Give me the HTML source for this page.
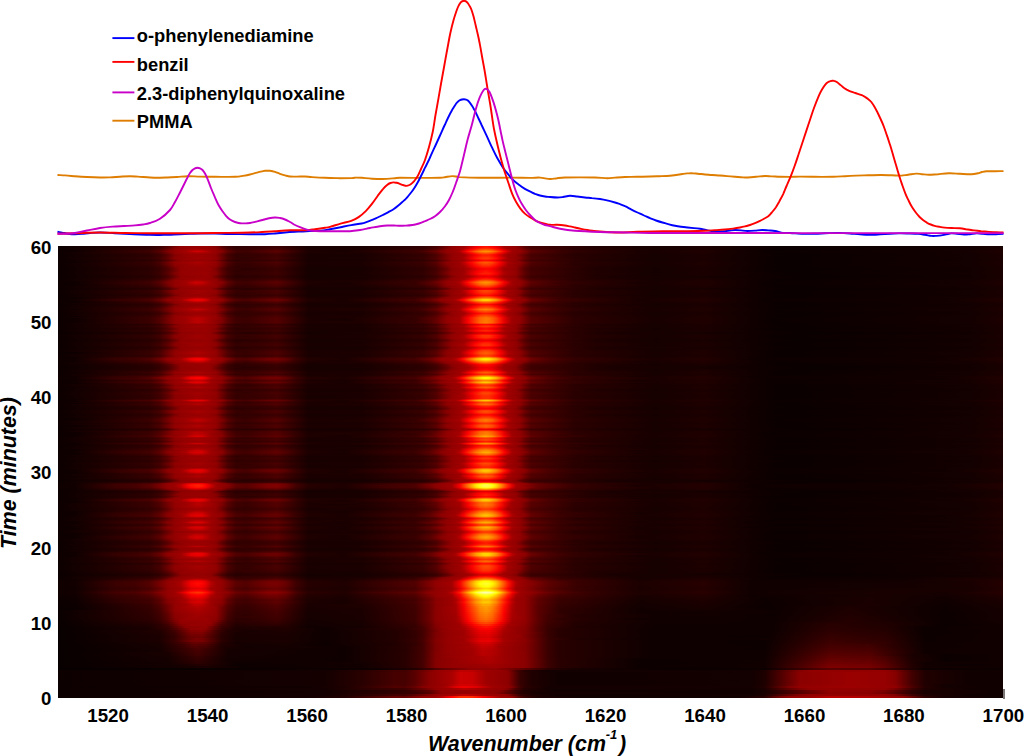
<!DOCTYPE html>
<html><head><meta charset="utf-8"><title>chart</title>
<style>
html,body{margin:0;padding:0;background:#fff;overflow:hidden}
#pg{width:1024px;height:756px;position:relative;overflow:hidden;font-family:"Liberation Sans",sans-serif;font-weight:bold;color:#000}
#hm{position:absolute;left:58px;top:246px;width:945px;height:452px;background:#1a0000;overflow:hidden}
#hi{position:absolute;left:0;top:-4px;width:945px;height:460px}
#hm i{position:absolute;left:0;width:945px;display:block}
.t{position:absolute;font-size:18.7px;line-height:18px;white-space:nowrap}
.yt{width:40px;text-align:right;left:11.5px}
.xt{width:60px;text-align:center}
.lg{position:absolute;left:136.8px;font-size:18.3px;line-height:20px;white-space:nowrap}
.ax{position:absolute;font-style:italic;font-size:21.4px;line-height:24px;white-space:nowrap}
svg{position:absolute;left:0;top:0}
</style></head><body><div id="pg">
<div id="hm"><div id="hi">
<i style="top:0px;height:5px;background:linear-gradient(90deg,#0c0000 0.00%,#2c0000 9.74%,#3a0000 10.79%,#550000 11.64%,#930000 13.02%,#990000 15.66%,#860000 16.72%,#5b0000 17.35%,#3e0000 17.99%,#2f0000 18.84%,#330000 21.16%,#3c0000 23.17%,#170000 26.46%,#180000 32.17%,#300000 38.62%,#450000 40.00%,#720000 41.16%,#8e0000 41.69%,#9e0000 42.96%,#ef0000 44.23%,#ff0500 44.66%,#ff1400 45.29%,#ff0300 45.93%,#cc0000 46.77%,#a70000 47.20%,#920000 48.47%,#590000 49.42%,#430000 50.05%,#200000 56.83%,#150000 63.17%,#1b0000 68.36%,#0a0000 76.40%,#120000 96.51%,#1a0000 100.00%)"></i>
<i style="top:5px;height:1px;background:linear-gradient(90deg,#0c0000 0.00%,#2d0000 9.74%,#3b0000 10.79%,#570000 11.64%,#800000 12.38%,#940000 13.02%,#990000 15.66%,#890000 16.72%,#5d0000 17.35%,#400000 17.99%,#300000 18.84%,#340000 21.16%,#3d0000 23.17%,#170000 26.46%,#180000 32.17%,#310000 38.62%,#470000 40.00%,#750000 41.16%,#900000 41.69%,#9f0000 42.96%,#f50000 44.23%,#ff1a00 45.29%,#ff0900 45.93%,#f10000 46.35%,#aa0000 47.20%,#970000 48.04%,#930000 48.47%,#5b0000 49.42%,#450000 50.05%,#200000 56.83%,#150000 63.17%,#1b0000 68.36%,#0a0000 77.46%,#120000 96.51%,#1a0000 100.00%)"></i>
<i style="top:6px;height:1px;background:linear-gradient(90deg,#0c0000 0.00%,#300000 9.74%,#400000 10.79%,#5f0000 11.64%,#890000 12.38%,#9e0000 14.50%,#8e0000 16.72%,#450000 17.99%,#330000 18.84%,#370000 21.16%,#430000 23.17%,#180000 26.46%,#1a0000 32.17%,#270000 35.66%,#340000 38.62%,#4d0000 40.00%,#930000 41.69%,#a60000 42.96%,#e80000 43.81%,#ff0900 44.23%,#ff2c00 44.97%,#ff2b00 45.61%,#ff0400 46.35%,#b80000 47.20%,#9e0000 47.62%,#940000 48.47%,#840000 48.89%,#620000 49.42%,#490000 50.05%,#280000 54.71%,#160000 63.17%,#1c0000 68.36%,#0a0000 76.40%,#130000 96.51%,#1b0000 100.00%)"></i>
<i style="top:7px;height:1px;background:linear-gradient(90deg,#0d0000 0.00%,#1c0000 3.92%,#350000 9.74%,#490000 10.79%,#920000 12.38%,#a90000 14.81%,#930000 16.72%,#4f0000 17.99%,#390000 18.84%,#350000 19.89%,#4c0000 23.17%,#1a0000 26.46%,#1b0000 32.17%,#2b0000 35.66%,#3a0000 38.62%,#570000 40.00%,#8b0000 41.16%,#9e0000 42.54%,#ff0500 43.81%,#ff4300 44.66%,#ff5500 45.29%,#ff4000 45.93%,#fc0000 46.77%,#aa0000 47.62%,#8e0000 48.89%,#510000 50.05%,#2a0000 54.71%,#170000 63.17%,#1d0000 68.36%,#0a0000 76.40%,#140000 96.51%,#1c0000 100.00%)"></i>
<i style="top:8px;height:1px;background:linear-gradient(90deg,#0d0000 0.00%,#0f0000 1.80%,#3a0000 9.74%,#510000 10.79%,#940000 12.38%,#9f0000 13.54%,#bb0000 14.50%,#b60000 15.24%,#9b0000 16.19%,#950000 16.72%,#800000 17.35%,#580000 17.99%,#3f0000 18.84%,#3a0000 19.89%,#550000 23.17%,#1c0000 26.46%,#170000 30.37%,#2f0000 35.66%,#3f0000 38.62%,#610000 40.00%,#920000 41.16%,#a60000 42.54%,#fc0000 43.39%,#ff6500 44.66%,#ff7900 45.29%,#ff6200 45.93%,#ff1800 46.77%,#e80000 47.20%,#9e0000 48.04%,#930000 48.89%,#580000 50.05%,#2c0000 54.71%,#180000 63.17%,#1f0000 68.36%,#0b0000 75.56%,#140000 96.51%,#1d0000 100.00%)"></i>
<i style="top:9px;height:1px;background:linear-gradient(90deg,#0e0000 0.00%,#0f0000 1.80%,#3f0000 9.74%,#580000 10.79%,#820000 11.64%,#a50000 13.54%,#cd0000 14.50%,#c80000 15.24%,#9d0000 16.19%,#890000 17.35%,#600000 17.99%,#440000 18.84%,#3e0000 19.89%,#5c0000 23.17%,#1e0000 26.46%,#180000 30.37%,#330000 35.66%,#380000 37.78%,#690000 40.00%,#880000 40.63%,#9d0000 42.12%,#b10000 42.54%,#e30000 42.96%,#ff1100 43.39%,#ff6200 44.23%,#ff9100 44.97%,#ff9000 45.61%,#ff5b00 46.35%,#fa0000 47.20%,#a10000 48.04%,#940000 48.89%,#820000 49.42%,#5e0000 50.05%,#380000 53.12%,#170000 61.59%,#200000 68.36%,#0c0000 74.81%,#110000 93.86%,#1e0000 100.00%)"></i>
<i style="top:10px;height:1px;background:linear-gradient(90deg,#0d0000 0.00%,#1e0000 3.92%,#3a0000 9.74%,#500000 10.79%,#940000 12.38%,#9e0000 13.54%,#b80000 14.81%,#950000 16.72%,#7e0000 17.35%,#570000 17.99%,#3e0000 18.84%,#390000 19.89%,#530000 23.17%,#1c0000 26.46%,#1d0000 32.17%,#2f0000 35.66%,#3e0000 38.62%,#5f0000 40.00%,#920000 41.16%,#a30000 42.54%,#f80000 43.39%,#ff6000 44.66%,#ff7300 45.29%,#ff5c00 45.93%,#ff1300 46.77%,#e50000 47.20%,#b90000 47.62%,#9d0000 48.04%,#930000 48.89%,#570000 50.05%,#2c0000 54.71%,#180000 63.17%,#1e0000 68.36%,#0b0000 76.40%,#140000 96.51%,#1d0000 100.00%)"></i>
<i style="top:11px;height:1px;background:linear-gradient(90deg,#0d0000 0.00%,#1c0000 3.92%,#340000 9.74%,#470000 10.79%,#910000 12.38%,#a60000 14.81%,#930000 16.72%,#4e0000 17.99%,#380000 18.84%,#340000 19.89%,#4a0000 23.17%,#1a0000 26.46%,#1b0000 32.17%,#2b0000 35.66%,#390000 38.62%,#560000 40.00%,#8a0000 41.16%,#9e0000 42.54%,#b80000 42.96%,#ff0100 43.81%,#ff3e00 44.66%,#ff5000 45.29%,#ff3b00 45.93%,#f80000 46.77%,#a70000 47.62%,#8d0000 48.89%,#500000 50.05%,#2a0000 54.71%,#170000 63.17%,#1d0000 68.36%,#0a0000 76.40%,#130000 96.51%,#1c0000 100.00%)"></i>
<i style="top:12px;height:1px;background:linear-gradient(90deg,#0c0000 0.00%,#2f0000 9.74%,#3f0000 10.79%,#5e0000 11.64%,#880000 12.38%,#9c0000 14.07%,#960000 16.19%,#8d0000 16.72%,#440000 17.99%,#330000 18.84%,#370000 21.16%,#420000 23.17%,#180000 26.46%,#190000 32.17%,#330000 38.62%,#4c0000 40.00%,#930000 41.69%,#a40000 42.96%,#e50000 43.81%,#ff0500 44.23%,#ff2800 44.97%,#ff2700 45.61%,#ff0100 46.35%,#b50000 47.20%,#9e0000 47.62%,#940000 48.47%,#490000 50.05%,#280000 54.71%,#160000 63.17%,#1c0000 68.36%,#0a0000 76.40%,#130000 96.51%,#1b0000 100.00%)"></i>
<i style="top:13px;height:1px;background:linear-gradient(90deg,#0c0000 0.00%,#2e0000 9.74%,#3d0000 10.79%,#5b0000 11.64%,#840000 12.38%,#980000 13.54%,#9a0000 15.66%,#8b0000 16.72%,#420000 17.99%,#310000 18.84%,#350000 21.16%,#400000 23.17%,#180000 26.46%,#190000 32.17%,#320000 38.62%,#4a0000 40.00%,#920000 41.69%,#a00000 42.96%,#fd0000 44.23%,#ff2000 44.97%,#ff1f00 45.61%,#f90000 46.35%,#af0000 47.20%,#9d0000 47.62%,#930000 48.47%,#5e0000 49.42%,#470000 50.05%,#270000 54.71%,#160000 63.17%,#1b0000 68.36%,#0a0000 77.46%,#130000 96.51%,#1a0000 100.00%)"></i>
<i style="top:14px;height:1px;background:linear-gradient(90deg,#0c0000 0.00%,#2f0000 9.74%,#3f0000 10.79%,#5e0000 11.64%,#880000 12.38%,#9c0000 14.07%,#960000 16.19%,#8e0000 16.72%,#450000 17.99%,#330000 18.84%,#370000 21.16%,#420000 23.17%,#180000 26.46%,#190000 32.17%,#340000 38.62%,#4c0000 40.00%,#930000 41.69%,#a50000 42.96%,#e60000 43.81%,#ff0700 44.23%,#ff2900 44.97%,#ff2900 45.61%,#ff0200 46.35%,#b60000 47.20%,#9e0000 47.62%,#940000 48.47%,#490000 50.05%,#280000 54.71%,#160000 63.17%,#1c0000 68.36%,#0a0000 76.40%,#130000 96.51%,#1b0000 100.00%)"></i>
<i style="top:15px;height:1px;background:linear-gradient(90deg,#0c0000 0.00%,#310000 9.74%,#420000 10.79%,#620000 11.64%,#8b0000 12.38%,#9f0000 14.81%,#900000 16.72%,#470000 17.99%,#340000 18.84%,#300000 19.89%,#440000 23.17%,#190000 26.46%,#1a0000 32.17%,#350000 38.62%,#4f0000 40.00%,#930000 41.69%,#9c0000 42.54%,#aa0000 42.96%,#ee0000 43.81%,#ff0f00 44.23%,#ff3300 44.97%,#ff3300 45.61%,#ff0a00 46.35%,#e60000 46.77%,#9f0000 47.62%,#880000 48.89%,#640000 49.42%,#4b0000 50.05%,#290000 54.71%,#160000 63.17%,#1c0000 68.36%,#0a0000 76.40%,#130000 96.51%,#1b0000 100.00%)"></i>
<i style="top:16px;height:1px;background:linear-gradient(90deg,#0d0000 0.00%,#320000 9.74%,#430000 10.79%,#640000 11.64%,#8d0000 12.38%,#a00000 14.81%,#920000 16.72%,#490000 17.99%,#350000 18.84%,#310000 19.89%,#460000 23.17%,#190000 26.46%,#1a0000 32.17%,#360000 38.62%,#510000 40.00%,#940000 41.69%,#9c0000 42.54%,#ad0000 42.96%,#f30000 43.81%,#ff2d00 44.66%,#ff3e00 45.29%,#ff2b00 45.93%,#ff1000 46.35%,#eb0000 46.77%,#a00000 47.62%,#890000 48.89%,#660000 49.42%,#4c0000 50.05%,#290000 54.71%,#160000 63.17%,#1c0000 68.36%,#0a0000 76.40%,#130000 96.51%,#1b0000 100.00%)"></i>
<i style="top:17px;height:1px;background:linear-gradient(90deg,#0c0000 0.00%,#2f0000 9.74%,#3e0000 10.79%,#5c0000 11.64%,#860000 12.38%,#990000 13.54%,#960000 16.19%,#8c0000 16.72%,#430000 17.99%,#320000 18.84%,#360000 21.16%,#400000 23.17%,#180000 26.46%,#190000 32.17%,#260000 35.66%,#330000 38.62%,#4b0000 40.00%,#930000 41.69%,#a20000 42.96%,#ff0100 44.23%,#ff2300 44.97%,#ff2300 45.61%,#fb0000 46.35%,#b10000 47.20%,#9e0000 47.62%,#930000 48.47%,#5f0000 49.42%,#470000 50.05%,#210000 56.83%,#160000 63.17%,#1c0000 68.36%,#0a0000 76.40%,#130000 96.51%,#1a0000 100.00%)"></i>
<i style="top:18px;height:1px;background:linear-gradient(90deg,#0c0000 0.00%,#2b0000 9.74%,#390000 10.79%,#540000 11.64%,#930000 13.02%,#990000 15.66%,#840000 16.72%,#5a0000 17.35%,#3d0000 17.99%,#2e0000 18.84%,#320000 21.16%,#3b0000 23.17%,#170000 26.46%,#180000 32.17%,#2f0000 38.62%,#440000 40.00%,#700000 41.16%,#8d0000 41.69%,#9e0000 42.96%,#d00000 43.81%,#ff0200 44.66%,#ff1000 45.29%,#ff0000 45.93%,#c90000 46.77%,#a50000 47.20%,#920000 48.47%,#580000 49.42%,#430000 50.05%,#200000 56.83%,#150000 63.17%,#1b0000 68.36%,#0a0000 76.40%,#120000 96.51%,#1a0000 100.00%)"></i>
<i style="top:19px;height:1px;background:linear-gradient(90deg,#0c0000 0.00%,#310000 9.74%,#420000 10.79%,#620000 11.64%,#8b0000 12.38%,#9f0000 14.81%,#910000 16.72%,#470000 17.99%,#340000 18.84%,#390000 21.16%,#450000 23.17%,#190000 26.46%,#1a0000 32.17%,#350000 38.62%,#4f0000 40.00%,#930000 41.69%,#9c0000 42.54%,#aa0000 42.96%,#ee0000 43.81%,#ff1000 44.23%,#ff3400 44.97%,#ff3300 45.61%,#ff0b00 46.35%,#e70000 46.77%,#9f0000 47.62%,#880000 48.89%,#640000 49.42%,#4b0000 50.05%,#290000 54.71%,#160000 63.17%,#1c0000 68.36%,#0a0000 76.40%,#130000 96.51%,#1b0000 100.00%)"></i>
<i style="top:20px;height:1px;background:linear-gradient(90deg,#0d0000 0.00%,#0e0000 1.80%,#360000 9.74%,#4a0000 10.79%,#920000 12.38%,#ab0000 14.81%,#940000 16.72%,#500000 17.99%,#3a0000 18.84%,#350000 19.89%,#4d0000 23.17%,#1a0000 26.46%,#1c0000 32.17%,#2c0000 35.66%,#3a0000 38.62%,#590000 40.00%,#8d0000 41.16%,#9f0000 42.54%,#e80000 43.39%,#ff0a00 43.81%,#ff4900 44.66%,#ff5b00 45.29%,#ff4600 45.93%,#ff0100 46.77%,#ac0000 47.62%,#960000 48.47%,#900000 48.89%,#520000 50.05%,#2b0000 54.71%,#170000 63.17%,#1e0000 68.36%,#0a0000 76.40%,#140000 96.51%,#1c0000 100.00%)"></i>
<i style="top:21px;height:1px;background:linear-gradient(90deg,#0d0000 0.00%,#1c0000 3.92%,#340000 9.74%,#470000 10.79%,#910000 12.38%,#a60000 14.81%,#930000 16.72%,#4d0000 17.99%,#380000 18.84%,#340000 19.89%,#4a0000 23.17%,#1a0000 26.46%,#1b0000 32.17%,#2b0000 35.66%,#390000 38.62%,#550000 40.00%,#8a0000 41.16%,#9e0000 42.54%,#b70000 42.96%,#ff0100 43.81%,#ff3d00 44.66%,#ff4f00 45.29%,#ff3a00 45.93%,#f80000 46.77%,#a70000 47.62%,#8d0000 48.89%,#500000 50.05%,#2a0000 54.71%,#170000 63.17%,#1d0000 68.36%,#0a0000 76.40%,#130000 96.51%,#1c0000 100.00%)"></i>
<i style="top:22px;height:1px;background:linear-gradient(90deg,#0d0000 0.00%,#1b0000 3.92%,#330000 9.74%,#440000 10.79%,#8e0000 12.38%,#a10000 14.81%,#920000 16.72%,#4a0000 17.99%,#360000 18.84%,#320000 19.89%,#470000 23.17%,#190000 26.46%,#1b0000 32.17%,#2a0000 35.66%,#370000 38.62%,#520000 40.00%,#870000 41.16%,#9d0000 42.54%,#b00000 42.96%,#f70000 43.81%,#ff3e00 44.97%,#ff3e00 45.61%,#ff1400 46.35%,#ef0000 46.77%,#a20000 47.62%,#8a0000 48.89%,#680000 49.42%,#4d0000 50.05%,#290000 54.71%,#160000 63.17%,#1d0000 68.36%,#0a0000 76.40%,#130000 96.51%,#1b0000 100.00%)"></i>
<i style="top:23px;height:1px;background:linear-gradient(90deg,#0c0000 0.00%,#310000 9.74%,#410000 10.79%,#610000 11.64%,#8b0000 12.38%,#9f0000 14.81%,#900000 16.72%,#470000 17.99%,#340000 18.84%,#300000 19.89%,#440000 23.17%,#190000 26.46%,#1a0000 32.17%,#350000 38.62%,#4f0000 40.00%,#930000 41.69%,#9c0000 42.54%,#aa0000 42.96%,#ed0000 43.81%,#ff0e00 44.23%,#ff3200 44.97%,#ff3200 45.61%,#ff0900 46.35%,#e60000 46.77%,#9f0000 47.62%,#870000 48.89%,#640000 49.42%,#4b0000 50.05%,#290000 54.71%,#160000 63.17%,#1c0000 68.36%,#0a0000 76.40%,#130000 96.51%,#1b0000 100.00%)"></i>
<i style="top:24px;height:1px;background:linear-gradient(90deg,#0c0000 0.00%,#2e0000 9.74%,#3e0000 10.79%,#5c0000 11.64%,#850000 12.38%,#980000 13.54%,#9a0000 15.66%,#8c0000 16.72%,#430000 17.99%,#320000 18.84%,#360000 21.16%,#400000 23.17%,#180000 26.46%,#190000 32.17%,#260000 35.66%,#330000 38.62%,#4a0000 40.00%,#920000 41.69%,#a20000 42.96%,#ff0100 44.23%,#ff2200 44.97%,#ff2200 45.61%,#fb0000 46.35%,#b10000 47.20%,#9e0000 47.62%,#930000 48.47%,#5f0000 49.42%,#470000 50.05%,#210000 56.83%,#160000 63.17%,#1c0000 68.36%,#0a0000 76.40%,#130000 96.51%,#1a0000 100.00%)"></i>
<i style="top:25px;height:1px;background:linear-gradient(90deg,#0c0000 0.00%,#2c0000 9.74%,#3a0000 10.79%,#560000 11.64%,#7e0000 12.38%,#940000 13.02%,#990000 15.66%,#880000 16.72%,#5c0000 17.35%,#3f0000 17.99%,#2f0000 18.84%,#330000 21.16%,#3d0000 23.17%,#170000 26.46%,#180000 32.17%,#300000 38.62%,#460000 40.00%,#730000 41.16%,#8f0000 41.69%,#9f0000 42.96%,#f20000 44.23%,#ff1300 44.97%,#ff1300 45.61%,#ff0600 45.93%,#ee0000 46.35%,#a80000 47.20%,#920000 48.47%,#5a0000 49.42%,#440000 50.05%,#200000 56.83%,#150000 63.17%,#1b0000 68.36%,#0a0000 76.40%,#120000 96.51%,#1a0000 100.00%)"></i>
<i style="top:26px;height:1px;background:linear-gradient(90deg,#0c0000 0.00%,#2a0000 9.74%,#370000 10.79%,#510000 11.64%,#930000 13.02%,#980000 15.66%,#940000 16.19%,#7f0000 16.72%,#560000 17.35%,#3b0000 17.99%,#290000 19.89%,#390000 23.17%,#160000 26.46%,#170000 32.17%,#2e0000 38.62%,#420000 40.00%,#6c0000 41.16%,#8b0000 41.69%,#9d0000 42.96%,#ac0000 43.39%,#f80000 44.66%,#ff0300 45.61%,#e00000 46.35%,#a00000 47.20%,#8f0000 48.47%,#550000 49.42%,#410000 50.05%,#1f0000 56.83%,#150000 63.17%,#1a0000 68.36%,#090000 77.46%,#120000 96.51%,#190000 100.00%)"></i>
<i style="top:27px;height:1px;background:linear-gradient(90deg,#0c0000 0.00%,#2a0000 9.74%,#370000 10.79%,#510000 11.64%,#930000 13.02%,#980000 15.66%,#940000 16.19%,#7f0000 16.72%,#560000 17.35%,#3b0000 17.99%,#290000 19.89%,#390000 23.17%,#160000 26.46%,#170000 32.17%,#2e0000 38.62%,#420000 40.00%,#6c0000 41.16%,#8b0000 41.69%,#9d0000 42.96%,#ac0000 43.39%,#f80000 44.66%,#ff0300 45.61%,#e00000 46.35%,#a00000 47.20%,#8f0000 48.47%,#550000 49.42%,#410000 50.05%,#1f0000 56.83%,#150000 63.17%,#1a0000 68.36%,#090000 77.46%,#120000 96.51%,#190000 100.00%)"></i>
<i style="top:28px;height:1px;background:linear-gradient(90deg,#0c0000 0.00%,#2b0000 9.74%,#390000 10.79%,#530000 11.64%,#930000 13.02%,#980000 15.66%,#940000 16.19%,#830000 16.72%,#590000 17.35%,#3d0000 17.99%,#2e0000 18.84%,#320000 21.16%,#3b0000 23.17%,#170000 26.46%,#180000 32.17%,#2f0000 38.62%,#440000 40.00%,#700000 41.16%,#8d0000 41.69%,#9e0000 42.96%,#ce0000 43.81%,#ff0000 44.66%,#ff0e00 45.29%,#fd0000 45.93%,#c70000 46.77%,#a30000 47.20%,#910000 48.47%,#570000 49.42%,#420000 50.05%,#200000 56.83%,#150000 63.17%,#1b0000 68.36%,#090000 76.40%,#120000 96.51%,#1a0000 100.00%)"></i>
<i style="top:29px;height:1px;background:linear-gradient(90deg,#0c0000 0.00%,#2c0000 9.74%,#3a0000 10.79%,#560000 11.64%,#940000 13.02%,#990000 15.66%,#870000 16.72%,#5b0000 17.35%,#3e0000 17.99%,#2f0000 18.84%,#330000 21.16%,#3c0000 23.17%,#170000 26.46%,#180000 32.17%,#300000 38.62%,#460000 40.00%,#730000 41.16%,#8f0000 41.69%,#9e0000 42.96%,#f00000 44.23%,#ff0700 44.66%,#ff1500 45.29%,#ff0400 45.93%,#cd0000 46.77%,#a70000 47.20%,#920000 48.47%,#590000 49.42%,#440000 50.05%,#200000 56.83%,#150000 63.17%,#1b0000 68.36%,#0a0000 76.40%,#120000 96.51%,#1a0000 100.00%)"></i>
<i style="top:30px;height:1px;background:linear-gradient(90deg,#0c0000 0.00%,#2d0000 9.74%,#3b0000 10.79%,#580000 11.64%,#800000 12.38%,#940000 13.02%,#9a0000 15.66%,#890000 16.72%,#5e0000 17.35%,#400000 17.99%,#300000 18.84%,#340000 21.16%,#3e0000 23.17%,#170000 26.46%,#190000 32.17%,#310000 38.62%,#470000 40.00%,#910000 41.69%,#9f0000 42.96%,#f60000 44.23%,#ff1c00 45.29%,#ff0b00 45.93%,#f20000 46.35%,#ab0000 47.20%,#930000 48.47%,#5b0000 49.42%,#450000 50.05%,#200000 56.83%,#150000 63.17%,#1b0000 68.36%,#0a0000 77.46%,#120000 96.51%,#1a0000 100.00%)"></i>
<i style="top:31px;height:1px;background:linear-gradient(90deg,#0c0000 0.00%,#2e0000 9.74%,#3d0000 10.79%,#5a0000 11.64%,#840000 12.38%,#980000 13.54%,#9a0000 15.66%,#8b0000 16.72%,#600000 17.35%,#420000 17.99%,#310000 18.84%,#350000 21.16%,#3f0000 23.17%,#180000 26.46%,#190000 32.17%,#320000 38.62%,#490000 40.00%,#920000 41.69%,#a00000 42.96%,#fc0000 44.23%,#ff1f00 44.97%,#ff1e00 45.61%,#f80000 46.35%,#af0000 47.20%,#9d0000 47.62%,#930000 48.47%,#5e0000 49.42%,#470000 50.05%,#270000 54.71%,#160000 63.17%,#1b0000 68.36%,#0a0000 77.46%,#130000 96.51%,#1a0000 100.00%)"></i>
<i style="top:32px;height:1px;background:linear-gradient(90deg,#0c0000 0.00%,#2c0000 9.74%,#3a0000 10.79%,#560000 11.64%,#7e0000 12.38%,#940000 13.02%,#990000 15.66%,#880000 16.72%,#5c0000 17.35%,#3f0000 17.99%,#2f0000 18.84%,#330000 21.16%,#3d0000 23.17%,#170000 26.46%,#180000 32.17%,#300000 38.62%,#460000 40.00%,#740000 41.16%,#8f0000 41.69%,#9f0000 42.96%,#f30000 44.23%,#ff1400 44.97%,#ff1300 45.61%,#ff0600 45.93%,#ee0000 46.35%,#a90000 47.20%,#930000 48.47%,#5a0000 49.42%,#440000 50.05%,#200000 56.83%,#150000 63.17%,#1b0000 68.36%,#0a0000 77.46%,#120000 96.51%,#1a0000 100.00%)"></i>
<i style="top:33px;height:1px;background:linear-gradient(90deg,#0c0000 0.00%,#290000 9.74%,#370000 10.79%,#500000 11.64%,#930000 13.02%,#980000 15.66%,#930000 16.19%,#7e0000 16.72%,#550000 17.35%,#3b0000 17.99%,#2c0000 18.84%,#300000 21.16%,#390000 23.17%,#160000 26.46%,#170000 32.17%,#2d0000 38.62%,#410000 40.00%,#6b0000 41.16%,#8a0000 41.69%,#aa0000 43.39%,#f60000 44.66%,#ff0000 45.61%,#de0000 46.35%,#9f0000 47.20%,#8e0000 48.47%,#540000 49.42%,#400000 50.05%,#1f0000 56.83%,#150000 63.17%,#1a0000 68.36%,#090000 77.46%,#120000 96.51%,#190000 100.00%)"></i>
<i style="top:34px;height:1px;background:linear-gradient(90deg,#0b0000 0.00%,#270000 9.74%,#330000 10.79%,#490000 11.64%,#8e0000 13.02%,#960000 15.66%,#920000 16.19%,#4e0000 17.35%,#370000 17.99%,#290000 18.84%,#2d0000 21.16%,#350000 23.17%,#150000 26.46%,#1c0000 33.54%,#2a0000 38.62%,#3c0000 40.00%,#630000 41.16%,#930000 42.12%,#a00000 43.39%,#e40000 44.66%,#ed0000 45.61%,#ce0000 46.35%,#ae0000 46.77%,#9d0000 47.20%,#880000 48.47%,#670000 48.89%,#3c0000 50.05%,#1a0000 58.41%,#170000 64.55%,#150000 69.63%,#090000 79.79%,#110000 96.51%,#190000 100.00%)"></i>
<i style="top:35px;height:1px;background:linear-gradient(90deg,#0c0000 0.00%,#290000 9.74%,#360000 10.79%,#4f0000 11.64%,#920000 13.02%,#970000 15.66%,#930000 16.19%,#3a0000 17.99%,#2c0000 18.84%,#2f0000 21.16%,#380000 23.17%,#160000 26.46%,#170000 32.17%,#2d0000 38.62%,#400000 40.00%,#6a0000 41.16%,#890000 41.69%,#a90000 43.39%,#f30000 44.66%,#ff0100 45.29%,#f10000 45.93%,#9f0000 47.20%,#8d0000 48.47%,#530000 49.42%,#3f0000 50.05%,#1b0000 58.41%,#180000 64.55%,#150000 69.63%,#0a0000 79.79%,#120000 96.51%,#190000 100.00%)"></i>
<i style="top:36px;height:1px;background:linear-gradient(90deg,#0c0000 0.00%,#2d0000 9.74%,#3b0000 10.79%,#570000 11.64%,#7f0000 12.38%,#940000 13.02%,#990000 15.66%,#890000 16.72%,#5d0000 17.35%,#400000 17.99%,#300000 18.84%,#340000 21.16%,#3d0000 23.17%,#170000 26.46%,#180000 32.17%,#310000 38.62%,#470000 40.00%,#750000 41.16%,#900000 41.69%,#9f0000 42.96%,#f50000 44.23%,#ff1a00 45.29%,#ff0900 45.93%,#f00000 46.35%,#aa0000 47.20%,#970000 48.04%,#930000 48.47%,#5b0000 49.42%,#450000 50.05%,#200000 56.83%,#150000 63.17%,#1b0000 68.36%,#0a0000 77.46%,#120000 96.51%,#1a0000 100.00%)"></i>
<i style="top:37px;height:1px;background:linear-gradient(90deg,#0c0000 0.00%,#300000 9.74%,#400000 10.79%,#600000 11.64%,#8a0000 12.38%,#9e0000 14.81%,#8f0000 16.72%,#460000 17.99%,#340000 18.84%,#380000 21.16%,#430000 23.17%,#180000 26.46%,#1a0000 32.17%,#340000 38.62%,#4e0000 40.00%,#930000 41.69%,#a80000 42.96%,#ea0000 43.81%,#ff0b00 44.23%,#ff2e00 44.97%,#ff2e00 45.61%,#ff0600 46.35%,#e30000 46.77%,#ba0000 47.20%,#9f0000 47.62%,#940000 48.47%,#850000 48.89%,#630000 49.42%,#4a0000 50.05%,#280000 54.71%,#160000 63.17%,#1c0000 68.36%,#0a0000 76.40%,#130000 96.51%,#1b0000 100.00%)"></i>
<i style="top:38px;height:1px;background:linear-gradient(90deg,#0d0000 0.00%,#1c0000 3.92%,#360000 9.74%,#4a0000 10.79%,#920000 12.38%,#ab0000 14.81%,#930000 16.72%,#500000 17.99%,#3a0000 18.84%,#350000 19.89%,#4d0000 23.17%,#1a0000 26.46%,#1c0000 32.17%,#2c0000 35.66%,#3a0000 38.62%,#580000 40.00%,#8c0000 41.16%,#9e0000 42.54%,#e70000 43.39%,#ff0800 43.81%,#ff4700 44.66%,#ff5900 45.29%,#ff4400 45.93%,#ff0000 46.77%,#ab0000 47.62%,#8f0000 48.89%,#520000 50.05%,#2b0000 54.71%,#170000 63.17%,#1e0000 68.36%,#0a0000 76.40%,#140000 96.51%,#1c0000 100.00%)"></i>
<i style="top:39px;height:1px;background:linear-gradient(90deg,#0d0000 0.00%,#0f0000 1.80%,#3b0000 9.74%,#530000 10.79%,#940000 12.38%,#9f0000 13.54%,#be0000 14.50%,#ba0000 15.24%,#9b0000 16.19%,#820000 17.35%,#5a0000 17.99%,#400000 18.84%,#3b0000 19.89%,#560000 23.17%,#1c0000 26.46%,#1e0000 32.17%,#300000 35.66%,#350000 37.78%,#500000 39.37%,#930000 41.16%,#a80000 42.54%,#ff0100 43.39%,#ff6b00 44.66%,#ff7f00 45.29%,#ff6800 45.93%,#ff1c00 46.77%,#ec0000 47.20%,#9e0000 48.04%,#930000 48.89%,#590000 50.05%,#2d0000 54.71%,#180000 63.17%,#1f0000 68.36%,#0b0000 75.56%,#140000 96.51%,#1d0000 100.00%)"></i>
<i style="top:40px;height:1px;background:linear-gradient(90deg,#0e0000 0.00%,#0f0000 1.80%,#3f0000 9.74%,#580000 10.79%,#820000 11.64%,#a40000 13.54%,#cc0000 14.50%,#c70000 15.24%,#9d0000 16.19%,#890000 17.35%,#5f0000 17.99%,#440000 18.84%,#3e0000 19.89%,#5b0000 23.17%,#1e0000 26.46%,#180000 30.37%,#320000 35.66%,#380000 37.78%,#550000 39.37%,#940000 41.16%,#9d0000 42.12%,#b10000 42.54%,#e20000 42.96%,#ff1000 43.39%,#ff6100 44.23%,#ff9000 44.97%,#ff8f00 45.61%,#ff5a00 46.35%,#fa0000 47.20%,#a00000 48.04%,#940000 48.89%,#820000 49.42%,#5e0000 50.05%,#380000 53.12%,#170000 61.59%,#200000 68.36%,#0c0000 74.81%,#110000 93.86%,#1e0000 100.00%)"></i>
<i style="top:41px;height:1px;background:linear-gradient(90deg,#0d0000 0.00%,#0f0000 1.80%,#2c0000 6.03%,#3c0000 9.74%,#540000 10.79%,#7d0000 11.64%,#940000 12.38%,#a00000 13.54%,#c30000 14.50%,#be0000 15.24%,#9c0000 16.19%,#850000 17.35%,#5c0000 17.99%,#410000 18.84%,#3c0000 19.89%,#580000 23.17%,#1d0000 26.46%,#180000 30.37%,#310000 35.66%,#360000 37.78%,#640000 40.00%,#930000 41.16%,#9c0000 42.12%,#ab0000 42.54%,#ff0600 43.39%,#ff7200 44.66%,#ff8600 45.29%,#ff6e00 45.93%,#ff4e00 46.35%,#ff2100 46.77%,#f10000 47.20%,#9f0000 48.04%,#940000 48.89%,#5b0000 50.05%,#370000 53.12%,#170000 61.59%,#1f0000 68.36%,#0b0000 75.56%,#150000 96.51%,#1e0000 100.00%)"></i>
<i style="top:42px;height:1px;background:linear-gradient(90deg,#0d0000 0.00%,#0f0000 1.80%,#3a0000 9.74%,#510000 10.79%,#940000 12.38%,#9e0000 13.54%,#ba0000 14.50%,#b50000 15.24%,#9b0000 16.19%,#950000 16.72%,#7f0000 17.35%,#580000 17.99%,#3f0000 18.84%,#3a0000 19.89%,#540000 23.17%,#1c0000 26.46%,#170000 30.37%,#2f0000 35.66%,#340000 37.78%,#600000 40.00%,#920000 41.16%,#a50000 42.54%,#fb0000 43.39%,#ff6400 44.66%,#ff7700 45.29%,#ff7200 45.61%,#ff4100 46.35%,#ff1600 46.77%,#e70000 47.20%,#bc0000 47.62%,#9e0000 48.04%,#930000 48.89%,#580000 50.05%,#2c0000 54.71%,#180000 63.17%,#1f0000 68.36%,#0b0000 75.56%,#140000 96.51%,#1d0000 100.00%)"></i>
<i style="top:43px;height:1px;background:linear-gradient(90deg,#0d0000 0.00%,#0e0000 1.80%,#370000 9.74%,#4b0000 10.79%,#930000 12.38%,#ad0000 14.81%,#940000 16.72%,#510000 17.99%,#3a0000 18.84%,#360000 19.89%,#4e0000 23.17%,#1b0000 26.46%,#1c0000 32.17%,#2c0000 35.66%,#3b0000 38.62%,#5a0000 40.00%,#8d0000 41.16%,#9f0000 42.54%,#ea0000 43.39%,#ff0c00 43.81%,#ff4c00 44.66%,#ff5e00 45.29%,#ff4900 45.93%,#ff0400 46.77%,#ae0000 47.62%,#960000 48.47%,#910000 48.89%,#530000 50.05%,#2b0000 54.71%,#170000 63.17%,#1e0000 68.36%,#0a0000 76.40%,#140000 96.51%,#1c0000 100.00%)"></i>
<i style="top:44px;height:1px;background:linear-gradient(90deg,#0d0000 0.00%,#1b0000 3.92%,#330000 9.74%,#450000 10.79%,#8e0000 12.38%,#a10000 14.81%,#930000 16.72%,#4b0000 17.99%,#360000 18.84%,#320000 19.89%,#480000 23.17%,#190000 26.46%,#1b0000 32.17%,#370000 38.62%,#530000 40.00%,#880000 41.16%,#9d0000 42.54%,#b10000 42.96%,#f80000 43.81%,#ff4000 44.97%,#ff3f00 45.61%,#ff1500 46.35%,#f00000 46.77%,#a20000 47.62%,#8b0000 48.89%,#680000 49.42%,#4e0000 50.05%,#290000 54.71%,#160000 63.17%,#1d0000 68.36%,#0a0000 76.40%,#130000 96.51%,#1b0000 100.00%)"></i>
<i style="top:45px;height:1px;background:linear-gradient(90deg,#0c0000 0.00%,#2e0000 9.74%,#3d0000 10.79%,#5b0000 11.64%,#850000 12.38%,#980000 13.54%,#9a0000 15.66%,#8c0000 16.72%,#430000 17.99%,#320000 18.84%,#360000 21.16%,#400000 23.17%,#180000 26.46%,#190000 32.17%,#260000 35.66%,#320000 38.62%,#4a0000 40.00%,#920000 41.69%,#a10000 42.96%,#ff0000 44.23%,#ff2200 44.97%,#ff2100 45.61%,#fa0000 46.35%,#b10000 47.20%,#9e0000 47.62%,#930000 48.47%,#5f0000 49.42%,#470000 50.05%,#210000 56.83%,#160000 63.17%,#1c0000 68.36%,#0a0000 76.40%,#130000 96.51%,#1a0000 100.00%)"></i>
<i style="top:46px;height:1px;background:linear-gradient(90deg,#0c0000 0.00%,#280000 9.74%,#350000 10.79%,#4d0000 11.64%,#910000 13.02%,#970000 15.66%,#930000 16.19%,#520000 17.35%,#390000 17.99%,#2b0000 18.84%,#2e0000 21.16%,#370000 23.17%,#160000 26.46%,#170000 32.17%,#2c0000 38.62%,#3f0000 40.00%,#670000 41.16%,#870000 41.69%,#a50000 43.39%,#ee0000 44.66%,#fb0000 45.29%,#ec0000 45.93%,#9f0000 47.20%,#8c0000 48.47%,#510000 49.42%,#3e0000 50.05%,#1a0000 58.41%,#180000 64.55%,#150000 69.63%,#090000 79.79%,#120000 96.51%,#190000 100.00%)"></i>
<i style="top:47px;height:1px;background:linear-gradient(90deg,#0c0000 0.00%,#2a0000 9.74%,#370000 10.79%,#510000 11.64%,#930000 13.02%,#980000 15.66%,#940000 16.19%,#7f0000 16.72%,#560000 17.35%,#3b0000 17.99%,#290000 19.89%,#390000 23.17%,#160000 26.46%,#170000 32.17%,#2e0000 38.62%,#420000 40.00%,#6c0000 41.16%,#8b0000 41.69%,#9d0000 42.96%,#ac0000 43.39%,#f80000 44.66%,#ff0300 45.61%,#e00000 46.35%,#a00000 47.20%,#8f0000 48.47%,#550000 49.42%,#410000 50.05%,#1f0000 56.83%,#150000 63.17%,#1a0000 68.36%,#090000 77.46%,#120000 96.51%,#190000 100.00%)"></i>
<i style="top:48px;height:1px;background:linear-gradient(90deg,#0d0000 0.00%,#1b0000 3.92%,#330000 9.74%,#450000 10.79%,#8f0000 12.38%,#a30000 14.81%,#930000 16.72%,#4c0000 17.99%,#370000 18.84%,#330000 19.89%,#480000 23.17%,#190000 26.46%,#1b0000 32.17%,#380000 38.62%,#530000 40.00%,#880000 41.16%,#9d0000 42.54%,#b20000 42.96%,#fa0000 43.81%,#ff3700 44.66%,#ff4800 45.29%,#ff3400 45.93%,#ff1800 46.35%,#f20000 46.77%,#a40000 47.62%,#8b0000 48.89%,#690000 49.42%,#4e0000 50.05%,#2a0000 54.71%,#170000 63.17%,#1d0000 68.36%,#0a0000 76.40%,#130000 96.51%,#1b0000 100.00%)"></i>
<i style="top:49px;height:1px;background:linear-gradient(90deg,#0d0000 0.00%,#1b0000 3.92%,#330000 9.74%,#450000 10.79%,#8f0000 12.38%,#a00000 15.24%,#930000 16.72%,#4b0000 17.99%,#370000 18.84%,#3b0000 21.16%,#480000 23.17%,#190000 26.46%,#1b0000 32.17%,#370000 38.62%,#530000 40.00%,#880000 41.16%,#9d0000 42.54%,#b20000 42.96%,#f90000 43.81%,#ff4200 44.97%,#ff4100 45.61%,#ff1700 46.35%,#f10000 46.77%,#a30000 47.62%,#8b0000 48.89%,#690000 49.42%,#4e0000 50.05%,#290000 54.71%,#160000 63.17%,#1d0000 68.36%,#0a0000 76.40%,#130000 96.51%,#1b0000 100.00%)"></i>
<i style="top:50px;height:1px;background:linear-gradient(90deg,#0d0000 0.00%,#320000 9.74%,#430000 10.79%,#8c0000 12.38%,#a00000 14.81%,#920000 16.72%,#490000 17.99%,#350000 18.84%,#310000 19.89%,#460000 23.17%,#190000 26.46%,#1a0000 32.17%,#360000 38.62%,#510000 40.00%,#940000 41.69%,#9c0000 42.54%,#ad0000 42.96%,#f30000 43.81%,#ff2d00 44.66%,#ff3e00 45.29%,#ff2a00 45.93%,#ff1000 46.35%,#eb0000 46.77%,#a00000 47.62%,#890000 48.89%,#660000 49.42%,#4c0000 50.05%,#290000 54.71%,#160000 63.17%,#1c0000 68.36%,#0a0000 76.40%,#130000 96.51%,#1b0000 100.00%)"></i>
<i style="top:51px;height:1px;background:linear-gradient(90deg,#0c0000 0.00%,#300000 9.74%,#400000 10.79%,#5f0000 11.64%,#890000 12.38%,#9e0000 14.50%,#8f0000 16.72%,#460000 17.99%,#330000 18.84%,#380000 21.16%,#430000 23.17%,#180000 26.46%,#1a0000 32.17%,#340000 38.62%,#4d0000 40.00%,#930000 41.69%,#a70000 42.96%,#e90000 43.81%,#ff0a00 44.23%,#ff2d00 44.97%,#ff2d00 45.61%,#ff0500 46.35%,#9f0000 47.62%,#940000 48.47%,#850000 48.89%,#620000 49.42%,#4a0000 50.05%,#280000 54.71%,#160000 63.17%,#1c0000 68.36%,#0a0000 76.40%,#130000 96.51%,#1b0000 100.00%)"></i>
<i style="top:52px;height:1px;background:linear-gradient(90deg,#0c0000 0.00%,#2e0000 9.74%,#3c0000 10.79%,#5a0000 11.64%,#830000 12.38%,#980000 13.54%,#9a0000 15.66%,#8b0000 16.72%,#600000 17.35%,#420000 17.99%,#310000 18.84%,#350000 21.16%,#3f0000 23.17%,#180000 26.46%,#190000 32.17%,#320000 38.62%,#490000 40.00%,#920000 41.69%,#a00000 42.96%,#fb0000 44.23%,#ff1e00 44.97%,#ff1d00 45.61%,#f70000 46.35%,#ae0000 47.20%,#980000 48.04%,#930000 48.47%,#5d0000 49.42%,#460000 50.05%,#270000 54.71%,#160000 63.17%,#1b0000 68.36%,#0a0000 77.46%,#130000 96.51%,#1a0000 100.00%)"></i>
<i style="top:53px;height:1px;background:linear-gradient(90deg,#0c0000 0.00%,#2b0000 9.74%,#390000 10.79%,#540000 11.64%,#930000 13.02%,#990000 15.66%,#850000 16.72%,#5a0000 17.35%,#3e0000 17.99%,#2e0000 18.84%,#320000 21.16%,#3b0000 23.17%,#170000 26.46%,#180000 32.17%,#2f0000 38.62%,#450000 40.00%,#710000 41.16%,#8e0000 41.69%,#9e0000 42.96%,#d10000 43.81%,#ff0300 44.66%,#ff1200 45.29%,#ff0100 45.93%,#ca0000 46.77%,#a50000 47.20%,#920000 48.47%,#580000 49.42%,#430000 50.05%,#200000 56.83%,#150000 63.17%,#1b0000 68.36%,#0a0000 76.40%,#120000 96.51%,#1a0000 100.00%)"></i>
<i style="top:54px;height:1px;background:linear-gradient(90deg,#0c0000 0.00%,#310000 9.74%,#410000 10.79%,#610000 11.64%,#8b0000 12.38%,#9f0000 14.81%,#900000 16.72%,#470000 17.99%,#340000 18.84%,#300000 19.89%,#440000 23.17%,#190000 26.46%,#1a0000 32.17%,#350000 38.62%,#4f0000 40.00%,#930000 41.69%,#9c0000 42.54%,#aa0000 42.96%,#ee0000 43.81%,#ff0f00 44.23%,#ff3300 44.97%,#ff3200 45.61%,#ff0a00 46.35%,#e60000 46.77%,#9f0000 47.62%,#870000 48.89%,#640000 49.42%,#4b0000 50.05%,#290000 54.71%,#160000 63.17%,#1c0000 68.36%,#0a0000 76.40%,#130000 96.51%,#1b0000 100.00%)"></i>
<i style="top:55px;height:1px;background:linear-gradient(90deg,#0d0000 0.00%,#0e0000 1.80%,#370000 9.74%,#4c0000 10.79%,#930000 12.38%,#af0000 14.81%,#940000 16.72%,#520000 17.99%,#3b0000 18.84%,#370000 19.89%,#4f0000 23.17%,#1b0000 26.46%,#1c0000 32.17%,#2d0000 35.66%,#3c0000 38.62%,#5b0000 40.00%,#8e0000 41.16%,#9f0000 42.54%,#ed0000 43.39%,#ff0f00 43.81%,#ff4f00 44.66%,#ff6200 45.29%,#ff4c00 45.93%,#ff0700 46.77%,#b00000 47.62%,#9c0000 48.04%,#910000 48.89%,#540000 50.05%,#2b0000 54.71%,#170000 63.17%,#1e0000 68.36%,#0a0000 76.40%,#140000 96.51%,#1c0000 100.00%)"></i>
<i style="top:56px;height:1px;background:linear-gradient(90deg,#0e0000 0.00%,#0f0000 1.80%,#3f0000 9.74%,#580000 10.79%,#820000 11.64%,#a50000 13.54%,#cd0000 14.50%,#c80000 15.24%,#9d0000 16.19%,#890000 17.35%,#600000 17.99%,#440000 18.84%,#3e0000 19.89%,#5c0000 23.17%,#1e0000 26.46%,#180000 30.37%,#330000 35.66%,#380000 37.78%,#690000 40.00%,#880000 40.63%,#9d0000 42.12%,#b10000 42.54%,#e30000 42.96%,#ff1100 43.39%,#ff6200 44.23%,#ff9100 44.97%,#ff9000 45.61%,#ff5b00 46.35%,#fa0000 47.20%,#a10000 48.04%,#940000 48.89%,#820000 49.42%,#5e0000 50.05%,#380000 53.12%,#170000 61.59%,#200000 68.36%,#0c0000 74.81%,#110000 93.86%,#1e0000 100.00%)"></i>
<i style="top:57px;height:1px;background:linear-gradient(90deg,#0e0000 0.00%,#100000 1.80%,#330000 6.03%,#3a0000 8.15%,#4a0000 9.74%,#670000 10.79%,#900000 11.64%,#9f0000 13.02%,#e00000 14.07%,#ed0000 14.81%,#e70000 15.24%,#d30000 15.66%,#a40000 16.19%,#930000 17.35%,#6f0000 17.99%,#500000 18.84%,#490000 19.89%,#6b0000 23.17%,#5a0000 24.13%,#380000 25.19%,#210000 26.46%,#1a0000 30.37%,#390000 35.66%,#400000 37.78%,#620000 39.37%,#920000 40.63%,#9b0000 41.69%,#a80000 42.12%,#ff0600 42.96%,#ff9700 44.23%,#ffce00 44.97%,#ffd400 45.29%,#ffcd00 45.61%,#ff9000 46.35%,#ff2100 47.20%,#ee0000 47.62%,#b80000 48.04%,#9d0000 48.47%,#8f0000 49.42%,#6a0000 50.05%,#3c0000 53.12%,#180000 61.59%,#220000 68.36%,#0d0000 74.81%,#120000 93.86%,#200000 100.00%)"></i>
<i style="top:58px;height:1px;background:linear-gradient(90deg,#0e0000 0.00%,#100000 1.80%,#330000 6.03%,#3a0000 8.15%,#4a0000 9.74%,#670000 10.79%,#900000 11.64%,#9f0000 13.02%,#e00000 14.07%,#ed0000 14.81%,#e70000 15.24%,#d30000 15.66%,#a40000 16.19%,#930000 17.35%,#6f0000 17.99%,#500000 18.84%,#490000 19.89%,#6b0000 23.17%,#5a0000 24.13%,#380000 25.19%,#210000 26.46%,#1a0000 30.37%,#390000 35.66%,#400000 37.78%,#620000 39.37%,#920000 40.63%,#9b0000 41.69%,#a80000 42.12%,#ff0600 42.96%,#ff9700 44.23%,#ffce00 44.97%,#ffd400 45.29%,#ffcd00 45.61%,#ff9000 46.35%,#ff2100 47.20%,#ee0000 47.62%,#b80000 48.04%,#9d0000 48.47%,#8f0000 49.42%,#6a0000 50.05%,#3c0000 53.12%,#180000 61.59%,#220000 68.36%,#0d0000 74.81%,#120000 93.86%,#200000 100.00%)"></i>
<i style="top:59px;height:1px;background:linear-gradient(90deg,#0e0000 0.00%,#0f0000 1.80%,#3f0000 9.74%,#580000 10.79%,#820000 11.64%,#a50000 13.54%,#cd0000 14.50%,#c80000 15.24%,#9d0000 16.19%,#890000 17.35%,#600000 17.99%,#440000 18.84%,#3e0000 19.89%,#5c0000 23.17%,#1e0000 26.46%,#180000 30.37%,#330000 35.66%,#380000 37.78%,#690000 40.00%,#880000 40.63%,#9d0000 42.12%,#b10000 42.54%,#e30000 42.96%,#ff1100 43.39%,#ff6200 44.23%,#ff9100 44.97%,#ff9000 45.61%,#ff5b00 46.35%,#fa0000 47.20%,#a10000 48.04%,#940000 48.89%,#820000 49.42%,#5e0000 50.05%,#380000 53.12%,#170000 61.59%,#200000 68.36%,#0c0000 74.81%,#110000 93.86%,#1e0000 100.00%)"></i>
<i style="top:60px;height:1px;background:linear-gradient(90deg,#0d0000 0.00%,#0e0000 1.80%,#370000 9.74%,#4c0000 10.79%,#930000 12.38%,#af0000 14.81%,#940000 16.72%,#520000 17.99%,#3b0000 18.84%,#370000 19.89%,#4f0000 23.17%,#1b0000 26.46%,#1c0000 32.17%,#2d0000 35.66%,#3c0000 38.62%,#5b0000 40.00%,#8e0000 41.16%,#9f0000 42.54%,#ee0000 43.39%,#ff1000 43.81%,#ff5000 44.66%,#ff6300 45.29%,#ff4d00 45.93%,#ff0700 46.77%,#b00000 47.62%,#9c0000 48.04%,#920000 48.89%,#540000 50.05%,#2b0000 54.71%,#170000 63.17%,#1e0000 68.36%,#0a0000 76.40%,#140000 96.51%,#1c0000 100.00%)"></i>
<i style="top:61px;height:1px;background:linear-gradient(90deg,#0d0000 0.00%,#310000 9.74%,#420000 10.79%,#620000 11.64%,#8b0000 12.38%,#9f0000 14.81%,#910000 16.72%,#480000 17.99%,#350000 18.84%,#390000 21.16%,#450000 23.17%,#190000 26.46%,#1a0000 32.17%,#280000 35.66%,#350000 38.62%,#500000 40.00%,#930000 41.69%,#9c0000 42.54%,#ab0000 42.96%,#ef0000 43.81%,#ff1100 44.23%,#ff3500 44.97%,#ff3500 45.61%,#ff0c00 46.35%,#e80000 46.77%,#9f0000 47.62%,#880000 48.89%,#650000 49.42%,#4b0000 50.05%,#290000 54.71%,#160000 63.17%,#1c0000 68.36%,#0a0000 76.40%,#130000 96.51%,#1b0000 100.00%)"></i>
<i style="top:62px;height:1px;background:linear-gradient(90deg,#0c0000 0.00%,#2b0000 9.74%,#390000 10.79%,#540000 11.64%,#930000 13.02%,#990000 15.66%,#840000 16.72%,#5a0000 17.35%,#3d0000 17.99%,#2e0000 18.84%,#320000 21.16%,#3b0000 23.17%,#170000 26.46%,#180000 32.17%,#2f0000 38.62%,#440000 40.00%,#700000 41.16%,#8d0000 41.69%,#9e0000 42.96%,#d00000 43.81%,#ff0200 44.66%,#ff1000 45.29%,#ff0000 45.93%,#c90000 46.77%,#a50000 47.20%,#920000 48.47%,#580000 49.42%,#430000 50.05%,#200000 56.83%,#150000 63.17%,#1b0000 68.36%,#0a0000 76.40%,#120000 96.51%,#1a0000 100.00%)"></i>
<i style="top:63px;height:1px;background:linear-gradient(90deg,#0c0000 0.00%,#2e0000 9.74%,#3d0000 10.79%,#5b0000 11.64%,#840000 12.38%,#980000 13.54%,#9a0000 15.66%,#8b0000 16.72%,#420000 17.99%,#310000 18.84%,#350000 21.16%,#400000 23.17%,#180000 26.46%,#190000 32.17%,#320000 38.62%,#4a0000 40.00%,#920000 41.69%,#a00000 42.96%,#fd0000 44.23%,#ff1f00 44.97%,#ff1f00 45.61%,#f80000 46.35%,#af0000 47.20%,#9d0000 47.62%,#930000 48.47%,#5e0000 49.42%,#470000 50.05%,#270000 54.71%,#160000 63.17%,#1b0000 68.36%,#0a0000 77.46%,#130000 96.51%,#1a0000 100.00%)"></i>
<i style="top:64px;height:1px;background:linear-gradient(90deg,#0c0000 0.00%,#310000 9.74%,#410000 10.79%,#610000 11.64%,#8b0000 12.38%,#9f0000 14.81%,#900000 16.72%,#470000 17.99%,#340000 18.84%,#300000 19.89%,#440000 23.17%,#190000 26.46%,#1a0000 32.17%,#350000 38.62%,#4f0000 40.00%,#930000 41.69%,#9c0000 42.54%,#aa0000 42.96%,#ed0000 43.81%,#ff0f00 44.23%,#ff3200 44.97%,#ff3200 45.61%,#ff0a00 46.35%,#e60000 46.77%,#9f0000 47.62%,#870000 48.89%,#640000 49.42%,#4b0000 50.05%,#290000 54.71%,#160000 63.17%,#1c0000 68.36%,#0a0000 76.40%,#130000 96.51%,#1b0000 100.00%)"></i>
<i style="top:65px;height:1px;background:linear-gradient(90deg,#0d0000 0.00%,#1c0000 3.92%,#340000 9.74%,#470000 10.79%,#900000 12.38%,#a60000 14.81%,#930000 16.72%,#4d0000 17.99%,#380000 18.84%,#340000 19.89%,#4a0000 23.17%,#1a0000 26.46%,#1b0000 32.17%,#2b0000 35.66%,#390000 38.62%,#550000 40.00%,#8a0000 41.16%,#9e0000 42.54%,#b70000 42.96%,#ff0000 43.81%,#ff3d00 44.66%,#ff4e00 45.29%,#ff3a00 45.93%,#f70000 46.77%,#a70000 47.62%,#8d0000 48.89%,#6b0000 49.42%,#500000 50.05%,#2a0000 54.71%,#170000 63.17%,#1d0000 68.36%,#0a0000 76.40%,#130000 96.51%,#1c0000 100.00%)"></i>
<i style="top:66px;height:1px;background:linear-gradient(90deg,#0d0000 0.00%,#1e0000 3.92%,#380000 9.74%,#4e0000 10.79%,#930000 12.38%,#a90000 14.07%,#b20000 14.81%,#940000 16.72%,#540000 17.99%,#3c0000 18.84%,#380000 19.89%,#510000 23.17%,#1b0000 26.46%,#1d0000 32.17%,#2e0000 35.66%,#3d0000 38.62%,#5d0000 40.00%,#900000 41.16%,#a00000 42.54%,#f20000 43.39%,#ff1500 43.81%,#ff5700 44.66%,#ff6a00 45.29%,#ff5400 45.93%,#ff0c00 46.77%,#b30000 47.62%,#9d0000 48.04%,#920000 48.89%,#550000 50.05%,#2c0000 54.71%,#170000 63.17%,#1e0000 68.36%,#0b0000 76.40%,#140000 96.51%,#1d0000 100.00%)"></i>
<i style="top:67px;height:1px;background:linear-gradient(90deg,#0d0000 0.00%,#0f0000 1.80%,#3c0000 9.74%,#540000 10.79%,#940000 12.38%,#a00000 13.54%,#c20000 14.50%,#bd0000 15.24%,#9c0000 16.19%,#840000 17.35%,#5b0000 17.99%,#410000 18.84%,#3c0000 19.89%,#570000 23.17%,#1d0000 26.46%,#1e0000 32.17%,#310000 35.66%,#360000 37.78%,#640000 40.00%,#930000 41.16%,#9c0000 42.12%,#aa0000 42.54%,#ff0600 43.39%,#ff7100 44.66%,#ff8500 45.29%,#ff6d00 45.93%,#ff2100 46.77%,#f00000 47.20%,#9f0000 48.04%,#940000 48.89%,#5b0000 50.05%,#370000 53.12%,#170000 61.59%,#1f0000 68.36%,#0b0000 75.56%,#150000 96.51%,#1e0000 100.00%)"></i>
<i style="top:68px;height:1px;background:linear-gradient(90deg,#0d0000 0.00%,#1e0000 3.92%,#380000 9.74%,#4e0000 10.79%,#930000 12.38%,#a90000 14.07%,#b30000 14.81%,#940000 16.72%,#7b0000 17.35%,#550000 17.99%,#3c0000 18.84%,#380000 19.89%,#510000 23.17%,#1b0000 26.46%,#1d0000 32.17%,#2e0000 35.66%,#3d0000 38.62%,#5d0000 40.00%,#900000 41.16%,#a00000 42.54%,#f30000 43.39%,#ff1600 43.81%,#ff5800 44.66%,#ff6b00 45.29%,#ff5500 45.93%,#ff0d00 46.77%,#e00000 47.20%,#b40000 47.62%,#9d0000 48.04%,#920000 48.89%,#550000 50.05%,#2c0000 54.71%,#170000 63.17%,#1e0000 68.36%,#0b0000 76.40%,#140000 96.51%,#1d0000 100.00%)"></i>
<i style="top:69px;height:1px;background:linear-gradient(90deg,#0d0000 0.00%,#1c0000 3.92%,#350000 9.74%,#480000 10.79%,#910000 12.38%,#a70000 14.81%,#930000 16.72%,#4e0000 17.99%,#380000 18.84%,#340000 19.89%,#4b0000 23.17%,#1a0000 26.46%,#1b0000 32.17%,#2b0000 35.66%,#390000 38.62%,#560000 40.00%,#8a0000 41.16%,#9e0000 42.54%,#b80000 42.96%,#ff0200 43.81%,#ff3f00 44.66%,#ff5000 45.29%,#ff3c00 45.93%,#f90000 46.77%,#a80000 47.62%,#8d0000 48.89%,#500000 50.05%,#2a0000 54.71%,#170000 63.17%,#1d0000 68.36%,#0a0000 76.40%,#130000 96.51%,#1c0000 100.00%)"></i>
<i style="top:70px;height:1px;background:linear-gradient(90deg,#0c0000 0.00%,#310000 9.74%,#410000 10.79%,#610000 11.64%,#8a0000 12.38%,#9f0000 14.50%,#900000 16.72%,#470000 17.99%,#340000 18.84%,#380000 21.16%,#440000 23.17%,#190000 26.46%,#1a0000 32.17%,#350000 38.62%,#4f0000 40.00%,#930000 41.69%,#a90000 42.96%,#ed0000 43.81%,#ff0e00 44.23%,#ff3100 44.97%,#ff3100 45.61%,#ff0900 46.35%,#e50000 46.77%,#9f0000 47.62%,#870000 48.89%,#640000 49.42%,#4b0000 50.05%,#280000 54.71%,#160000 63.17%,#1c0000 68.36%,#0a0000 76.40%,#130000 96.51%,#1b0000 100.00%)"></i>
<i style="top:71px;height:1px;background:linear-gradient(90deg,#0c0000 0.00%,#2d0000 9.74%,#3c0000 10.79%,#590000 11.64%,#820000 12.38%,#980000 13.54%,#9a0000 15.66%,#8a0000 16.72%,#5f0000 17.35%,#410000 17.99%,#310000 18.84%,#350000 21.16%,#3f0000 23.17%,#180000 26.46%,#190000 32.17%,#320000 38.62%,#490000 40.00%,#770000 41.16%,#920000 41.69%,#a00000 42.96%,#fa0000 44.23%,#ff2000 45.29%,#f50000 46.35%,#ad0000 47.20%,#980000 48.04%,#930000 48.47%,#5d0000 49.42%,#460000 50.05%,#270000 54.71%,#160000 63.17%,#1b0000 68.36%,#0a0000 77.46%,#120000 96.51%,#1a0000 100.00%)"></i>
<i style="top:72px;height:1px;background:linear-gradient(90deg,#0c0000 0.00%,#300000 9.74%,#410000 10.79%,#600000 11.64%,#8a0000 12.38%,#9f0000 14.81%,#8f0000 16.72%,#460000 17.99%,#340000 18.84%,#380000 21.16%,#440000 23.17%,#190000 26.46%,#1a0000 32.17%,#350000 38.62%,#4e0000 40.00%,#930000 41.69%,#a80000 42.96%,#eb0000 43.81%,#ff0c00 44.23%,#ff3000 44.97%,#ff2f00 45.61%,#ff0700 46.35%,#e40000 46.77%,#bb0000 47.20%,#9f0000 47.62%,#860000 48.89%,#630000 49.42%,#4a0000 50.05%,#280000 54.71%,#160000 63.17%,#1c0000 68.36%,#0a0000 76.40%,#130000 96.51%,#1b0000 100.00%)"></i>
<i style="top:73px;height:1px;background:linear-gradient(90deg,#0d0000 0.00%,#1b0000 3.92%,#330000 9.74%,#450000 10.79%,#8f0000 12.38%,#a30000 14.81%,#930000 16.72%,#4c0000 17.99%,#370000 18.84%,#330000 19.89%,#480000 23.17%,#190000 26.46%,#1b0000 32.17%,#380000 38.62%,#530000 40.00%,#880000 41.16%,#9d0000 42.54%,#b20000 42.96%,#fa0000 43.81%,#ff3700 44.66%,#ff4800 45.29%,#ff3400 45.93%,#ff1800 46.35%,#f20000 46.77%,#a40000 47.62%,#8b0000 48.89%,#690000 49.42%,#4e0000 50.05%,#2a0000 54.71%,#170000 63.17%,#1d0000 68.36%,#0a0000 76.40%,#130000 96.51%,#1b0000 100.00%)"></i>
<i style="top:74px;height:1px;background:linear-gradient(90deg,#0d0000 0.00%,#0e0000 1.80%,#360000 9.74%,#4a0000 10.79%,#920000 12.38%,#ac0000 14.81%,#940000 16.72%,#510000 17.99%,#3a0000 18.84%,#360000 19.89%,#4d0000 23.17%,#1a0000 26.46%,#1c0000 32.17%,#2c0000 35.66%,#3b0000 38.62%,#590000 40.00%,#8d0000 41.16%,#9f0000 42.54%,#e90000 43.39%,#ff0a00 43.81%,#ff4900 44.66%,#ff5c00 45.29%,#ff4600 45.93%,#ff0200 46.77%,#ad0000 47.62%,#960000 48.47%,#900000 48.89%,#520000 50.05%,#2b0000 54.71%,#170000 63.17%,#1e0000 68.36%,#0a0000 76.40%,#140000 96.51%,#1c0000 100.00%)"></i>
<i style="top:75px;height:1px;background:linear-gradient(90deg,#0d0000 0.00%,#1e0000 3.92%,#390000 9.74%,#4f0000 10.79%,#930000 12.38%,#ab0000 14.07%,#b60000 14.81%,#950000 16.72%,#7d0000 17.35%,#560000 17.99%,#3d0000 18.84%,#380000 19.89%,#520000 23.17%,#1b0000 26.46%,#1d0000 32.17%,#2e0000 35.66%,#330000 37.78%,#5e0000 40.00%,#910000 41.16%,#a20000 42.54%,#f60000 43.39%,#ff5c00 44.66%,#ff7000 45.29%,#ff5900 45.93%,#ff1100 46.77%,#e30000 47.20%,#b70000 47.62%,#9d0000 48.04%,#930000 48.89%,#560000 50.05%,#2c0000 54.71%,#170000 63.17%,#1e0000 68.36%,#0b0000 76.40%,#140000 96.51%,#1d0000 100.00%)"></i>
<i style="top:76px;height:1px;background:linear-gradient(90deg,#0d0000 0.00%,#0f0000 1.80%,#3a0000 9.74%,#510000 10.79%,#940000 12.38%,#9e0000 13.54%,#ba0000 14.50%,#b50000 15.24%,#9b0000 16.19%,#950000 16.72%,#7f0000 17.35%,#580000 17.99%,#3f0000 18.84%,#3a0000 19.89%,#540000 23.17%,#1c0000 26.46%,#170000 30.37%,#2f0000 35.66%,#340000 37.78%,#600000 40.00%,#920000 41.16%,#a50000 42.54%,#fb0000 43.39%,#ff6400 44.66%,#ff7700 45.29%,#ff7200 45.61%,#ff4100 46.35%,#ff1600 46.77%,#e70000 47.20%,#bc0000 47.62%,#9e0000 48.04%,#930000 48.89%,#580000 50.05%,#2c0000 54.71%,#180000 63.17%,#1f0000 68.36%,#0b0000 75.56%,#140000 96.51%,#1d0000 100.00%)"></i>
<i style="top:77px;height:1px;background:linear-gradient(90deg,#0d0000 0.00%,#0f0000 1.80%,#3a0000 9.74%,#510000 10.79%,#940000 12.38%,#9e0000 13.54%,#ba0000 14.50%,#b50000 15.24%,#9b0000 16.19%,#950000 16.72%,#7f0000 17.35%,#580000 17.99%,#3f0000 18.84%,#3a0000 19.89%,#540000 23.17%,#1c0000 26.46%,#170000 30.37%,#2f0000 35.66%,#340000 37.78%,#600000 40.00%,#920000 41.16%,#a50000 42.54%,#fb0000 43.39%,#ff6400 44.66%,#ff7700 45.29%,#ff7200 45.61%,#ff4100 46.35%,#ff1600 46.77%,#e70000 47.20%,#bc0000 47.62%,#9e0000 48.04%,#930000 48.89%,#580000 50.05%,#2c0000 54.71%,#180000 63.17%,#1f0000 68.36%,#0b0000 75.56%,#140000 96.51%,#1d0000 100.00%)"></i>
<i style="top:78px;height:1px;background:linear-gradient(90deg,#0d0000 0.00%,#0f0000 1.80%,#3a0000 9.74%,#510000 10.79%,#940000 12.38%,#9f0000 13.54%,#bc0000 14.81%,#800000 17.35%,#580000 17.99%,#3f0000 18.84%,#3a0000 19.89%,#540000 23.17%,#1c0000 26.46%,#170000 30.37%,#2f0000 35.66%,#340000 37.78%,#4e0000 39.37%,#920000 41.16%,#a50000 42.54%,#fc0000 43.39%,#ff6500 44.66%,#ff7900 45.29%,#ff6200 45.93%,#ff1700 46.77%,#e80000 47.20%,#9e0000 48.04%,#930000 48.89%,#580000 50.05%,#2c0000 54.71%,#180000 63.17%,#1f0000 68.36%,#0b0000 75.56%,#140000 96.51%,#1d0000 100.00%)"></i>
<i style="top:79px;height:1px;background:linear-gradient(90deg,#0d0000 0.00%,#0f0000 1.80%,#3b0000 9.74%,#520000 10.79%,#940000 12.38%,#9f0000 13.54%,#bc0000 14.50%,#b70000 15.24%,#9b0000 16.19%,#810000 17.35%,#590000 17.99%,#3f0000 18.84%,#3a0000 19.89%,#550000 23.17%,#1c0000 26.46%,#1e0000 32.17%,#300000 35.66%,#350000 37.78%,#610000 40.00%,#920000 41.16%,#a60000 42.54%,#fe0000 43.39%,#ff6700 44.66%,#ff7b00 45.29%,#ff6400 45.93%,#ff1900 46.77%,#ea0000 47.20%,#9e0000 48.04%,#930000 48.89%,#590000 50.05%,#2d0000 54.71%,#180000 63.17%,#1f0000 68.36%,#0b0000 75.56%,#140000 96.51%,#1d0000 100.00%)"></i>
<i style="top:80px;height:1px;background:linear-gradient(90deg,#0d0000 0.00%,#0f0000 1.80%,#3b0000 9.74%,#520000 10.79%,#940000 12.38%,#9f0000 13.54%,#bf0000 14.81%,#810000 17.35%,#590000 17.99%,#400000 18.84%,#3a0000 19.89%,#560000 23.17%,#1c0000 26.46%,#1e0000 32.17%,#300000 35.66%,#350000 37.78%,#4f0000 39.37%,#930000 41.16%,#a70000 42.54%,#ff0000 43.39%,#ff6900 44.66%,#ff7d00 45.29%,#ff6600 45.93%,#ff1b00 46.77%,#eb0000 47.20%,#9e0000 48.04%,#930000 48.89%,#590000 50.05%,#2d0000 54.71%,#180000 63.17%,#1f0000 68.36%,#0b0000 75.56%,#140000 96.51%,#1d0000 100.00%)"></i>
<i style="top:81px;height:1px;background:linear-gradient(90deg,#0d0000 0.00%,#1c0000 3.92%,#360000 9.74%,#4a0000 10.79%,#920000 12.38%,#ab0000 14.81%,#940000 16.72%,#500000 17.99%,#3a0000 18.84%,#350000 19.89%,#4d0000 23.17%,#1a0000 26.46%,#1c0000 32.17%,#2c0000 35.66%,#3a0000 38.62%,#580000 40.00%,#8c0000 41.16%,#9e0000 42.54%,#e80000 43.39%,#ff0900 43.81%,#ff4800 44.66%,#ff5a00 45.29%,#ff4400 45.93%,#ff0100 46.77%,#ac0000 47.62%,#960000 48.47%,#900000 48.89%,#520000 50.05%,#2b0000 54.71%,#170000 63.17%,#1e0000 68.36%,#0a0000 76.40%,#140000 96.51%,#1c0000 100.00%)"></i>
<i style="top:82px;height:1px;background:linear-gradient(90deg,#0c0000 0.00%,#2b0000 9.74%,#390000 10.79%,#540000 11.64%,#930000 13.02%,#990000 15.66%,#840000 16.72%,#5a0000 17.35%,#3d0000 17.99%,#2e0000 18.84%,#320000 21.16%,#3b0000 23.17%,#170000 26.46%,#180000 32.17%,#2f0000 38.62%,#440000 40.00%,#700000 41.16%,#8d0000 41.69%,#9e0000 42.96%,#d00000 43.81%,#ff0200 44.66%,#ff1000 45.29%,#ff0000 45.93%,#c90000 46.77%,#a50000 47.20%,#920000 48.47%,#580000 49.42%,#430000 50.05%,#200000 56.83%,#150000 63.17%,#1b0000 68.36%,#0a0000 76.40%,#120000 96.51%,#1a0000 100.00%)"></i>
<i style="top:83px;height:1px;background:linear-gradient(90deg,#0c0000 0.00%,#2e0000 9.74%,#3d0000 10.79%,#5b0000 11.64%,#850000 12.38%,#980000 13.54%,#9a0000 15.66%,#8c0000 16.72%,#430000 17.99%,#320000 18.84%,#360000 21.16%,#400000 23.17%,#180000 26.46%,#190000 32.17%,#260000 35.66%,#320000 38.62%,#4a0000 40.00%,#920000 41.69%,#a10000 42.96%,#ff0000 44.23%,#ff2200 44.97%,#ff2100 45.61%,#fa0000 46.35%,#b10000 47.20%,#9e0000 47.62%,#930000 48.47%,#5f0000 49.42%,#470000 50.05%,#210000 56.83%,#160000 63.17%,#1c0000 68.36%,#0a0000 76.40%,#130000 96.51%,#1a0000 100.00%)"></i>
<i style="top:84px;height:1px;background:linear-gradient(90deg,#0c0000 0.00%,#310000 9.74%,#420000 10.79%,#610000 11.64%,#8b0000 12.38%,#9f0000 14.81%,#900000 16.72%,#470000 17.99%,#340000 18.84%,#300000 19.89%,#440000 23.17%,#190000 26.46%,#1a0000 32.17%,#350000 38.62%,#4f0000 40.00%,#930000 41.69%,#9c0000 42.54%,#aa0000 42.96%,#ee0000 43.81%,#ff0f00 44.23%,#ff3300 44.97%,#ff3200 45.61%,#ff0a00 46.35%,#e60000 46.77%,#9f0000 47.62%,#870000 48.89%,#640000 49.42%,#4b0000 50.05%,#290000 54.71%,#160000 63.17%,#1c0000 68.36%,#0a0000 76.40%,#130000 96.51%,#1b0000 100.00%)"></i>
<i style="top:85px;height:1px;background:linear-gradient(90deg,#0c0000 0.00%,#2e0000 9.74%,#3c0000 10.79%,#5a0000 11.64%,#830000 12.38%,#980000 13.54%,#9a0000 15.66%,#8b0000 16.72%,#600000 17.35%,#420000 17.99%,#310000 18.84%,#350000 21.16%,#3f0000 23.17%,#180000 26.46%,#190000 32.17%,#320000 38.62%,#490000 40.00%,#920000 41.69%,#a00000 42.96%,#fb0000 44.23%,#ff2100 45.29%,#f60000 46.35%,#ae0000 47.20%,#980000 48.04%,#930000 48.47%,#5d0000 49.42%,#460000 50.05%,#270000 54.71%,#160000 63.17%,#1b0000 68.36%,#0a0000 77.46%,#120000 96.51%,#1a0000 100.00%)"></i>
<i style="top:86px;height:1px;background:linear-gradient(90deg,#0c0000 0.00%,#2a0000 9.74%,#380000 10.79%,#520000 11.64%,#930000 13.02%,#980000 15.66%,#940000 16.19%,#810000 16.72%,#580000 17.35%,#3c0000 17.99%,#2d0000 18.84%,#310000 21.16%,#3a0000 23.17%,#170000 26.46%,#180000 32.17%,#2e0000 38.62%,#430000 40.00%,#6e0000 41.16%,#8c0000 41.69%,#9d0000 42.96%,#ae0000 43.39%,#fc0000 44.66%,#ff0b00 45.29%,#fa0000 45.93%,#c40000 46.77%,#a20000 47.20%,#900000 48.47%,#560000 49.42%,#420000 50.05%,#1f0000 56.83%,#150000 63.17%,#1b0000 68.36%,#090000 76.40%,#120000 96.51%,#190000 100.00%)"></i>
<i style="top:87px;height:1px;background:linear-gradient(90deg,#0c0000 0.00%,#2b0000 9.74%,#390000 10.79%,#540000 11.64%,#930000 13.02%,#990000 15.66%,#840000 16.72%,#5a0000 17.35%,#3d0000 17.99%,#2e0000 18.84%,#320000 21.16%,#3b0000 23.17%,#170000 26.46%,#180000 32.17%,#2f0000 38.62%,#440000 40.00%,#710000 41.16%,#8e0000 41.69%,#9e0000 42.96%,#d10000 43.81%,#ff0300 44.66%,#ff1100 45.29%,#ff0000 45.93%,#ca0000 46.77%,#a50000 47.20%,#920000 48.47%,#580000 49.42%,#430000 50.05%,#200000 56.83%,#150000 63.17%,#1b0000 68.36%,#0a0000 76.40%,#120000 96.51%,#1a0000 100.00%)"></i>
<i style="top:88px;height:1px;background:linear-gradient(90deg,#0c0000 0.00%,#2f0000 9.74%,#3e0000 10.79%,#5d0000 11.64%,#870000 12.38%,#990000 13.54%,#9b0000 15.66%,#8d0000 16.72%,#440000 17.99%,#320000 18.84%,#360000 21.16%,#410000 23.17%,#180000 26.46%,#190000 32.17%,#330000 38.62%,#4b0000 40.00%,#930000 41.69%,#a30000 42.96%,#ff0300 44.23%,#ff2500 44.97%,#ff2400 45.61%,#fd0000 46.35%,#b20000 47.20%,#9e0000 47.62%,#930000 48.47%,#480000 50.05%,#280000 54.71%,#160000 63.17%,#1c0000 68.36%,#0a0000 76.40%,#130000 96.51%,#1a0000 100.00%)"></i>
<i style="top:89px;height:1px;background:linear-gradient(90deg,#0c0000 0.00%,#2d0000 9.74%,#3b0000 10.79%,#570000 11.64%,#7f0000 12.38%,#940000 13.02%,#990000 15.66%,#890000 16.72%,#5d0000 17.35%,#400000 17.99%,#300000 18.84%,#340000 21.16%,#3d0000 23.17%,#170000 26.46%,#180000 32.17%,#310000 38.62%,#470000 40.00%,#750000 41.16%,#900000 41.69%,#9f0000 42.96%,#f50000 44.23%,#ff1a00 45.29%,#ff0900 45.93%,#f00000 46.35%,#aa0000 47.20%,#970000 48.04%,#930000 48.47%,#5b0000 49.42%,#450000 50.05%,#200000 56.83%,#150000 63.17%,#1b0000 68.36%,#0a0000 77.46%,#120000 96.51%,#1a0000 100.00%)"></i>
<i style="top:90px;height:1px;background:linear-gradient(90deg,#0b0000 0.00%,#260000 9.74%,#330000 10.79%,#490000 11.64%,#8d0000 13.02%,#980000 15.24%,#920000 16.19%,#4e0000 17.35%,#360000 17.99%,#260000 19.89%,#350000 23.17%,#150000 26.46%,#1c0000 33.54%,#2a0000 38.62%,#3c0000 40.00%,#620000 41.16%,#930000 42.12%,#a00000 43.39%,#b20000 43.81%,#d10000 44.23%,#ef0000 45.29%,#e10000 45.93%,#ad0000 46.77%,#990000 47.62%,#880000 48.47%,#670000 48.89%,#4d0000 49.42%,#3c0000 50.05%,#1a0000 58.41%,#170000 64.55%,#150000 69.63%,#090000 79.79%,#110000 96.51%,#190000 100.00%)"></i>
<i style="top:91px;height:1px;background:linear-gradient(90deg,#0b0000 0.00%,#270000 9.74%,#340000 10.79%,#4b0000 11.64%,#8f0000 13.02%,#980000 15.24%,#920000 16.19%,#500000 17.35%,#370000 17.99%,#270000 19.89%,#360000 23.17%,#150000 26.46%,#1c0000 33.54%,#2b0000 38.62%,#3d0000 40.00%,#650000 41.16%,#930000 42.12%,#a10000 43.39%,#e80000 44.66%,#f10000 45.61%,#d10000 46.35%,#b10000 46.77%,#9e0000 47.20%,#8a0000 48.47%,#690000 48.89%,#3d0000 50.05%,#1a0000 58.41%,#170000 64.55%,#150000 69.63%,#090000 79.79%,#110000 96.51%,#190000 100.00%)"></i>
<i style="top:92px;height:1px;background:linear-gradient(90deg,#0c0000 0.00%,#2c0000 9.74%,#3b0000 10.79%,#570000 11.64%,#7f0000 12.38%,#940000 13.02%,#990000 15.66%,#880000 16.72%,#5d0000 17.35%,#400000 17.99%,#300000 18.84%,#340000 21.16%,#3d0000 23.17%,#170000 26.46%,#180000 32.17%,#310000 38.62%,#470000 40.00%,#740000 41.16%,#900000 41.69%,#9f0000 42.96%,#f40000 44.23%,#ff1500 44.97%,#ff1500 45.61%,#ff0800 45.93%,#f00000 46.35%,#aa0000 47.20%,#970000 48.04%,#930000 48.47%,#5b0000 49.42%,#450000 50.05%,#200000 56.83%,#150000 63.17%,#1b0000 68.36%,#0a0000 77.46%,#120000 96.51%,#1a0000 100.00%)"></i>
<i style="top:93px;height:1px;background:linear-gradient(90deg,#0d0000 0.00%,#310000 9.74%,#420000 10.79%,#620000 11.64%,#8b0000 12.38%,#9f0000 14.81%,#910000 16.72%,#480000 17.99%,#350000 18.84%,#390000 21.16%,#450000 23.17%,#190000 26.46%,#1a0000 32.17%,#280000 35.66%,#350000 38.62%,#500000 40.00%,#930000 41.69%,#9c0000 42.54%,#ab0000 42.96%,#ef0000 43.81%,#ff1100 44.23%,#ff3500 44.97%,#ff3400 45.61%,#ff0c00 46.35%,#e80000 46.77%,#9f0000 47.62%,#880000 48.89%,#650000 49.42%,#4b0000 50.05%,#290000 54.71%,#160000 63.17%,#1c0000 68.36%,#0a0000 76.40%,#130000 96.51%,#1b0000 100.00%)"></i>
<i style="top:94px;height:1px;background:linear-gradient(90deg,#0c0000 0.00%,#310000 9.74%,#410000 10.79%,#610000 11.64%,#8b0000 12.38%,#9f0000 14.81%,#900000 16.72%,#470000 17.99%,#340000 18.84%,#300000 19.89%,#440000 23.17%,#190000 26.46%,#1a0000 32.17%,#350000 38.62%,#4f0000 40.00%,#930000 41.69%,#9c0000 42.54%,#aa0000 42.96%,#ed0000 43.81%,#ff0e00 44.23%,#ff3200 44.97%,#ff3200 45.61%,#ff0900 46.35%,#e60000 46.77%,#9f0000 47.62%,#870000 48.89%,#640000 49.42%,#4b0000 50.05%,#290000 54.71%,#160000 63.17%,#1c0000 68.36%,#0a0000 76.40%,#130000 96.51%,#1b0000 100.00%)"></i>
<i style="top:95px;height:1px;background:linear-gradient(90deg,#0c0000 0.00%,#300000 9.74%,#410000 10.79%,#600000 11.64%,#8a0000 12.38%,#9f0000 14.81%,#8f0000 16.72%,#460000 17.99%,#340000 18.84%,#380000 21.16%,#430000 23.17%,#190000 26.46%,#1a0000 32.17%,#350000 38.62%,#4e0000 40.00%,#930000 41.69%,#a80000 42.96%,#eb0000 43.81%,#ff0c00 44.23%,#ff2f00 44.97%,#ff2f00 45.61%,#ff0700 46.35%,#e40000 46.77%,#ba0000 47.20%,#9f0000 47.62%,#860000 48.89%,#630000 49.42%,#4a0000 50.05%,#280000 54.71%,#160000 63.17%,#1c0000 68.36%,#0a0000 76.40%,#130000 96.51%,#1b0000 100.00%)"></i>
<i style="top:96px;height:1px;background:linear-gradient(90deg,#0c0000 0.00%,#2d0000 9.74%,#3c0000 10.79%,#590000 11.64%,#820000 12.38%,#980000 13.54%,#9a0000 15.66%,#8a0000 16.72%,#5f0000 17.35%,#410000 17.99%,#310000 18.84%,#350000 21.16%,#3f0000 23.17%,#180000 26.46%,#190000 32.17%,#310000 38.62%,#480000 40.00%,#920000 41.69%,#9f0000 42.96%,#f90000 44.23%,#ff1f00 45.29%,#f50000 46.35%,#ad0000 47.20%,#970000 48.04%,#930000 48.47%,#5d0000 49.42%,#460000 50.05%,#200000 56.83%,#150000 63.17%,#1b0000 68.36%,#0a0000 77.46%,#120000 96.51%,#1a0000 100.00%)"></i>
<i style="top:97px;height:1px;background:linear-gradient(90deg,#0c0000 0.00%,#290000 9.74%,#360000 10.79%,#500000 11.64%,#920000 13.02%,#980000 15.66%,#930000 16.19%,#7d0000 16.72%,#550000 17.35%,#3a0000 17.99%,#2c0000 18.84%,#300000 21.16%,#390000 23.17%,#160000 26.46%,#170000 32.17%,#2d0000 38.62%,#410000 40.00%,#6b0000 41.16%,#8a0000 41.69%,#aa0000 43.39%,#f50000 44.66%,#ff0400 45.29%,#f30000 45.93%,#9f0000 47.20%,#8e0000 48.47%,#540000 49.42%,#400000 50.05%,#1f0000 56.83%,#150000 63.17%,#1a0000 68.36%,#090000 77.46%,#120000 96.51%,#190000 100.00%)"></i>
<i style="top:98px;height:1px;background:linear-gradient(90deg,#0b0000 0.00%,#270000 9.74%,#330000 10.79%,#490000 11.64%,#8e0000 13.02%,#960000 15.66%,#920000 16.19%,#4e0000 17.35%,#370000 17.99%,#290000 18.84%,#2d0000 21.16%,#350000 23.17%,#150000 26.46%,#1c0000 33.54%,#2a0000 38.62%,#3c0000 40.00%,#630000 41.16%,#930000 42.12%,#a00000 43.39%,#e40000 44.66%,#f10000 45.29%,#e20000 45.93%,#9d0000 47.20%,#890000 48.47%,#680000 48.89%,#3c0000 50.05%,#1a0000 58.41%,#170000 64.55%,#150000 69.63%,#090000 79.79%,#110000 96.51%,#190000 100.00%)"></i>
<i style="top:99px;height:1px;background:linear-gradient(90deg,#0c0000 0.00%,#2a0000 9.74%,#370000 10.79%,#510000 11.64%,#930000 13.02%,#980000 15.66%,#940000 16.19%,#800000 16.72%,#570000 17.35%,#3b0000 17.99%,#2d0000 18.84%,#310000 21.16%,#3a0000 23.17%,#160000 26.46%,#180000 32.17%,#2e0000 38.62%,#420000 40.00%,#6d0000 41.16%,#8b0000 41.69%,#9d0000 42.96%,#c90000 43.81%,#f90000 44.66%,#ff0400 45.61%,#e10000 46.35%,#a00000 47.20%,#8f0000 48.47%,#550000 49.42%,#410000 50.05%,#1f0000 56.83%,#150000 63.17%,#1a0000 68.36%,#090000 77.46%,#120000 96.51%,#190000 100.00%)"></i>
<i style="top:100px;height:1px;background:linear-gradient(90deg,#0c0000 0.00%,#2d0000 9.74%,#3c0000 10.79%,#590000 11.64%,#810000 12.38%,#940000 13.02%,#9a0000 15.66%,#8a0000 16.72%,#5f0000 17.35%,#410000 17.99%,#300000 18.84%,#340000 21.16%,#3e0000 23.17%,#170000 26.46%,#190000 32.17%,#310000 38.62%,#480000 40.00%,#910000 41.69%,#9f0000 42.96%,#f80000 44.23%,#ff1e00 45.29%,#ff0d00 45.93%,#f40000 46.35%,#ac0000 47.20%,#970000 48.04%,#930000 48.47%,#5c0000 49.42%,#460000 50.05%,#200000 56.83%,#150000 63.17%,#1b0000 68.36%,#0a0000 77.46%,#120000 96.51%,#1a0000 100.00%)"></i>
<i style="top:101px;height:1px;background:linear-gradient(90deg,#0c0000 0.00%,#2f0000 9.74%,#3e0000 10.79%,#5d0000 11.64%,#870000 12.38%,#990000 13.54%,#9b0000 15.66%,#8d0000 16.72%,#440000 17.99%,#320000 18.84%,#370000 21.16%,#410000 23.17%,#180000 26.46%,#190000 32.17%,#330000 38.62%,#4c0000 40.00%,#930000 41.69%,#a40000 42.96%,#ff0400 44.23%,#ff2600 44.97%,#ff2600 45.61%,#fe0000 46.35%,#b40000 47.20%,#9e0000 47.62%,#940000 48.47%,#600000 49.42%,#480000 50.05%,#280000 54.71%,#160000 63.17%,#1c0000 68.36%,#0a0000 76.40%,#130000 96.51%,#1a0000 100.00%)"></i>
<i style="top:102px;height:1px;background:linear-gradient(90deg,#0c0000 0.00%,#300000 9.74%,#400000 10.79%,#600000 11.64%,#8a0000 12.38%,#9f0000 14.81%,#8f0000 16.72%,#460000 17.99%,#340000 18.84%,#380000 21.16%,#430000 23.17%,#180000 26.46%,#1a0000 32.17%,#340000 38.62%,#4e0000 40.00%,#930000 41.69%,#a80000 42.96%,#ea0000 43.81%,#ff0b00 44.23%,#ff2f00 44.97%,#ff2e00 45.61%,#ff0600 46.35%,#e30000 46.77%,#ba0000 47.20%,#9f0000 47.62%,#940000 48.47%,#850000 48.89%,#630000 49.42%,#4a0000 50.05%,#280000 54.71%,#160000 63.17%,#1c0000 68.36%,#0a0000 76.40%,#130000 96.51%,#1b0000 100.00%)"></i>
<i style="top:103px;height:1px;background:linear-gradient(90deg,#0c0000 0.00%,#300000 9.74%,#410000 10.79%,#600000 11.64%,#8a0000 12.38%,#9f0000 14.81%,#8f0000 16.72%,#460000 17.99%,#340000 18.84%,#380000 21.16%,#440000 23.17%,#190000 26.46%,#1a0000 32.17%,#350000 38.62%,#4e0000 40.00%,#930000 41.69%,#a80000 42.96%,#eb0000 43.81%,#ff0c00 44.23%,#ff3000 44.97%,#ff2f00 45.61%,#ff0700 46.35%,#e40000 46.77%,#bb0000 47.20%,#9f0000 47.62%,#860000 48.89%,#630000 49.42%,#4a0000 50.05%,#280000 54.71%,#160000 63.17%,#1c0000 68.36%,#0a0000 76.40%,#130000 96.51%,#1b0000 100.00%)"></i>
<i style="top:104px;height:1px;background:linear-gradient(90deg,#0c0000 0.00%,#2c0000 9.74%,#3b0000 10.79%,#570000 11.64%,#7e0000 12.38%,#940000 13.02%,#990000 15.66%,#880000 16.72%,#5d0000 17.35%,#3f0000 17.99%,#2f0000 18.84%,#330000 21.16%,#3d0000 23.17%,#170000 26.46%,#180000 32.17%,#300000 38.62%,#470000 40.00%,#740000 41.16%,#900000 41.69%,#9f0000 42.96%,#f30000 44.23%,#ff1400 44.97%,#ff1400 45.61%,#ff0700 45.93%,#ef0000 46.35%,#a90000 47.20%,#930000 48.47%,#5a0000 49.42%,#440000 50.05%,#200000 56.83%,#150000 63.17%,#1b0000 68.36%,#0a0000 77.46%,#120000 96.51%,#1a0000 100.00%)"></i>
<i style="top:105px;height:1px;background:linear-gradient(90deg,#0c0000 0.00%,#280000 9.74%,#350000 10.79%,#4d0000 11.64%,#910000 13.02%,#970000 15.66%,#930000 16.19%,#520000 17.35%,#390000 17.99%,#2b0000 18.84%,#2f0000 21.16%,#370000 23.17%,#160000 26.46%,#170000 32.17%,#2c0000 38.62%,#3f0000 40.00%,#680000 41.16%,#880000 41.69%,#a60000 43.39%,#ef0000 44.66%,#fc0000 45.29%,#ec0000 45.93%,#9f0000 47.20%,#8c0000 48.47%,#520000 49.42%,#3f0000 50.05%,#1a0000 58.41%,#1a0000 65.82%,#090000 79.79%,#120000 96.51%,#190000 100.00%)"></i>
<i style="top:106px;height:1px;background:linear-gradient(90deg,#0c0000 0.00%,#2a0000 9.74%,#370000 10.79%,#510000 11.64%,#930000 13.02%,#980000 15.66%,#940000 16.19%,#800000 16.72%,#570000 17.35%,#3c0000 17.99%,#2d0000 18.84%,#310000 21.16%,#3a0000 23.17%,#160000 26.46%,#180000 32.17%,#2e0000 38.62%,#420000 40.00%,#6d0000 41.16%,#8b0000 41.69%,#9d0000 42.96%,#ad0000 43.39%,#fa0000 44.66%,#ff0400 45.61%,#e10000 46.35%,#a00000 47.20%,#8f0000 48.47%,#550000 49.42%,#410000 50.05%,#1f0000 56.83%,#150000 63.17%,#1a0000 68.36%,#090000 77.46%,#120000 96.51%,#190000 100.00%)"></i>
<i style="top:107px;height:1px;background:linear-gradient(90deg,#0c0000 0.00%,#2e0000 9.74%,#3d0000 10.79%,#5b0000 11.64%,#850000 12.38%,#980000 13.54%,#9a0000 15.66%,#8c0000 16.72%,#610000 17.35%,#430000 17.99%,#310000 18.84%,#360000 21.16%,#400000 23.17%,#180000 26.46%,#190000 32.17%,#320000 38.62%,#4a0000 40.00%,#920000 41.69%,#a10000 42.96%,#fe0000 44.23%,#ff2100 44.97%,#ff2100 45.61%,#fa0000 46.35%,#b00000 47.20%,#9d0000 47.62%,#930000 48.47%,#5e0000 49.42%,#470000 50.05%,#210000 56.83%,#160000 63.17%,#1b0000 68.36%,#0a0000 77.46%,#130000 96.51%,#1a0000 100.00%)"></i>
<i style="top:108px;height:1px;background:linear-gradient(90deg,#0d0000 0.00%,#1b0000 3.92%,#320000 9.74%,#440000 10.79%,#8d0000 12.38%,#a00000 14.81%,#920000 16.72%,#4a0000 17.99%,#360000 18.84%,#3a0000 21.16%,#470000 23.17%,#190000 26.46%,#1a0000 32.17%,#370000 38.62%,#520000 40.00%,#860000 41.16%,#9d0000 42.54%,#af0000 42.96%,#f60000 43.81%,#ff3d00 44.97%,#ff3d00 45.61%,#ff1300 46.35%,#ee0000 46.77%,#a10000 47.62%,#8a0000 48.89%,#670000 49.42%,#4d0000 50.05%,#290000 54.71%,#160000 63.17%,#1d0000 68.36%,#0a0000 76.40%,#130000 96.51%,#1b0000 100.00%)"></i>
<i style="top:109px;height:1px;background:linear-gradient(90deg,#0d0000 0.00%,#1c0000 3.92%,#350000 9.74%,#470000 10.79%,#910000 12.38%,#a70000 14.81%,#930000 16.72%,#4e0000 17.99%,#380000 18.84%,#340000 19.89%,#4b0000 23.17%,#1a0000 26.46%,#1b0000 32.17%,#2b0000 35.66%,#390000 38.62%,#560000 40.00%,#8a0000 41.16%,#9e0000 42.54%,#b80000 42.96%,#ff0200 43.81%,#ff3f00 44.66%,#ff5000 45.29%,#ff3c00 45.93%,#f90000 46.77%,#a80000 47.62%,#8d0000 48.89%,#500000 50.05%,#2a0000 54.71%,#170000 63.17%,#1d0000 68.36%,#0a0000 76.40%,#130000 96.51%,#1c0000 100.00%)"></i>
<i style="top:110px;height:1px;background:linear-gradient(90deg,#0d0000 0.00%,#0e0000 1.80%,#360000 9.74%,#4a0000 10.79%,#920000 12.38%,#ac0000 14.81%,#940000 16.72%,#510000 17.99%,#3a0000 18.84%,#360000 19.89%,#4d0000 23.17%,#1a0000 26.46%,#1c0000 32.17%,#2c0000 35.66%,#3b0000 38.62%,#590000 40.00%,#8d0000 41.16%,#9f0000 42.54%,#e90000 43.39%,#ff0a00 43.81%,#ff4900 44.66%,#ff5b00 45.29%,#ff4600 45.93%,#ff0200 46.77%,#ac0000 47.62%,#960000 48.47%,#900000 48.89%,#520000 50.05%,#2b0000 54.71%,#170000 63.17%,#1e0000 68.36%,#0a0000 76.40%,#140000 96.51%,#1c0000 100.00%)"></i>
<i style="top:111px;height:1px;background:linear-gradient(90deg,#0d0000 0.00%,#0e0000 1.80%,#370000 9.74%,#4b0000 10.79%,#930000 12.38%,#ad0000 14.81%,#940000 16.72%,#510000 17.99%,#3b0000 18.84%,#360000 19.89%,#4e0000 23.17%,#1b0000 26.46%,#1c0000 32.17%,#2d0000 35.66%,#3b0000 38.62%,#5a0000 40.00%,#8e0000 41.16%,#9f0000 42.54%,#eb0000 43.39%,#ff0d00 43.81%,#ff4c00 44.66%,#ff5f00 45.29%,#ff4900 45.93%,#ff0400 46.77%,#ae0000 47.62%,#960000 48.47%,#910000 48.89%,#530000 50.05%,#2b0000 54.71%,#170000 63.17%,#1e0000 68.36%,#0a0000 76.40%,#140000 96.51%,#1c0000 100.00%)"></i>
<i style="top:112px;height:1px;background:linear-gradient(90deg,#0d0000 0.00%,#1c0000 3.92%,#350000 9.74%,#480000 10.79%,#910000 12.38%,#a70000 14.81%,#930000 16.72%,#4e0000 17.99%,#380000 18.84%,#340000 19.89%,#4b0000 23.17%,#1a0000 26.46%,#1b0000 32.17%,#2b0000 35.66%,#390000 38.62%,#560000 40.00%,#8b0000 41.16%,#9e0000 42.54%,#b90000 42.96%,#ff0200 43.81%,#ff3f00 44.66%,#ff5100 45.29%,#ff3c00 45.93%,#f90000 46.77%,#a80000 47.62%,#8e0000 48.89%,#500000 50.05%,#2a0000 54.71%,#170000 63.17%,#1d0000 68.36%,#0a0000 76.40%,#140000 96.51%,#1c0000 100.00%)"></i>
<i style="top:113px;height:1px;background:linear-gradient(90deg,#0d0000 0.00%,#1b0000 3.92%,#330000 9.74%,#440000 10.79%,#8e0000 12.38%,#a10000 14.81%,#920000 16.72%,#4a0000 17.99%,#360000 18.84%,#320000 19.89%,#470000 23.17%,#190000 26.46%,#1b0000 32.17%,#2a0000 35.66%,#370000 38.62%,#520000 40.00%,#870000 41.16%,#9d0000 42.54%,#b00000 42.96%,#f70000 43.81%,#ff3f00 44.97%,#ff3e00 45.61%,#ff1400 46.35%,#ef0000 46.77%,#a20000 47.62%,#8a0000 48.89%,#680000 49.42%,#4d0000 50.05%,#290000 54.71%,#160000 63.17%,#1d0000 68.36%,#0a0000 76.40%,#130000 96.51%,#1b0000 100.00%)"></i>
<i style="top:114px;height:1px;background:linear-gradient(90deg,#0d0000 0.00%,#1c0000 3.92%,#340000 9.74%,#470000 10.79%,#910000 12.38%,#a70000 14.81%,#930000 16.72%,#4e0000 17.99%,#380000 18.84%,#340000 19.89%,#4a0000 23.17%,#1a0000 26.46%,#1b0000 32.17%,#2b0000 35.66%,#390000 38.62%,#560000 40.00%,#8a0000 41.16%,#9e0000 42.54%,#b80000 42.96%,#ff0100 43.81%,#ff3e00 44.66%,#ff5000 45.29%,#ff3b00 45.93%,#f80000 46.77%,#a70000 47.62%,#8d0000 48.89%,#500000 50.05%,#2a0000 54.71%,#170000 63.17%,#1d0000 68.36%,#0a0000 76.40%,#130000 96.51%,#1c0000 100.00%)"></i>
<i style="top:115px;height:1px;background:linear-gradient(90deg,#0e0000 0.00%,#0f0000 1.80%,#2e0000 6.03%,#400000 9.74%,#590000 10.79%,#830000 11.64%,#a60000 13.54%,#cf0000 14.50%,#ca0000 15.24%,#9d0000 16.19%,#8a0000 17.35%,#610000 17.99%,#450000 18.84%,#3f0000 19.89%,#5d0000 23.17%,#1e0000 26.46%,#190000 30.37%,#330000 35.66%,#390000 37.78%,#560000 39.37%,#880000 40.63%,#9e0000 42.12%,#b30000 42.54%,#e50000 42.96%,#ff1300 43.39%,#ff8500 44.66%,#ff9a00 45.29%,#ff9400 45.61%,#ff5e00 46.35%,#fd0000 47.20%,#a20000 48.04%,#830000 49.42%,#5f0000 50.05%,#380000 53.12%,#170000 61.59%,#200000 68.36%,#0c0000 74.81%,#110000 93.86%,#1e0000 100.00%)"></i>
<i style="top:116px;height:1px;background:linear-gradient(90deg,#0f0000 0.00%,#100000 1.80%,#350000 6.03%,#3c0000 8.15%,#4c0000 9.74%,#6b0000 10.79%,#920000 11.64%,#a10000 13.02%,#e70000 14.07%,#f50000 14.81%,#ef0000 15.24%,#da0000 15.66%,#a90000 16.19%,#930000 17.35%,#530000 18.84%,#4b0000 19.89%,#6b0000 22.22%,#6e0000 23.17%,#5d0000 24.13%,#390000 25.19%,#220000 26.46%,#1b0000 30.37%,#3b0000 35.66%,#420000 37.78%,#660000 39.37%,#930000 40.63%,#9c0000 41.69%,#ad0000 42.12%,#d90000 42.54%,#ff0f00 42.96%,#ffa500 44.23%,#ffde00 44.97%,#ffe400 45.29%,#ffdd00 45.61%,#ff9d00 46.35%,#ff2b00 47.20%,#f60000 47.62%,#c00000 48.04%,#9e0000 48.47%,#910000 49.42%,#6d0000 50.05%,#4e0000 51.85%,#320000 54.71%,#1a0000 63.17%,#220000 68.36%,#0d0000 74.81%,#120000 93.86%,#200000 100.00%)"></i>
<i style="top:117px;height:1px;background:linear-gradient(90deg,#0f0000 0.00%,#100000 1.80%,#360000 6.03%,#3d0000 8.15%,#4f0000 9.74%,#6e0000 10.79%,#930000 11.64%,#a50000 13.02%,#ee0000 14.07%,#fd0000 14.81%,#f60000 15.24%,#e00000 15.66%,#ae0000 16.19%,#9b0000 16.72%,#940000 17.35%,#550000 18.84%,#4e0000 19.89%,#6e0000 22.22%,#720000 23.17%,#600000 24.13%,#3b0000 25.19%,#230000 26.46%,#1b0000 30.37%,#3c0000 35.66%,#440000 37.78%,#690000 39.37%,#930000 40.63%,#9d0000 41.69%,#b20000 42.12%,#df0000 42.54%,#ff1700 42.96%,#ffb200 44.23%,#ffec00 44.97%,#fff300 45.29%,#ffeb00 45.61%,#ffaa00 46.35%,#fd0000 47.62%,#c70000 48.04%,#9e0000 48.47%,#920000 49.42%,#700000 50.05%,#4f0000 51.85%,#330000 54.71%,#1a0000 63.17%,#230000 68.36%,#0e0000 73.44%,#120000 93.86%,#210000 100.00%)"></i>
<i style="top:118px;height:1px;background:linear-gradient(90deg,#0e0000 0.00%,#100000 1.80%,#330000 6.03%,#390000 8.15%,#490000 9.74%,#660000 10.79%,#8f0000 11.64%,#9f0000 13.02%,#dd0000 14.07%,#eb0000 14.81%,#e50000 15.24%,#d10000 15.66%,#a30000 16.19%,#920000 17.35%,#6e0000 17.99%,#4f0000 18.84%,#480000 19.89%,#660000 22.22%,#690000 23.17%,#590000 24.13%,#370000 25.19%,#210000 26.46%,#1a0000 30.37%,#390000 35.66%,#3f0000 37.78%,#610000 39.37%,#920000 40.63%,#a70000 42.12%,#ff0300 42.96%,#ff9300 44.23%,#ffc900 44.97%,#ffd000 45.29%,#ffc800 45.61%,#ff8c00 46.35%,#ff1e00 47.20%,#eb0000 47.62%,#b50000 48.04%,#9d0000 48.47%,#8e0000 49.42%,#690000 50.05%,#4b0000 51.85%,#310000 54.71%,#190000 63.17%,#220000 68.36%,#0d0000 74.81%,#110000 93.86%,#200000 100.00%)"></i>
<i style="top:119px;height:1px;background:linear-gradient(90deg,#0e0000 0.00%,#0f0000 1.80%,#2e0000 6.03%,#410000 9.74%,#5b0000 10.79%,#860000 11.64%,#a90000 13.54%,#c70000 14.07%,#d40000 14.81%,#cf0000 15.24%,#9e0000 16.19%,#8c0000 17.35%,#630000 17.99%,#470000 18.84%,#400000 19.89%,#5f0000 23.17%,#500000 24.13%,#320000 25.19%,#1e0000 26.46%,#190000 30.37%,#340000 35.66%,#3a0000 37.78%,#580000 39.37%,#8a0000 40.63%,#9e0000 42.12%,#b80000 42.54%,#ea0000 42.96%,#ff1900 43.39%,#ff8d00 44.66%,#ffa300 45.29%,#ff8900 45.93%,#ff6600 46.35%,#ff0300 47.20%,#a50000 48.04%,#860000 49.42%,#610000 50.05%,#390000 53.12%,#170000 61.59%,#200000 68.36%,#0c0000 75.56%,#150000 96.51%,#1e0000 100.00%)"></i>
<i style="top:120px;height:1px;background:linear-gradient(90deg,#0d0000 0.00%,#1e0000 3.92%,#3a0000 9.74%,#500000 10.79%,#940000 12.38%,#9e0000 13.54%,#b90000 14.81%,#950000 16.72%,#7e0000 17.35%,#570000 17.99%,#3e0000 18.84%,#390000 19.89%,#530000 23.17%,#1c0000 26.46%,#1d0000 32.17%,#2f0000 35.66%,#3e0000 38.62%,#5f0000 40.00%,#920000 41.16%,#a40000 42.54%,#f90000 43.39%,#ff6000 44.66%,#ff7400 45.29%,#ff5d00 45.93%,#ff1400 46.77%,#e50000 47.20%,#ba0000 47.62%,#9e0000 48.04%,#930000 48.89%,#570000 50.05%,#2c0000 54.71%,#180000 63.17%,#1e0000 68.36%,#0b0000 76.40%,#140000 96.51%,#1d0000 100.00%)"></i>
<i style="top:121px;height:1px;background:linear-gradient(90deg,#0d0000 0.00%,#1b0000 3.92%,#330000 9.74%,#450000 10.79%,#8e0000 12.38%,#a10000 14.81%,#920000 16.72%,#4b0000 17.99%,#360000 18.84%,#320000 19.89%,#480000 23.17%,#190000 26.46%,#1b0000 32.17%,#370000 38.62%,#530000 40.00%,#880000 41.16%,#9d0000 42.54%,#b10000 42.96%,#f80000 43.81%,#ff4000 44.97%,#ff3f00 45.61%,#ff1500 46.35%,#f00000 46.77%,#a20000 47.62%,#8b0000 48.89%,#680000 49.42%,#4e0000 50.05%,#290000 54.71%,#160000 63.17%,#1d0000 68.36%,#0a0000 76.40%,#130000 96.51%,#1b0000 100.00%)"></i>
<i style="top:122px;height:1px;background:linear-gradient(90deg,#0c0000 0.00%,#2c0000 9.74%,#3a0000 10.79%,#560000 11.64%,#940000 13.02%,#990000 15.66%,#870000 16.72%,#5b0000 17.35%,#3e0000 17.99%,#2f0000 18.84%,#330000 21.16%,#3c0000 23.17%,#170000 26.46%,#180000 32.17%,#300000 38.62%,#460000 40.00%,#730000 41.16%,#8f0000 41.69%,#9e0000 42.96%,#f00000 44.23%,#ff0600 44.66%,#ff1500 45.29%,#ff0400 45.93%,#cd0000 46.77%,#a70000 47.20%,#920000 48.47%,#590000 49.42%,#440000 50.05%,#200000 56.83%,#150000 63.17%,#1b0000 68.36%,#0a0000 76.40%,#120000 96.51%,#1a0000 100.00%)"></i>
<i style="top:123px;height:1px;background:linear-gradient(90deg,#0c0000 0.00%,#2a0000 9.74%,#370000 10.79%,#510000 11.64%,#930000 13.02%,#980000 15.66%,#940000 16.19%,#800000 16.72%,#570000 17.35%,#3b0000 17.99%,#2d0000 18.84%,#310000 21.16%,#390000 23.17%,#160000 26.46%,#180000 32.17%,#2e0000 38.62%,#420000 40.00%,#6d0000 41.16%,#8b0000 41.69%,#9d0000 42.96%,#ac0000 43.39%,#f90000 44.66%,#ff0400 45.61%,#e10000 46.35%,#a00000 47.20%,#8f0000 48.47%,#550000 49.42%,#410000 50.05%,#1f0000 56.83%,#150000 63.17%,#1a0000 68.36%,#090000 77.46%,#120000 96.51%,#190000 100.00%)"></i>
<i style="top:124px;height:1px;background:linear-gradient(90deg,#0c0000 0.00%,#280000 9.74%,#350000 10.79%,#4e0000 11.64%,#920000 13.02%,#970000 15.66%,#930000 16.19%,#390000 17.99%,#2b0000 18.84%,#2f0000 21.16%,#380000 23.17%,#160000 26.46%,#170000 32.17%,#2c0000 38.62%,#3f0000 40.00%,#690000 41.16%,#880000 41.69%,#a70000 43.39%,#f00000 44.66%,#fe0000 45.29%,#ee0000 45.93%,#9f0000 47.20%,#8c0000 48.47%,#520000 49.42%,#3f0000 50.05%,#1a0000 58.41%,#180000 64.55%,#150000 69.63%,#090000 79.79%,#120000 96.51%,#190000 100.00%)"></i>
<i style="top:125px;height:1px;background:linear-gradient(90deg,#0b0000 0.00%,#270000 9.74%,#340000 10.79%,#4b0000 11.64%,#8f0000 13.02%,#980000 15.24%,#920000 16.19%,#500000 17.35%,#370000 17.99%,#270000 19.89%,#360000 23.17%,#150000 26.46%,#1c0000 33.54%,#2b0000 38.62%,#3d0000 40.00%,#650000 41.16%,#930000 42.12%,#a10000 43.39%,#e80000 44.66%,#f10000 45.61%,#d10000 46.35%,#b10000 46.77%,#9e0000 47.20%,#8a0000 48.47%,#690000 48.89%,#3d0000 50.05%,#1a0000 58.41%,#170000 64.55%,#150000 69.63%,#090000 79.79%,#110000 96.51%,#190000 100.00%)"></i>
<i style="top:126px;height:1px;background:linear-gradient(90deg,#0c0000 0.00%,#280000 9.74%,#350000 10.79%,#4c0000 11.64%,#910000 13.02%,#970000 15.66%,#930000 16.19%,#520000 17.35%,#390000 17.99%,#2b0000 18.84%,#2e0000 21.16%,#370000 23.17%,#160000 26.46%,#170000 32.17%,#2c0000 38.62%,#3e0000 40.00%,#670000 41.16%,#860000 41.69%,#a50000 43.39%,#ed0000 44.66%,#fa0000 45.29%,#eb0000 45.93%,#9e0000 47.20%,#8b0000 48.47%,#510000 49.42%,#3e0000 50.05%,#1a0000 58.41%,#180000 64.55%,#150000 69.63%,#090000 79.79%,#120000 96.51%,#190000 100.00%)"></i>
<i style="top:127px;height:1px;background:linear-gradient(90deg,#0c0000 0.00%,#290000 9.74%,#360000 10.79%,#4f0000 11.64%,#920000 13.02%,#970000 15.66%,#930000 16.19%,#3a0000 17.99%,#2c0000 18.84%,#2f0000 21.16%,#380000 23.17%,#160000 26.46%,#170000 32.17%,#2d0000 38.62%,#400000 40.00%,#6a0000 41.16%,#890000 41.69%,#a90000 43.39%,#f30000 44.66%,#ff0200 45.29%,#f10000 45.93%,#bb0000 46.77%,#9f0000 47.20%,#8d0000 48.47%,#530000 49.42%,#400000 50.05%,#1f0000 56.83%,#150000 63.17%,#1a0000 68.36%,#090000 77.46%,#120000 96.51%,#190000 100.00%)"></i>
<i style="top:128px;height:1px;background:linear-gradient(90deg,#0c0000 0.00%,#2d0000 9.74%,#3c0000 10.79%,#590000 11.64%,#820000 12.38%,#980000 13.54%,#9a0000 15.66%,#8a0000 16.72%,#5f0000 17.35%,#410000 17.99%,#310000 18.84%,#350000 21.16%,#3f0000 23.17%,#180000 26.46%,#190000 32.17%,#310000 38.62%,#480000 40.00%,#920000 41.69%,#9f0000 42.96%,#f90000 44.23%,#ff1f00 45.29%,#f50000 46.35%,#ad0000 47.20%,#970000 48.04%,#930000 48.47%,#5d0000 49.42%,#460000 50.05%,#200000 56.83%,#150000 63.17%,#1b0000 68.36%,#0a0000 77.46%,#120000 96.51%,#1a0000 100.00%)"></i>
<i style="top:129px;height:1px;background:linear-gradient(90deg,#0d0000 0.00%,#320000 9.74%,#430000 10.79%,#640000 11.64%,#8d0000 12.38%,#a00000 14.81%,#920000 16.72%,#490000 17.99%,#360000 18.84%,#3a0000 21.16%,#460000 23.17%,#190000 26.46%,#1a0000 32.17%,#360000 38.62%,#510000 40.00%,#940000 41.69%,#9c0000 42.54%,#ae0000 42.96%,#f40000 43.81%,#ff2f00 44.66%,#ff3f00 45.29%,#ff2c00 45.93%,#ff1100 46.35%,#ec0000 46.77%,#a00000 47.62%,#8a0000 48.89%,#670000 49.42%,#4d0000 50.05%,#290000 54.71%,#160000 63.17%,#1d0000 68.36%,#0a0000 76.40%,#130000 96.51%,#1b0000 100.00%)"></i>
<i style="top:130px;height:1px;background:linear-gradient(90deg,#0d0000 0.00%,#0e0000 1.80%,#370000 9.74%,#4b0000 10.79%,#930000 12.38%,#ae0000 14.81%,#940000 16.72%,#520000 17.99%,#3b0000 18.84%,#360000 19.89%,#4e0000 23.17%,#1b0000 26.46%,#1c0000 32.17%,#2d0000 35.66%,#3b0000 38.62%,#5a0000 40.00%,#8e0000 41.16%,#9f0000 42.54%,#ec0000 43.39%,#ff0d00 43.81%,#ff4d00 44.66%,#ff6000 45.29%,#ff4a00 45.93%,#ff0500 46.77%,#ae0000 47.62%,#960000 48.47%,#910000 48.89%,#530000 50.05%,#2b0000 54.71%,#170000 63.17%,#1e0000 68.36%,#0a0000 76.40%,#140000 96.51%,#1c0000 100.00%)"></i>
<i style="top:131px;height:1px;background:linear-gradient(90deg,#0d0000 0.00%,#1c0000 3.92%,#340000 9.74%,#470000 10.79%,#900000 12.38%,#a50000 14.81%,#930000 16.72%,#4d0000 17.99%,#380000 18.84%,#3c0000 21.16%,#4a0000 23.17%,#1a0000 26.46%,#1b0000 32.17%,#2b0000 35.66%,#380000 38.62%,#550000 40.00%,#8a0000 41.16%,#9d0000 42.54%,#b60000 42.96%,#fe0000 43.81%,#ff3c00 44.66%,#ff4d00 45.29%,#ff3900 45.93%,#f60000 46.77%,#a60000 47.62%,#8d0000 48.89%,#4f0000 50.05%,#2a0000 54.71%,#170000 63.17%,#1d0000 68.36%,#0a0000 76.40%,#130000 96.51%,#1c0000 100.00%)"></i>
<i style="top:132px;height:1px;background:linear-gradient(90deg,#0c0000 0.00%,#310000 9.74%,#410000 10.79%,#610000 11.64%,#8a0000 12.38%,#9f0000 14.81%,#900000 16.72%,#470000 17.99%,#340000 18.84%,#380000 21.16%,#440000 23.17%,#190000 26.46%,#1a0000 32.17%,#350000 38.62%,#4e0000 40.00%,#930000 41.69%,#a90000 42.96%,#ec0000 43.81%,#ff0d00 44.23%,#ff3100 44.97%,#ff3000 45.61%,#ff0800 46.35%,#e50000 46.77%,#9f0000 47.62%,#860000 48.89%,#630000 49.42%,#4a0000 50.05%,#280000 54.71%,#160000 63.17%,#1c0000 68.36%,#0a0000 76.40%,#130000 96.51%,#1b0000 100.00%)"></i>
<i style="top:133px;height:1px;background:linear-gradient(90deg,#0d0000 0.00%,#1e0000 3.92%,#390000 9.74%,#4f0000 10.79%,#930000 12.38%,#9e0000 13.54%,#b70000 14.81%,#950000 16.72%,#7d0000 17.35%,#560000 17.99%,#3d0000 18.84%,#390000 19.89%,#520000 23.17%,#1b0000 26.46%,#1d0000 32.17%,#2e0000 35.66%,#3e0000 38.62%,#5f0000 40.00%,#910000 41.16%,#a20000 42.54%,#f70000 43.39%,#ff1a00 43.81%,#ff5d00 44.66%,#ff7100 45.29%,#ff5a00 45.93%,#ff1100 46.77%,#e30000 47.20%,#b80000 47.62%,#9d0000 48.04%,#930000 48.89%,#570000 50.05%,#2c0000 54.71%,#170000 63.17%,#1e0000 68.36%,#0b0000 76.40%,#140000 96.51%,#1d0000 100.00%)"></i>
<i style="top:134px;height:1px;background:linear-gradient(90deg,#0e0000 0.00%,#100000 1.80%,#300000 6.03%,#440000 9.74%,#5f0000 10.79%,#8a0000 11.64%,#9d0000 13.02%,#b00000 13.54%,#d10000 14.07%,#de0000 14.81%,#d80000 15.24%,#9f0000 16.19%,#8f0000 17.35%,#680000 17.99%,#4a0000 18.84%,#430000 19.89%,#600000 22.22%,#630000 23.17%,#530000 24.13%,#340000 25.19%,#1f0000 26.46%,#190000 30.37%,#360000 35.66%,#3c0000 37.78%,#5c0000 39.37%,#8d0000 40.63%,#a00000 42.12%,#c20000 42.54%,#f40000 42.96%,#ff4f00 43.81%,#ff7d00 44.23%,#ffaf00 44.97%,#ffaf00 45.61%,#ff7500 46.35%,#ff0e00 47.20%,#de0000 47.62%,#ab0000 48.04%,#8a0000 49.42%,#640000 50.05%,#3a0000 53.12%,#180000 61.59%,#210000 68.36%,#0e0000 73.44%,#110000 93.86%,#1f0000 100.00%)"></i>
<i style="top:135px;height:1px;background:linear-gradient(90deg,#0f0000 0.00%,#110000 1.80%,#370000 6.03%,#3e0000 8.15%,#500000 9.74%,#930000 11.64%,#a70000 13.02%,#f20000 14.07%,#ff0100 14.81%,#fa0000 15.24%,#e30000 15.66%,#b00000 16.19%,#9b0000 16.72%,#940000 17.35%,#570000 18.84%,#4f0000 19.89%,#700000 22.22%,#740000 23.17%,#610000 24.13%,#3b0000 25.19%,#230000 26.46%,#1c0000 30.37%,#3d0000 35.66%,#450000 37.78%,#6b0000 39.37%,#930000 40.63%,#9d0000 41.69%,#b50000 42.12%,#e20000 42.54%,#ff1b00 42.96%,#ffb800 44.23%,#fff300 44.97%,#fffa00 45.29%,#fff200 45.61%,#ffb000 46.35%,#ff0100 47.62%,#9f0000 48.47%,#930000 49.42%,#720000 50.05%,#500000 51.85%,#330000 54.71%,#1a0000 63.17%,#230000 68.36%,#0d0000 74.81%,#120000 93.86%,#210000 100.00%)"></i>
<i style="top:136px;height:1px;background:linear-gradient(90deg,#0f0000 0.00%,#110000 1.80%,#370000 6.03%,#3e0000 8.15%,#500000 9.74%,#930000 11.64%,#a70000 13.02%,#f20000 14.07%,#ff0100 14.81%,#fa0000 15.24%,#e30000 15.66%,#b00000 16.19%,#9b0000 16.72%,#940000 17.35%,#570000 18.84%,#4f0000 19.89%,#700000 22.22%,#740000 23.17%,#610000 24.13%,#3b0000 25.19%,#230000 26.46%,#1c0000 30.37%,#3d0000 35.66%,#450000 37.78%,#6b0000 39.37%,#930000 40.63%,#9d0000 41.69%,#b50000 42.12%,#e20000 42.54%,#ff1b00 42.96%,#ffb800 44.23%,#fff300 44.97%,#fffa00 45.29%,#fff200 45.61%,#ffb000 46.35%,#ff0100 47.62%,#9f0000 48.47%,#930000 49.42%,#720000 50.05%,#500000 51.85%,#330000 54.71%,#1a0000 63.17%,#230000 68.36%,#0d0000 74.81%,#120000 93.86%,#210000 100.00%)"></i>
<i style="top:137px;height:1px;background:linear-gradient(90deg,#0e0000 0.00%,#100000 1.80%,#320000 6.03%,#470000 9.74%,#630000 10.79%,#8d0000 11.64%,#9e0000 13.02%,#d80000 14.07%,#e50000 14.81%,#df0000 15.24%,#cb0000 15.66%,#a00000 16.19%,#910000 17.35%,#6b0000 17.99%,#4d0000 18.84%,#460000 19.89%,#630000 22.22%,#660000 23.17%,#560000 24.13%,#360000 25.19%,#200000 26.46%,#1a0000 30.37%,#370000 35.66%,#3d0000 37.78%,#750000 40.00%,#900000 40.63%,#a30000 42.12%,#fb0000 42.96%,#ff8800 44.23%,#ffbd00 44.97%,#ffc300 45.29%,#ffbc00 45.61%,#ff8100 46.35%,#ff1600 47.20%,#e50000 47.62%,#b00000 48.04%,#9c0000 48.47%,#8c0000 49.42%,#670000 50.05%,#4a0000 51.85%,#300000 54.71%,#190000 63.17%,#210000 68.36%,#0c0000 75.56%,#110000 93.86%,#1f0000 100.00%)"></i>
<i style="top:138px;height:1px;background:linear-gradient(90deg,#0e0000 0.00%,#0f0000 1.80%,#3d0000 9.74%,#560000 10.79%,#7f0000 11.64%,#950000 12.38%,#a10000 13.54%,#c70000 14.50%,#c20000 15.24%,#9c0000 16.19%,#870000 17.35%,#5d0000 17.99%,#420000 18.84%,#3c0000 19.89%,#590000 23.17%,#1d0000 26.46%,#180000 30.37%,#310000 35.66%,#370000 37.78%,#660000 40.00%,#930000 41.16%,#9d0000 42.12%,#ad0000 42.54%,#dd0000 42.96%,#ff0a00 43.39%,#ff5900 44.23%,#ff8700 44.97%,#ff8600 45.61%,#ff5200 46.35%,#f40000 47.20%,#9f0000 48.04%,#940000 48.89%,#5c0000 50.05%,#370000 53.12%,#170000 61.59%,#1f0000 68.36%,#0c0000 75.56%,#150000 96.51%,#1e0000 100.00%)"></i>
<i style="top:139px;height:1px;background:linear-gradient(90deg,#0e0000 0.00%,#100000 1.80%,#2f0000 6.03%,#430000 9.74%,#5d0000 10.79%,#890000 11.64%,#ac0000 13.54%,#cc0000 14.07%,#d80000 14.81%,#d30000 15.24%,#9e0000 16.19%,#8d0000 17.35%,#650000 17.99%,#480000 18.84%,#420000 19.89%,#610000 23.17%,#1f0000 26.46%,#190000 30.37%,#350000 35.66%,#3b0000 37.78%,#590000 39.37%,#8b0000 40.63%,#9f0000 42.12%,#bc0000 42.54%,#ee0000 42.96%,#ff1f00 43.39%,#ff7400 44.23%,#ffa500 44.97%,#ffab00 45.29%,#ff9100 45.93%,#ff6d00 46.35%,#ff0800 47.20%,#a80000 48.04%,#880000 49.42%,#620000 50.05%,#3a0000 53.12%,#180000 61.59%,#200000 68.36%,#0c0000 75.56%,#150000 96.51%,#1f0000 100.00%)"></i>
<i style="top:140px;height:1px;background:linear-gradient(90deg,#0e0000 0.00%,#100000 1.80%,#320000 6.03%,#480000 9.74%,#640000 10.79%,#8e0000 11.64%,#9e0000 13.02%,#db0000 14.07%,#e80000 14.81%,#e20000 15.24%,#ce0000 15.66%,#a10000 16.19%,#920000 17.35%,#6d0000 17.99%,#4e0000 18.84%,#470000 19.89%,#650000 22.22%,#680000 23.17%,#580000 24.13%,#360000 25.19%,#210000 26.46%,#1a0000 30.37%,#380000 35.66%,#3e0000 37.78%,#600000 39.37%,#910000 40.63%,#a50000 42.12%,#ff0000 42.96%,#ff8e00 44.23%,#ffc400 44.97%,#ffca00 45.29%,#ffc300 45.61%,#ff8700 46.35%,#ff1b00 47.20%,#e80000 47.62%,#b30000 48.04%,#9c0000 48.47%,#8d0000 49.42%,#680000 50.05%,#4b0000 51.85%,#310000 54.71%,#190000 63.17%,#210000 68.36%,#0c0000 75.56%,#110000 93.86%,#200000 100.00%)"></i>
<i style="top:141px;height:1px;background:linear-gradient(90deg,#0e0000 0.00%,#0f0000 1.80%,#3d0000 9.74%,#560000 10.79%,#7f0000 11.64%,#950000 12.38%,#a10000 13.54%,#c80000 14.50%,#c30000 15.24%,#9c0000 16.19%,#870000 17.35%,#5d0000 17.99%,#430000 18.84%,#3d0000 19.89%,#570000 22.22%,#590000 23.17%,#1d0000 26.46%,#180000 30.37%,#320000 35.66%,#370000 37.78%,#660000 40.00%,#850000 40.63%,#9d0000 42.12%,#ae0000 42.54%,#de0000 42.96%,#ff0b00 43.39%,#ff7900 44.66%,#ff8d00 45.29%,#ff7500 45.93%,#ff2700 46.77%,#f50000 47.20%,#9f0000 48.04%,#940000 48.89%,#5c0000 50.05%,#370000 53.12%,#170000 61.59%,#1f0000 68.36%,#0c0000 75.56%,#150000 96.51%,#1e0000 100.00%)"></i>
<i style="top:142px;height:1px;background:linear-gradient(90deg,#0d0000 0.00%,#1c0000 3.92%,#350000 9.74%,#480000 10.79%,#910000 12.38%,#a70000 14.81%,#930000 16.72%,#4e0000 17.99%,#380000 18.84%,#340000 19.89%,#4b0000 23.17%,#1a0000 26.46%,#1b0000 32.17%,#2b0000 35.66%,#390000 38.62%,#560000 40.00%,#8b0000 41.16%,#9e0000 42.54%,#b90000 42.96%,#ff0200 43.81%,#ff3f00 44.66%,#ff5100 45.29%,#ff3c00 45.93%,#f90000 46.77%,#a80000 47.62%,#8e0000 48.89%,#500000 50.05%,#2a0000 54.71%,#170000 63.17%,#1d0000 68.36%,#0a0000 76.40%,#140000 96.51%,#1c0000 100.00%)"></i>
<i style="top:143px;height:1px;background:linear-gradient(90deg,#0d0000 0.00%,#320000 9.74%,#430000 10.79%,#630000 11.64%,#8c0000 12.38%,#9f0000 14.81%,#920000 16.72%,#490000 17.99%,#350000 18.84%,#310000 19.89%,#460000 23.17%,#190000 26.46%,#1a0000 32.17%,#360000 38.62%,#500000 40.00%,#940000 41.69%,#9c0000 42.54%,#ac0000 42.96%,#f20000 43.81%,#ff1300 44.23%,#ff3800 44.97%,#ff3700 45.61%,#ff0e00 46.35%,#ea0000 46.77%,#a00000 47.62%,#890000 48.89%,#660000 49.42%,#4c0000 50.05%,#290000 54.71%,#160000 63.17%,#1c0000 68.36%,#0a0000 76.40%,#130000 96.51%,#1b0000 100.00%)"></i>
<i style="top:144px;height:1px;background:linear-gradient(90deg,#0d0000 0.00%,#1c0000 3.92%,#340000 9.74%,#470000 10.79%,#910000 12.38%,#a60000 14.81%,#930000 16.72%,#4e0000 17.99%,#380000 18.84%,#340000 19.89%,#4a0000 23.17%,#1a0000 26.46%,#1b0000 32.17%,#2b0000 35.66%,#390000 38.62%,#560000 40.00%,#8a0000 41.16%,#9e0000 42.54%,#b80000 42.96%,#ff0100 43.81%,#ff3e00 44.66%,#ff5000 45.29%,#ff3b00 45.93%,#f80000 46.77%,#a70000 47.62%,#8d0000 48.89%,#500000 50.05%,#2a0000 54.71%,#170000 63.17%,#1d0000 68.36%,#0a0000 76.40%,#130000 96.51%,#1c0000 100.00%)"></i>
<i style="top:145px;height:1px;background:linear-gradient(90deg,#0d0000 0.00%,#0e0000 1.80%,#370000 9.74%,#4c0000 10.79%,#930000 12.38%,#af0000 14.81%,#940000 16.72%,#520000 17.99%,#3b0000 18.84%,#370000 19.89%,#4f0000 23.17%,#1b0000 26.46%,#1c0000 32.17%,#2d0000 35.66%,#3c0000 38.62%,#5b0000 40.00%,#8e0000 41.16%,#9f0000 42.54%,#ee0000 43.39%,#ff1000 43.81%,#ff5000 44.66%,#ff6300 45.29%,#ff4d00 45.93%,#ff0700 46.77%,#b00000 47.62%,#9c0000 48.04%,#920000 48.89%,#540000 50.05%,#2b0000 54.71%,#170000 63.17%,#1e0000 68.36%,#0a0000 76.40%,#140000 96.51%,#1c0000 100.00%)"></i>
<i style="top:146px;height:1px;background:linear-gradient(90deg,#0d0000 0.00%,#320000 9.74%,#430000 10.79%,#640000 11.64%,#8d0000 12.38%,#a00000 14.81%,#920000 16.72%,#490000 17.99%,#360000 18.84%,#3a0000 21.16%,#460000 23.17%,#190000 26.46%,#1a0000 32.17%,#360000 38.62%,#510000 40.00%,#940000 41.69%,#9c0000 42.54%,#ae0000 42.96%,#f40000 43.81%,#ff2e00 44.66%,#ff3f00 45.29%,#ff2c00 45.93%,#ff1100 46.35%,#ec0000 46.77%,#a00000 47.62%,#8a0000 48.89%,#670000 49.42%,#4c0000 50.05%,#290000 54.71%,#160000 63.17%,#1d0000 68.36%,#0a0000 76.40%,#130000 96.51%,#1b0000 100.00%)"></i>
<i style="top:147px;height:1px;background:linear-gradient(90deg,#0c0000 0.00%,#2d0000 9.74%,#3b0000 10.79%,#580000 11.64%,#800000 12.38%,#940000 13.02%,#990000 15.66%,#890000 16.72%,#5e0000 17.35%,#400000 17.99%,#300000 18.84%,#340000 21.16%,#3d0000 23.17%,#170000 26.46%,#190000 32.17%,#310000 38.62%,#470000 40.00%,#910000 41.69%,#9f0000 42.96%,#f60000 44.23%,#ff1b00 45.29%,#ff0a00 45.93%,#f10000 46.35%,#ab0000 47.20%,#930000 48.47%,#5b0000 49.42%,#450000 50.05%,#200000 56.83%,#150000 63.17%,#1b0000 68.36%,#0a0000 77.46%,#120000 96.51%,#1a0000 100.00%)"></i>
<i style="top:148px;height:1px;background:linear-gradient(90deg,#0c0000 0.00%,#2c0000 9.74%,#3a0000 10.79%,#560000 11.64%,#940000 13.02%,#990000 15.66%,#860000 16.72%,#5b0000 17.35%,#3e0000 17.99%,#2f0000 18.84%,#330000 21.16%,#3c0000 23.17%,#170000 26.46%,#180000 32.17%,#300000 38.62%,#460000 40.00%,#720000 41.16%,#8f0000 41.69%,#9e0000 42.96%,#f00000 44.23%,#ff0600 44.66%,#ff1500 45.29%,#ff0400 45.93%,#cd0000 46.77%,#a70000 47.20%,#920000 48.47%,#590000 49.42%,#440000 50.05%,#200000 56.83%,#150000 63.17%,#1b0000 68.36%,#0a0000 76.40%,#120000 96.51%,#1a0000 100.00%)"></i>
<i style="top:149px;height:1px;background:linear-gradient(90deg,#0c0000 0.00%,#2f0000 9.74%,#3f0000 10.79%,#5d0000 11.64%,#880000 12.38%,#9c0000 14.07%,#960000 16.19%,#8d0000 16.72%,#440000 17.99%,#330000 18.84%,#370000 21.16%,#420000 23.17%,#180000 26.46%,#190000 32.17%,#330000 38.62%,#4c0000 40.00%,#930000 41.69%,#a40000 42.96%,#ff0500 44.23%,#ff2800 44.97%,#ff2700 45.61%,#ff0000 46.35%,#b40000 47.20%,#9e0000 47.62%,#940000 48.47%,#480000 50.05%,#280000 54.71%,#160000 63.17%,#1c0000 68.36%,#0a0000 76.40%,#130000 96.51%,#1b0000 100.00%)"></i>
<i style="top:150px;height:1px;background:linear-gradient(90deg,#0d0000 0.00%,#1b0000 3.92%,#330000 9.74%,#440000 10.79%,#650000 11.64%,#8e0000 12.38%,#a10000 14.81%,#920000 16.72%,#4a0000 17.99%,#360000 18.84%,#320000 19.89%,#470000 23.17%,#190000 26.46%,#1b0000 32.17%,#290000 35.66%,#370000 38.62%,#520000 40.00%,#870000 41.16%,#9d0000 42.54%,#b00000 42.96%,#f60000 43.81%,#ff3e00 44.97%,#ff3e00 45.61%,#ff1400 46.35%,#ef0000 46.77%,#a10000 47.62%,#8a0000 48.89%,#680000 49.42%,#4d0000 50.05%,#290000 54.71%,#160000 63.17%,#1d0000 68.36%,#0a0000 76.40%,#130000 96.51%,#1b0000 100.00%)"></i>
<i style="top:151px;height:1px;background:linear-gradient(90deg,#0d0000 0.00%,#1b0000 3.92%,#340000 9.74%,#460000 10.79%,#8f0000 12.38%,#a40000 14.81%,#930000 16.72%,#4c0000 17.99%,#370000 18.84%,#330000 19.89%,#490000 23.17%,#1a0000 26.46%,#1b0000 32.17%,#380000 38.62%,#540000 40.00%,#890000 41.16%,#9d0000 42.54%,#b30000 42.96%,#fb0000 43.81%,#ff4500 44.97%,#ff4400 45.61%,#ff1a00 46.35%,#f40000 46.77%,#a40000 47.62%,#8c0000 48.89%,#6a0000 49.42%,#4f0000 50.05%,#2a0000 54.71%,#170000 63.17%,#1d0000 68.36%,#0a0000 76.40%,#130000 96.51%,#1b0000 100.00%)"></i>
<i style="top:152px;height:1px;background:linear-gradient(90deg,#0d0000 0.00%,#320000 9.74%,#430000 10.79%,#640000 11.64%,#8d0000 12.38%,#a00000 14.81%,#920000 16.72%,#490000 17.99%,#360000 18.84%,#3a0000 21.16%,#460000 23.17%,#190000 26.46%,#1a0000 32.17%,#360000 38.62%,#510000 40.00%,#940000 41.69%,#9c0000 42.54%,#ae0000 42.96%,#f40000 43.81%,#ff2f00 44.66%,#ff3f00 45.29%,#ff2c00 45.93%,#ff1100 46.35%,#ec0000 46.77%,#a00000 47.62%,#8a0000 48.89%,#670000 49.42%,#4d0000 50.05%,#290000 54.71%,#160000 63.17%,#1d0000 68.36%,#0a0000 76.40%,#130000 96.51%,#1b0000 100.00%)"></i>
<i style="top:153px;height:1px;background:linear-gradient(90deg,#0c0000 0.00%,#310000 9.74%,#410000 10.79%,#610000 11.64%,#8a0000 12.38%,#9f0000 14.50%,#900000 16.72%,#470000 17.99%,#340000 18.84%,#380000 21.16%,#440000 23.17%,#190000 26.46%,#1a0000 32.17%,#350000 38.62%,#4f0000 40.00%,#930000 41.69%,#a90000 42.96%,#ec0000 43.81%,#ff0e00 44.23%,#ff3100 44.97%,#ff3100 45.61%,#ff0900 46.35%,#e50000 46.77%,#9f0000 47.62%,#870000 48.89%,#640000 49.42%,#4a0000 50.05%,#280000 54.71%,#160000 63.17%,#1c0000 68.36%,#0a0000 76.40%,#130000 96.51%,#1b0000 100.00%)"></i>
<i style="top:154px;height:1px;background:linear-gradient(90deg,#0c0000 0.00%,#300000 9.74%,#400000 10.79%,#600000 11.64%,#8a0000 12.38%,#9e0000 14.81%,#8f0000 16.72%,#460000 17.99%,#340000 18.84%,#380000 21.16%,#430000 23.17%,#180000 26.46%,#1a0000 32.17%,#340000 38.62%,#4e0000 40.00%,#930000 41.69%,#a80000 42.96%,#ea0000 43.81%,#ff0b00 44.23%,#ff2e00 44.97%,#ff2e00 45.61%,#ff0600 46.35%,#e30000 46.77%,#ba0000 47.20%,#9f0000 47.62%,#940000 48.47%,#850000 48.89%,#630000 49.42%,#4a0000 50.05%,#280000 54.71%,#160000 63.17%,#1c0000 68.36%,#0a0000 76.40%,#130000 96.51%,#1b0000 100.00%)"></i>
<i style="top:155px;height:1px;background:linear-gradient(90deg,#0c0000 0.00%,#300000 9.74%,#400000 10.79%,#600000 11.64%,#8a0000 12.38%,#9e0000 14.81%,#8f0000 16.72%,#460000 17.99%,#340000 18.84%,#380000 21.16%,#430000 23.17%,#180000 26.46%,#1a0000 32.17%,#340000 38.62%,#4e0000 40.00%,#930000 41.69%,#a80000 42.96%,#ea0000 43.81%,#ff0b00 44.23%,#ff2e00 44.97%,#ff2e00 45.61%,#ff0600 46.35%,#e30000 46.77%,#ba0000 47.20%,#9f0000 47.62%,#940000 48.47%,#850000 48.89%,#630000 49.42%,#4a0000 50.05%,#280000 54.71%,#160000 63.17%,#1c0000 68.36%,#0a0000 76.40%,#130000 96.51%,#1b0000 100.00%)"></i>
<i style="top:156px;height:1px;background:linear-gradient(90deg,#0c0000 0.00%,#300000 9.74%,#400000 10.79%,#600000 11.64%,#8a0000 12.38%,#9e0000 14.81%,#8f0000 16.72%,#460000 17.99%,#340000 18.84%,#380000 21.16%,#430000 23.17%,#180000 26.46%,#1a0000 32.17%,#340000 38.62%,#4e0000 40.00%,#930000 41.69%,#a80000 42.96%,#ea0000 43.81%,#ff0b00 44.23%,#ff2e00 44.97%,#ff2e00 45.61%,#ff0600 46.35%,#e30000 46.77%,#ba0000 47.20%,#9f0000 47.62%,#940000 48.47%,#850000 48.89%,#630000 49.42%,#4a0000 50.05%,#280000 54.71%,#160000 63.17%,#1c0000 68.36%,#0a0000 76.40%,#130000 96.51%,#1b0000 100.00%)"></i>
<i style="top:157px;height:1px;background:linear-gradient(90deg,#0d0000 0.00%,#0f0000 1.80%,#3b0000 9.74%,#520000 10.79%,#940000 12.38%,#9f0000 13.54%,#be0000 14.50%,#b90000 15.24%,#9b0000 16.19%,#820000 17.35%,#5a0000 17.99%,#400000 18.84%,#3b0000 19.89%,#560000 23.17%,#1c0000 26.46%,#1e0000 32.17%,#300000 35.66%,#350000 37.78%,#500000 39.37%,#930000 41.16%,#a80000 42.54%,#ff0100 43.39%,#ff6a00 44.66%,#ff7e00 45.29%,#ff6700 45.93%,#ff1c00 46.77%,#ec0000 47.20%,#9e0000 48.04%,#930000 48.89%,#590000 50.05%,#2d0000 54.71%,#180000 63.17%,#1f0000 68.36%,#0b0000 75.56%,#140000 96.51%,#1d0000 100.00%)"></i>
<i style="top:158px;height:1px;background:linear-gradient(90deg,#0e0000 0.00%,#100000 1.80%,#320000 6.03%,#480000 9.74%,#640000 10.79%,#8e0000 11.64%,#9e0000 13.02%,#db0000 14.07%,#e80000 14.81%,#e20000 15.24%,#ce0000 15.66%,#a10000 16.19%,#920000 17.35%,#6d0000 17.99%,#4e0000 18.84%,#470000 19.89%,#650000 22.22%,#680000 23.17%,#580000 24.13%,#360000 25.19%,#210000 26.46%,#1a0000 30.37%,#380000 35.66%,#3e0000 37.78%,#600000 39.37%,#910000 40.63%,#a50000 42.12%,#ff0000 42.96%,#ff8e00 44.23%,#ffc400 44.97%,#ffca00 45.29%,#ffc300 45.61%,#ff8700 46.35%,#ff1b00 47.20%,#e80000 47.62%,#b30000 48.04%,#9c0000 48.47%,#8d0000 49.42%,#680000 50.05%,#4b0000 51.85%,#310000 54.71%,#190000 63.17%,#210000 68.36%,#0c0000 75.56%,#110000 93.86%,#200000 100.00%)"></i>
<i style="top:159px;height:1px;background:linear-gradient(90deg,#0e0000 0.00%,#0f0000 1.80%,#2c0000 6.03%,#3d0000 9.74%,#550000 10.79%,#7e0000 11.64%,#950000 12.38%,#a00000 13.54%,#c50000 14.50%,#c00000 15.24%,#9c0000 16.19%,#860000 17.35%,#5c0000 17.99%,#420000 18.84%,#3c0000 19.89%,#580000 23.17%,#1d0000 26.46%,#180000 30.37%,#310000 35.66%,#360000 37.78%,#650000 40.00%,#930000 41.16%,#9d0000 42.12%,#ac0000 42.54%,#ff0800 43.39%,#ff7400 44.66%,#ff8900 45.29%,#ff7100 45.93%,#ff2300 46.77%,#f20000 47.20%,#9f0000 48.04%,#940000 48.89%,#5b0000 50.05%,#2d0000 54.71%,#180000 63.17%,#1f0000 68.36%,#0c0000 75.56%,#150000 96.51%,#1e0000 100.00%)"></i>
<i style="top:160px;height:1px;background:linear-gradient(90deg,#0d0000 0.00%,#1c0000 3.92%,#340000 9.74%,#470000 10.79%,#910000 12.38%,#a70000 14.81%,#930000 16.72%,#4e0000 17.99%,#380000 18.84%,#340000 19.89%,#4a0000 23.17%,#1a0000 26.46%,#1b0000 32.17%,#2b0000 35.66%,#390000 38.62%,#560000 40.00%,#8a0000 41.16%,#9e0000 42.54%,#b80000 42.96%,#ff0100 43.81%,#ff3e00 44.66%,#ff5000 45.29%,#ff3b00 45.93%,#f80000 46.77%,#a70000 47.62%,#8d0000 48.89%,#500000 50.05%,#2a0000 54.71%,#170000 63.17%,#1d0000 68.36%,#0a0000 76.40%,#130000 96.51%,#1c0000 100.00%)"></i>
<i style="top:161px;height:1px;background:linear-gradient(90deg,#0d0000 0.00%,#0e0000 1.80%,#370000 9.74%,#4c0000 10.79%,#930000 12.38%,#ae0000 14.81%,#940000 16.72%,#520000 17.99%,#3b0000 18.84%,#360000 19.89%,#4f0000 23.17%,#1b0000 26.46%,#1c0000 32.17%,#2d0000 35.66%,#3b0000 38.62%,#5a0000 40.00%,#8e0000 41.16%,#9f0000 42.54%,#ed0000 43.39%,#ff0f00 43.81%,#ff4f00 44.66%,#ff6100 45.29%,#ff4b00 45.93%,#ff0600 46.77%,#af0000 47.62%,#9c0000 48.04%,#910000 48.89%,#530000 50.05%,#2b0000 54.71%,#170000 63.17%,#1e0000 68.36%,#0a0000 76.40%,#140000 96.51%,#1c0000 100.00%)"></i>
<i style="top:162px;height:1px;background:linear-gradient(90deg,#0d0000 0.00%,#1e0000 3.92%,#390000 9.74%,#4e0000 10.79%,#930000 12.38%,#aa0000 14.07%,#b40000 14.81%,#940000 16.72%,#7c0000 17.35%,#550000 17.99%,#3d0000 18.84%,#380000 19.89%,#520000 23.17%,#1b0000 26.46%,#1d0000 32.17%,#2e0000 35.66%,#3d0000 38.62%,#5e0000 40.00%,#910000 41.16%,#a10000 42.54%,#f40000 43.39%,#ff1700 43.81%,#ff5a00 44.66%,#ff6d00 45.29%,#ff5600 45.93%,#ff0f00 46.77%,#e10000 47.20%,#b50000 47.62%,#9d0000 48.04%,#930000 48.89%,#560000 50.05%,#2c0000 54.71%,#170000 63.17%,#1e0000 68.36%,#0b0000 76.40%,#140000 96.51%,#1d0000 100.00%)"></i>
<i style="top:163px;height:1px;background:linear-gradient(90deg,#0d0000 0.00%,#1b0000 3.92%,#330000 9.74%,#450000 10.79%,#8f0000 12.38%,#a20000 14.81%,#930000 16.72%,#4b0000 17.99%,#370000 18.84%,#3b0000 21.16%,#480000 23.17%,#190000 26.46%,#1b0000 32.17%,#370000 38.62%,#530000 40.00%,#880000 41.16%,#9d0000 42.54%,#b20000 42.96%,#fa0000 43.81%,#ff4200 44.97%,#ff4200 45.61%,#ff1800 46.35%,#f20000 46.77%,#a30000 47.62%,#8b0000 48.89%,#690000 49.42%,#4e0000 50.05%,#2a0000 54.71%,#160000 63.17%,#1d0000 68.36%,#0a0000 76.40%,#130000 96.51%,#1b0000 100.00%)"></i>
<i style="top:164px;height:1px;background:linear-gradient(90deg,#0c0000 0.00%,#2e0000 9.74%,#3d0000 10.79%,#5b0000 11.64%,#840000 12.38%,#980000 13.54%,#9a0000 15.66%,#8b0000 16.72%,#420000 17.99%,#310000 18.84%,#350000 21.16%,#3f0000 23.17%,#180000 26.46%,#190000 32.17%,#320000 38.62%,#4a0000 40.00%,#920000 41.69%,#a00000 42.96%,#fd0000 44.23%,#ff1f00 44.97%,#ff1f00 45.61%,#f80000 46.35%,#af0000 47.20%,#9d0000 47.62%,#930000 48.47%,#5e0000 49.42%,#470000 50.05%,#270000 54.71%,#160000 63.17%,#1b0000 68.36%,#0a0000 77.46%,#130000 96.51%,#1a0000 100.00%)"></i>
<i style="top:165px;height:1px;background:linear-gradient(90deg,#0c0000 0.00%,#2b0000 9.74%,#390000 10.79%,#550000 11.64%,#930000 13.02%,#990000 15.66%,#850000 16.72%,#5b0000 17.35%,#3e0000 17.99%,#2f0000 18.84%,#320000 21.16%,#3c0000 23.17%,#170000 26.46%,#180000 32.17%,#300000 38.62%,#450000 40.00%,#720000 41.16%,#8e0000 41.69%,#9e0000 42.96%,#ee0000 44.23%,#ff0400 44.66%,#ff1300 45.29%,#ff0200 45.93%,#cb0000 46.77%,#a60000 47.20%,#920000 48.47%,#590000 49.42%,#430000 50.05%,#200000 56.83%,#150000 63.17%,#1b0000 68.36%,#0a0000 76.40%,#120000 96.51%,#1a0000 100.00%)"></i>
<i style="top:166px;height:1px;background:linear-gradient(90deg,#0c0000 0.00%,#290000 9.74%,#360000 10.79%,#4f0000 11.64%,#920000 13.02%,#970000 15.66%,#930000 16.19%,#7d0000 16.72%,#540000 17.35%,#3a0000 17.99%,#2c0000 18.84%,#300000 21.16%,#380000 23.17%,#160000 26.46%,#170000 32.17%,#2d0000 38.62%,#400000 40.00%,#6a0000 41.16%,#890000 41.69%,#a90000 43.39%,#f40000 44.66%,#fd0000 45.61%,#dc0000 46.35%,#9f0000 47.20%,#8d0000 48.47%,#530000 49.42%,#400000 50.05%,#1f0000 56.83%,#150000 63.17%,#1a0000 68.36%,#090000 77.46%,#120000 96.51%,#190000 100.00%)"></i>
<i style="top:167px;height:1px;background:linear-gradient(90deg,#0c0000 0.00%,#2c0000 9.74%,#3a0000 10.79%,#560000 11.64%,#940000 13.02%,#990000 15.66%,#870000 16.72%,#5c0000 17.35%,#3f0000 17.99%,#2f0000 18.84%,#330000 21.16%,#3c0000 23.17%,#170000 26.46%,#180000 32.17%,#300000 38.62%,#460000 40.00%,#730000 41.16%,#8f0000 41.69%,#9f0000 42.96%,#f20000 44.23%,#ff1200 44.97%,#ff1200 45.61%,#ff0500 45.93%,#ed0000 46.35%,#a80000 47.20%,#920000 48.47%,#5a0000 49.42%,#440000 50.05%,#200000 56.83%,#150000 63.17%,#1b0000 68.36%,#0a0000 76.40%,#120000 96.51%,#1a0000 100.00%)"></i>
<i style="top:168px;height:1px;background:linear-gradient(90deg,#0d0000 0.00%,#1b0000 3.92%,#330000 9.74%,#440000 10.79%,#8e0000 12.38%,#a10000 14.81%,#920000 16.72%,#4a0000 17.99%,#360000 18.84%,#320000 19.89%,#470000 23.17%,#190000 26.46%,#1b0000 32.17%,#2a0000 35.66%,#370000 38.62%,#520000 40.00%,#870000 41.16%,#9d0000 42.54%,#b00000 42.96%,#f70000 43.81%,#ff3f00 44.97%,#ff3e00 45.61%,#ff1400 46.35%,#ef0000 46.77%,#a20000 47.62%,#8a0000 48.89%,#680000 49.42%,#4d0000 50.05%,#290000 54.71%,#160000 63.17%,#1d0000 68.36%,#0a0000 76.40%,#130000 96.51%,#1b0000 100.00%)"></i>
<i style="top:169px;height:1px;background:linear-gradient(90deg,#0d0000 0.00%,#1c0000 3.92%,#350000 9.74%,#480000 10.79%,#910000 12.38%,#a70000 14.81%,#930000 16.72%,#4e0000 17.99%,#380000 18.84%,#340000 19.89%,#4b0000 23.17%,#1a0000 26.46%,#1b0000 32.17%,#2b0000 35.66%,#390000 38.62%,#560000 40.00%,#8b0000 41.16%,#9e0000 42.54%,#b90000 42.96%,#ff0200 43.81%,#ff3f00 44.66%,#ff5100 45.29%,#ff3c00 45.93%,#f90000 46.77%,#a80000 47.62%,#8e0000 48.89%,#500000 50.05%,#2a0000 54.71%,#170000 63.17%,#1d0000 68.36%,#0a0000 76.40%,#140000 96.51%,#1c0000 100.00%)"></i>
<i style="top:170px;height:1px;background:linear-gradient(90deg,#0d0000 0.00%,#1b0000 3.92%,#340000 9.74%,#460000 10.79%,#8f0000 12.38%,#a40000 14.81%,#930000 16.72%,#4c0000 17.99%,#370000 18.84%,#330000 19.89%,#490000 23.17%,#1a0000 26.46%,#1b0000 32.17%,#380000 38.62%,#540000 40.00%,#890000 41.16%,#9d0000 42.54%,#b40000 42.96%,#fc0000 43.81%,#ff3900 44.66%,#ff4a00 45.29%,#ff3600 45.93%,#f40000 46.77%,#a50000 47.62%,#8c0000 48.89%,#6a0000 49.42%,#4f0000 50.05%,#2a0000 54.71%,#170000 63.17%,#1d0000 68.36%,#0a0000 76.40%,#130000 96.51%,#1b0000 100.00%)"></i>
<i style="top:171px;height:1px;background:linear-gradient(90deg,#0c0000 0.00%,#300000 9.74%,#410000 10.79%,#600000 11.64%,#8a0000 12.38%,#9f0000 14.81%,#8f0000 16.72%,#460000 17.99%,#340000 18.84%,#380000 21.16%,#440000 23.17%,#190000 26.46%,#1a0000 32.17%,#350000 38.62%,#4e0000 40.00%,#930000 41.69%,#a80000 42.96%,#eb0000 43.81%,#ff0c00 44.23%,#ff2f00 44.97%,#ff2f00 45.61%,#ff0700 46.35%,#e40000 46.77%,#bb0000 47.20%,#9f0000 47.62%,#860000 48.89%,#630000 49.42%,#4a0000 50.05%,#280000 54.71%,#160000 63.17%,#1c0000 68.36%,#0a0000 76.40%,#130000 96.51%,#1b0000 100.00%)"></i>
<i style="top:172px;height:1px;background:linear-gradient(90deg,#0c0000 0.00%,#2c0000 9.74%,#3a0000 10.79%,#550000 11.64%,#930000 13.02%,#990000 15.66%,#860000 16.72%,#5b0000 17.35%,#3e0000 17.99%,#2f0000 18.84%,#320000 21.16%,#3c0000 23.17%,#170000 26.46%,#180000 32.17%,#300000 38.62%,#450000 40.00%,#720000 41.16%,#8e0000 41.69%,#9e0000 42.96%,#ef0000 44.23%,#ff0500 44.66%,#ff1300 45.29%,#ff0200 45.93%,#cc0000 46.77%,#a60000 47.20%,#920000 48.47%,#590000 49.42%,#430000 50.05%,#200000 56.83%,#150000 63.17%,#1b0000 68.36%,#0a0000 76.40%,#120000 96.51%,#1a0000 100.00%)"></i>
<i style="top:173px;height:1px;background:linear-gradient(90deg,#0c0000 0.00%,#2c0000 9.74%,#3b0000 10.79%,#570000 11.64%,#7f0000 12.38%,#940000 13.02%,#990000 15.66%,#880000 16.72%,#5d0000 17.35%,#3f0000 17.99%,#300000 18.84%,#330000 21.16%,#3d0000 23.17%,#170000 26.46%,#180000 32.17%,#300000 38.62%,#470000 40.00%,#740000 41.16%,#900000 41.69%,#9f0000 42.96%,#f40000 44.23%,#ff1500 44.97%,#ff1400 45.61%,#ff0800 45.93%,#ef0000 46.35%,#a90000 47.20%,#930000 48.47%,#5a0000 49.42%,#440000 50.05%,#200000 56.83%,#150000 63.17%,#1b0000 68.36%,#0a0000 77.46%,#120000 96.51%,#1a0000 100.00%)"></i>
<i style="top:174px;height:1px;background:linear-gradient(90deg,#0c0000 0.00%,#300000 9.74%,#3f0000 10.79%,#5f0000 11.64%,#890000 12.38%,#9e0000 14.50%,#8e0000 16.72%,#450000 17.99%,#330000 18.84%,#370000 21.16%,#420000 23.17%,#180000 26.46%,#1a0000 32.17%,#340000 38.62%,#4d0000 40.00%,#930000 41.69%,#a60000 42.96%,#e70000 43.81%,#ff0800 44.23%,#ff2b00 44.97%,#ff2a00 45.61%,#ff0300 46.35%,#b70000 47.20%,#9e0000 47.62%,#940000 48.47%,#840000 48.89%,#610000 49.42%,#490000 50.05%,#280000 54.71%,#160000 63.17%,#1c0000 68.36%,#0a0000 76.40%,#130000 96.51%,#1b0000 100.00%)"></i>
<i style="top:175px;height:1px;background:linear-gradient(90deg,#0d0000 0.00%,#1b0000 3.92%,#330000 9.74%,#450000 10.79%,#8e0000 12.38%,#a20000 14.81%,#930000 16.72%,#4b0000 17.99%,#370000 18.84%,#320000 19.89%,#480000 23.17%,#190000 26.46%,#1b0000 32.17%,#370000 38.62%,#530000 40.00%,#880000 41.16%,#9d0000 42.54%,#b10000 42.96%,#f80000 43.81%,#ff4100 44.97%,#ff4000 45.61%,#ff1600 46.35%,#f10000 46.77%,#a30000 47.62%,#8b0000 48.89%,#690000 49.42%,#4e0000 50.05%,#290000 54.71%,#160000 63.17%,#1d0000 68.36%,#0a0000 76.40%,#130000 96.51%,#1b0000 100.00%)"></i>
<i style="top:176px;height:1px;background:linear-gradient(90deg,#0d0000 0.00%,#0e0000 1.80%,#370000 9.74%,#4b0000 10.79%,#930000 12.38%,#ad0000 14.81%,#940000 16.72%,#510000 17.99%,#3a0000 18.84%,#360000 19.89%,#4e0000 23.17%,#1b0000 26.46%,#1c0000 32.17%,#2c0000 35.66%,#3b0000 38.62%,#5a0000 40.00%,#8d0000 41.16%,#9f0000 42.54%,#eb0000 43.39%,#ff0c00 43.81%,#ff4c00 44.66%,#ff5e00 45.29%,#ff4900 45.93%,#ff0400 46.77%,#ae0000 47.62%,#960000 48.47%,#910000 48.89%,#530000 50.05%,#2b0000 54.71%,#170000 63.17%,#1e0000 68.36%,#0a0000 76.40%,#140000 96.51%,#1c0000 100.00%)"></i>
<i style="top:177px;height:1px;background:linear-gradient(90deg,#0d0000 0.00%,#0f0000 1.80%,#3a0000 9.74%,#510000 10.79%,#940000 12.38%,#9e0000 13.54%,#bb0000 14.81%,#950000 16.72%,#7f0000 17.35%,#580000 17.99%,#3f0000 18.84%,#390000 19.89%,#540000 23.17%,#1c0000 26.46%,#170000 30.37%,#2f0000 35.66%,#340000 37.78%,#600000 40.00%,#920000 41.16%,#a50000 42.54%,#fb0000 43.39%,#ff6300 44.66%,#ff7700 45.29%,#ff6000 45.93%,#ff1600 46.77%,#e70000 47.20%,#bc0000 47.62%,#9e0000 48.04%,#930000 48.89%,#580000 50.05%,#2c0000 54.71%,#180000 63.17%,#1f0000 68.36%,#0b0000 75.56%,#140000 96.51%,#1d0000 100.00%)"></i>
<i style="top:178px;height:1px;background:linear-gradient(90deg,#0d0000 0.00%,#0f0000 1.80%,#3b0000 9.74%,#520000 10.79%,#940000 12.38%,#9f0000 13.54%,#bc0000 14.50%,#b70000 15.24%,#9b0000 16.19%,#810000 17.35%,#590000 17.99%,#3f0000 18.84%,#3a0000 19.89%,#550000 23.17%,#1c0000 26.46%,#1e0000 32.17%,#300000 35.66%,#350000 37.78%,#610000 40.00%,#920000 41.16%,#a60000 42.54%,#fe0000 43.39%,#ff6700 44.66%,#ff7b00 45.29%,#ff6400 45.93%,#ff1900 46.77%,#ea0000 47.20%,#9e0000 48.04%,#930000 48.89%,#590000 50.05%,#2d0000 54.71%,#180000 63.17%,#1f0000 68.36%,#0b0000 75.56%,#140000 96.51%,#1d0000 100.00%)"></i>
<i style="top:179px;height:1px;background:linear-gradient(90deg,#0d0000 0.00%,#1e0000 3.92%,#390000 9.74%,#4f0000 10.79%,#930000 12.38%,#9e0000 13.54%,#b70000 14.81%,#950000 16.72%,#7d0000 17.35%,#560000 17.99%,#3d0000 18.84%,#390000 19.89%,#520000 23.17%,#1b0000 26.46%,#1d0000 32.17%,#2e0000 35.66%,#3e0000 38.62%,#5f0000 40.00%,#910000 41.16%,#a20000 42.54%,#f70000 43.39%,#ff1a00 43.81%,#ff5d00 44.66%,#ff7100 45.29%,#ff5a00 45.93%,#ff1100 46.77%,#e30000 47.20%,#b80000 47.62%,#9d0000 48.04%,#930000 48.89%,#570000 50.05%,#2c0000 54.71%,#170000 63.17%,#1e0000 68.36%,#0b0000 76.40%,#140000 96.51%,#1d0000 100.00%)"></i>
<i style="top:180px;height:1px;background:linear-gradient(90deg,#0d0000 0.00%,#1c0000 3.92%,#340000 9.74%,#470000 10.79%,#900000 12.38%,#a60000 14.81%,#930000 16.72%,#4d0000 17.99%,#380000 18.84%,#340000 19.89%,#4a0000 23.17%,#1a0000 26.46%,#1b0000 32.17%,#2b0000 35.66%,#390000 38.62%,#550000 40.00%,#8a0000 41.16%,#9e0000 42.54%,#b70000 42.96%,#ff0000 43.81%,#ff3d00 44.66%,#ff4e00 45.29%,#ff3a00 45.93%,#f70000 46.77%,#a70000 47.62%,#8d0000 48.89%,#6b0000 49.42%,#500000 50.05%,#2a0000 54.71%,#170000 63.17%,#1d0000 68.36%,#0a0000 76.40%,#130000 96.51%,#1c0000 100.00%)"></i>
<i style="top:181px;height:1px;background:linear-gradient(90deg,#0c0000 0.00%,#310000 9.74%,#410000 10.79%,#610000 11.64%,#8b0000 12.38%,#9f0000 14.81%,#900000 16.72%,#470000 17.99%,#340000 18.84%,#300000 19.89%,#440000 23.17%,#190000 26.46%,#1a0000 32.17%,#350000 38.62%,#4f0000 40.00%,#930000 41.69%,#9c0000 42.54%,#aa0000 42.96%,#ee0000 43.81%,#ff0f00 44.23%,#ff3300 44.97%,#ff3200 45.61%,#ff0a00 46.35%,#e60000 46.77%,#9f0000 47.62%,#870000 48.89%,#640000 49.42%,#4b0000 50.05%,#290000 54.71%,#160000 63.17%,#1c0000 68.36%,#0a0000 76.40%,#130000 96.51%,#1b0000 100.00%)"></i>
<i style="top:182px;height:1px;background:linear-gradient(90deg,#0d0000 0.00%,#1c0000 3.92%,#340000 9.74%,#470000 10.79%,#900000 12.38%,#a50000 14.81%,#930000 16.72%,#4d0000 17.99%,#380000 18.84%,#3c0000 21.16%,#4a0000 23.17%,#1a0000 26.46%,#1b0000 32.17%,#2b0000 35.66%,#380000 38.62%,#550000 40.00%,#8a0000 41.16%,#9d0000 42.54%,#b60000 42.96%,#fe0000 43.81%,#ff3c00 44.66%,#ff4d00 45.29%,#ff3900 45.93%,#f60000 46.77%,#a60000 47.62%,#8d0000 48.89%,#4f0000 50.05%,#2a0000 54.71%,#170000 63.17%,#1d0000 68.36%,#0a0000 76.40%,#130000 96.51%,#1c0000 100.00%)"></i>
<i style="top:183px;height:1px;background:linear-gradient(90deg,#0d0000 0.00%,#0e0000 1.80%,#370000 9.74%,#4c0000 10.79%,#930000 12.38%,#af0000 14.81%,#940000 16.72%,#530000 17.99%,#3b0000 18.84%,#370000 19.89%,#4f0000 23.17%,#1b0000 26.46%,#1c0000 32.17%,#2d0000 35.66%,#3c0000 38.62%,#5b0000 40.00%,#8f0000 41.16%,#9f0000 42.54%,#ee0000 43.39%,#ff1000 43.81%,#ff5000 44.66%,#ff6300 45.29%,#ff4d00 45.93%,#ff0700 46.77%,#b00000 47.62%,#9c0000 48.04%,#920000 48.89%,#540000 50.05%,#2b0000 54.71%,#170000 63.17%,#1e0000 68.36%,#0a0000 76.40%,#140000 96.51%,#1c0000 100.00%)"></i>
<i style="top:184px;height:1px;background:linear-gradient(90deg,#0d0000 0.00%,#0e0000 1.80%,#370000 9.74%,#4c0000 10.79%,#930000 12.38%,#ae0000 14.81%,#940000 16.72%,#520000 17.99%,#3b0000 18.84%,#360000 19.89%,#4f0000 23.17%,#1b0000 26.46%,#1c0000 32.17%,#2d0000 35.66%,#3b0000 38.62%,#5a0000 40.00%,#8e0000 41.16%,#9f0000 42.54%,#ed0000 43.39%,#ff0f00 43.81%,#ff4f00 44.66%,#ff6100 45.29%,#ff4c00 45.93%,#ff0600 46.77%,#af0000 47.62%,#9c0000 48.04%,#910000 48.89%,#530000 50.05%,#2b0000 54.71%,#170000 63.17%,#1e0000 68.36%,#0a0000 76.40%,#140000 96.51%,#1c0000 100.00%)"></i>
<i style="top:185px;height:1px;background:linear-gradient(90deg,#0d0000 0.00%,#1c0000 3.92%,#350000 9.74%,#490000 10.79%,#920000 12.38%,#a90000 14.81%,#930000 16.72%,#4f0000 17.99%,#390000 18.84%,#350000 19.89%,#4c0000 23.17%,#1a0000 26.46%,#1c0000 32.17%,#2b0000 35.66%,#3a0000 38.62%,#570000 40.00%,#8b0000 41.16%,#9e0000 42.54%,#bb0000 42.96%,#e50000 43.39%,#ff0500 43.81%,#ff4300 44.66%,#ff5500 45.29%,#ff4000 45.93%,#fc0000 46.77%,#aa0000 47.62%,#8f0000 48.89%,#510000 50.05%,#2a0000 54.71%,#170000 63.17%,#1d0000 68.36%,#0a0000 76.40%,#140000 96.51%,#1c0000 100.00%)"></i>
<i style="top:186px;height:1px;background:linear-gradient(90deg,#0c0000 0.00%,#2e0000 9.74%,#3c0000 10.79%,#5a0000 11.64%,#830000 12.38%,#980000 13.54%,#9a0000 15.66%,#8b0000 16.72%,#600000 17.35%,#420000 17.99%,#310000 18.84%,#350000 21.16%,#3f0000 23.17%,#180000 26.46%,#190000 32.17%,#320000 38.62%,#490000 40.00%,#920000 41.69%,#a00000 42.96%,#fb0000 44.23%,#ff2100 45.29%,#f70000 46.35%,#ae0000 47.20%,#980000 48.04%,#930000 48.47%,#5d0000 49.42%,#460000 50.05%,#270000 54.71%,#160000 63.17%,#1b0000 68.36%,#0a0000 77.46%,#120000 96.51%,#1a0000 100.00%)"></i>
<i style="top:187px;height:1px;background:linear-gradient(90deg,#0b0000 0.00%,#260000 9.74%,#320000 10.79%,#480000 11.64%,#8c0000 13.02%,#980000 15.24%,#910000 16.19%,#4d0000 17.35%,#360000 17.99%,#260000 19.89%,#340000 23.17%,#150000 26.46%,#160000 32.17%,#2a0000 38.62%,#3b0000 40.00%,#610000 41.16%,#930000 42.12%,#9f0000 43.39%,#b00000 43.81%,#e00000 44.66%,#ed0000 45.29%,#de0000 45.93%,#ab0000 46.77%,#980000 47.62%,#870000 48.47%,#660000 48.89%,#3c0000 50.05%,#1a0000 58.41%,#170000 64.55%,#140000 69.63%,#090000 81.69%,#180000 100.00%)"></i>
<i style="top:188px;height:1px;background:linear-gradient(90deg,#0c0000 0.00%,#2f0000 9.74%,#3f0000 10.79%,#5e0000 11.64%,#880000 12.38%,#9c0000 14.07%,#960000 16.19%,#8d0000 16.72%,#440000 17.99%,#330000 18.84%,#370000 21.16%,#420000 23.17%,#180000 26.46%,#190000 32.17%,#330000 38.62%,#4c0000 40.00%,#930000 41.69%,#a50000 42.96%,#ff0600 44.23%,#ff2800 44.97%,#ff2800 45.61%,#ff0100 46.35%,#b50000 47.20%,#9e0000 47.62%,#940000 48.47%,#490000 50.05%,#280000 54.71%,#160000 63.17%,#1c0000 68.36%,#0a0000 76.40%,#130000 96.51%,#1b0000 100.00%)"></i>
<i style="top:189px;height:1px;background:linear-gradient(90deg,#0d0000 0.00%,#1e0000 3.92%,#380000 9.74%,#4e0000 10.79%,#930000 12.38%,#a90000 14.07%,#b30000 14.81%,#940000 16.72%,#7b0000 17.35%,#550000 17.99%,#3c0000 18.84%,#380000 19.89%,#510000 23.17%,#1b0000 26.46%,#1d0000 32.17%,#2e0000 35.66%,#3d0000 38.62%,#5d0000 40.00%,#900000 41.16%,#a00000 42.54%,#f30000 43.39%,#ff1600 43.81%,#ff5800 44.66%,#ff6b00 45.29%,#ff5500 45.93%,#ff0d00 46.77%,#e00000 47.20%,#b40000 47.62%,#9d0000 48.04%,#920000 48.89%,#550000 50.05%,#2c0000 54.71%,#170000 63.17%,#1e0000 68.36%,#0b0000 76.40%,#140000 96.51%,#1d0000 100.00%)"></i>
<i style="top:190px;height:1px;background:linear-gradient(90deg,#0d0000 0.00%,#0f0000 1.80%,#3b0000 9.74%,#510000 10.79%,#940000 12.38%,#9f0000 13.54%,#bb0000 14.50%,#b60000 15.24%,#9b0000 16.19%,#950000 16.72%,#800000 17.35%,#580000 17.99%,#3f0000 18.84%,#3a0000 19.89%,#550000 23.17%,#1c0000 26.46%,#1e0000 32.17%,#2f0000 35.66%,#3f0000 38.62%,#610000 40.00%,#920000 41.16%,#a60000 42.54%,#fd0000 43.39%,#ff6600 44.66%,#ff7a00 45.29%,#ff6300 45.93%,#ff1800 46.77%,#e90000 47.20%,#bd0000 47.62%,#9e0000 48.04%,#930000 48.89%,#580000 50.05%,#2c0000 54.71%,#180000 63.17%,#1f0000 68.36%,#0b0000 75.56%,#140000 96.51%,#1d0000 100.00%)"></i>
<i style="top:191px;height:1px;background:linear-gradient(90deg,#0d0000 0.00%,#0f0000 1.80%,#3b0000 9.74%,#520000 10.79%,#940000 12.38%,#9f0000 13.54%,#bd0000 14.50%,#b80000 15.24%,#9b0000 16.19%,#810000 17.35%,#590000 17.99%,#400000 18.84%,#3a0000 19.89%,#550000 23.17%,#1c0000 26.46%,#1e0000 32.17%,#300000 35.66%,#350000 37.78%,#4f0000 39.37%,#930000 41.16%,#a70000 42.54%,#ff0000 43.39%,#ff6800 44.66%,#ff7c00 45.29%,#ff7700 45.61%,#ff4500 46.35%,#ff1a00 46.77%,#ea0000 47.20%,#9e0000 48.04%,#930000 48.89%,#590000 50.05%,#2d0000 54.71%,#180000 63.17%,#1f0000 68.36%,#0b0000 75.56%,#140000 96.51%,#1d0000 100.00%)"></i>
<i style="top:192px;height:1px;background:linear-gradient(90deg,#0d0000 0.00%,#0f0000 1.80%,#3c0000 9.74%,#540000 10.79%,#940000 12.38%,#9f0000 13.54%,#c10000 14.50%,#bc0000 15.24%,#9c0000 16.19%,#840000 17.35%,#5b0000 17.99%,#410000 18.84%,#3b0000 19.89%,#570000 23.17%,#1d0000 26.46%,#1e0000 32.17%,#310000 35.66%,#360000 37.78%,#510000 39.37%,#930000 41.16%,#9c0000 42.12%,#aa0000 42.54%,#ff0500 43.39%,#ff6f00 44.66%,#ff8400 45.29%,#ff6c00 45.93%,#ff1f00 46.77%,#ef0000 47.20%,#9f0000 48.04%,#930000 48.89%,#5a0000 50.05%,#2d0000 54.71%,#180000 63.17%,#1f0000 68.36%,#0b0000 75.56%,#150000 96.51%,#1d0000 100.00%)"></i>
<i style="top:193px;height:1px;background:linear-gradient(90deg,#0e0000 0.00%,#0f0000 1.80%,#3f0000 9.74%,#580000 10.79%,#820000 11.64%,#a40000 13.54%,#cd0000 14.50%,#c80000 15.24%,#9d0000 16.19%,#890000 17.35%,#5f0000 17.99%,#440000 18.84%,#3e0000 19.89%,#5b0000 23.17%,#1e0000 26.46%,#180000 30.37%,#320000 35.66%,#380000 37.78%,#550000 39.37%,#940000 41.16%,#9d0000 42.12%,#b10000 42.54%,#e20000 42.96%,#ff1000 43.39%,#ff6100 44.23%,#ff9000 44.97%,#ff9600 45.29%,#ff7d00 45.93%,#ff2d00 46.77%,#fa0000 47.20%,#a00000 48.04%,#940000 48.89%,#820000 49.42%,#5e0000 50.05%,#380000 53.12%,#170000 61.59%,#200000 68.36%,#0c0000 74.81%,#110000 93.86%,#1e0000 100.00%)"></i>
<i style="top:194px;height:1px;background:linear-gradient(90deg,#0e0000 0.00%,#0f0000 1.80%,#2f0000 6.03%,#420000 9.74%,#5c0000 10.79%,#880000 11.64%,#ab0000 13.54%,#ca0000 14.07%,#d70000 14.81%,#d10000 15.24%,#9e0000 16.19%,#8c0000 17.35%,#640000 17.99%,#480000 18.84%,#410000 19.89%,#600000 23.17%,#510000 24.13%,#330000 25.19%,#1f0000 26.46%,#190000 30.37%,#340000 35.66%,#3a0000 37.78%,#6d0000 40.00%,#8b0000 40.63%,#9f0000 42.12%,#ba0000 42.54%,#ec0000 42.96%,#ff1c00 43.39%,#ff7100 44.23%,#ffa200 44.97%,#ffa800 45.29%,#ff8e00 45.93%,#ff3a00 46.77%,#ff0600 47.20%,#a70000 48.04%,#870000 49.42%,#620000 50.05%,#470000 51.85%,#270000 56.83%,#190000 63.17%,#200000 68.36%,#0c0000 75.56%,#150000 96.51%,#1f0000 100.00%)"></i>
<i style="top:195px;height:1px;background:linear-gradient(90deg,#0d0000 0.00%,#1d0000 3.92%,#380000 9.74%,#4d0000 10.79%,#930000 12.38%,#b10000 14.81%,#940000 16.72%,#540000 17.99%,#3c0000 18.84%,#370000 19.89%,#500000 23.17%,#1b0000 26.46%,#1d0000 32.17%,#2d0000 35.66%,#3c0000 38.62%,#5c0000 40.00%,#8f0000 41.16%,#a00000 42.54%,#f00000 43.39%,#ff1300 43.81%,#ff5400 44.66%,#ff6700 45.29%,#ff5100 45.93%,#ff0a00 46.77%,#b20000 47.62%,#9d0000 48.04%,#920000 48.89%,#550000 50.05%,#2b0000 54.71%,#170000 63.17%,#1e0000 68.36%,#0a0000 76.40%,#140000 96.51%,#1d0000 100.00%)"></i>
<i style="top:196px;height:1px;background:linear-gradient(90deg,#0d0000 0.00%,#320000 9.74%,#430000 10.79%,#630000 11.64%,#8c0000 12.38%,#9f0000 14.81%,#920000 16.72%,#490000 17.99%,#350000 18.84%,#310000 19.89%,#460000 23.17%,#190000 26.46%,#1a0000 32.17%,#360000 38.62%,#500000 40.00%,#940000 41.69%,#9c0000 42.54%,#ad0000 42.96%,#f20000 43.81%,#ff1400 44.23%,#ff3800 44.97%,#ff3800 45.61%,#ff0f00 46.35%,#ea0000 46.77%,#a00000 47.62%,#890000 48.89%,#660000 49.42%,#4c0000 50.05%,#290000 54.71%,#160000 63.17%,#1c0000 68.36%,#0a0000 76.40%,#130000 96.51%,#1b0000 100.00%)"></i>
<i style="top:197px;height:1px;background:linear-gradient(90deg,#0d0000 0.00%,#1b0000 3.92%,#330000 9.74%,#450000 10.79%,#8f0000 12.38%,#a30000 14.81%,#930000 16.72%,#4c0000 17.99%,#370000 18.84%,#3b0000 21.16%,#480000 23.17%,#190000 26.46%,#1b0000 32.17%,#380000 38.62%,#530000 40.00%,#880000 41.16%,#9d0000 42.54%,#b20000 42.96%,#fa0000 43.81%,#ff3700 44.66%,#ff4800 45.29%,#ff3400 45.93%,#ff1800 46.35%,#f20000 46.77%,#a40000 47.62%,#8b0000 48.89%,#690000 49.42%,#4e0000 50.05%,#2a0000 54.71%,#170000 63.17%,#1d0000 68.36%,#0a0000 76.40%,#130000 96.51%,#1b0000 100.00%)"></i>
<i style="top:198px;height:1px;background:linear-gradient(90deg,#0d0000 0.00%,#1b0000 3.92%,#320000 9.74%,#440000 10.79%,#8d0000 12.38%,#a00000 14.81%,#920000 16.72%,#4a0000 17.99%,#360000 18.84%,#3a0000 21.16%,#470000 23.17%,#190000 26.46%,#1a0000 32.17%,#370000 38.62%,#520000 40.00%,#860000 41.16%,#9d0000 42.54%,#af0000 42.96%,#f50000 43.81%,#ff3000 44.66%,#ff4100 45.29%,#ff2e00 45.93%,#ff1300 46.35%,#ee0000 46.77%,#a10000 47.62%,#8a0000 48.89%,#670000 49.42%,#4d0000 50.05%,#290000 54.71%,#160000 63.17%,#1d0000 68.36%,#0a0000 76.40%,#130000 96.51%,#1b0000 100.00%)"></i>
<i style="top:199px;height:1px;background:linear-gradient(90deg,#0c0000 0.00%,#2e0000 9.74%,#3c0000 10.79%,#5a0000 11.64%,#830000 12.38%,#980000 13.54%,#9a0000 15.66%,#8a0000 16.72%,#410000 17.99%,#310000 18.84%,#350000 21.16%,#3f0000 23.17%,#180000 26.46%,#190000 32.17%,#320000 38.62%,#490000 40.00%,#920000 41.69%,#a00000 42.96%,#fb0000 44.23%,#ff2100 45.29%,#f60000 46.35%,#ae0000 47.20%,#980000 48.04%,#930000 48.47%,#5d0000 49.42%,#460000 50.05%,#270000 54.71%,#160000 63.17%,#1b0000 68.36%,#0a0000 77.46%,#120000 96.51%,#1a0000 100.00%)"></i>
<i style="top:200px;height:1px;background:linear-gradient(90deg,#0d0000 0.00%,#1b0000 3.92%,#340000 9.74%,#460000 10.79%,#8f0000 12.38%,#a40000 14.81%,#930000 16.72%,#4c0000 17.99%,#370000 18.84%,#330000 19.89%,#490000 23.17%,#1a0000 26.46%,#1b0000 32.17%,#380000 38.62%,#540000 40.00%,#890000 41.16%,#9d0000 42.54%,#b40000 42.96%,#fc0000 43.81%,#ff3900 44.66%,#ff4a00 45.29%,#ff3600 45.93%,#f40000 46.77%,#a50000 47.62%,#8c0000 48.89%,#6a0000 49.42%,#4f0000 50.05%,#2a0000 54.71%,#170000 63.17%,#1d0000 68.36%,#0a0000 76.40%,#130000 96.51%,#1b0000 100.00%)"></i>
<i style="top:201px;height:1px;background:linear-gradient(90deg,#0e0000 0.00%,#0f0000 1.80%,#2d0000 6.03%,#3e0000 9.74%,#570000 10.79%,#810000 11.64%,#9b0000 13.02%,#a30000 13.54%,#cb0000 14.50%,#c60000 15.24%,#9c0000 16.19%,#890000 17.35%,#5f0000 17.99%,#440000 18.84%,#3d0000 19.89%,#5b0000 23.17%,#1d0000 26.46%,#180000 30.37%,#320000 35.66%,#380000 37.78%,#540000 39.37%,#930000 41.16%,#9d0000 42.12%,#b00000 42.54%,#e10000 42.96%,#ff0e00 43.39%,#ff7d00 44.66%,#ff9300 45.29%,#ff7a00 45.93%,#ff2a00 46.77%,#f80000 47.20%,#a00000 48.04%,#940000 48.89%,#5d0000 50.05%,#380000 53.12%,#170000 61.59%,#200000 68.36%,#0c0000 74.81%,#110000 93.86%,#1e0000 100.00%)"></i>
<i style="top:202px;height:1px;background:linear-gradient(90deg,#0d0000 0.00%,#0e0000 1.80%,#370000 9.74%,#4b0000 10.79%,#930000 12.38%,#ad0000 14.81%,#940000 16.72%,#520000 17.99%,#3b0000 18.84%,#360000 19.89%,#4e0000 23.17%,#1b0000 26.46%,#1c0000 32.17%,#2d0000 35.66%,#3b0000 38.62%,#5a0000 40.00%,#8e0000 41.16%,#9f0000 42.54%,#eb0000 43.39%,#ff0d00 43.81%,#ff4d00 44.66%,#ff5f00 45.29%,#ff4a00 45.93%,#ff0500 46.77%,#ae0000 47.62%,#960000 48.47%,#910000 48.89%,#530000 50.05%,#2b0000 54.71%,#170000 63.17%,#1e0000 68.36%,#0a0000 76.40%,#140000 96.51%,#1c0000 100.00%)"></i>
<i style="top:203px;height:1px;background:linear-gradient(90deg,#0c0000 0.00%,#2d0000 9.74%,#3c0000 10.79%,#590000 11.64%,#810000 12.38%,#940000 13.02%,#9a0000 15.66%,#8a0000 16.72%,#5f0000 17.35%,#410000 17.99%,#300000 18.84%,#340000 21.16%,#3e0000 23.17%,#170000 26.46%,#190000 32.17%,#310000 38.62%,#480000 40.00%,#910000 41.69%,#9f0000 42.96%,#f80000 44.23%,#ff1e00 45.29%,#ff0c00 45.93%,#f30000 46.35%,#ac0000 47.20%,#970000 48.04%,#930000 48.47%,#5c0000 49.42%,#450000 50.05%,#200000 56.83%,#150000 63.17%,#1b0000 68.36%,#0a0000 77.46%,#120000 96.51%,#1a0000 100.00%)"></i>
<i style="top:204px;height:1px;background:linear-gradient(90deg,#0c0000 0.00%,#2e0000 9.74%,#3e0000 10.79%,#5c0000 11.64%,#850000 12.38%,#980000 13.54%,#9a0000 15.66%,#8c0000 16.72%,#430000 17.99%,#320000 18.84%,#360000 21.16%,#400000 23.17%,#180000 26.46%,#190000 32.17%,#260000 35.66%,#330000 38.62%,#4a0000 40.00%,#920000 41.69%,#a20000 42.96%,#ff0100 44.23%,#ff2200 44.97%,#ff2200 45.61%,#fb0000 46.35%,#b10000 47.20%,#9e0000 47.62%,#930000 48.47%,#5f0000 49.42%,#470000 50.05%,#210000 56.83%,#160000 63.17%,#1c0000 68.36%,#0a0000 76.40%,#130000 96.51%,#1a0000 100.00%)"></i>
<i style="top:205px;height:1px;background:linear-gradient(90deg,#0c0000 0.00%,#310000 9.74%,#420000 10.79%,#620000 11.64%,#8b0000 12.38%,#9f0000 14.81%,#910000 16.72%,#470000 17.99%,#340000 18.84%,#300000 19.89%,#450000 23.17%,#190000 26.46%,#1a0000 32.17%,#350000 38.62%,#4f0000 40.00%,#930000 41.69%,#9c0000 42.54%,#aa0000 42.96%,#ee0000 43.81%,#ff1000 44.23%,#ff3300 44.97%,#ff3300 45.61%,#ff0b00 46.35%,#e70000 46.77%,#9f0000 47.62%,#880000 48.89%,#640000 49.42%,#4b0000 50.05%,#290000 54.71%,#160000 63.17%,#1c0000 68.36%,#0a0000 76.40%,#130000 96.51%,#1b0000 100.00%)"></i>
<i style="top:206px;height:1px;background:linear-gradient(90deg,#0d0000 0.00%,#1c0000 3.92%,#360000 9.74%,#490000 10.79%,#920000 12.38%,#aa0000 14.81%,#930000 16.72%,#500000 17.99%,#390000 18.84%,#350000 19.89%,#4c0000 23.17%,#1a0000 26.46%,#1c0000 32.17%,#2c0000 35.66%,#3a0000 38.62%,#580000 40.00%,#8c0000 41.16%,#9e0000 42.54%,#e60000 43.39%,#ff0700 43.81%,#ff4500 44.66%,#ff5700 45.29%,#ff4200 45.93%,#fe0000 46.77%,#ab0000 47.62%,#960000 48.47%,#8f0000 48.89%,#510000 50.05%,#2a0000 54.71%,#170000 63.17%,#1d0000 68.36%,#0a0000 76.40%,#140000 96.51%,#1c0000 100.00%)"></i>
<i style="top:207px;height:1px;background:linear-gradient(90deg,#0d0000 0.00%,#0f0000 1.80%,#3a0000 9.74%,#510000 10.79%,#940000 12.38%,#9f0000 13.54%,#bc0000 14.81%,#800000 17.35%,#580000 17.99%,#3f0000 18.84%,#3a0000 19.89%,#540000 23.17%,#1c0000 26.46%,#170000 30.37%,#2f0000 35.66%,#340000 37.78%,#4e0000 39.37%,#920000 41.16%,#a50000 42.54%,#fc0000 43.39%,#ff6500 44.66%,#ff7800 45.29%,#ff6100 45.93%,#ff1700 46.77%,#e80000 47.20%,#9e0000 48.04%,#930000 48.89%,#580000 50.05%,#2c0000 54.71%,#180000 63.17%,#1f0000 68.36%,#0b0000 75.56%,#140000 96.51%,#1d0000 100.00%)"></i>
<i style="top:208px;height:1px;background:linear-gradient(90deg,#0e0000 0.00%,#0f0000 1.80%,#2d0000 6.03%,#3e0000 9.74%,#570000 10.79%,#810000 11.64%,#9b0000 13.02%,#a30000 13.54%,#ca0000 14.50%,#c50000 15.24%,#9c0000 16.19%,#880000 17.35%,#5e0000 17.99%,#440000 18.84%,#3d0000 19.89%,#5b0000 23.17%,#1d0000 26.46%,#180000 30.37%,#320000 35.66%,#380000 37.78%,#540000 39.37%,#930000 41.16%,#9d0000 42.12%,#af0000 42.54%,#e00000 42.96%,#ff0e00 43.39%,#ff7d00 44.66%,#ff9200 45.29%,#ff8c00 45.61%,#ff5700 46.35%,#f70000 47.20%,#a00000 48.04%,#940000 48.89%,#5d0000 50.05%,#380000 53.12%,#170000 61.59%,#200000 68.36%,#0c0000 74.81%,#110000 93.86%,#1e0000 100.00%)"></i>
<i style="top:209px;height:1px;background:linear-gradient(90deg,#0e0000 0.00%,#0f0000 1.80%,#2e0000 6.03%,#410000 9.74%,#5a0000 10.79%,#860000 11.64%,#a80000 13.54%,#c60000 14.07%,#d30000 14.81%,#ce0000 15.24%,#9d0000 16.19%,#8b0000 17.35%,#620000 17.99%,#460000 18.84%,#400000 19.89%,#5e0000 23.17%,#1e0000 26.46%,#190000 30.37%,#340000 35.66%,#390000 37.78%,#570000 39.37%,#8a0000 40.63%,#9e0000 42.12%,#b60000 42.54%,#e80000 42.96%,#ff1700 43.39%,#ff6a00 44.23%,#ff9a00 44.97%,#ff9a00 45.61%,#ff6300 46.35%,#ff0100 47.20%,#a40000 48.04%,#850000 49.42%,#600000 50.05%,#390000 53.12%,#170000 61.59%,#200000 68.36%,#0c0000 75.56%,#150000 96.51%,#1e0000 100.00%)"></i>
<i style="top:210px;height:1px;background:linear-gradient(90deg,#0e0000 0.00%,#100000 1.80%,#300000 6.03%,#430000 9.74%,#5e0000 10.79%,#890000 11.64%,#ad0000 13.54%,#ce0000 14.07%,#da0000 14.81%,#d50000 15.24%,#9e0000 16.19%,#8e0000 17.35%,#660000 17.99%,#490000 18.84%,#420000 19.89%,#610000 23.17%,#520000 24.13%,#340000 25.19%,#1f0000 26.46%,#190000 30.37%,#350000 35.66%,#3b0000 37.78%,#5a0000 39.37%,#8c0000 40.63%,#9f0000 42.12%,#be0000 42.54%,#f00000 42.96%,#ff2100 43.39%,#ff7700 44.23%,#ffa800 44.97%,#ffaf00 45.29%,#ffa800 45.61%,#ff7000 46.35%,#ff0a00 47.20%,#db0000 47.62%,#a90000 48.04%,#890000 49.42%,#630000 50.05%,#480000 51.85%,#2f0000 54.71%,#190000 63.17%,#200000 68.36%,#0c0000 75.56%,#150000 96.51%,#1f0000 100.00%)"></i>
<i style="top:211px;height:1px;background:linear-gradient(90deg,#0e0000 0.00%,#0f0000 1.80%,#2d0000 6.03%,#3e0000 9.74%,#570000 10.79%,#810000 11.64%,#9b0000 13.02%,#a30000 13.54%,#cb0000 14.50%,#c60000 15.24%,#9d0000 16.19%,#890000 17.35%,#5f0000 17.99%,#440000 18.84%,#3e0000 19.89%,#5b0000 23.17%,#1d0000 26.46%,#180000 30.37%,#320000 35.66%,#380000 37.78%,#540000 39.37%,#870000 40.63%,#9d0000 42.12%,#b00000 42.54%,#e10000 42.96%,#ff0f00 43.39%,#ff7e00 44.66%,#ff9300 45.29%,#ff8d00 45.61%,#ff5800 46.35%,#f80000 47.20%,#a00000 48.04%,#940000 48.89%,#5d0000 50.05%,#380000 53.12%,#170000 61.59%,#200000 68.36%,#0c0000 74.81%,#110000 93.86%,#1e0000 100.00%)"></i>
<i style="top:212px;height:1px;background:linear-gradient(90deg,#0d0000 0.00%,#0f0000 1.80%,#3a0000 9.74%,#510000 10.79%,#940000 12.38%,#9e0000 13.54%,#ba0000 14.50%,#b50000 15.24%,#9b0000 16.19%,#950000 16.72%,#7f0000 17.35%,#580000 17.99%,#3f0000 18.84%,#3a0000 19.89%,#540000 23.17%,#1c0000 26.46%,#170000 30.37%,#2f0000 35.66%,#340000 37.78%,#600000 40.00%,#920000 41.16%,#a50000 42.54%,#fb0000 43.39%,#ff6400 44.66%,#ff7700 45.29%,#ff7200 45.61%,#ff4100 46.35%,#ff1600 46.77%,#e70000 47.20%,#bc0000 47.62%,#9e0000 48.04%,#930000 48.89%,#580000 50.05%,#2c0000 54.71%,#180000 63.17%,#1f0000 68.36%,#0b0000 75.56%,#140000 96.51%,#1d0000 100.00%)"></i>
<i style="top:213px;height:1px;background:linear-gradient(90deg,#0d0000 0.00%,#1b0000 3.92%,#340000 9.74%,#460000 10.79%,#900000 12.38%,#a40000 14.81%,#930000 16.72%,#4c0000 17.99%,#370000 18.84%,#330000 19.89%,#490000 23.17%,#1a0000 26.46%,#1b0000 32.17%,#380000 38.62%,#540000 40.00%,#890000 41.16%,#9d0000 42.54%,#b40000 42.96%,#fd0000 43.81%,#ff3900 44.66%,#ff4b00 45.29%,#ff3700 45.93%,#f50000 46.77%,#a50000 47.62%,#8c0000 48.89%,#6a0000 49.42%,#4f0000 50.05%,#2a0000 54.71%,#170000 63.17%,#1d0000 68.36%,#0a0000 76.40%,#130000 96.51%,#1c0000 100.00%)"></i>
<i style="top:214px;height:1px;background:linear-gradient(90deg,#0c0000 0.00%,#2d0000 9.74%,#3c0000 10.79%,#590000 11.64%,#810000 12.38%,#940000 13.02%,#9a0000 15.66%,#8a0000 16.72%,#5f0000 17.35%,#410000 17.99%,#300000 18.84%,#340000 21.16%,#3e0000 23.17%,#170000 26.46%,#190000 32.17%,#310000 38.62%,#480000 40.00%,#910000 41.69%,#9f0000 42.96%,#f80000 44.23%,#ff1e00 45.29%,#ff0d00 45.93%,#f40000 46.35%,#ac0000 47.20%,#970000 48.04%,#930000 48.47%,#5c0000 49.42%,#460000 50.05%,#200000 56.83%,#150000 63.17%,#1b0000 68.36%,#0a0000 77.46%,#120000 96.51%,#1a0000 100.00%)"></i>
<i style="top:215px;height:1px;background:linear-gradient(90deg,#0c0000 0.00%,#2f0000 9.74%,#3f0000 10.79%,#5d0000 11.64%,#880000 12.38%,#9c0000 14.07%,#960000 16.19%,#8d0000 16.72%,#440000 17.99%,#330000 18.84%,#370000 21.16%,#420000 23.17%,#180000 26.46%,#190000 32.17%,#330000 38.62%,#4c0000 40.00%,#930000 41.69%,#a40000 42.96%,#ff0500 44.23%,#ff2800 44.97%,#ff2700 45.61%,#ff0000 46.35%,#b40000 47.20%,#9e0000 47.62%,#940000 48.47%,#480000 50.05%,#280000 54.71%,#160000 63.17%,#1c0000 68.36%,#0a0000 76.40%,#130000 96.51%,#1b0000 100.00%)"></i>
<i style="top:216px;height:1px;background:linear-gradient(90deg,#0d0000 0.00%,#310000 9.74%,#420000 10.79%,#620000 11.64%,#8b0000 12.38%,#9f0000 14.81%,#910000 16.72%,#480000 17.99%,#350000 18.84%,#390000 21.16%,#450000 23.17%,#190000 26.46%,#1a0000 32.17%,#280000 35.66%,#350000 38.62%,#500000 40.00%,#930000 41.69%,#9c0000 42.54%,#ab0000 42.96%,#ef0000 43.81%,#ff1100 44.23%,#ff3500 44.97%,#ff3500 45.61%,#ff0c00 46.35%,#e80000 46.77%,#9f0000 47.62%,#880000 48.89%,#650000 49.42%,#4b0000 50.05%,#290000 54.71%,#160000 63.17%,#1c0000 68.36%,#0a0000 76.40%,#130000 96.51%,#1b0000 100.00%)"></i>
<i style="top:217px;height:1px;background:linear-gradient(90deg,#0c0000 0.00%,#2f0000 9.74%,#3e0000 10.79%,#5d0000 11.64%,#870000 12.38%,#990000 13.54%,#9b0000 15.66%,#8d0000 16.72%,#440000 17.99%,#320000 18.84%,#360000 21.16%,#410000 23.17%,#180000 26.46%,#190000 32.17%,#330000 38.62%,#4b0000 40.00%,#930000 41.69%,#a30000 42.96%,#ff0300 44.23%,#ff2500 44.97%,#ff2400 45.61%,#fd0000 46.35%,#b20000 47.20%,#9e0000 47.62%,#930000 48.47%,#480000 50.05%,#280000 54.71%,#160000 63.17%,#1c0000 68.36%,#0a0000 76.40%,#130000 96.51%,#1a0000 100.00%)"></i>
<i style="top:218px;height:1px;background:linear-gradient(90deg,#0c0000 0.00%,#2c0000 9.74%,#3b0000 10.79%,#570000 11.64%,#7e0000 12.38%,#940000 13.02%,#990000 15.66%,#880000 16.72%,#5d0000 17.35%,#3f0000 17.99%,#2f0000 18.84%,#330000 21.16%,#3d0000 23.17%,#170000 26.46%,#180000 32.17%,#300000 38.62%,#470000 40.00%,#740000 41.16%,#900000 41.69%,#9f0000 42.96%,#f30000 44.23%,#ff1400 44.97%,#ff1400 45.61%,#ff0700 45.93%,#ef0000 46.35%,#a90000 47.20%,#930000 48.47%,#5a0000 49.42%,#440000 50.05%,#200000 56.83%,#150000 63.17%,#1b0000 68.36%,#0a0000 77.46%,#120000 96.51%,#1a0000 100.00%)"></i>
<i style="top:219px;height:1px;background:linear-gradient(90deg,#0c0000 0.00%,#2d0000 9.74%,#3b0000 10.79%,#580000 11.64%,#810000 12.38%,#940000 13.02%,#9a0000 15.66%,#890000 16.72%,#5e0000 17.35%,#400000 17.99%,#300000 18.84%,#340000 21.16%,#3e0000 23.17%,#170000 26.46%,#190000 32.17%,#310000 38.62%,#480000 40.00%,#760000 41.16%,#910000 41.69%,#9f0000 42.96%,#f70000 44.23%,#ff1c00 45.29%,#ff0b00 45.93%,#f20000 46.35%,#ab0000 47.20%,#930000 48.47%,#5c0000 49.42%,#450000 50.05%,#200000 56.83%,#150000 63.17%,#1b0000 68.36%,#0a0000 77.46%,#120000 96.51%,#1a0000 100.00%)"></i>
<i style="top:220px;height:1px;background:linear-gradient(90deg,#0c0000 0.00%,#310000 9.74%,#410000 10.79%,#610000 11.64%,#8a0000 12.38%,#9f0000 14.81%,#900000 16.72%,#470000 17.99%,#340000 18.84%,#380000 21.16%,#440000 23.17%,#190000 26.46%,#1a0000 32.17%,#350000 38.62%,#4e0000 40.00%,#930000 41.69%,#a90000 42.96%,#ec0000 43.81%,#ff0d00 44.23%,#ff3100 44.97%,#ff3100 45.61%,#ff0900 46.35%,#e50000 46.77%,#9f0000 47.62%,#870000 48.89%,#640000 49.42%,#4a0000 50.05%,#280000 54.71%,#160000 63.17%,#1c0000 68.36%,#0a0000 76.40%,#130000 96.51%,#1b0000 100.00%)"></i>
<i style="top:221px;height:1px;background:linear-gradient(90deg,#0d0000 0.00%,#1c0000 3.92%,#340000 9.74%,#470000 10.79%,#900000 12.38%,#a60000 14.81%,#930000 16.72%,#4d0000 17.99%,#380000 18.84%,#340000 19.89%,#4a0000 23.17%,#1a0000 26.46%,#1b0000 32.17%,#2b0000 35.66%,#390000 38.62%,#550000 40.00%,#8a0000 41.16%,#9e0000 42.54%,#b70000 42.96%,#ff0000 43.81%,#ff3d00 44.66%,#ff4e00 45.29%,#ff3a00 45.93%,#f70000 46.77%,#a70000 47.62%,#8d0000 48.89%,#6b0000 49.42%,#500000 50.05%,#2a0000 54.71%,#170000 63.17%,#1d0000 68.36%,#0a0000 76.40%,#130000 96.51%,#1c0000 100.00%)"></i>
<i style="top:222px;height:1px;background:linear-gradient(90deg,#0d0000 0.00%,#1b0000 3.92%,#330000 9.74%,#440000 10.79%,#8e0000 12.38%,#a10000 14.81%,#920000 16.72%,#4a0000 17.99%,#360000 18.84%,#320000 19.89%,#470000 23.17%,#190000 26.46%,#1b0000 32.17%,#2a0000 35.66%,#370000 38.62%,#520000 40.00%,#870000 41.16%,#9d0000 42.54%,#b00000 42.96%,#f70000 43.81%,#ff3f00 44.97%,#ff3e00 45.61%,#ff1400 46.35%,#ef0000 46.77%,#a20000 47.62%,#8a0000 48.89%,#680000 49.42%,#4d0000 50.05%,#290000 54.71%,#160000 63.17%,#1d0000 68.36%,#0a0000 76.40%,#130000 96.51%,#1b0000 100.00%)"></i>
<i style="top:223px;height:1px;background:linear-gradient(90deg,#0c0000 0.00%,#310000 9.74%,#420000 10.79%,#620000 11.64%,#8b0000 12.38%,#9f0000 14.81%,#910000 16.72%,#480000 17.99%,#350000 18.84%,#390000 21.16%,#450000 23.17%,#190000 26.46%,#1a0000 32.17%,#280000 35.66%,#350000 38.62%,#4f0000 40.00%,#930000 41.69%,#9c0000 42.54%,#ab0000 42.96%,#ef0000 43.81%,#ff1000 44.23%,#ff3400 44.97%,#ff3400 45.61%,#ff0b00 46.35%,#e70000 46.77%,#9f0000 47.62%,#880000 48.89%,#650000 49.42%,#4b0000 50.05%,#290000 54.71%,#160000 63.17%,#1c0000 68.36%,#0a0000 76.40%,#130000 96.51%,#1b0000 100.00%)"></i>
<i style="top:224px;height:1px;background:linear-gradient(90deg,#0c0000 0.00%,#300000 9.74%,#3f0000 10.79%,#5e0000 11.64%,#890000 12.38%,#9e0000 14.50%,#8e0000 16.72%,#450000 17.99%,#330000 18.84%,#370000 21.16%,#420000 23.17%,#180000 26.46%,#190000 32.17%,#340000 38.62%,#4d0000 40.00%,#930000 41.69%,#a50000 42.96%,#e70000 43.81%,#ff0700 44.23%,#ff2a00 44.97%,#ff2900 45.61%,#ff0200 46.35%,#b60000 47.20%,#9e0000 47.62%,#940000 48.47%,#490000 50.05%,#280000 54.71%,#160000 63.17%,#1c0000 68.36%,#0a0000 76.40%,#130000 96.51%,#1b0000 100.00%)"></i>
<i style="top:225px;height:1px;background:linear-gradient(90deg,#0c0000 0.00%,#2f0000 9.74%,#3f0000 10.79%,#5d0000 11.64%,#880000 12.38%,#9c0000 14.07%,#960000 16.19%,#8d0000 16.72%,#440000 17.99%,#330000 18.84%,#370000 21.16%,#420000 23.17%,#180000 26.46%,#190000 32.17%,#330000 38.62%,#4c0000 40.00%,#930000 41.69%,#a40000 42.96%,#ff0500 44.23%,#ff2800 44.97%,#ff2700 45.61%,#ff0000 46.35%,#b40000 47.20%,#9e0000 47.62%,#940000 48.47%,#480000 50.05%,#280000 54.71%,#160000 63.17%,#1c0000 68.36%,#0a0000 76.40%,#130000 96.51%,#1b0000 100.00%)"></i>
<i style="top:226px;height:1px;background:linear-gradient(90deg,#0d0000 0.00%,#1e0000 3.92%,#390000 9.74%,#4f0000 10.79%,#930000 12.38%,#9e0000 13.54%,#b70000 14.81%,#950000 16.72%,#7d0000 17.35%,#560000 17.99%,#3d0000 18.84%,#390000 19.89%,#520000 23.17%,#1b0000 26.46%,#1d0000 32.17%,#2e0000 35.66%,#3e0000 38.62%,#5f0000 40.00%,#910000 41.16%,#a20000 42.54%,#f70000 43.39%,#ff1a00 43.81%,#ff5d00 44.66%,#ff7100 45.29%,#ff5a00 45.93%,#ff1100 46.77%,#e30000 47.20%,#b80000 47.62%,#9d0000 48.04%,#930000 48.89%,#570000 50.05%,#2c0000 54.71%,#170000 63.17%,#1e0000 68.36%,#0b0000 76.40%,#140000 96.51%,#1d0000 100.00%)"></i>
<i style="top:227px;height:1px;background:linear-gradient(90deg,#0e0000 0.00%,#100000 1.80%,#300000 6.03%,#440000 9.74%,#5f0000 10.79%,#8a0000 11.64%,#9d0000 13.02%,#b00000 13.54%,#d10000 14.07%,#de0000 14.81%,#d80000 15.24%,#9f0000 16.19%,#8f0000 17.35%,#680000 17.99%,#4a0000 18.84%,#430000 19.89%,#600000 22.22%,#630000 23.17%,#530000 24.13%,#340000 25.19%,#1f0000 26.46%,#190000 30.37%,#360000 35.66%,#3c0000 37.78%,#5c0000 39.37%,#8d0000 40.63%,#a00000 42.12%,#c20000 42.54%,#f40000 42.96%,#ff4f00 43.81%,#ff7d00 44.23%,#ffaf00 44.97%,#ffaf00 45.61%,#ff7500 46.35%,#ff0e00 47.20%,#de0000 47.62%,#ab0000 48.04%,#8a0000 49.42%,#640000 50.05%,#3a0000 53.12%,#180000 61.59%,#210000 68.36%,#0e0000 73.44%,#110000 93.86%,#1f0000 100.00%)"></i>
<i style="top:228px;height:1px;background:linear-gradient(90deg,#0e0000 0.00%,#100000 1.80%,#320000 6.03%,#480000 9.74%,#650000 10.79%,#8e0000 11.64%,#9f0000 13.02%,#db0000 14.07%,#e80000 14.81%,#e30000 15.24%,#cf0000 15.66%,#a10000 16.19%,#920000 17.35%,#6d0000 17.99%,#4e0000 18.84%,#470000 19.89%,#650000 22.22%,#680000 23.17%,#580000 24.13%,#370000 25.19%,#210000 26.46%,#1a0000 30.37%,#380000 35.66%,#3f0000 37.78%,#600000 39.37%,#910000 40.63%,#a50000 42.12%,#ff0100 42.96%,#ff8f00 44.23%,#ffc500 44.97%,#ffcb00 45.29%,#ffc400 45.61%,#ff8800 46.35%,#ff1b00 47.20%,#e90000 47.62%,#b30000 48.04%,#9c0000 48.47%,#8d0000 49.42%,#690000 50.05%,#4b0000 51.85%,#310000 54.71%,#190000 63.17%,#210000 68.36%,#0c0000 75.56%,#110000 93.86%,#200000 100.00%)"></i>
<i style="top:229px;height:1px;background:linear-gradient(90deg,#0e0000 0.00%,#100000 1.80%,#320000 6.03%,#460000 9.74%,#620000 10.79%,#8c0000 11.64%,#9e0000 13.02%,#d70000 14.07%,#e40000 14.81%,#de0000 15.24%,#ca0000 15.66%,#9f0000 16.19%,#910000 17.35%,#6a0000 17.99%,#4c0000 18.84%,#450000 19.89%,#630000 22.22%,#660000 23.17%,#560000 24.13%,#360000 25.19%,#200000 26.46%,#1a0000 30.37%,#370000 35.66%,#3d0000 37.78%,#5e0000 39.37%,#8f0000 40.63%,#a20000 42.12%,#fa0000 42.96%,#ff8700 44.23%,#ffbb00 44.97%,#ffc100 45.29%,#ffba00 45.61%,#ff7f00 46.35%,#ff1500 47.20%,#e40000 47.62%,#af0000 48.04%,#9c0000 48.47%,#8c0000 49.42%,#670000 50.05%,#4a0000 51.85%,#300000 54.71%,#190000 63.17%,#210000 68.36%,#0c0000 75.56%,#110000 93.86%,#1f0000 100.00%)"></i>
<i style="top:230px;height:1px;background:linear-gradient(90deg,#0e0000 0.00%,#0f0000 1.80%,#2f0000 6.03%,#420000 9.74%,#5c0000 10.79%,#880000 11.64%,#aa0000 13.54%,#c90000 14.07%,#d60000 14.81%,#d10000 15.24%,#9e0000 16.19%,#8c0000 17.35%,#640000 17.99%,#470000 18.84%,#410000 19.89%,#5f0000 23.17%,#1f0000 26.46%,#190000 30.37%,#340000 35.66%,#3a0000 37.78%,#580000 39.37%,#8b0000 40.63%,#9f0000 42.12%,#ba0000 42.54%,#ec0000 42.96%,#ff1b00 43.39%,#ff9000 44.66%,#ffa600 45.29%,#ffa000 45.61%,#ff6900 46.35%,#ff0500 47.20%,#a60000 48.04%,#870000 49.42%,#610000 50.05%,#390000 53.12%,#180000 61.59%,#200000 68.36%,#0c0000 75.56%,#150000 96.51%,#1f0000 100.00%)"></i>
<i style="top:231px;height:1px;background:linear-gradient(90deg,#0d0000 0.00%,#0f0000 1.80%,#3b0000 9.74%,#510000 10.79%,#940000 12.38%,#9f0000 13.54%,#bd0000 14.81%,#800000 17.35%,#580000 17.99%,#3f0000 18.84%,#3a0000 19.89%,#550000 23.17%,#1c0000 26.46%,#1e0000 32.17%,#300000 35.66%,#350000 37.78%,#610000 40.00%,#920000 41.16%,#a60000 42.54%,#fd0000 43.39%,#ff6600 44.66%,#ff7a00 45.29%,#ff6300 45.93%,#ff1800 46.77%,#e90000 47.20%,#9e0000 48.04%,#930000 48.89%,#590000 50.05%,#2d0000 54.71%,#180000 63.17%,#1f0000 68.36%,#0b0000 75.56%,#140000 96.51%,#1d0000 100.00%)"></i>
<i style="top:232px;height:1px;background:linear-gradient(90deg,#0d0000 0.00%,#1c0000 3.92%,#340000 9.74%,#470000 10.79%,#900000 12.38%,#a60000 14.81%,#930000 16.72%,#4d0000 17.99%,#380000 18.84%,#340000 19.89%,#4a0000 23.17%,#1a0000 26.46%,#1b0000 32.17%,#2b0000 35.66%,#390000 38.62%,#550000 40.00%,#8a0000 41.16%,#9e0000 42.54%,#b70000 42.96%,#ff0000 43.81%,#ff3d00 44.66%,#ff4e00 45.29%,#ff3a00 45.93%,#f70000 46.77%,#a70000 47.62%,#8d0000 48.89%,#6b0000 49.42%,#500000 50.05%,#2a0000 54.71%,#170000 63.17%,#1d0000 68.36%,#0a0000 76.40%,#130000 96.51%,#1c0000 100.00%)"></i>
<i style="top:233px;height:1px;background:linear-gradient(90deg,#0d0000 0.00%,#1c0000 3.92%,#360000 9.74%,#490000 10.79%,#920000 12.38%,#aa0000 14.81%,#930000 16.72%,#500000 17.99%,#3a0000 18.84%,#350000 19.89%,#4d0000 23.17%,#1a0000 26.46%,#1c0000 32.17%,#2c0000 35.66%,#3a0000 38.62%,#580000 40.00%,#8c0000 41.16%,#9e0000 42.54%,#e70000 43.39%,#ff0800 43.81%,#ff4600 44.66%,#ff5800 45.29%,#ff4300 45.93%,#ff0000 46.77%,#ab0000 47.62%,#8f0000 48.89%,#520000 50.05%,#2b0000 54.71%,#170000 63.17%,#1d0000 68.36%,#0a0000 76.40%,#140000 96.51%,#1c0000 100.00%)"></i>
<i style="top:234px;height:1px;background:linear-gradient(90deg,#0d0000 0.00%,#0e0000 1.80%,#370000 9.74%,#4c0000 10.79%,#930000 12.38%,#af0000 14.81%,#940000 16.72%,#520000 17.99%,#3b0000 18.84%,#370000 19.89%,#4f0000 23.17%,#1b0000 26.46%,#1c0000 32.17%,#2d0000 35.66%,#3c0000 38.62%,#5b0000 40.00%,#8e0000 41.16%,#9f0000 42.54%,#ee0000 43.39%,#ff1000 43.81%,#ff5000 44.66%,#ff6300 45.29%,#ff4d00 45.93%,#ff0700 46.77%,#b00000 47.62%,#9c0000 48.04%,#920000 48.89%,#540000 50.05%,#2b0000 54.71%,#170000 63.17%,#1e0000 68.36%,#0a0000 76.40%,#140000 96.51%,#1c0000 100.00%)"></i>
<i style="top:235px;height:1px;background:linear-gradient(90deg,#0d0000 0.00%,#1c0000 3.92%,#340000 9.74%,#470000 10.79%,#900000 12.38%,#a50000 14.81%,#930000 16.72%,#4d0000 17.99%,#380000 18.84%,#3c0000 21.16%,#4a0000 23.17%,#1a0000 26.46%,#1b0000 32.17%,#2b0000 35.66%,#380000 38.62%,#550000 40.00%,#8a0000 41.16%,#9d0000 42.54%,#b60000 42.96%,#fe0000 43.81%,#ff3c00 44.66%,#ff4d00 45.29%,#ff3900 45.93%,#f60000 46.77%,#a60000 47.62%,#8d0000 48.89%,#4f0000 50.05%,#2a0000 54.71%,#170000 63.17%,#1d0000 68.36%,#0a0000 76.40%,#130000 96.51%,#1c0000 100.00%)"></i>
<i style="top:236px;height:1px;background:linear-gradient(90deg,#0c0000 0.00%,#310000 9.74%,#410000 10.79%,#610000 11.64%,#8a0000 12.38%,#9f0000 14.81%,#900000 16.72%,#470000 17.99%,#340000 18.84%,#380000 21.16%,#440000 23.17%,#190000 26.46%,#1a0000 32.17%,#350000 38.62%,#4e0000 40.00%,#930000 41.69%,#a90000 42.96%,#ec0000 43.81%,#ff0d00 44.23%,#ff3100 44.97%,#ff3100 45.61%,#ff0900 46.35%,#e50000 46.77%,#9f0000 47.62%,#870000 48.89%,#640000 49.42%,#4a0000 50.05%,#280000 54.71%,#160000 63.17%,#1c0000 68.36%,#0a0000 76.40%,#130000 96.51%,#1b0000 100.00%)"></i>
<i style="top:237px;height:1px;background:linear-gradient(90deg,#0c0000 0.00%,#2a0000 9.74%,#380000 10.79%,#520000 11.64%,#930000 13.02%,#980000 15.66%,#940000 16.19%,#820000 16.72%,#580000 17.35%,#3c0000 17.99%,#2a0000 19.89%,#3a0000 23.17%,#170000 26.46%,#180000 32.17%,#2e0000 38.62%,#430000 40.00%,#6f0000 41.16%,#8c0000 41.69%,#9e0000 42.96%,#af0000 43.39%,#fd0000 44.66%,#ff0c00 45.29%,#fb0000 45.93%,#c50000 46.77%,#a20000 47.20%,#900000 48.47%,#560000 49.42%,#420000 50.05%,#1f0000 56.83%,#150000 63.17%,#1b0000 68.36%,#090000 76.40%,#120000 96.51%,#1a0000 100.00%)"></i>
<i style="top:238px;height:1px;background:linear-gradient(90deg,#0b0000 0.00%,#250000 9.74%,#310000 10.79%,#460000 11.64%,#8b0000 13.02%,#980000 14.81%,#8f0000 16.19%,#4b0000 17.35%,#350000 17.99%,#250000 19.89%,#330000 23.17%,#150000 26.46%,#160000 32.17%,#290000 38.62%,#3a0000 40.00%,#5f0000 41.16%,#920000 42.12%,#9f0000 43.39%,#ad0000 43.81%,#db0000 44.66%,#e40000 45.61%,#c40000 46.35%,#a80000 46.77%,#940000 48.04%,#830000 48.47%,#630000 48.89%,#3b0000 50.05%,#1a0000 58.41%,#170000 64.55%,#140000 69.63%,#090000 81.69%,#180000 100.00%)"></i>
<i style="top:239px;height:1px;background:linear-gradient(90deg,#0c0000 0.00%,#280000 9.74%,#340000 10.79%,#4c0000 11.64%,#900000 13.02%,#970000 15.66%,#930000 16.19%,#510000 17.35%,#380000 17.99%,#2a0000 18.84%,#2e0000 21.16%,#360000 23.17%,#160000 26.46%,#170000 32.17%,#2b0000 38.62%,#3e0000 40.00%,#660000 41.16%,#930000 42.12%,#a30000 43.39%,#eb0000 44.66%,#f40000 45.61%,#d40000 46.35%,#9e0000 47.20%,#8b0000 48.47%,#500000 49.42%,#3e0000 50.05%,#1a0000 58.41%,#170000 64.55%,#150000 69.63%,#090000 79.79%,#120000 96.51%,#190000 100.00%)"></i>
<i style="top:240px;height:1px;background:linear-gradient(90deg,#0d0000 0.00%,#1b0000 3.92%,#330000 9.74%,#440000 10.79%,#650000 11.64%,#8e0000 12.38%,#a10000 14.81%,#920000 16.72%,#4a0000 17.99%,#360000 18.84%,#320000 19.89%,#470000 23.17%,#190000 26.46%,#1b0000 32.17%,#290000 35.66%,#370000 38.62%,#520000 40.00%,#870000 41.16%,#9d0000 42.54%,#b00000 42.96%,#f60000 43.81%,#ff3e00 44.97%,#ff3e00 45.61%,#ff1400 46.35%,#ef0000 46.77%,#a10000 47.62%,#8a0000 48.89%,#680000 49.42%,#4d0000 50.05%,#290000 54.71%,#160000 63.17%,#1d0000 68.36%,#0a0000 76.40%,#130000 96.51%,#1b0000 100.00%)"></i>
<i style="top:241px;height:1px;background:linear-gradient(90deg,#0f0000 0.00%,#100000 1.80%,#350000 6.03%,#3b0000 8.15%,#4c0000 9.74%,#6a0000 10.79%,#920000 11.64%,#a10000 13.02%,#e70000 14.07%,#f50000 14.81%,#ee0000 15.24%,#d90000 15.66%,#a90000 16.19%,#930000 17.35%,#520000 18.84%,#4b0000 19.89%,#6b0000 22.22%,#6e0000 23.17%,#5d0000 24.13%,#390000 25.19%,#220000 26.46%,#1b0000 30.37%,#3b0000 35.66%,#420000 37.78%,#660000 39.37%,#930000 40.63%,#9c0000 41.69%,#ad0000 42.12%,#d80000 42.54%,#ff0e00 42.96%,#ffa400 44.23%,#ffdc00 44.97%,#ffe300 45.29%,#ffdc00 45.61%,#ff9c00 46.35%,#ff2a00 47.20%,#f50000 47.62%,#bf0000 48.04%,#9e0000 48.47%,#910000 49.42%,#6d0000 50.05%,#4e0000 51.85%,#320000 54.71%,#1a0000 63.17%,#220000 68.36%,#0d0000 74.81%,#120000 93.86%,#200000 100.00%)"></i>
<i style="top:242px;height:1px;background:linear-gradient(90deg,#0f0000 0.00%,#110000 1.80%,#3c0000 6.03%,#450000 8.15%,#580000 9.74%,#940000 11.64%,#9c0000 12.38%,#b70000 13.02%,#e50000 13.54%,#ff0900 14.07%,#ff1900 14.81%,#f90000 15.66%,#c40000 16.19%,#9d0000 16.72%,#850000 17.99%,#5f0000 18.84%,#570000 19.89%,#7b0000 22.22%,#7f0000 23.17%,#6b0000 24.13%,#410000 25.19%,#260000 26.46%,#1e0000 30.37%,#430000 35.66%,#4c0000 37.78%,#8c0000 40.00%,#a00000 41.69%,#f70000 42.54%,#ffe200 44.23%,#ffff15 44.66%,#ffff35 44.97%,#ffff41 45.29%,#ffff34 45.61%,#ffff0d 45.93%,#ffd900 46.35%,#ff1900 47.62%,#dd0000 48.04%,#a80000 48.47%,#940000 49.42%,#640000 50.79%,#360000 54.71%,#1a0000 61.59%,#240000 68.36%,#0f0000 73.44%,#130000 93.86%,#220000 100.00%)"></i>
<i style="top:243px;height:1px;background:linear-gradient(90deg,#0f0000 0.00%,#110000 1.80%,#3d0000 6.03%,#460000 8.15%,#5a0000 9.74%,#950000 11.64%,#9c0000 12.38%,#bc0000 13.02%,#e90000 13.54%,#ff0f00 14.07%,#ff1f00 14.81%,#ff1800 15.24%,#fe0000 15.66%,#9e0000 16.72%,#880000 17.99%,#620000 18.84%,#590000 19.89%,#7e0000 22.22%,#820000 23.17%,#6d0000 24.13%,#430000 25.19%,#260000 26.46%,#1e0000 30.37%,#430000 34.60%,#440000 36.72%,#4e0000 37.78%,#8e0000 40.00%,#a30000 41.69%,#fc0000 42.54%,#ffec00 44.23%,#ffff25 44.66%,#ffff46 44.97%,#ffff52 45.29%,#ffff45 45.61%,#ffff1d 45.93%,#ffe200 46.35%,#ff1f00 47.62%,#e20000 48.04%,#ab0000 48.47%,#650000 50.79%,#360000 54.71%,#1a0000 61.59%,#240000 68.36%,#0f0000 73.44%,#130000 93.86%,#230000 100.00%)"></i>
<i style="top:244px;height:1px;background:linear-gradient(90deg,#0f0000 0.00%,#110000 1.80%,#3c0000 6.03%,#450000 8.15%,#590000 9.74%,#950000 11.64%,#9c0000 12.38%,#b90000 13.02%,#e60000 13.54%,#ff0b00 14.07%,#ff1b00 14.81%,#ff1400 15.24%,#fa0000 15.66%,#9e0000 16.72%,#860000 17.99%,#600000 18.84%,#570000 19.89%,#7c0000 22.22%,#800000 23.17%,#6c0000 24.13%,#420000 25.19%,#260000 26.46%,#1e0000 30.37%,#440000 35.66%,#4d0000 37.78%,#760000 39.37%,#8d0000 40.00%,#a10000 41.69%,#f90000 42.54%,#ffe500 44.23%,#ffff1a 44.66%,#ffff3b 44.97%,#ffff47 45.29%,#ffff3a 45.61%,#ffff13 45.93%,#ffdc00 46.35%,#ff1b00 47.62%,#df0000 48.04%,#a90000 48.47%,#7c0000 50.05%,#640000 50.79%,#360000 54.71%,#1a0000 61.59%,#240000 68.36%,#0f0000 73.44%,#130000 93.86%,#220000 100.00%)"></i>
<i style="top:245px;height:1px;background:linear-gradient(90deg,#0f0000 0.00%,#110000 1.80%,#3b0000 6.03%,#430000 8.15%,#560000 9.74%,#940000 11.64%,#9b0000 12.38%,#b20000 13.02%,#df0000 13.54%,#ff0300 14.07%,#ff1200 14.81%,#f30000 15.66%,#be0000 16.19%,#9d0000 16.72%,#820000 17.99%,#5d0000 18.84%,#550000 19.89%,#780000 22.22%,#7c0000 23.17%,#680000 24.13%,#3f0000 25.19%,#250000 26.46%,#1d0000 30.37%,#400000 34.60%,#4a0000 37.78%,#720000 39.37%,#8a0000 40.00%,#9f0000 41.69%,#f10000 42.54%,#ff2d00 42.96%,#ffd600 44.23%,#ffff01 44.66%,#ffff21 44.97%,#ffff2c 45.29%,#ffff20 45.61%,#fffb00 45.93%,#ffcd00 46.35%,#ff1200 47.62%,#d80000 48.04%,#a40000 48.47%,#940000 49.42%,#620000 50.79%,#350000 54.71%,#1b0000 63.17%,#240000 68.36%,#0f0000 73.44%,#120000 93.86%,#220000 100.00%)"></i>
<i style="top:246px;height:1px;background:linear-gradient(90deg,#0e0000 0.00%,#100000 1.80%,#340000 6.03%,#3a0000 8.15%,#4a0000 9.74%,#680000 10.79%,#900000 11.64%,#9f0000 13.02%,#e10000 14.07%,#ef0000 14.81%,#e90000 15.24%,#d40000 15.66%,#a50000 16.19%,#930000 17.35%,#700000 17.99%,#500000 18.84%,#490000 19.89%,#680000 22.22%,#6b0000 23.17%,#5a0000 24.13%,#380000 25.19%,#210000 26.46%,#1b0000 30.37%,#390000 35.66%,#400000 37.78%,#630000 39.37%,#920000 40.63%,#9c0000 41.69%,#a90000 42.12%,#ff0800 42.96%,#ff9a00 44.23%,#ffd100 44.97%,#ffd800 45.29%,#ffd000 45.61%,#ff9300 46.35%,#ff2300 47.20%,#ef0000 47.62%,#ba0000 48.04%,#9d0000 48.47%,#8f0000 49.42%,#6b0000 50.05%,#4c0000 51.85%,#310000 54.71%,#1a0000 63.17%,#220000 68.36%,#0d0000 74.81%,#120000 93.86%,#200000 100.00%)"></i>
<i style="top:247px;height:1px;background:linear-gradient(90deg,#0e0000 0.00%,#0f0000 1.80%,#2d0000 6.03%,#3e0000 9.74%,#570000 10.79%,#800000 11.64%,#950000 12.38%,#a20000 13.54%,#c90000 14.50%,#c40000 15.24%,#9c0000 16.19%,#880000 17.35%,#5e0000 17.99%,#430000 18.84%,#3d0000 19.89%,#5a0000 23.17%,#1d0000 26.46%,#180000 30.37%,#320000 35.66%,#370000 37.78%,#530000 39.37%,#930000 41.16%,#9d0000 42.12%,#af0000 42.54%,#df0000 42.96%,#ff0d00 43.39%,#ff7b00 44.66%,#ff9000 45.29%,#ff7800 45.93%,#f60000 47.20%,#a00000 48.04%,#940000 48.89%,#5d0000 50.05%,#380000 53.12%,#170000 61.59%,#1f0000 68.36%,#0c0000 75.56%,#150000 96.51%,#1e0000 100.00%)"></i>
<i style="top:248px;height:1px;background:linear-gradient(90deg,#0c0000 0.00%,#300000 9.74%,#3f0000 10.79%,#5e0000 11.64%,#890000 12.38%,#9e0000 14.50%,#8e0000 16.72%,#450000 17.99%,#330000 18.84%,#370000 21.16%,#420000 23.17%,#180000 26.46%,#190000 32.17%,#340000 38.62%,#4d0000 40.00%,#930000 41.69%,#a60000 42.96%,#e70000 43.81%,#ff0700 44.23%,#ff2a00 44.97%,#ff2a00 45.61%,#ff0300 46.35%,#b60000 47.20%,#9e0000 47.62%,#940000 48.47%,#490000 50.05%,#280000 54.71%,#160000 63.17%,#1c0000 68.36%,#0a0000 76.40%,#130000 96.51%,#1b0000 100.00%)"></i>
<i style="top:249px;height:1px;background:linear-gradient(90deg,#0b0000 0.00%,#250000 9.74%,#300000 10.79%,#450000 11.64%,#890000 13.02%,#970000 14.50%,#8e0000 16.19%,#4a0000 17.35%,#340000 17.99%,#240000 19.89%,#320000 23.17%,#150000 26.46%,#160000 32.17%,#280000 38.62%,#490000 40.63%,#910000 42.12%,#aa0000 43.81%,#d80000 44.66%,#e40000 45.29%,#d60000 45.93%,#a60000 46.77%,#930000 48.04%,#810000 48.47%,#620000 48.89%,#3a0000 50.05%,#190000 58.41%,#170000 64.55%,#140000 69.63%,#090000 81.69%,#180000 100.00%)"></i>
<i style="top:250px;height:1px;background:linear-gradient(90deg,#0c0000 0.00%,#280000 9.74%,#350000 10.79%,#4d0000 11.64%,#910000 13.02%,#970000 15.66%,#930000 16.19%,#520000 17.35%,#390000 17.99%,#2b0000 18.84%,#2f0000 21.16%,#370000 23.17%,#160000 26.46%,#170000 32.17%,#2c0000 38.62%,#3f0000 40.00%,#680000 41.16%,#880000 41.69%,#a60000 43.39%,#ef0000 44.66%,#fc0000 45.29%,#ec0000 45.93%,#9f0000 47.20%,#8c0000 48.47%,#520000 49.42%,#3f0000 50.05%,#1a0000 58.41%,#1a0000 65.82%,#090000 79.79%,#120000 96.51%,#190000 100.00%)"></i>
<i style="top:251px;height:1px;background:linear-gradient(90deg,#0c0000 0.00%,#2b0000 9.74%,#390000 10.79%,#550000 11.64%,#930000 13.02%,#990000 15.66%,#850000 16.72%,#5a0000 17.35%,#3e0000 17.99%,#2e0000 18.84%,#320000 21.16%,#3c0000 23.17%,#170000 26.46%,#180000 32.17%,#2f0000 38.62%,#450000 40.00%,#710000 41.16%,#8e0000 41.69%,#9e0000 42.96%,#ee0000 44.23%,#ff0400 44.66%,#ff1200 45.29%,#ff0200 45.93%,#cb0000 46.77%,#a60000 47.20%,#920000 48.47%,#580000 49.42%,#430000 50.05%,#200000 56.83%,#150000 63.17%,#1b0000 68.36%,#0a0000 76.40%,#120000 96.51%,#1a0000 100.00%)"></i>
<i style="top:252px;height:1px;background:linear-gradient(90deg,#0c0000 0.00%,#2d0000 9.74%,#3b0000 10.79%,#580000 11.64%,#810000 12.38%,#940000 13.02%,#9a0000 15.66%,#890000 16.72%,#5e0000 17.35%,#400000 17.99%,#300000 18.84%,#340000 21.16%,#3e0000 23.17%,#170000 26.46%,#190000 32.17%,#310000 38.62%,#480000 40.00%,#760000 41.16%,#910000 41.69%,#9f0000 42.96%,#f70000 44.23%,#ff1c00 45.29%,#ff0b00 45.93%,#f20000 46.35%,#ab0000 47.20%,#930000 48.47%,#5c0000 49.42%,#450000 50.05%,#200000 56.83%,#150000 63.17%,#1b0000 68.36%,#0a0000 77.46%,#120000 96.51%,#1a0000 100.00%)"></i>
<i style="top:253px;height:1px;background:linear-gradient(90deg,#0c0000 0.00%,#2e0000 9.74%,#3c0000 10.79%,#5a0000 11.64%,#830000 12.38%,#980000 13.54%,#9a0000 15.66%,#8a0000 16.72%,#410000 17.99%,#310000 18.84%,#350000 21.16%,#3f0000 23.17%,#180000 26.46%,#190000 32.17%,#320000 38.62%,#490000 40.00%,#920000 41.69%,#a00000 42.96%,#fb0000 44.23%,#ff2100 45.29%,#f60000 46.35%,#ae0000 47.20%,#980000 48.04%,#930000 48.47%,#5d0000 49.42%,#460000 50.05%,#270000 54.71%,#160000 63.17%,#1b0000 68.36%,#0a0000 77.46%,#120000 96.51%,#1a0000 100.00%)"></i>
<i style="top:254px;height:1px;background:linear-gradient(90deg,#0c0000 0.00%,#2b0000 9.74%,#380000 10.79%,#530000 11.64%,#930000 13.02%,#980000 15.66%,#940000 16.19%,#820000 16.72%,#580000 17.35%,#3c0000 17.99%,#2a0000 19.89%,#3a0000 23.17%,#170000 26.46%,#180000 32.17%,#2f0000 38.62%,#430000 40.00%,#6f0000 41.16%,#8c0000 41.69%,#9e0000 42.96%,#af0000 43.39%,#fd0000 44.66%,#ff0c00 45.29%,#fb0000 45.93%,#c50000 46.77%,#a30000 47.20%,#910000 48.47%,#570000 49.42%,#420000 50.05%,#1f0000 56.83%,#150000 63.17%,#1b0000 68.36%,#090000 76.40%,#120000 96.51%,#1a0000 100.00%)"></i>
<i style="top:255px;height:1px;background:linear-gradient(90deg,#0c0000 0.00%,#2f0000 9.74%,#3f0000 10.79%,#5e0000 11.64%,#890000 12.38%,#9e0000 14.50%,#8e0000 16.72%,#450000 17.99%,#330000 18.84%,#370000 21.16%,#420000 23.17%,#180000 26.46%,#190000 32.17%,#340000 38.62%,#4c0000 40.00%,#930000 41.69%,#a50000 42.96%,#e70000 43.81%,#ff0700 44.23%,#ff2a00 44.97%,#ff2900 45.61%,#ff0200 46.35%,#b60000 47.20%,#9e0000 47.62%,#940000 48.47%,#490000 50.05%,#280000 54.71%,#160000 63.17%,#1c0000 68.36%,#0a0000 76.40%,#130000 96.51%,#1b0000 100.00%)"></i>
<i style="top:256px;height:1px;background:linear-gradient(90deg,#0d0000 0.00%,#0f0000 1.80%,#3c0000 9.74%,#540000 10.79%,#940000 12.38%,#9f0000 13.54%,#c20000 14.50%,#bd0000 15.24%,#9c0000 16.19%,#840000 17.35%,#5b0000 17.99%,#410000 18.84%,#3b0000 19.89%,#570000 23.17%,#1d0000 26.46%,#1e0000 32.17%,#310000 35.66%,#360000 37.78%,#510000 39.37%,#930000 41.16%,#9c0000 42.12%,#aa0000 42.54%,#ff0500 43.39%,#ff7000 44.66%,#ff8500 45.29%,#ff6d00 45.93%,#ff2000 46.77%,#ef0000 47.20%,#9f0000 48.04%,#930000 48.89%,#5b0000 50.05%,#370000 53.12%,#170000 61.59%,#1f0000 68.36%,#0b0000 75.56%,#150000 96.51%,#1e0000 100.00%)"></i>
<i style="top:257px;height:1px;background:linear-gradient(90deg,#0e0000 0.00%,#100000 1.80%,#320000 6.03%,#480000 9.74%,#640000 10.79%,#8e0000 11.64%,#9e0000 13.02%,#db0000 14.07%,#e80000 14.81%,#e20000 15.24%,#ce0000 15.66%,#a10000 16.19%,#920000 17.35%,#6d0000 17.99%,#4e0000 18.84%,#470000 19.89%,#650000 22.22%,#680000 23.17%,#580000 24.13%,#360000 25.19%,#210000 26.46%,#1a0000 30.37%,#380000 35.66%,#3e0000 37.78%,#600000 39.37%,#910000 40.63%,#a50000 42.12%,#ff0000 42.96%,#ff8e00 44.23%,#ffc400 44.97%,#ffca00 45.29%,#ffc300 45.61%,#ff8700 46.35%,#ff1b00 47.20%,#e80000 47.62%,#b30000 48.04%,#9c0000 48.47%,#8d0000 49.42%,#680000 50.05%,#4b0000 51.85%,#310000 54.71%,#190000 63.17%,#210000 68.36%,#0c0000 75.56%,#110000 93.86%,#200000 100.00%)"></i>
<i style="top:258px;height:1px;background:linear-gradient(90deg,#0e0000 0.00%,#100000 1.80%,#320000 6.03%,#480000 9.74%,#640000 10.79%,#8e0000 11.64%,#9e0000 13.02%,#db0000 14.07%,#e80000 14.81%,#e20000 15.24%,#ce0000 15.66%,#a10000 16.19%,#920000 17.35%,#6d0000 17.99%,#4e0000 18.84%,#470000 19.89%,#650000 22.22%,#680000 23.17%,#580000 24.13%,#360000 25.19%,#210000 26.46%,#1a0000 30.37%,#380000 35.66%,#3e0000 37.78%,#600000 39.37%,#910000 40.63%,#a50000 42.12%,#ff0000 42.96%,#ff8e00 44.23%,#ffc400 44.97%,#ffca00 45.29%,#ffc300 45.61%,#ff8700 46.35%,#ff1b00 47.20%,#e80000 47.62%,#b30000 48.04%,#9c0000 48.47%,#8d0000 49.42%,#680000 50.05%,#4b0000 51.85%,#310000 54.71%,#190000 63.17%,#210000 68.36%,#0c0000 75.56%,#110000 93.86%,#200000 100.00%)"></i>
<i style="top:259px;height:1px;background:linear-gradient(90deg,#0e0000 0.00%,#0f0000 1.80%,#2f0000 6.03%,#420000 9.74%,#5d0000 10.79%,#880000 11.64%,#ab0000 13.54%,#cb0000 14.07%,#d70000 14.81%,#d20000 15.24%,#9e0000 16.19%,#8d0000 17.35%,#640000 17.99%,#480000 18.84%,#410000 19.89%,#600000 23.17%,#510000 24.13%,#330000 25.19%,#1f0000 26.46%,#190000 30.37%,#350000 35.66%,#3a0000 37.78%,#590000 39.37%,#8b0000 40.63%,#9f0000 42.12%,#bb0000 42.54%,#ed0000 42.96%,#ff1d00 43.39%,#ff7200 44.23%,#ffa300 44.97%,#ffa300 45.61%,#ff6b00 46.35%,#ff0700 47.20%,#a70000 48.04%,#880000 49.42%,#620000 50.05%,#390000 53.12%,#180000 61.59%,#200000 68.36%,#0c0000 75.56%,#150000 96.51%,#1f0000 100.00%)"></i>
<i style="top:260px;height:1px;background:linear-gradient(90deg,#0d0000 0.00%,#0f0000 1.80%,#3b0000 9.74%,#510000 10.79%,#940000 12.38%,#9f0000 13.54%,#bd0000 14.81%,#800000 17.35%,#580000 17.99%,#3f0000 18.84%,#3a0000 19.89%,#550000 23.17%,#1c0000 26.46%,#1e0000 32.17%,#2f0000 35.66%,#350000 37.78%,#610000 40.00%,#920000 41.16%,#a60000 42.54%,#fd0000 43.39%,#ff6600 44.66%,#ff7a00 45.29%,#ff6300 45.93%,#ff1800 46.77%,#e90000 47.20%,#9e0000 48.04%,#930000 48.89%,#580000 50.05%,#2c0000 54.71%,#180000 63.17%,#1f0000 68.36%,#0b0000 75.56%,#140000 96.51%,#1d0000 100.00%)"></i>
<i style="top:261px;height:1px;background:linear-gradient(90deg,#0d0000 0.00%,#1e0000 3.92%,#3a0000 9.74%,#500000 10.79%,#940000 12.38%,#9e0000 13.54%,#b80000 14.81%,#950000 16.72%,#7e0000 17.35%,#570000 17.99%,#3e0000 18.84%,#390000 19.89%,#530000 23.17%,#1c0000 26.46%,#1d0000 32.17%,#2f0000 35.66%,#3e0000 38.62%,#5f0000 40.00%,#920000 41.16%,#a30000 42.54%,#f80000 43.39%,#ff5f00 44.66%,#ff7300 45.29%,#ff5c00 45.93%,#ff1300 46.77%,#e50000 47.20%,#b90000 47.62%,#9d0000 48.04%,#930000 48.89%,#570000 50.05%,#2c0000 54.71%,#180000 63.17%,#1e0000 68.36%,#0b0000 76.40%,#140000 96.51%,#1d0000 100.00%)"></i>
<i style="top:262px;height:1px;background:linear-gradient(90deg,#0d0000 0.00%,#1e0000 3.92%,#3a0000 9.74%,#500000 10.79%,#940000 12.38%,#9e0000 13.54%,#ba0000 14.81%,#950000 16.72%,#7f0000 17.35%,#570000 17.99%,#3e0000 18.84%,#390000 19.89%,#540000 23.17%,#1c0000 26.46%,#170000 30.37%,#2f0000 35.66%,#340000 37.78%,#600000 40.00%,#920000 41.16%,#a40000 42.54%,#fa0000 43.39%,#ff6200 44.66%,#ff7600 45.29%,#ff5f00 45.93%,#ff1500 46.77%,#e60000 47.20%,#bb0000 47.62%,#9e0000 48.04%,#930000 48.89%,#580000 50.05%,#2c0000 54.71%,#180000 63.17%,#1f0000 68.36%,#0b0000 75.56%,#140000 96.51%,#1d0000 100.00%)"></i>
<i style="top:263px;height:1px;background:linear-gradient(90deg,#0d0000 0.00%,#1e0000 3.92%,#3a0000 9.74%,#500000 10.79%,#940000 12.38%,#9e0000 13.54%,#b80000 14.81%,#950000 16.72%,#7e0000 17.35%,#570000 17.99%,#3e0000 18.84%,#390000 19.89%,#530000 23.17%,#1c0000 26.46%,#1d0000 32.17%,#2f0000 35.66%,#3e0000 38.62%,#5f0000 40.00%,#920000 41.16%,#a30000 42.54%,#f90000 43.39%,#ff6000 44.66%,#ff7300 45.29%,#ff5d00 45.93%,#ff1300 46.77%,#e50000 47.20%,#b90000 47.62%,#9d0000 48.04%,#930000 48.89%,#570000 50.05%,#2c0000 54.71%,#180000 63.17%,#1e0000 68.36%,#0b0000 76.40%,#140000 96.51%,#1d0000 100.00%)"></i>
<i style="top:264px;height:1px;background:linear-gradient(90deg,#0d0000 0.00%,#1d0000 3.92%,#380000 9.74%,#4d0000 10.79%,#930000 12.38%,#b00000 14.81%,#940000 16.72%,#530000 17.99%,#3c0000 18.84%,#370000 19.89%,#500000 23.17%,#1b0000 26.46%,#1d0000 32.17%,#2d0000 35.66%,#3c0000 38.62%,#5c0000 40.00%,#8f0000 41.16%,#9f0000 42.54%,#f00000 43.39%,#ff1200 43.81%,#ff5300 44.66%,#ff6600 45.29%,#ff5000 45.93%,#ff0900 46.77%,#b10000 47.62%,#9c0000 48.04%,#920000 48.89%,#540000 50.05%,#2b0000 54.71%,#170000 63.17%,#1e0000 68.36%,#0a0000 76.40%,#140000 96.51%,#1c0000 100.00%)"></i>
<i style="top:265px;height:1px;background:linear-gradient(90deg,#0d0000 0.00%,#1c0000 3.92%,#360000 9.74%,#490000 10.79%,#920000 12.38%,#aa0000 14.81%,#930000 16.72%,#500000 17.99%,#390000 18.84%,#350000 19.89%,#4c0000 23.17%,#1a0000 26.46%,#1c0000 32.17%,#2c0000 35.66%,#3a0000 38.62%,#580000 40.00%,#8c0000 41.16%,#9e0000 42.54%,#e60000 43.39%,#ff0800 43.81%,#ff4600 44.66%,#ff5800 45.29%,#ff4300 45.93%,#fe0000 46.77%,#ab0000 47.62%,#8f0000 48.89%,#520000 50.05%,#2b0000 54.71%,#170000 63.17%,#1d0000 68.36%,#0a0000 76.40%,#140000 96.51%,#1c0000 100.00%)"></i>
<i style="top:266px;height:1px;background:linear-gradient(90deg,#0d0000 0.00%,#1b0000 3.92%,#330000 9.74%,#440000 10.79%,#650000 11.64%,#8e0000 12.38%,#a10000 14.81%,#920000 16.72%,#4a0000 17.99%,#360000 18.84%,#320000 19.89%,#470000 23.17%,#190000 26.46%,#1b0000 32.17%,#290000 35.66%,#370000 38.62%,#520000 40.00%,#870000 41.16%,#9d0000 42.54%,#b00000 42.96%,#f60000 43.81%,#ff3e00 44.97%,#ff3e00 45.61%,#ff1400 46.35%,#ef0000 46.77%,#a10000 47.62%,#8a0000 48.89%,#680000 49.42%,#4d0000 50.05%,#290000 54.71%,#160000 63.17%,#1d0000 68.36%,#0a0000 76.40%,#130000 96.51%,#1b0000 100.00%)"></i>
<i style="top:267px;height:1px;background:linear-gradient(90deg,#0d0000 0.00%,#320000 9.74%,#430000 10.79%,#630000 11.64%,#8c0000 12.38%,#9f0000 14.81%,#920000 16.72%,#480000 17.99%,#350000 18.84%,#390000 21.16%,#460000 23.17%,#190000 26.46%,#1a0000 32.17%,#360000 38.62%,#500000 40.00%,#940000 41.69%,#9c0000 42.54%,#ac0000 42.96%,#f10000 43.81%,#ff1300 44.23%,#ff3700 44.97%,#ff3700 45.61%,#ff0e00 46.35%,#ea0000 46.77%,#a00000 47.62%,#890000 48.89%,#660000 49.42%,#4c0000 50.05%,#290000 54.71%,#160000 63.17%,#1c0000 68.36%,#0a0000 76.40%,#130000 96.51%,#1b0000 100.00%)"></i>
<i style="top:268px;height:1px;background:linear-gradient(90deg,#0d0000 0.00%,#1c0000 3.92%,#360000 9.74%,#4a0000 10.79%,#920000 12.38%,#ab0000 14.81%,#940000 16.72%,#500000 17.99%,#3a0000 18.84%,#350000 19.89%,#4d0000 23.17%,#1a0000 26.46%,#1c0000 32.17%,#2c0000 35.66%,#3a0000 38.62%,#580000 40.00%,#8d0000 41.16%,#9f0000 42.54%,#e80000 43.39%,#ff0900 43.81%,#ff4800 44.66%,#ff5a00 45.29%,#ff4500 45.93%,#ff0100 46.77%,#ac0000 47.62%,#960000 48.47%,#900000 48.89%,#520000 50.05%,#2b0000 54.71%,#170000 63.17%,#1e0000 68.36%,#0a0000 76.40%,#140000 96.51%,#1c0000 100.00%)"></i>
<i style="top:269px;height:1px;background:linear-gradient(90deg,#0d0000 0.00%,#0f0000 1.80%,#3a0000 9.74%,#510000 10.79%,#940000 12.38%,#9f0000 13.54%,#bc0000 14.81%,#800000 17.35%,#580000 17.99%,#3f0000 18.84%,#3a0000 19.89%,#540000 23.17%,#1c0000 26.46%,#170000 30.37%,#2f0000 35.66%,#340000 37.78%,#4e0000 39.37%,#920000 41.16%,#a50000 42.54%,#fc0000 43.39%,#ff6500 44.66%,#ff7800 45.29%,#ff6100 45.93%,#ff1700 46.77%,#e80000 47.20%,#9e0000 48.04%,#930000 48.89%,#580000 50.05%,#2c0000 54.71%,#180000 63.17%,#1f0000 68.36%,#0b0000 75.56%,#140000 96.51%,#1d0000 100.00%)"></i>
<i style="top:270px;height:1px;background:linear-gradient(90deg,#0e0000 0.00%,#0f0000 1.80%,#2d0000 6.03%,#3e0000 9.74%,#570000 10.79%,#800000 11.64%,#950000 12.38%,#a20000 13.54%,#c90000 14.50%,#c40000 15.24%,#9c0000 16.19%,#880000 17.35%,#5e0000 17.99%,#430000 18.84%,#3d0000 19.89%,#5a0000 23.17%,#1d0000 26.46%,#180000 30.37%,#320000 35.66%,#370000 37.78%,#530000 39.37%,#930000 41.16%,#9d0000 42.12%,#af0000 42.54%,#df0000 42.96%,#ff0d00 43.39%,#ff7b00 44.66%,#ff9000 45.29%,#ff8a00 45.61%,#ff5600 46.35%,#f60000 47.20%,#9f0000 48.04%,#940000 48.89%,#5d0000 50.05%,#380000 53.12%,#170000 61.59%,#1f0000 68.36%,#0c0000 75.56%,#150000 96.51%,#1e0000 100.00%)"></i>
<i style="top:271px;height:1px;background:linear-gradient(90deg,#0e0000 0.00%,#0f0000 1.80%,#2f0000 6.03%,#420000 9.74%,#5c0000 10.79%,#880000 11.64%,#aa0000 13.54%,#c90000 14.07%,#d60000 14.81%,#d00000 15.24%,#9e0000 16.19%,#8c0000 17.35%,#640000 17.99%,#470000 18.84%,#410000 19.89%,#5f0000 23.17%,#1f0000 26.46%,#190000 30.37%,#340000 35.66%,#3a0000 37.78%,#580000 39.37%,#8b0000 40.63%,#9f0000 42.12%,#b90000 42.54%,#eb0000 42.96%,#ff1b00 43.39%,#ff9000 44.66%,#ffa600 45.29%,#ff8c00 45.93%,#ff3900 46.77%,#ff0500 47.20%,#a60000 48.04%,#870000 49.42%,#610000 50.05%,#390000 53.12%,#180000 61.59%,#200000 68.36%,#0c0000 75.56%,#150000 96.51%,#1f0000 100.00%)"></i>
<i style="top:272px;height:1px;background:linear-gradient(90deg,#0e0000 0.00%,#100000 1.80%,#310000 6.03%,#450000 9.74%,#600000 10.79%,#8b0000 11.64%,#9d0000 13.02%,#b10000 13.54%,#d30000 14.07%,#df0000 14.81%,#da0000 15.24%,#9f0000 16.19%,#900000 17.35%,#680000 17.99%,#4b0000 18.84%,#440000 19.89%,#610000 22.22%,#640000 23.17%,#540000 24.13%,#350000 25.19%,#200000 26.46%,#1a0000 30.37%,#360000 35.66%,#3c0000 37.78%,#5c0000 39.37%,#8e0000 40.63%,#a00000 42.12%,#c40000 42.54%,#f60000 42.96%,#ff7f00 44.23%,#ffb200 44.97%,#ffb900 45.29%,#ffb200 45.61%,#ff7800 46.35%,#ff1000 47.20%,#e00000 47.62%,#ad0000 48.04%,#9b0000 48.47%,#8a0000 49.42%,#650000 50.05%,#3a0000 53.12%,#180000 61.59%,#210000 68.36%,#0c0000 75.56%,#150000 96.51%,#1f0000 100.00%)"></i>
<i style="top:273px;height:1px;background:linear-gradient(90deg,#0e0000 0.00%,#100000 1.80%,#320000 6.03%,#470000 9.74%,#630000 10.79%,#8d0000 11.64%,#9e0000 13.02%,#d80000 14.07%,#e50000 14.81%,#df0000 15.24%,#cb0000 15.66%,#a00000 16.19%,#910000 17.35%,#6b0000 17.99%,#4d0000 18.84%,#460000 19.89%,#670000 23.17%,#560000 24.13%,#360000 25.19%,#200000 26.46%,#1a0000 30.37%,#370000 35.66%,#3e0000 37.78%,#5f0000 39.37%,#900000 40.63%,#a30000 42.12%,#fc0000 42.96%,#ff8900 44.23%,#ffbd00 44.97%,#ffc400 45.29%,#ffa800 45.93%,#ff4e00 46.77%,#ff1700 47.20%,#e50000 47.62%,#b00000 48.04%,#9c0000 48.47%,#8c0000 49.42%,#670000 50.05%,#4a0000 51.85%,#300000 54.71%,#190000 63.17%,#210000 68.36%,#0c0000 75.56%,#110000 93.86%,#1f0000 100.00%)"></i>
<i style="top:274px;height:1px;background:linear-gradient(90deg,#0e0000 0.00%,#100000 1.80%,#300000 6.03%,#430000 9.74%,#5e0000 10.79%,#890000 11.64%,#9d0000 13.02%,#ae0000 13.54%,#ce0000 14.07%,#db0000 14.81%,#d50000 15.24%,#9e0000 16.19%,#8e0000 17.35%,#660000 17.99%,#490000 18.84%,#420000 19.89%,#5f0000 22.22%,#620000 23.17%,#1f0000 26.46%,#190000 30.37%,#350000 35.66%,#3b0000 37.78%,#5a0000 39.37%,#8c0000 40.63%,#9f0000 42.12%,#bf0000 42.54%,#f10000 42.96%,#ff2200 43.39%,#ff7800 44.23%,#ffaa00 44.97%,#ffb000 45.29%,#ffa900 45.61%,#ff7100 46.35%,#ff0b00 47.20%,#db0000 47.62%,#a90000 48.04%,#890000 49.42%,#630000 50.05%,#3a0000 53.12%,#180000 61.59%,#210000 68.36%,#0e0000 73.44%,#110000 93.86%,#1f0000 100.00%)"></i>
<i style="top:275px;height:1px;background:linear-gradient(90deg,#0d0000 0.00%,#1e0000 3.92%,#390000 9.74%,#4f0000 10.79%,#930000 12.38%,#ab0000 14.07%,#b50000 14.81%,#940000 16.72%,#7c0000 17.35%,#550000 17.99%,#3d0000 18.84%,#380000 19.89%,#520000 23.17%,#1b0000 26.46%,#1d0000 32.17%,#2e0000 35.66%,#3d0000 38.62%,#5e0000 40.00%,#910000 41.16%,#a10000 42.54%,#f50000 43.39%,#ff1800 43.81%,#ff5b00 44.66%,#ff6e00 45.29%,#ff5700 45.93%,#ff0f00 46.77%,#e20000 47.20%,#b60000 47.62%,#9d0000 48.04%,#930000 48.89%,#560000 50.05%,#2c0000 54.71%,#170000 63.17%,#1e0000 68.36%,#0b0000 76.40%,#140000 96.51%,#1d0000 100.00%)"></i>
<i style="top:276px;height:1px;background:linear-gradient(90deg,#0c0000 0.00%,#310000 9.74%,#410000 10.79%,#610000 11.64%,#8a0000 12.38%,#9f0000 14.50%,#900000 16.72%,#470000 17.99%,#340000 18.84%,#380000 21.16%,#440000 23.17%,#190000 26.46%,#1a0000 32.17%,#350000 38.62%,#4f0000 40.00%,#930000 41.69%,#a90000 42.96%,#ed0000 43.81%,#ff0e00 44.23%,#ff3100 44.97%,#ff3100 45.61%,#ff0900 46.35%,#e50000 46.77%,#9f0000 47.62%,#870000 48.89%,#640000 49.42%,#4b0000 50.05%,#280000 54.71%,#160000 63.17%,#1c0000 68.36%,#0a0000 76.40%,#130000 96.51%,#1b0000 100.00%)"></i>
<i style="top:277px;height:1px;background:linear-gradient(90deg,#0d0000 0.00%,#1c0000 3.92%,#350000 9.74%,#490000 10.79%,#920000 12.38%,#a90000 14.81%,#930000 16.72%,#4f0000 17.99%,#390000 18.84%,#350000 19.89%,#4c0000 23.17%,#1a0000 26.46%,#1c0000 32.17%,#2b0000 35.66%,#3a0000 38.62%,#570000 40.00%,#8b0000 41.16%,#9e0000 42.54%,#bb0000 42.96%,#e50000 43.39%,#ff0500 43.81%,#ff4300 44.66%,#ff5500 45.29%,#ff4000 45.93%,#fc0000 46.77%,#aa0000 47.62%,#8f0000 48.89%,#510000 50.05%,#2a0000 54.71%,#170000 63.17%,#1d0000 68.36%,#0a0000 76.40%,#140000 96.51%,#1c0000 100.00%)"></i>
<i style="top:278px;height:1px;background:linear-gradient(90deg,#0d0000 0.00%,#1e0000 3.92%,#3a0000 9.74%,#500000 10.79%,#940000 12.38%,#9e0000 13.54%,#b90000 14.81%,#950000 16.72%,#7e0000 17.35%,#570000 17.99%,#3e0000 18.84%,#390000 19.89%,#530000 23.17%,#1c0000 26.46%,#1d0000 32.17%,#2f0000 35.66%,#340000 37.78%,#4d0000 39.37%,#920000 41.16%,#a40000 42.54%,#f90000 43.39%,#ff6100 44.66%,#ff7400 45.29%,#ff5e00 45.93%,#ff1400 46.77%,#e60000 47.20%,#ba0000 47.62%,#9e0000 48.04%,#930000 48.89%,#570000 50.05%,#2c0000 54.71%,#180000 63.17%,#1f0000 68.36%,#0b0000 75.56%,#140000 96.51%,#1d0000 100.00%)"></i>
<i style="top:279px;height:1px;background:linear-gradient(90deg,#0e0000 0.00%,#0f0000 1.80%,#2d0000 6.03%,#3f0000 9.74%,#570000 10.79%,#810000 11.64%,#9b0000 13.02%,#a30000 13.54%,#cb0000 14.50%,#c60000 15.24%,#9d0000 16.19%,#890000 17.35%,#5f0000 17.99%,#440000 18.84%,#3e0000 19.89%,#5b0000 23.17%,#1d0000 26.46%,#180000 30.37%,#320000 35.66%,#380000 37.78%,#540000 39.37%,#870000 40.63%,#9d0000 42.12%,#b00000 42.54%,#e10000 42.96%,#ff0f00 43.39%,#ff7e00 44.66%,#ff9300 45.29%,#ff7b00 45.93%,#ff2b00 46.77%,#f80000 47.20%,#a00000 48.04%,#940000 48.89%,#5e0000 50.05%,#380000 53.12%,#170000 61.59%,#200000 68.36%,#0c0000 74.81%,#110000 93.86%,#1e0000 100.00%)"></i>
<i style="top:280px;height:1px;background:linear-gradient(90deg,#0e0000 0.00%,#100000 1.80%,#300000 6.03%,#440000 9.74%,#5f0000 10.79%,#8a0000 11.64%,#9d0000 13.02%,#af0000 13.54%,#d00000 14.07%,#dc0000 14.81%,#d60000 15.24%,#9f0000 16.19%,#8e0000 17.35%,#670000 17.99%,#4a0000 18.84%,#430000 19.89%,#620000 23.17%,#530000 24.13%,#340000 25.19%,#1f0000 26.46%,#190000 30.37%,#360000 35.66%,#3b0000 37.78%,#700000 40.00%,#8d0000 40.63%,#9f0000 42.12%,#c00000 42.54%,#f20000 42.96%,#ff2300 43.39%,#ff7a00 44.23%,#ffac00 44.97%,#ffac00 45.61%,#ff7300 46.35%,#ff0c00 47.20%,#dd0000 47.62%,#aa0000 48.04%,#890000 49.42%,#640000 50.05%,#3a0000 53.12%,#180000 61.59%,#210000 68.36%,#0e0000 73.44%,#110000 93.86%,#1f0000 100.00%)"></i>
<i style="top:281px;height:1px;background:linear-gradient(90deg,#0e0000 0.00%,#0f0000 1.80%,#2c0000 6.03%,#3d0000 9.74%,#550000 10.79%,#7e0000 11.64%,#950000 12.38%,#a00000 13.54%,#c50000 14.50%,#c00000 15.24%,#9c0000 16.19%,#860000 17.35%,#5c0000 17.99%,#420000 18.84%,#3c0000 19.89%,#580000 23.17%,#1d0000 26.46%,#180000 30.37%,#310000 35.66%,#360000 37.78%,#650000 40.00%,#930000 41.16%,#9d0000 42.12%,#ac0000 42.54%,#ff0800 43.39%,#ff7400 44.66%,#ff8900 45.29%,#ff7100 45.93%,#ff2300 46.77%,#f20000 47.20%,#9f0000 48.04%,#940000 48.89%,#5b0000 50.05%,#2d0000 54.71%,#180000 63.17%,#1f0000 68.36%,#0c0000 75.56%,#150000 96.51%,#1e0000 100.00%)"></i>
<i style="top:282px;height:1px;background:linear-gradient(90deg,#0d0000 0.00%,#1c0000 3.92%,#360000 9.74%,#490000 10.79%,#920000 12.38%,#aa0000 14.81%,#930000 16.72%,#500000 17.99%,#390000 18.84%,#350000 19.89%,#4c0000 23.17%,#1a0000 26.46%,#1c0000 32.17%,#2c0000 35.66%,#3a0000 38.62%,#580000 40.00%,#8c0000 41.16%,#9e0000 42.54%,#e60000 43.39%,#ff0700 43.81%,#ff4500 44.66%,#ff5700 45.29%,#ff4200 45.93%,#fe0000 46.77%,#ab0000 47.62%,#960000 48.47%,#8f0000 48.89%,#510000 50.05%,#2a0000 54.71%,#170000 63.17%,#1d0000 68.36%,#0a0000 76.40%,#140000 96.51%,#1c0000 100.00%)"></i>
<i style="top:283px;height:1px;background:linear-gradient(90deg,#0d0000 0.00%,#1c0000 3.92%,#350000 9.74%,#480000 10.79%,#920000 12.38%,#a80000 14.81%,#930000 16.72%,#4f0000 17.99%,#390000 18.84%,#340000 19.89%,#4b0000 23.17%,#1a0000 26.46%,#1b0000 32.17%,#2b0000 35.66%,#390000 38.62%,#570000 40.00%,#8b0000 41.16%,#9e0000 42.54%,#ba0000 42.96%,#e40000 43.39%,#ff0400 43.81%,#ff4200 44.66%,#ff5400 45.29%,#ff3f00 45.93%,#fb0000 46.77%,#a90000 47.62%,#8e0000 48.89%,#510000 50.05%,#2a0000 54.71%,#170000 63.17%,#1d0000 68.36%,#0a0000 76.40%,#140000 96.51%,#1c0000 100.00%)"></i>
<i style="top:284px;height:1px;background:linear-gradient(90deg,#0e0000 0.00%,#0f0000 1.80%,#3f0000 9.74%,#580000 10.79%,#820000 11.64%,#a40000 13.54%,#cc0000 14.50%,#c70000 15.24%,#9d0000 16.19%,#890000 17.35%,#5f0000 17.99%,#440000 18.84%,#3e0000 19.89%,#5b0000 23.17%,#1e0000 26.46%,#180000 30.37%,#320000 35.66%,#380000 37.78%,#550000 39.37%,#940000 41.16%,#9d0000 42.12%,#b10000 42.54%,#e20000 42.96%,#ff1000 43.39%,#ff8000 44.66%,#ff9500 45.29%,#ff8f00 45.61%,#ff5a00 46.35%,#f90000 47.20%,#a00000 48.04%,#940000 48.89%,#820000 49.42%,#5e0000 50.05%,#380000 53.12%,#170000 61.59%,#200000 68.36%,#0c0000 74.81%,#110000 93.86%,#1e0000 100.00%)"></i>
<i style="top:285px;height:1px;background:linear-gradient(90deg,#0e0000 0.00%,#100000 1.80%,#300000 6.03%,#440000 9.74%,#5f0000 10.79%,#8a0000 11.64%,#9d0000 13.02%,#b00000 13.54%,#d10000 14.07%,#dd0000 14.81%,#d70000 15.24%,#9f0000 16.19%,#8f0000 17.35%,#670000 17.99%,#4a0000 18.84%,#430000 19.89%,#600000 22.22%,#630000 23.17%,#530000 24.13%,#340000 25.19%,#1f0000 26.46%,#190000 30.37%,#360000 35.66%,#3c0000 37.78%,#5b0000 39.37%,#8d0000 40.63%,#9f0000 42.12%,#c10000 42.54%,#f30000 42.96%,#ff4e00 43.81%,#ff7c00 44.23%,#ffae00 44.97%,#ffb400 45.29%,#ffad00 45.61%,#ff7400 46.35%,#ff0d00 47.20%,#de0000 47.62%,#ab0000 48.04%,#8a0000 49.42%,#640000 50.05%,#3a0000 53.12%,#180000 61.59%,#210000 68.36%,#0e0000 73.44%,#110000 93.86%,#1f0000 100.00%)"></i>
<i style="top:286px;height:1px;background:linear-gradient(90deg,#0e0000 0.00%,#0f0000 1.80%,#2e0000 6.03%,#410000 9.74%,#5a0000 10.79%,#860000 11.64%,#a80000 13.54%,#c60000 14.07%,#d30000 14.81%,#ce0000 15.24%,#9d0000 16.19%,#8b0000 17.35%,#620000 17.99%,#460000 18.84%,#400000 19.89%,#5e0000 23.17%,#1e0000 26.46%,#190000 30.37%,#340000 35.66%,#390000 37.78%,#570000 39.37%,#8a0000 40.63%,#9e0000 42.12%,#b60000 42.54%,#e80000 42.96%,#ff1700 43.39%,#ff6a00 44.23%,#ff9a00 44.97%,#ff9a00 45.61%,#ff6300 46.35%,#ff0100 47.20%,#a40000 48.04%,#850000 49.42%,#600000 50.05%,#390000 53.12%,#170000 61.59%,#200000 68.36%,#0c0000 75.56%,#150000 96.51%,#1e0000 100.00%)"></i>
<i style="top:287px;height:1px;background:linear-gradient(90deg,#0e0000 0.00%,#0f0000 1.80%,#3d0000 9.74%,#560000 10.79%,#7f0000 11.64%,#950000 12.38%,#a10000 13.54%,#c70000 14.50%,#c20000 15.24%,#9c0000 16.19%,#870000 17.35%,#5d0000 17.99%,#420000 18.84%,#3c0000 19.89%,#590000 23.17%,#1d0000 26.46%,#180000 30.37%,#310000 35.66%,#370000 37.78%,#660000 40.00%,#930000 41.16%,#9d0000 42.12%,#ad0000 42.54%,#dd0000 42.96%,#ff0a00 43.39%,#ff5900 44.23%,#ff8700 44.97%,#ff8600 45.61%,#ff5200 46.35%,#f40000 47.20%,#9f0000 48.04%,#940000 48.89%,#5c0000 50.05%,#370000 53.12%,#170000 61.59%,#1f0000 68.36%,#0c0000 75.56%,#150000 96.51%,#1e0000 100.00%)"></i>
<i style="top:288px;height:1px;background:linear-gradient(90deg,#0d0000 0.00%,#1d0000 3.92%,#380000 9.74%,#4d0000 10.79%,#930000 12.38%,#a80000 14.07%,#b20000 14.81%,#940000 16.72%,#540000 17.99%,#3c0000 18.84%,#370000 19.89%,#500000 23.17%,#1b0000 26.46%,#1d0000 32.17%,#2e0000 35.66%,#3c0000 38.62%,#5c0000 40.00%,#900000 41.16%,#a00000 42.54%,#f10000 43.39%,#ff1400 43.81%,#ff5500 44.66%,#ff6800 45.29%,#ff5200 45.93%,#ff0b00 46.77%,#b20000 47.62%,#9d0000 48.04%,#920000 48.89%,#550000 50.05%,#2b0000 54.71%,#170000 63.17%,#1e0000 68.36%,#0b0000 76.40%,#140000 96.51%,#1d0000 100.00%)"></i>
<i style="top:289px;height:1px;background:linear-gradient(90deg,#0d0000 0.00%,#1b0000 3.92%,#330000 9.74%,#450000 10.79%,#8e0000 12.38%,#a10000 14.81%,#930000 16.72%,#4b0000 17.99%,#360000 18.84%,#320000 19.89%,#480000 23.17%,#190000 26.46%,#1b0000 32.17%,#370000 38.62%,#530000 40.00%,#880000 41.16%,#9d0000 42.54%,#b10000 42.96%,#f80000 43.81%,#ff4000 44.97%,#ff4000 45.61%,#ff1500 46.35%,#f00000 46.77%,#a20000 47.62%,#8b0000 48.89%,#680000 49.42%,#4e0000 50.05%,#290000 54.71%,#160000 63.17%,#1d0000 68.36%,#0a0000 76.40%,#130000 96.51%,#1b0000 100.00%)"></i>
<i style="top:290px;height:1px;background:linear-gradient(90deg,#0d0000 0.00%,#1b0000 3.92%,#320000 9.74%,#440000 10.79%,#8d0000 12.38%,#a00000 14.81%,#920000 16.72%,#4a0000 17.99%,#360000 18.84%,#3a0000 21.16%,#470000 23.17%,#190000 26.46%,#1a0000 32.17%,#290000 35.66%,#370000 38.62%,#520000 40.00%,#860000 41.16%,#9d0000 42.54%,#af0000 42.96%,#f60000 43.81%,#ff3d00 44.97%,#ff3d00 45.61%,#ff1300 46.35%,#ee0000 46.77%,#a10000 47.62%,#8a0000 48.89%,#680000 49.42%,#4d0000 50.05%,#290000 54.71%,#160000 63.17%,#1d0000 68.36%,#0a0000 76.40%,#130000 96.51%,#1b0000 100.00%)"></i>
<i style="top:291px;height:1px;background:linear-gradient(90deg,#0d0000 0.00%,#0e0000 1.80%,#370000 9.74%,#4b0000 10.79%,#930000 12.38%,#ae0000 14.81%,#940000 16.72%,#520000 17.99%,#3b0000 18.84%,#360000 19.89%,#4e0000 23.17%,#1b0000 26.46%,#1c0000 32.17%,#2d0000 35.66%,#3b0000 38.62%,#5a0000 40.00%,#8e0000 41.16%,#9f0000 42.54%,#ec0000 43.39%,#ff0e00 43.81%,#ff4e00 44.66%,#ff6000 45.29%,#ff4b00 45.93%,#ff0500 46.77%,#af0000 47.62%,#9c0000 48.04%,#910000 48.89%,#530000 50.05%,#2b0000 54.71%,#170000 63.17%,#1e0000 68.36%,#0a0000 76.40%,#140000 96.51%,#1c0000 100.00%)"></i>
<i style="top:292px;height:1px;background:linear-gradient(90deg,#0d0000 0.00%,#0f0000 1.80%,#3b0000 9.74%,#520000 10.79%,#940000 12.38%,#9f0000 13.54%,#be0000 14.50%,#b90000 15.24%,#9b0000 16.19%,#820000 17.35%,#5a0000 17.99%,#400000 18.84%,#3b0000 19.89%,#560000 23.17%,#1c0000 26.46%,#1e0000 32.17%,#300000 35.66%,#350000 37.78%,#500000 39.37%,#930000 41.16%,#a80000 42.54%,#ff0100 43.39%,#ff6a00 44.66%,#ff7e00 45.29%,#ff6700 45.93%,#ff1c00 46.77%,#ec0000 47.20%,#9e0000 48.04%,#930000 48.89%,#590000 50.05%,#2d0000 54.71%,#180000 63.17%,#1f0000 68.36%,#0b0000 75.56%,#140000 96.51%,#1d0000 100.00%)"></i>
<i style="top:293px;height:1px;background:linear-gradient(90deg,#0e0000 0.00%,#0f0000 1.80%,#3e0000 9.74%,#560000 10.79%,#800000 11.64%,#950000 12.38%,#a20000 13.54%,#c80000 14.50%,#c30000 15.24%,#9c0000 16.19%,#880000 17.35%,#5e0000 17.99%,#430000 18.84%,#3d0000 19.89%,#5a0000 23.17%,#1d0000 26.46%,#180000 30.37%,#320000 35.66%,#370000 37.78%,#530000 39.37%,#930000 41.16%,#9d0000 42.12%,#ae0000 42.54%,#df0000 42.96%,#ff0c00 43.39%,#ff7a00 44.66%,#ff8f00 45.29%,#ff8900 45.61%,#ff5500 46.35%,#f60000 47.20%,#9f0000 48.04%,#940000 48.89%,#5d0000 50.05%,#380000 53.12%,#170000 61.59%,#1f0000 68.36%,#0c0000 75.56%,#150000 96.51%,#1e0000 100.00%)"></i>
<i style="top:294px;height:1px;background:linear-gradient(90deg,#0e0000 0.00%,#0f0000 1.80%,#2e0000 6.03%,#410000 9.74%,#5a0000 10.79%,#850000 11.64%,#a80000 13.54%,#c50000 14.07%,#d30000 14.81%,#cd0000 15.24%,#9d0000 16.19%,#8b0000 17.35%,#620000 17.99%,#460000 18.84%,#400000 19.89%,#5e0000 23.17%,#1e0000 26.46%,#190000 30.37%,#330000 35.66%,#390000 37.78%,#570000 39.37%,#890000 40.63%,#9e0000 42.12%,#b60000 42.54%,#e80000 42.96%,#ff1700 43.39%,#ff8a00 44.66%,#ff9f00 45.29%,#ff9900 45.61%,#ff6300 46.35%,#ff0100 47.20%,#a40000 48.04%,#850000 49.42%,#600000 50.05%,#390000 53.12%,#170000 61.59%,#200000 68.36%,#0c0000 75.56%,#150000 96.51%,#1e0000 100.00%)"></i>
<i style="top:295px;height:1px;background:linear-gradient(90deg,#0e0000 0.00%,#0f0000 1.80%,#2e0000 6.03%,#410000 9.74%,#5b0000 10.79%,#860000 11.64%,#a80000 13.54%,#c60000 14.07%,#d30000 14.81%,#ce0000 15.24%,#9d0000 16.19%,#8b0000 17.35%,#620000 17.99%,#460000 18.84%,#400000 19.89%,#5e0000 23.17%,#1e0000 26.46%,#190000 30.37%,#340000 35.66%,#390000 37.78%,#570000 39.37%,#8a0000 40.63%,#9e0000 42.12%,#b70000 42.54%,#e90000 42.96%,#ff1800 43.39%,#ff6b00 44.23%,#ff9b00 44.97%,#ffa100 45.29%,#ff8700 45.93%,#ff3500 46.77%,#ff0200 47.20%,#a40000 48.04%,#850000 49.42%,#600000 50.05%,#390000 53.12%,#170000 61.59%,#200000 68.36%,#0c0000 75.56%,#150000 96.51%,#1e0000 100.00%)"></i>
<i style="top:296px;height:1px;background:linear-gradient(90deg,#0e0000 0.00%,#0f0000 1.80%,#2d0000 6.03%,#3e0000 9.74%,#570000 10.79%,#810000 11.64%,#9b0000 13.02%,#a30000 13.54%,#cb0000 14.50%,#c60000 15.24%,#9d0000 16.19%,#890000 17.35%,#5f0000 17.99%,#440000 18.84%,#3e0000 19.89%,#5b0000 23.17%,#1d0000 26.46%,#180000 30.37%,#320000 35.66%,#380000 37.78%,#540000 39.37%,#870000 40.63%,#9d0000 42.12%,#b00000 42.54%,#e10000 42.96%,#ff0f00 43.39%,#ff7e00 44.66%,#ff9300 45.29%,#ff8d00 45.61%,#ff5800 46.35%,#f80000 47.20%,#a00000 48.04%,#940000 48.89%,#5d0000 50.05%,#380000 53.12%,#170000 61.59%,#200000 68.36%,#0c0000 74.81%,#110000 93.86%,#1e0000 100.00%)"></i>
<i style="top:297px;height:1px;background:linear-gradient(90deg,#0d0000 0.00%,#1e0000 3.92%,#3a0000 9.74%,#510000 10.79%,#940000 12.38%,#9e0000 13.54%,#ba0000 14.81%,#950000 16.72%,#7f0000 17.35%,#570000 17.99%,#3e0000 18.84%,#390000 19.89%,#540000 23.17%,#1c0000 26.46%,#170000 30.37%,#2f0000 35.66%,#340000 37.78%,#600000 40.00%,#920000 41.16%,#a50000 42.54%,#fb0000 43.39%,#ff6300 44.66%,#ff7600 45.29%,#ff7100 45.61%,#ff4000 46.35%,#ff1600 46.77%,#e70000 47.20%,#bb0000 47.62%,#9e0000 48.04%,#930000 48.89%,#580000 50.05%,#2c0000 54.71%,#180000 63.17%,#1f0000 68.36%,#0b0000 75.56%,#140000 96.51%,#1d0000 100.00%)"></i>
<i style="top:298px;height:1px;background:linear-gradient(90deg,#0d0000 0.00%,#1b0000 3.92%,#340000 9.74%,#460000 10.79%,#900000 12.38%,#a40000 14.81%,#930000 16.72%,#4c0000 17.99%,#370000 18.84%,#330000 19.89%,#490000 23.17%,#1a0000 26.46%,#1b0000 32.17%,#380000 38.62%,#540000 40.00%,#890000 41.16%,#9d0000 42.54%,#b40000 42.96%,#fd0000 43.81%,#ff3a00 44.66%,#ff4b00 45.29%,#ff3700 45.93%,#f50000 46.77%,#a50000 47.62%,#8c0000 48.89%,#6a0000 49.42%,#4f0000 50.05%,#2a0000 54.71%,#170000 63.17%,#1d0000 68.36%,#0a0000 76.40%,#130000 96.51%,#1c0000 100.00%)"></i>
<i style="top:299px;height:1px;background:linear-gradient(90deg,#0c0000 0.00%,#300000 9.74%,#400000 10.79%,#5f0000 11.64%,#890000 12.38%,#9e0000 14.50%,#8e0000 16.72%,#450000 17.99%,#330000 18.84%,#370000 21.16%,#420000 23.17%,#180000 26.46%,#1a0000 32.17%,#270000 35.66%,#340000 38.62%,#4d0000 40.00%,#930000 41.69%,#a60000 42.96%,#e80000 43.81%,#ff0800 44.23%,#ff2b00 44.97%,#ff2a00 45.61%,#ff0300 46.35%,#b70000 47.20%,#9e0000 47.62%,#940000 48.47%,#840000 48.89%,#620000 49.42%,#490000 50.05%,#280000 54.71%,#160000 63.17%,#1c0000 68.36%,#0a0000 76.40%,#130000 96.51%,#1b0000 100.00%)"></i>
<i style="top:300px;height:1px;background:linear-gradient(90deg,#0c0000 0.00%,#2d0000 9.74%,#3c0000 10.79%,#590000 11.64%,#810000 12.38%,#940000 13.02%,#9a0000 15.66%,#8a0000 16.72%,#5f0000 17.35%,#410000 17.99%,#300000 18.84%,#340000 21.16%,#3e0000 23.17%,#170000 26.46%,#190000 32.17%,#310000 38.62%,#480000 40.00%,#910000 41.69%,#9f0000 42.96%,#f80000 44.23%,#ff1e00 45.29%,#ff0d00 45.93%,#f40000 46.35%,#ac0000 47.20%,#970000 48.04%,#930000 48.47%,#5c0000 49.42%,#460000 50.05%,#200000 56.83%,#150000 63.17%,#1b0000 68.36%,#0a0000 77.46%,#120000 96.51%,#1a0000 100.00%)"></i>
<i style="top:301px;height:1px;background:linear-gradient(90deg,#0c0000 0.00%,#2d0000 9.74%,#3c0000 10.79%,#590000 11.64%,#820000 12.38%,#980000 13.54%,#9a0000 15.66%,#8a0000 16.72%,#5f0000 17.35%,#410000 17.99%,#310000 18.84%,#350000 21.16%,#3f0000 23.17%,#180000 26.46%,#190000 32.17%,#310000 38.62%,#480000 40.00%,#920000 41.69%,#9f0000 42.96%,#f90000 44.23%,#ff1f00 45.29%,#f50000 46.35%,#ad0000 47.20%,#970000 48.04%,#930000 48.47%,#5d0000 49.42%,#460000 50.05%,#200000 56.83%,#150000 63.17%,#1b0000 68.36%,#0a0000 77.46%,#120000 96.51%,#1a0000 100.00%)"></i>
<i style="top:302px;height:1px;background:linear-gradient(90deg,#0c0000 0.00%,#2f0000 9.74%,#3f0000 10.79%,#5e0000 11.64%,#880000 12.38%,#9c0000 14.07%,#960000 16.19%,#8e0000 16.72%,#450000 17.99%,#330000 18.84%,#370000 21.16%,#420000 23.17%,#180000 26.46%,#190000 32.17%,#340000 38.62%,#4c0000 40.00%,#930000 41.69%,#a50000 42.96%,#e60000 43.81%,#ff0600 44.23%,#ff2900 44.97%,#ff2800 45.61%,#ff0200 46.35%,#b50000 47.20%,#9e0000 47.62%,#940000 48.47%,#490000 50.05%,#280000 54.71%,#160000 63.17%,#1c0000 68.36%,#0a0000 76.40%,#130000 96.51%,#1b0000 100.00%)"></i>
<i style="top:303px;height:1px;background:linear-gradient(90deg,#0d0000 0.00%,#1c0000 3.92%,#340000 9.74%,#470000 10.79%,#900000 12.38%,#a50000 14.81%,#930000 16.72%,#4d0000 17.99%,#380000 18.84%,#330000 19.89%,#4a0000 23.17%,#1a0000 26.46%,#1b0000 32.17%,#2b0000 35.66%,#380000 38.62%,#550000 40.00%,#8a0000 41.16%,#9d0000 42.54%,#b50000 42.96%,#fe0000 43.81%,#ff3b00 44.66%,#ff4c00 45.29%,#ff3800 45.93%,#f60000 46.77%,#a60000 47.62%,#8d0000 48.89%,#4f0000 50.05%,#2a0000 54.71%,#170000 63.17%,#1d0000 68.36%,#0a0000 76.40%,#130000 96.51%,#1c0000 100.00%)"></i>
<i style="top:304px;height:1px;background:linear-gradient(90deg,#0d0000 0.00%,#0f0000 1.80%,#3a0000 9.74%,#510000 10.79%,#940000 12.38%,#9e0000 13.54%,#ba0000 14.50%,#b50000 15.24%,#9b0000 16.19%,#950000 16.72%,#7f0000 17.35%,#580000 17.99%,#3f0000 18.84%,#3a0000 19.89%,#540000 23.17%,#1c0000 26.46%,#170000 30.37%,#2f0000 35.66%,#340000 37.78%,#600000 40.00%,#920000 41.16%,#a50000 42.54%,#fb0000 43.39%,#ff6400 44.66%,#ff7700 45.29%,#ff7200 45.61%,#ff4100 46.35%,#ff1600 46.77%,#e70000 47.20%,#bc0000 47.62%,#9e0000 48.04%,#930000 48.89%,#580000 50.05%,#2c0000 54.71%,#180000 63.17%,#1f0000 68.36%,#0b0000 75.56%,#140000 96.51%,#1d0000 100.00%)"></i>
<i style="top:305px;height:1px;background:linear-gradient(90deg,#0d0000 0.00%,#1b0000 3.92%,#330000 9.74%,#460000 10.79%,#8f0000 12.38%,#a30000 14.81%,#930000 16.72%,#4c0000 17.99%,#370000 18.84%,#330000 19.89%,#490000 23.17%,#1a0000 26.46%,#1b0000 32.17%,#380000 38.62%,#540000 40.00%,#890000 41.16%,#9d0000 42.54%,#b30000 42.96%,#fb0000 43.81%,#ff4400 44.97%,#ff4400 45.61%,#ff1900 46.35%,#f30000 46.77%,#a40000 47.62%,#8c0000 48.89%,#4e0000 50.05%,#2a0000 54.71%,#170000 63.17%,#1d0000 68.36%,#0a0000 76.40%,#130000 96.51%,#1b0000 100.00%)"></i>
<i style="top:306px;height:1px;background:linear-gradient(90deg,#0c0000 0.00%,#2d0000 9.74%,#3b0000 10.79%,#570000 11.64%,#7f0000 12.38%,#940000 13.02%,#990000 15.66%,#890000 16.72%,#5d0000 17.35%,#400000 17.99%,#300000 18.84%,#340000 21.16%,#3d0000 23.17%,#170000 26.46%,#180000 32.17%,#310000 38.62%,#470000 40.00%,#750000 41.16%,#900000 41.69%,#9f0000 42.96%,#f50000 44.23%,#ff1a00 45.29%,#ff0900 45.93%,#f00000 46.35%,#aa0000 47.20%,#970000 48.04%,#930000 48.47%,#5b0000 49.42%,#450000 50.05%,#200000 56.83%,#150000 63.17%,#1b0000 68.36%,#0a0000 77.46%,#120000 96.51%,#1a0000 100.00%)"></i>
<i style="top:307px;height:1px;background:linear-gradient(90deg,#0c0000 0.00%,#2b0000 9.74%,#390000 10.79%,#530000 11.64%,#930000 13.02%,#980000 15.66%,#940000 16.19%,#830000 16.72%,#590000 17.35%,#3d0000 17.99%,#2e0000 18.84%,#320000 21.16%,#3b0000 23.17%,#170000 26.46%,#180000 32.17%,#2f0000 38.62%,#440000 40.00%,#700000 41.16%,#8d0000 41.69%,#9e0000 42.96%,#b00000 43.39%,#eb0000 44.23%,#ff0000 44.66%,#ff0e00 45.29%,#fd0000 45.93%,#c70000 46.77%,#a40000 47.20%,#910000 48.47%,#570000 49.42%,#420000 50.05%,#200000 56.83%,#150000 63.17%,#1b0000 68.36%,#090000 76.40%,#120000 96.51%,#1a0000 100.00%)"></i>
<i style="top:308px;height:1px;background:linear-gradient(90deg,#0c0000 0.00%,#2e0000 9.74%,#3e0000 10.79%,#5c0000 11.64%,#850000 12.38%,#980000 13.54%,#9a0000 15.66%,#8c0000 16.72%,#430000 17.99%,#320000 18.84%,#360000 21.16%,#400000 23.17%,#180000 26.46%,#190000 32.17%,#260000 35.66%,#330000 38.62%,#4a0000 40.00%,#920000 41.69%,#a20000 42.96%,#ff0100 44.23%,#ff2200 44.97%,#ff2200 45.61%,#fb0000 46.35%,#b10000 47.20%,#9e0000 47.62%,#930000 48.47%,#5f0000 49.42%,#470000 50.05%,#210000 56.83%,#160000 63.17%,#1c0000 68.36%,#0a0000 76.40%,#130000 96.51%,#1a0000 100.00%)"></i>
<i style="top:309px;height:1px;background:linear-gradient(90deg,#0d0000 0.00%,#1c0000 3.92%,#350000 9.74%,#490000 10.79%,#920000 12.38%,#a90000 14.81%,#930000 16.72%,#4f0000 17.99%,#390000 18.84%,#350000 19.89%,#4c0000 23.17%,#1a0000 26.46%,#1c0000 32.17%,#2b0000 35.66%,#3a0000 38.62%,#570000 40.00%,#8b0000 41.16%,#9e0000 42.54%,#bb0000 42.96%,#e50000 43.39%,#ff0500 43.81%,#ff4300 44.66%,#ff5500 45.29%,#ff4000 45.93%,#fc0000 46.77%,#aa0000 47.62%,#8f0000 48.89%,#510000 50.05%,#2a0000 54.71%,#170000 63.17%,#1d0000 68.36%,#0a0000 76.40%,#140000 96.51%,#1c0000 100.00%)"></i>
<i style="top:310px;height:1px;background:linear-gradient(90deg,#0e0000 0.00%,#0f0000 1.80%,#2e0000 6.03%,#400000 9.74%,#590000 10.79%,#830000 11.64%,#a60000 13.54%,#cf0000 14.50%,#ca0000 15.24%,#9d0000 16.19%,#8a0000 17.35%,#610000 17.99%,#450000 18.84%,#3f0000 19.89%,#5c0000 23.17%,#4e0000 24.13%,#310000 25.19%,#1e0000 26.46%,#190000 30.37%,#330000 35.66%,#390000 37.78%,#560000 39.37%,#880000 40.63%,#9e0000 42.12%,#b30000 42.54%,#e50000 42.96%,#ff1300 43.39%,#ff6500 44.23%,#ff9400 44.97%,#ff9400 45.61%,#ff5e00 46.35%,#fc0000 47.20%,#a20000 48.04%,#830000 49.42%,#5f0000 50.05%,#380000 53.12%,#170000 61.59%,#200000 68.36%,#0c0000 74.81%,#110000 93.86%,#1e0000 100.00%)"></i>
<i style="top:311px;height:1px;background:linear-gradient(90deg,#0e0000 0.00%,#100000 1.80%,#340000 6.03%,#3a0000 8.15%,#4a0000 9.74%,#680000 10.79%,#900000 11.64%,#9f0000 13.02%,#e10000 14.07%,#ef0000 14.81%,#e90000 15.24%,#d40000 15.66%,#a50000 16.19%,#930000 17.35%,#700000 17.99%,#500000 18.84%,#490000 19.89%,#680000 22.22%,#6b0000 23.17%,#5a0000 24.13%,#380000 25.19%,#210000 26.46%,#1b0000 30.37%,#390000 35.66%,#400000 37.78%,#630000 39.37%,#920000 40.63%,#9c0000 41.69%,#a90000 42.12%,#ff0800 42.96%,#ff9a00 44.23%,#ffd100 44.97%,#ffd800 45.29%,#ffd000 45.61%,#ff9300 46.35%,#ff2300 47.20%,#ef0000 47.62%,#ba0000 48.04%,#9d0000 48.47%,#8f0000 49.42%,#6b0000 50.05%,#4c0000 51.85%,#310000 54.71%,#1a0000 63.17%,#220000 68.36%,#0d0000 74.81%,#120000 93.86%,#200000 100.00%)"></i>
<i style="top:312px;height:1px;background:linear-gradient(90deg,#0e0000 0.00%,#100000 1.80%,#340000 6.03%,#3a0000 8.15%,#4a0000 9.74%,#680000 10.79%,#900000 11.64%,#9f0000 13.02%,#e10000 14.07%,#ef0000 14.81%,#e90000 15.24%,#d40000 15.66%,#a50000 16.19%,#930000 17.35%,#700000 17.99%,#500000 18.84%,#490000 19.89%,#680000 22.22%,#6b0000 23.17%,#5a0000 24.13%,#380000 25.19%,#210000 26.46%,#1b0000 30.37%,#390000 35.66%,#400000 37.78%,#630000 39.37%,#920000 40.63%,#9c0000 41.69%,#a90000 42.12%,#ff0800 42.96%,#ff9a00 44.23%,#ffd100 44.97%,#ffd800 45.29%,#ffd000 45.61%,#ff9300 46.35%,#ff2300 47.20%,#ef0000 47.62%,#ba0000 48.04%,#9d0000 48.47%,#8f0000 49.42%,#6b0000 50.05%,#4c0000 51.85%,#310000 54.71%,#1a0000 63.17%,#220000 68.36%,#0d0000 74.81%,#120000 93.86%,#200000 100.00%)"></i>
<i style="top:313px;height:1px;background:linear-gradient(90deg,#0e0000 0.00%,#100000 1.80%,#330000 6.03%,#490000 9.74%,#660000 10.79%,#8f0000 11.64%,#9f0000 13.02%,#df0000 14.07%,#ec0000 14.81%,#e60000 15.24%,#d20000 15.66%,#a40000 16.19%,#930000 17.35%,#6f0000 17.99%,#4f0000 18.84%,#480000 19.89%,#670000 22.22%,#6a0000 23.17%,#590000 24.13%,#370000 25.19%,#210000 26.46%,#1a0000 30.37%,#390000 35.66%,#400000 37.78%,#620000 39.37%,#920000 40.63%,#9b0000 41.69%,#a80000 42.12%,#ff0500 42.96%,#ff9600 44.23%,#ffcc00 44.97%,#ffd300 45.29%,#ffcb00 45.61%,#ff8e00 46.35%,#ff2000 47.20%,#ed0000 47.62%,#b70000 48.04%,#9d0000 48.47%,#8e0000 49.42%,#6a0000 50.05%,#4c0000 51.85%,#310000 54.71%,#180000 61.59%,#220000 68.36%,#0d0000 74.81%,#110000 93.86%,#200000 100.00%)"></i>
<i style="top:314px;height:1px;background:linear-gradient(90deg,#0e0000 0.00%,#0f0000 1.80%,#2e0000 6.03%,#410000 9.74%,#5a0000 10.79%,#850000 11.64%,#a80000 13.54%,#c50000 14.07%,#d20000 14.81%,#cd0000 15.24%,#9d0000 16.19%,#8b0000 17.35%,#620000 17.99%,#460000 18.84%,#400000 19.89%,#5e0000 23.17%,#1e0000 26.46%,#190000 30.37%,#330000 35.66%,#390000 37.78%,#570000 39.37%,#890000 40.63%,#9e0000 42.12%,#b60000 42.54%,#e80000 42.96%,#ff1700 43.39%,#ff8900 44.66%,#ff9f00 45.29%,#ff9900 45.61%,#ff6200 46.35%,#ff0000 47.20%,#a40000 48.04%,#850000 49.42%,#600000 50.05%,#390000 53.12%,#170000 61.59%,#200000 68.36%,#0c0000 75.56%,#150000 96.51%,#1e0000 100.00%)"></i>
<i style="top:315px;height:1px;background:linear-gradient(90deg,#0d0000 0.00%,#1e0000 3.92%,#390000 9.74%,#4f0000 10.79%,#930000 12.38%,#ab0000 14.07%,#b50000 14.81%,#940000 16.72%,#7c0000 17.35%,#550000 17.99%,#3d0000 18.84%,#380000 19.89%,#520000 23.17%,#1b0000 26.46%,#1d0000 32.17%,#2e0000 35.66%,#3d0000 38.62%,#5e0000 40.00%,#910000 41.16%,#a10000 42.54%,#f50000 43.39%,#ff1800 43.81%,#ff5b00 44.66%,#ff6e00 45.29%,#ff5700 45.93%,#ff0f00 46.77%,#e20000 47.20%,#b60000 47.62%,#9d0000 48.04%,#930000 48.89%,#560000 50.05%,#2c0000 54.71%,#170000 63.17%,#1e0000 68.36%,#0b0000 76.40%,#140000 96.51%,#1d0000 100.00%)"></i>
<i style="top:316px;height:1px;background:linear-gradient(90deg,#0d0000 0.00%,#1c0000 3.92%,#350000 9.74%,#480000 10.79%,#920000 12.38%,#a80000 14.81%,#930000 16.72%,#4e0000 17.99%,#390000 18.84%,#340000 19.89%,#4b0000 23.17%,#1a0000 26.46%,#1b0000 32.17%,#2b0000 35.66%,#390000 38.62%,#560000 40.00%,#8b0000 41.16%,#9e0000 42.54%,#ba0000 42.96%,#e30000 43.39%,#ff0300 43.81%,#ff4100 44.66%,#ff5200 45.29%,#ff3e00 45.93%,#fa0000 46.77%,#a80000 47.62%,#8e0000 48.89%,#500000 50.05%,#2a0000 54.71%,#170000 63.17%,#1d0000 68.36%,#0a0000 76.40%,#140000 96.51%,#1c0000 100.00%)"></i>
<i style="top:317px;height:1px;background:linear-gradient(90deg,#0d0000 0.00%,#320000 9.74%,#430000 10.79%,#630000 11.64%,#8c0000 12.38%,#9f0000 14.81%,#920000 16.72%,#490000 17.99%,#350000 18.84%,#310000 19.89%,#460000 23.17%,#190000 26.46%,#1a0000 32.17%,#360000 38.62%,#500000 40.00%,#940000 41.69%,#9c0000 42.54%,#ac0000 42.96%,#f20000 43.81%,#ff1300 44.23%,#ff3800 44.97%,#ff3700 45.61%,#ff0e00 46.35%,#ea0000 46.77%,#a00000 47.62%,#890000 48.89%,#660000 49.42%,#4c0000 50.05%,#290000 54.71%,#160000 63.17%,#1c0000 68.36%,#0a0000 76.40%,#130000 96.51%,#1b0000 100.00%)"></i>
<i style="top:318px;height:1px;background:linear-gradient(90deg,#0d0000 0.00%,#1c0000 3.92%,#360000 9.74%,#490000 10.79%,#920000 12.38%,#aa0000 14.81%,#930000 16.72%,#500000 17.99%,#390000 18.84%,#350000 19.89%,#4c0000 23.17%,#1a0000 26.46%,#1c0000 32.17%,#2c0000 35.66%,#3a0000 38.62%,#580000 40.00%,#8c0000 41.16%,#9e0000 42.54%,#e60000 43.39%,#ff0800 43.81%,#ff4600 44.66%,#ff5800 45.29%,#ff4300 45.93%,#fe0000 46.77%,#ab0000 47.62%,#8f0000 48.89%,#520000 50.05%,#2b0000 54.71%,#170000 63.17%,#1d0000 68.36%,#0a0000 76.40%,#140000 96.51%,#1c0000 100.00%)"></i>
<i style="top:319px;height:1px;background:linear-gradient(90deg,#0d0000 0.00%,#1e0000 3.92%,#390000 9.74%,#4e0000 10.79%,#930000 12.38%,#aa0000 14.07%,#b40000 14.81%,#940000 16.72%,#7b0000 17.35%,#550000 17.99%,#3d0000 18.84%,#380000 19.89%,#510000 23.17%,#1b0000 26.46%,#1d0000 32.17%,#2e0000 35.66%,#3d0000 38.62%,#5d0000 40.00%,#910000 41.16%,#a10000 42.54%,#f40000 43.39%,#ff1700 43.81%,#ff5900 44.66%,#ff6c00 45.29%,#ff5600 45.93%,#ff0e00 46.77%,#e10000 47.20%,#b50000 47.62%,#9d0000 48.04%,#920000 48.89%,#560000 50.05%,#2c0000 54.71%,#170000 63.17%,#1e0000 68.36%,#0b0000 76.40%,#140000 96.51%,#1d0000 100.00%)"></i>
<i style="top:320px;height:1px;background:linear-gradient(90deg,#0d0000 0.00%,#1b0000 3.92%,#330000 9.74%,#440000 10.79%,#650000 11.64%,#8e0000 12.38%,#a00000 14.81%,#920000 16.72%,#4a0000 17.99%,#360000 18.84%,#320000 19.89%,#470000 23.17%,#190000 26.46%,#1b0000 32.17%,#290000 35.66%,#370000 38.62%,#520000 40.00%,#870000 41.16%,#9d0000 42.54%,#b00000 42.96%,#f60000 43.81%,#ff3e00 44.97%,#ff3e00 45.61%,#ff1400 46.35%,#ef0000 46.77%,#a10000 47.62%,#8a0000 48.89%,#680000 49.42%,#4d0000 50.05%,#290000 54.71%,#160000 63.17%,#1d0000 68.36%,#0a0000 76.40%,#130000 96.51%,#1b0000 100.00%)"></i>
<i style="top:321px;height:1px;background:linear-gradient(90deg,#0c0000 0.00%,#2c0000 9.74%,#3b0000 10.79%,#570000 11.64%,#7f0000 12.38%,#940000 13.02%,#990000 15.66%,#880000 16.72%,#5d0000 17.35%,#3f0000 17.99%,#2f0000 18.84%,#330000 21.16%,#3d0000 23.17%,#170000 26.46%,#180000 32.17%,#300000 38.62%,#470000 40.00%,#740000 41.16%,#900000 41.69%,#9f0000 42.96%,#f30000 44.23%,#ff1500 44.97%,#ff1400 45.61%,#ff0700 45.93%,#ef0000 46.35%,#a90000 47.20%,#930000 48.47%,#5a0000 49.42%,#440000 50.05%,#200000 56.83%,#150000 63.17%,#1b0000 68.36%,#0a0000 77.46%,#120000 96.51%,#1a0000 100.00%)"></i>
<i style="top:322px;height:1px;background:linear-gradient(90deg,#0c0000 0.00%,#2f0000 9.74%,#3e0000 10.79%,#5c0000 11.64%,#860000 12.38%,#990000 13.54%,#960000 16.19%,#8c0000 16.72%,#430000 17.99%,#320000 18.84%,#360000 21.16%,#410000 23.17%,#180000 26.46%,#190000 32.17%,#270000 35.66%,#330000 38.62%,#4b0000 40.00%,#930000 41.69%,#a20000 42.96%,#ff0200 44.23%,#ff2400 44.97%,#ff2300 45.61%,#fc0000 46.35%,#b20000 47.20%,#9e0000 47.62%,#930000 48.47%,#5f0000 49.42%,#480000 50.05%,#280000 54.71%,#160000 63.17%,#1c0000 68.36%,#0a0000 76.40%,#130000 96.51%,#1a0000 100.00%)"></i>
<i style="top:323px;height:1px;background:linear-gradient(90deg,#0d0000 0.00%,#1b0000 3.92%,#330000 9.74%,#450000 10.79%,#8e0000 12.38%,#a20000 14.81%,#930000 16.72%,#4b0000 17.99%,#370000 18.84%,#320000 19.89%,#480000 23.17%,#190000 26.46%,#1b0000 32.17%,#370000 38.62%,#530000 40.00%,#880000 41.16%,#9d0000 42.54%,#b10000 42.96%,#f80000 43.81%,#ff4100 44.97%,#ff4000 45.61%,#ff1600 46.35%,#f10000 46.77%,#a30000 47.62%,#8b0000 48.89%,#690000 49.42%,#4e0000 50.05%,#290000 54.71%,#160000 63.17%,#1d0000 68.36%,#0a0000 76.40%,#130000 96.51%,#1b0000 100.00%)"></i>
<i style="top:324px;height:1px;background:linear-gradient(90deg,#0d0000 0.00%,#1c0000 3.92%,#340000 9.74%,#470000 10.79%,#900000 12.38%,#a50000 14.81%,#930000 16.72%,#4d0000 17.99%,#380000 18.84%,#330000 19.89%,#4a0000 23.17%,#1a0000 26.46%,#1b0000 32.17%,#2b0000 35.66%,#380000 38.62%,#550000 40.00%,#890000 41.16%,#9d0000 42.54%,#b50000 42.96%,#fe0000 43.81%,#ff3b00 44.66%,#ff4c00 45.29%,#ff3800 45.93%,#f60000 46.77%,#a60000 47.62%,#8d0000 48.89%,#4f0000 50.05%,#2a0000 54.71%,#170000 63.17%,#1d0000 68.36%,#0a0000 76.40%,#130000 96.51%,#1c0000 100.00%)"></i>
<i style="top:325px;height:1px;background:linear-gradient(90deg,#0d0000 0.00%,#1b0000 3.92%,#340000 9.74%,#460000 10.79%,#8f0000 12.38%,#a40000 14.81%,#930000 16.72%,#4c0000 17.99%,#370000 18.84%,#330000 19.89%,#490000 23.17%,#1a0000 26.46%,#1b0000 32.17%,#380000 38.62%,#540000 40.00%,#890000 41.16%,#9d0000 42.54%,#b30000 42.96%,#fc0000 43.81%,#ff4500 44.97%,#ff4400 45.61%,#ff1a00 46.35%,#f40000 46.77%,#a50000 47.62%,#8c0000 48.89%,#6a0000 49.42%,#4f0000 50.05%,#2a0000 54.71%,#170000 63.17%,#1d0000 68.36%,#0a0000 76.40%,#130000 96.51%,#1b0000 100.00%)"></i>
<i style="top:326px;height:1px;background:linear-gradient(90deg,#0d0000 0.00%,#1b0000 3.92%,#330000 9.74%,#450000 10.79%,#8e0000 12.38%,#a20000 14.81%,#930000 16.72%,#4b0000 17.99%,#370000 18.84%,#320000 19.89%,#480000 23.17%,#190000 26.46%,#1b0000 32.17%,#370000 38.62%,#530000 40.00%,#880000 41.16%,#9d0000 42.54%,#b10000 42.96%,#f90000 43.81%,#ff4100 44.97%,#ff4100 45.61%,#ff1600 46.35%,#f10000 46.77%,#a30000 47.62%,#8b0000 48.89%,#690000 49.42%,#4e0000 50.05%,#290000 54.71%,#160000 63.17%,#1d0000 68.36%,#0a0000 76.40%,#130000 96.51%,#1b0000 100.00%)"></i>
<i style="top:327px;height:1px;background:linear-gradient(90deg,#0d0000 0.00%,#320000 9.74%,#430000 10.79%,#8c0000 12.38%,#9f0000 14.81%,#920000 16.72%,#490000 17.99%,#350000 18.84%,#310000 19.89%,#460000 23.17%,#190000 26.46%,#1a0000 32.17%,#360000 38.62%,#510000 40.00%,#940000 41.69%,#9c0000 42.54%,#ad0000 42.96%,#f20000 43.81%,#ff1400 44.23%,#ff3900 44.97%,#ff3800 45.61%,#ff0f00 46.35%,#eb0000 46.77%,#a00000 47.62%,#890000 48.89%,#660000 49.42%,#4c0000 50.05%,#290000 54.71%,#160000 63.17%,#1c0000 68.36%,#0a0000 76.40%,#130000 96.51%,#1b0000 100.00%)"></i>
<i style="top:328px;height:1px;background:linear-gradient(90deg,#0c0000 0.00%,#310000 9.74%,#410000 10.79%,#610000 11.64%,#8a0000 12.38%,#9f0000 14.81%,#900000 16.72%,#470000 17.99%,#340000 18.84%,#380000 21.16%,#440000 23.17%,#190000 26.46%,#1a0000 32.17%,#350000 38.62%,#4e0000 40.00%,#930000 41.69%,#a90000 42.96%,#ec0000 43.81%,#ff0d00 44.23%,#ff3100 44.97%,#ff3000 45.61%,#ff0800 46.35%,#e50000 46.77%,#9f0000 47.62%,#860000 48.89%,#640000 49.42%,#4a0000 50.05%,#280000 54.71%,#160000 63.17%,#1c0000 68.36%,#0a0000 76.40%,#130000 96.51%,#1b0000 100.00%)"></i>
<i style="top:329px;height:1px;background:linear-gradient(90deg,#0c0000 0.00%,#2e0000 9.74%,#3e0000 10.79%,#5c0000 11.64%,#850000 12.38%,#980000 13.54%,#9a0000 15.66%,#8c0000 16.72%,#430000 17.99%,#320000 18.84%,#360000 21.16%,#400000 23.17%,#180000 26.46%,#190000 32.17%,#260000 35.66%,#330000 38.62%,#4a0000 40.00%,#920000 41.69%,#a20000 42.96%,#ff0100 44.23%,#ff2200 44.97%,#ff2200 45.61%,#fb0000 46.35%,#b10000 47.20%,#9e0000 47.62%,#930000 48.47%,#5f0000 49.42%,#470000 50.05%,#210000 56.83%,#160000 63.17%,#1c0000 68.36%,#0a0000 76.40%,#130000 96.51%,#1a0000 100.00%)"></i>
<i style="top:330px;height:1px;background:linear-gradient(90deg,#0c0000 0.00%,#2c0000 9.74%,#3a0000 10.79%,#560000 11.64%,#940000 13.02%,#990000 15.66%,#870000 16.72%,#5b0000 17.35%,#3f0000 17.99%,#2f0000 18.84%,#330000 21.16%,#3c0000 23.17%,#170000 26.46%,#180000 32.17%,#300000 38.62%,#460000 40.00%,#730000 41.16%,#8f0000 41.69%,#9e0000 42.96%,#f10000 44.23%,#ff1100 44.97%,#ff1100 45.61%,#ff0400 45.93%,#cd0000 46.77%,#a70000 47.20%,#920000 48.47%,#590000 49.42%,#440000 50.05%,#200000 56.83%,#150000 63.17%,#1b0000 68.36%,#0a0000 76.40%,#120000 96.51%,#1a0000 100.00%)"></i>
<i style="top:331px;height:1px;background:linear-gradient(90deg,#0c0000 0.00%,#280000 9.74%,#350000 10.79%,#4e0000 11.64%,#920000 13.02%,#970000 15.66%,#930000 16.19%,#390000 17.99%,#2b0000 18.84%,#2f0000 21.16%,#380000 23.17%,#160000 26.46%,#170000 32.17%,#2c0000 38.62%,#3f0000 40.00%,#690000 41.16%,#880000 41.69%,#a70000 43.39%,#f00000 44.66%,#fd0000 45.29%,#ee0000 45.93%,#9f0000 47.20%,#8c0000 48.47%,#520000 49.42%,#3f0000 50.05%,#1a0000 58.41%,#180000 64.55%,#150000 69.63%,#090000 79.79%,#120000 96.51%,#190000 100.00%)"></i>
<i style="top:332px;height:1px;background:linear-gradient(90deg,#0b0000 0.00%,#250000 9.74%,#300000 10.79%,#450000 11.64%,#8a0000 13.02%,#970000 14.50%,#8e0000 16.19%,#4a0000 17.35%,#340000 17.99%,#270000 18.84%,#320000 23.17%,#150000 26.46%,#160000 32.17%,#290000 38.62%,#390000 40.00%,#5d0000 41.16%,#910000 42.12%,#9e0000 43.39%,#ab0000 43.81%,#d90000 44.66%,#e10000 45.61%,#c10000 46.35%,#a60000 46.77%,#930000 48.04%,#820000 48.47%,#620000 48.89%,#3a0000 50.05%,#190000 58.41%,#170000 64.55%,#140000 69.63%,#090000 81.69%,#180000 100.00%)"></i>
<i style="top:333px;height:1px;background:linear-gradient(90deg,#0b0000 0.00%,#260000 9.74%,#320000 10.79%,#470000 11.64%,#8c0000 13.02%,#980000 15.24%,#900000 16.19%,#4c0000 17.35%,#350000 17.99%,#280000 18.84%,#340000 23.17%,#150000 26.46%,#160000 32.17%,#2a0000 38.62%,#3b0000 40.00%,#610000 41.16%,#920000 42.12%,#9f0000 43.39%,#df0000 44.66%,#e80000 45.61%,#c90000 46.35%,#ab0000 46.77%,#980000 47.62%,#860000 48.47%,#650000 48.89%,#3b0000 50.05%,#160000 60.00%,#190000 68.36%,#090000 78.52%,#110000 96.51%,#180000 100.00%)"></i>
<i style="top:334px;height:1px;background:linear-gradient(90deg,#0c0000 0.00%,#2c0000 9.74%,#3a0000 10.79%,#550000 11.64%,#930000 13.02%,#990000 15.66%,#860000 16.72%,#5b0000 17.35%,#3e0000 17.99%,#2f0000 18.84%,#330000 21.16%,#3c0000 23.17%,#170000 26.46%,#180000 32.17%,#300000 38.62%,#450000 40.00%,#720000 41.16%,#8e0000 41.69%,#9e0000 42.96%,#ef0000 44.23%,#ff0500 44.66%,#ff1300 45.29%,#ff0300 45.93%,#cc0000 46.77%,#a60000 47.20%,#920000 48.47%,#590000 49.42%,#430000 50.05%,#200000 56.83%,#150000 63.17%,#1b0000 68.36%,#0a0000 76.40%,#120000 96.51%,#1a0000 100.00%)"></i>
<i style="top:335px;height:1px;background:linear-gradient(90deg,#0c0000 0.00%,#2f0000 9.74%,#3f0000 10.79%,#5d0000 11.64%,#880000 12.38%,#9c0000 14.07%,#960000 16.19%,#8d0000 16.72%,#440000 17.99%,#330000 18.84%,#370000 21.16%,#420000 23.17%,#180000 26.46%,#1a0000 32.17%,#310000 37.78%,#4b0000 39.37%,#8d0000 41.16%,#9d0000 42.54%,#b10000 42.96%,#f40000 43.81%,#ff2c00 44.66%,#ff3b00 45.29%,#ff2900 45.93%,#ff0f00 46.35%,#ec0000 46.77%,#a30000 47.62%,#8f0000 48.89%,#570000 50.05%,#330000 53.12%,#150000 61.59%,#1c0000 68.36%,#0c0000 75.56%,#0f0000 89.42%,#1b0000 100.00%)"></i>
<i style="top:336px;height:1px;background:linear-gradient(90deg,#0d0000 0.00%,#360000 9.74%,#490000 10.79%,#920000 12.38%,#a90000 14.81%,#930000 16.72%,#500000 17.99%,#3a0000 18.84%,#350000 19.89%,#4c0000 23.17%,#1b0000 26.46%,#1d0000 32.17%,#2f0000 35.66%,#370000 37.78%,#550000 39.37%,#870000 40.63%,#a40000 42.54%,#f40000 43.39%,#ff1500 43.81%,#ff5500 44.66%,#ff6600 45.29%,#ff5100 45.93%,#ff0d00 46.77%,#e10000 47.20%,#b80000 47.62%,#9e0000 48.04%,#930000 48.89%,#610000 50.05%,#370000 53.12%,#160000 61.59%,#1e0000 68.36%,#0d0000 75.56%,#100000 89.42%,#1d0000 100.00%)"></i>
<i style="top:337px;height:1px;background:linear-gradient(90deg,#0e0000 0.00%,#100000 1.80%,#3d0000 9.74%,#550000 10.79%,#7e0000 11.64%,#940000 12.38%,#a00000 13.54%,#c30000 14.50%,#be0000 15.24%,#9c0000 16.19%,#860000 17.35%,#5d0000 17.99%,#420000 18.84%,#3d0000 19.89%,#590000 23.17%,#1e0000 26.46%,#190000 30.37%,#350000 35.66%,#3d0000 37.78%,#610000 39.37%,#900000 40.63%,#9f0000 42.12%,#ba0000 42.54%,#e90000 42.96%,#ff1600 43.39%,#ff6500 44.23%,#ff9200 44.97%,#ff9200 45.61%,#ff5e00 46.35%,#ff0000 47.20%,#a70000 48.04%,#8d0000 49.42%,#6d0000 50.05%,#3c0000 53.12%,#180000 61.59%,#210000 68.36%,#0e0000 74.81%,#110000 89.42%,#1f0000 100.00%)"></i>
<i style="top:338px;height:1px;background:linear-gradient(90deg,#0f0000 0.00%,#110000 1.80%,#330000 6.03%,#390000 8.15%,#490000 9.74%,#650000 10.79%,#8e0000 11.64%,#9e0000 13.02%,#da0000 14.07%,#e70000 14.81%,#e10000 15.24%,#cd0000 15.66%,#a00000 16.19%,#920000 17.35%,#6d0000 17.99%,#4f0000 18.84%,#480000 19.89%,#660000 22.22%,#690000 23.17%,#590000 24.13%,#380000 25.19%,#220000 26.46%,#1c0000 30.37%,#3c0000 35.66%,#470000 37.78%,#700000 39.37%,#890000 40.00%,#9d0000 41.69%,#b00000 42.12%,#da0000 42.54%,#ff0e00 42.96%,#ff9d00 44.23%,#ffd200 44.97%,#ffd800 45.29%,#ffd100 45.61%,#ff9500 46.35%,#ff2800 47.20%,#f50000 47.62%,#c20000 48.04%,#9e0000 48.47%,#930000 49.42%,#670000 50.79%,#430000 53.12%,#1a0000 61.59%,#240000 68.36%,#0f0000 73.44%,#120000 89.42%,#220000 100.00%)"></i>
<i style="top:339px;height:1px;background:linear-gradient(90deg,#100000 0.00%,#120000 1.80%,#380000 6.03%,#400000 8.15%,#510000 9.74%,#930000 11.64%,#a70000 13.02%,#f00000 14.07%,#ff0000 14.81%,#f80000 15.24%,#e20000 15.66%,#af0000 16.19%,#9b0000 16.72%,#940000 17.35%,#580000 18.84%,#500000 19.89%,#710000 22.22%,#750000 23.17%,#630000 24.13%,#3d0000 25.19%,#250000 26.46%,#1e0000 30.37%,#430000 35.66%,#4f0000 37.78%,#900000 40.00%,#a00000 41.69%,#f00000 42.54%,#ff2800 42.96%,#ffc700 44.23%,#ffee00 44.66%,#ffff04 44.97%,#ffff0f 45.29%,#ffff03 45.61%,#ffbe00 46.35%,#ff0e00 47.62%,#d70000 48.04%,#a60000 48.47%,#5c0000 51.85%,#390000 54.71%,#1b0000 61.59%,#260000 68.36%,#100000 73.44%,#120000 89.42%,#180000 96.51%,#240000 100.00%)"></i>
<i style="top:340px;height:1px;background:linear-gradient(90deg,#100000 0.00%,#120000 1.80%,#3a0000 6.03%,#410000 8.15%,#530000 9.74%,#930000 11.64%,#aa0000 13.02%,#f50000 14.07%,#ff0500 14.81%,#fd0000 15.24%,#e70000 15.66%,#b30000 16.19%,#9c0000 16.72%,#940000 17.35%,#5a0000 18.84%,#520000 19.89%,#740000 22.22%,#770000 23.17%,#650000 24.13%,#3e0000 25.19%,#260000 26.46%,#1f0000 30.37%,#440000 35.66%,#500000 37.78%,#920000 40.00%,#a20000 41.69%,#f50000 42.54%,#ff6800 43.39%,#ffd000 44.23%,#fff900 44.66%,#ffff1f 45.29%,#fff400 45.93%,#ffc700 46.35%,#ff1400 47.62%,#dc0000 48.04%,#a90000 48.47%,#5d0000 51.85%,#3a0000 54.71%,#1c0000 61.59%,#270000 68.36%,#100000 73.44%,#130000 89.42%,#190000 96.51%,#250000 100.00%)"></i>
<i style="top:341px;height:1px;background:linear-gradient(90deg,#100000 0.00%,#120000 1.80%,#3b0000 6.03%,#430000 8.15%,#550000 9.74%,#940000 11.64%,#9a0000 12.38%,#ad0000 13.02%,#fa0000 14.07%,#ff0a00 14.81%,#ff0400 15.24%,#ec0000 15.66%,#b80000 16.19%,#9c0000 16.72%,#950000 17.35%,#5c0000 18.84%,#540000 19.89%,#760000 22.22%,#7a0000 23.17%,#670000 24.13%,#400000 25.19%,#260000 26.46%,#1f0000 30.37%,#460000 35.66%,#520000 37.78%,#920000 40.00%,#a50000 41.69%,#fa0000 42.54%,#ffda00 44.23%,#ffff06 44.66%,#ffff24 44.97%,#ffff2f 45.29%,#ffff23 45.61%,#fffe00 45.93%,#ffd000 46.35%,#ff1900 47.62%,#e00000 48.04%,#ac0000 48.47%,#9b0000 48.89%,#890000 50.05%,#5f0000 51.85%,#3b0000 54.71%,#1c0000 61.59%,#270000 68.36%,#100000 73.44%,#140000 88.57%,#190000 96.51%,#250000 100.00%)"></i>
<i style="top:342px;height:1px;background:linear-gradient(90deg,#100000 0.00%,#120000 1.80%,#3a0000 6.03%,#420000 8.15%,#540000 9.74%,#930000 11.64%,#9a0000 12.38%,#ac0000 13.02%,#f80000 14.07%,#ff0800 14.81%,#ff0100 15.24%,#e90000 15.66%,#b50000 16.19%,#9c0000 16.72%,#940000 17.35%,#5b0000 18.84%,#530000 19.89%,#750000 22.22%,#790000 23.17%,#660000 24.13%,#3f0000 25.19%,#260000 26.46%,#1f0000 30.37%,#450000 35.66%,#510000 37.78%,#920000 40.00%,#a40000 41.69%,#f70000 42.54%,#ffd500 44.23%,#fffe00 44.66%,#ffff1d 44.97%,#ffff28 45.29%,#ffff1c 45.61%,#fff900 45.93%,#ffcc00 46.35%,#ff1700 47.62%,#de0000 48.04%,#ab0000 48.47%,#9b0000 48.89%,#890000 50.05%,#5e0000 51.85%,#3b0000 54.71%,#1c0000 61.59%,#270000 68.36%,#100000 73.44%,#140000 88.57%,#190000 96.51%,#250000 100.00%)"></i>
<i style="top:343px;height:1px;background:linear-gradient(90deg,#100000 0.00%,#120000 1.80%,#390000 6.03%,#410000 8.15%,#530000 9.74%,#930000 11.64%,#a90000 13.02%,#f30000 14.07%,#ff0300 14.81%,#fb0000 15.24%,#e50000 15.66%,#b10000 16.19%,#9b0000 16.72%,#940000 17.35%,#590000 18.84%,#510000 19.89%,#730000 22.22%,#760000 23.17%,#640000 24.13%,#3e0000 25.19%,#250000 26.46%,#1f0000 30.37%,#440000 35.66%,#500000 37.78%,#920000 40.00%,#a20000 41.69%,#f40000 42.54%,#ff6600 43.39%,#ffcd00 44.23%,#fff600 44.66%,#ffff1a 45.29%,#ffff0e 45.61%,#fff100 45.93%,#ffc500 46.35%,#ff1300 47.62%,#db0000 48.04%,#a80000 48.47%,#5d0000 51.85%,#3a0000 54.71%,#1b0000 61.59%,#270000 68.36%,#100000 73.44%,#140000 88.57%,#190000 96.51%,#250000 100.00%)"></i>
<i style="top:344px;height:1px;background:linear-gradient(90deg,#100000 0.00%,#120000 1.80%,#380000 6.03%,#3f0000 8.15%,#510000 9.74%,#930000 11.64%,#a60000 13.02%,#ef0000 14.07%,#fd0000 14.81%,#f70000 15.24%,#e10000 15.66%,#ae0000 16.19%,#9b0000 16.72%,#940000 17.35%,#570000 18.84%,#500000 19.89%,#700000 22.22%,#740000 23.17%,#620000 24.13%,#3d0000 25.19%,#250000 26.46%,#1e0000 30.37%,#430000 35.66%,#4f0000 37.78%,#910000 40.00%,#a00000 41.69%,#f00000 42.54%,#ff2800 42.96%,#ffc600 44.23%,#ffed00 44.66%,#ffff02 44.97%,#ffff0c 45.29%,#ffff01 45.61%,#ffbd00 46.35%,#ff0e00 47.62%,#d70000 48.04%,#a60000 48.47%,#5c0000 51.85%,#390000 54.71%,#1b0000 61.59%,#260000 68.36%,#100000 73.44%,#140000 88.57%,#180000 96.51%,#240000 100.00%)"></i>
<i style="top:345px;height:1px;background:linear-gradient(90deg,#100000 0.00%,#110000 1.80%,#360000 6.03%,#3c0000 8.15%,#4d0000 9.74%,#6b0000 10.79%,#920000 11.64%,#a00000 13.02%,#e50000 14.07%,#f20000 14.81%,#ec0000 15.24%,#d70000 15.66%,#a80000 16.19%,#930000 17.35%,#530000 18.84%,#4c0000 19.89%,#6b0000 22.22%,#6f0000 23.17%,#5e0000 24.13%,#3a0000 25.19%,#240000 26.46%,#1d0000 30.37%,#400000 35.66%,#4c0000 37.78%,#770000 39.37%,#8e0000 40.00%,#9f0000 41.69%,#e70000 42.54%,#ff1d00 42.96%,#ffb400 44.23%,#ffec00 44.97%,#fff200 45.29%,#ffeb00 45.61%,#ffab00 46.35%,#ff0400 47.62%,#a00000 48.47%,#820000 50.05%,#590000 51.85%,#380000 54.71%,#1b0000 61.59%,#250000 68.36%,#100000 73.44%,#140000 88.57%,#180000 96.51%,#230000 100.00%)"></i>
<i style="top:346px;height:1px;background:linear-gradient(90deg,#0f0000 0.00%,#110000 1.80%,#330000 6.03%,#390000 8.15%,#490000 9.74%,#650000 10.79%,#8e0000 11.64%,#9e0000 13.02%,#d90000 14.07%,#e60000 14.81%,#e10000 15.24%,#cd0000 15.66%,#a00000 16.19%,#920000 17.35%,#6d0000 17.99%,#4f0000 18.84%,#480000 19.89%,#690000 23.17%,#590000 24.13%,#380000 25.19%,#220000 26.46%,#1c0000 30.37%,#3d0000 35.66%,#480000 37.78%,#720000 39.37%,#8b0000 40.00%,#9e0000 41.69%,#b20000 42.12%,#dc0000 42.54%,#ff1000 42.96%,#ff9f00 44.23%,#ffd400 44.97%,#ffdb00 45.29%,#ffd400 45.61%,#ff9700 46.35%,#ff2a00 47.20%,#f70000 47.62%,#c40000 48.04%,#9f0000 48.47%,#930000 49.42%,#690000 50.79%,#430000 53.12%,#1a0000 61.59%,#240000 68.36%,#0f0000 73.44%,#160000 87.51%,#170000 96.51%,#220000 100.00%)"></i>
<i style="top:347px;height:1px;background:linear-gradient(90deg,#100000 0.00%,#110000 1.80%,#360000 6.03%,#3c0000 8.15%,#4d0000 9.74%,#6a0000 10.79%,#920000 11.64%,#a00000 13.02%,#e30000 14.07%,#f10000 14.81%,#eb0000 15.24%,#d60000 15.66%,#a70000 16.19%,#930000 17.35%,#530000 18.84%,#4b0000 19.89%,#6a0000 22.22%,#6e0000 23.17%,#5d0000 24.13%,#3a0000 25.19%,#230000 26.46%,#1d0000 30.37%,#400000 35.66%,#4c0000 37.78%,#770000 39.37%,#8e0000 40.00%,#9f0000 41.69%,#bc0000 42.12%,#e60000 42.54%,#ff1b00 42.96%,#ffb100 44.23%,#ffe900 44.97%,#fff000 45.29%,#ffe800 45.61%,#ffa900 46.35%,#ff0300 47.62%,#a00000 48.47%,#820000 50.05%,#590000 51.85%,#380000 54.71%,#1b0000 61.59%,#250000 68.36%,#100000 73.44%,#170000 87.51%,#180000 96.51%,#230000 100.00%)"></i>
<i style="top:348px;height:1px;background:linear-gradient(90deg,#100000 0.00%,#120000 1.80%,#390000 6.03%,#400000 8.15%,#520000 9.74%,#930000 11.64%,#a80000 13.02%,#f20000 14.07%,#ff0200 14.81%,#fa0000 15.24%,#e40000 15.66%,#b10000 16.19%,#9b0000 16.72%,#940000 17.35%,#590000 18.84%,#510000 19.89%,#720000 22.22%,#760000 23.17%,#630000 24.13%,#3d0000 25.19%,#250000 26.46%,#1f0000 30.37%,#440000 35.66%,#500000 37.78%,#920000 40.00%,#a20000 41.69%,#f40000 42.54%,#ff6600 43.39%,#ffcd00 44.23%,#fff500 44.66%,#ffff19 45.29%,#ffff0d 45.61%,#fff000 45.93%,#ffc400 46.35%,#ff1300 47.62%,#db0000 48.04%,#a90000 48.47%,#5d0000 51.85%,#3a0000 54.71%,#1b0000 61.59%,#260000 68.36%,#100000 73.44%,#170000 87.51%,#180000 96.51%,#240000 100.00%)"></i>
<i style="top:349px;height:1px;background:linear-gradient(90deg,#100000 0.00%,#120000 1.80%,#3e0000 6.03%,#470000 8.15%,#5a0000 9.74%,#950000 11.64%,#9c0000 12.38%,#b80000 13.02%,#e50000 13.54%,#ff0a00 14.07%,#ff1a00 14.81%,#f90000 15.66%,#9e0000 16.72%,#870000 17.99%,#610000 18.84%,#590000 19.89%,#7d0000 22.22%,#810000 23.17%,#6d0000 24.13%,#430000 25.19%,#280000 26.46%,#200000 30.37%,#4a0000 35.66%,#570000 37.78%,#880000 39.37%,#9c0000 41.16%,#af0000 41.69%,#ff0a00 42.54%,#ff8700 43.39%,#fff700 44.23%,#ffff57 44.97%,#ffff62 45.29%,#ffff55 45.61%,#ffff2e 45.93%,#ffee00 46.35%,#ff2b00 47.62%,#ee0000 48.04%,#b70000 48.47%,#9d0000 48.89%,#8d0000 50.05%,#620000 51.85%,#3c0000 54.71%,#1c0000 61.59%,#280000 68.36%,#110000 73.44%,#180000 87.51%,#190000 96.51%,#260000 100.00%)"></i>
<i style="top:350px;height:1px;background:linear-gradient(90deg,#110000 0.00%,#130000 1.80%,#430000 6.03%,#4d0000 8.15%,#630000 9.74%,#880000 10.79%,#9e0000 12.38%,#fa0000 13.54%,#ff2200 14.07%,#ff3300 14.81%,#ff2b00 15.24%,#ff1100 15.66%,#d80000 16.19%,#a10000 16.72%,#8e0000 17.99%,#6b0000 18.84%,#610000 19.89%,#880000 22.22%,#8b0000 23.17%,#770000 24.13%,#4a0000 25.19%,#2b0000 26.46%,#220000 30.37%,#410000 33.54%,#500000 35.66%,#5e0000 37.78%,#8e0000 39.37%,#9e0000 41.16%,#c00000 41.69%,#ee0000 42.12%,#ff2000 42.54%,#ffa800 43.39%,#ffe200 43.81%,#ffff36 44.23%,#ffff7e 44.66%,#ffffa2 44.97%,#ffffae 45.29%,#ffffa0 45.61%,#ffff75 45.93%,#ffff26 46.35%,#ffd300 46.77%,#ff4400 47.62%,#ff0300 48.04%,#9f0000 48.89%,#920000 50.05%,#500000 53.12%,#330000 56.83%,#1d0000 61.59%,#290000 68.36%,#110000 73.44%,#190000 87.51%,#150000 93.86%,#270000 100.00%)"></i>
<i style="top:351px;height:1px;background:linear-gradient(90deg,#100000 0.00%,#120000 1.80%,#3f0000 6.03%,#480000 8.15%,#5d0000 9.74%,#950000 11.64%,#9d0000 12.38%,#c00000 13.02%,#ed0000 13.54%,#ff1200 14.07%,#ff2300 14.81%,#ff1b00 15.24%,#ff0200 15.66%,#9e0000 16.72%,#890000 17.99%,#640000 18.84%,#5b0000 19.89%,#810000 22.22%,#850000 23.17%,#700000 24.13%,#450000 25.19%,#280000 26.46%,#200000 30.37%,#4c0000 35.66%,#590000 37.78%,#8a0000 39.37%,#9d0000 41.16%,#b40000 41.69%,#e30000 42.12%,#ff1200 42.54%,#ff9300 43.39%,#ffca00 43.81%,#ffff0d 44.23%,#ffff51 44.66%,#ffff72 44.97%,#ffff7f 45.29%,#ffff71 45.61%,#ffff48 45.93%,#fffe00 46.35%,#ff3400 47.62%,#f50000 48.04%,#be0000 48.47%,#9e0000 48.89%,#8e0000 50.05%,#620000 51.85%,#3c0000 54.71%,#1c0000 61.59%,#270000 68.36%,#100000 73.44%,#1a0000 85.93%,#140000 93.86%,#250000 100.00%)"></i>
<i style="top:352px;height:1px;background:linear-gradient(90deg,#0f0000 0.00%,#110000 1.80%,#3a0000 6.03%,#420000 8.15%,#550000 9.74%,#940000 11.64%,#9b0000 12.38%,#af0000 13.02%,#fe0000 14.07%,#ff0e00 14.81%,#ff0700 15.24%,#ef0000 15.66%,#bb0000 16.19%,#9c0000 16.72%,#950000 17.35%,#5c0000 18.84%,#540000 19.89%,#770000 22.22%,#7a0000 23.17%,#670000 24.13%,#3f0000 25.19%,#250000 26.46%,#1e0000 30.37%,#460000 35.66%,#530000 37.78%,#930000 40.00%,#9b0000 41.16%,#a90000 41.69%,#ff0000 42.54%,#ffe400 44.23%,#ffff17 44.66%,#ffff36 44.97%,#ffff41 45.29%,#ffff35 45.61%,#ffff0f 45.93%,#ffdb00 46.35%,#ff2000 47.62%,#e50000 48.04%,#af0000 48.47%,#9c0000 48.89%,#8a0000 50.05%,#710000 50.79%,#470000 53.12%,#270000 58.41%,#1c0000 63.17%,#250000 68.36%,#100000 73.44%,#180000 87.51%,#180000 96.51%,#230000 100.00%)"></i>
<i style="top:353px;height:1px;background:linear-gradient(90deg,#0f0000 0.00%,#110000 1.80%,#370000 6.03%,#3f0000 8.15%,#510000 9.74%,#930000 11.64%,#a80000 13.02%,#f30000 14.07%,#ff0200 14.81%,#fb0000 15.24%,#e50000 15.66%,#b10000 16.19%,#9b0000 16.72%,#940000 17.35%,#570000 18.84%,#4f0000 19.89%,#710000 22.22%,#740000 23.17%,#620000 24.13%,#3c0000 25.19%,#240000 26.46%,#1d0000 30.37%,#420000 35.66%,#4f0000 37.78%,#920000 40.00%,#a30000 41.69%,#f50000 42.54%,#ff6900 43.39%,#ffd000 44.23%,#fff900 44.66%,#ffff1f 45.29%,#fff400 45.93%,#ffc700 46.35%,#ff1400 47.62%,#dc0000 48.04%,#a90000 48.47%,#860000 50.05%,#6c0000 50.79%,#430000 53.12%,#190000 61.59%,#230000 68.36%,#0f0000 73.44%,#180000 87.51%,#120000 93.86%,#210000 100.00%)"></i>
<i style="top:354px;height:1px;background:linear-gradient(90deg,#0e0000 0.00%,#100000 1.80%,#350000 6.03%,#3c0000 8.15%,#4d0000 9.74%,#6b0000 10.79%,#920000 11.64%,#a20000 13.02%,#e90000 14.07%,#f70000 14.81%,#f10000 15.24%,#db0000 15.66%,#aa0000 16.19%,#930000 17.35%,#530000 18.84%,#4b0000 19.89%,#6b0000 22.22%,#6f0000 23.17%,#5d0000 24.13%,#390000 25.19%,#220000 26.46%,#1c0000 30.37%,#3f0000 35.66%,#4c0000 37.78%,#900000 40.00%,#9f0000 41.69%,#ec0000 42.54%,#ff2400 42.96%,#ffbf00 44.23%,#fff800 44.97%,#ffff00 45.29%,#fff700 45.61%,#ffb600 46.35%,#ff0a00 47.62%,#a40000 48.47%,#810000 50.05%,#680000 50.79%,#400000 53.12%,#180000 61.59%,#220000 68.36%,#0f0000 73.44%,#180000 87.51%,#120000 93.86%,#200000 100.00%)"></i>
<i style="top:355px;height:1px;background:linear-gradient(90deg,#0e0000 0.00%,#100000 1.80%,#330000 6.03%,#390000 8.15%,#490000 9.74%,#660000 10.79%,#8f0000 11.64%,#9f0000 13.02%,#df0000 14.07%,#ec0000 14.81%,#e60000 15.24%,#d20000 15.66%,#a30000 16.19%,#930000 17.35%,#6e0000 17.99%,#4f0000 18.84%,#470000 19.89%,#660000 22.22%,#690000 23.17%,#590000 24.13%,#370000 25.19%,#200000 26.46%,#1b0000 30.37%,#3c0000 35.66%,#480000 37.78%,#740000 39.37%,#8d0000 40.00%,#9e0000 41.69%,#b90000 42.12%,#e30000 42.54%,#ff1900 42.96%,#ffad00 44.23%,#ffe400 44.97%,#ffea00 45.29%,#ffe300 45.61%,#ffa400 46.35%,#ff0000 47.62%,#9f0000 48.47%,#940000 49.42%,#640000 50.79%,#3d0000 53.12%,#180000 61.59%,#200000 68.36%,#0e0000 74.81%,#1a0000 85.93%,#110000 93.86%,#1e0000 100.00%)"></i>
<i style="top:356px;height:1px;background:linear-gradient(90deg,#0d0000 0.00%,#0f0000 1.80%,#300000 6.03%,#450000 9.74%,#600000 10.79%,#8b0000 11.64%,#9e0000 13.02%,#b30000 13.54%,#d50000 14.07%,#e10000 14.81%,#dc0000 15.24%,#c70000 15.66%,#9f0000 16.19%,#900000 17.35%,#680000 17.99%,#4a0000 18.84%,#430000 19.89%,#610000 22.22%,#640000 23.17%,#540000 24.13%,#340000 25.19%,#1f0000 26.46%,#1a0000 30.37%,#3a0000 35.66%,#450000 37.78%,#700000 39.37%,#8a0000 40.00%,#9d0000 41.69%,#b10000 42.12%,#db0000 42.54%,#ff0e00 42.96%,#ff9b00 44.23%,#ffd000 44.97%,#ffd600 45.29%,#ffcf00 45.61%,#ff9300 46.35%,#ff2700 47.20%,#f50000 47.62%,#c30000 48.04%,#9e0000 48.47%,#930000 49.42%,#610000 50.79%,#3b0000 53.12%,#170000 61.59%,#1f0000 68.36%,#0e0000 74.81%,#1a0000 85.93%,#110000 93.86%,#1d0000 100.00%)"></i>
<i style="top:357px;height:1px;background:linear-gradient(90deg,#0d0000 0.00%,#0e0000 1.80%,#2e0000 6.03%,#400000 9.74%,#5b0000 10.79%,#860000 11.64%,#aa0000 13.54%,#c90000 14.07%,#d60000 14.81%,#d10000 15.24%,#9e0000 16.19%,#8c0000 17.35%,#620000 17.99%,#460000 18.84%,#3f0000 19.89%,#5e0000 23.17%,#4f0000 24.13%,#310000 25.19%,#1d0000 26.46%,#190000 30.37%,#370000 35.66%,#430000 37.78%,#6d0000 39.37%,#880000 40.00%,#9d0000 41.69%,#ac0000 42.12%,#ff0300 42.96%,#ff8a00 44.23%,#ffbc00 44.97%,#ffbc00 45.61%,#ff8200 46.35%,#ff1c00 47.20%,#ec0000 47.62%,#ba0000 48.04%,#9d0000 48.47%,#930000 49.42%,#5e0000 50.79%,#390000 53.12%,#160000 61.59%,#1d0000 68.36%,#0d0000 74.81%,#1a0000 85.93%,#100000 93.86%,#1c0000 100.00%)"></i>
<i style="top:358px;height:1px;background:linear-gradient(90deg,#0d0000 0.00%,#0e0000 1.80%,#2d0000 6.03%,#3f0000 9.74%,#590000 10.79%,#840000 11.64%,#a80000 13.54%,#c60000 14.07%,#d30000 14.81%,#ce0000 15.24%,#9d0000 16.19%,#8a0000 17.35%,#600000 17.99%,#440000 18.84%,#3e0000 19.89%,#5c0000 23.17%,#1d0000 26.46%,#180000 30.37%,#370000 35.66%,#420000 37.78%,#6d0000 39.37%,#890000 40.00%,#9c0000 41.69%,#ab0000 42.12%,#ff0200 42.96%,#ff8800 44.23%,#ffb900 44.97%,#ffb900 45.61%,#ff8000 46.35%,#ff1a00 47.20%,#eb0000 47.62%,#b90000 48.04%,#9d0000 48.47%,#930000 49.42%,#5e0000 50.79%,#380000 53.12%,#150000 61.59%,#1d0000 68.36%,#0d0000 74.81%,#1a0000 85.93%,#100000 93.86%,#1b0000 100.00%)"></i>
<i style="top:359px;height:1px;background:linear-gradient(90deg,#0d0000 0.00%,#0e0000 1.80%,#2e0000 6.03%,#410000 9.74%,#5b0000 10.79%,#880000 11.64%,#ac0000 13.54%,#cc0000 14.07%,#d80000 14.81%,#d30000 15.24%,#9e0000 16.19%,#8c0000 17.35%,#630000 17.99%,#460000 18.84%,#3f0000 19.89%,#5f0000 23.17%,#1d0000 26.46%,#180000 30.37%,#380000 35.66%,#450000 37.78%,#710000 39.37%,#8c0000 40.00%,#9d0000 41.69%,#b00000 42.12%,#ff0a00 42.96%,#ff9300 44.23%,#ffc600 44.97%,#ffc600 45.61%,#ff8b00 46.35%,#ff2300 47.20%,#f20000 47.62%,#c00000 48.04%,#9e0000 48.47%,#930000 49.42%,#600000 50.79%,#380000 53.12%,#150000 61.59%,#1c0000 68.36%,#0d0000 74.81%,#1a0000 85.93%,#100000 93.86%,#1b0000 100.00%)"></i>
<i style="top:360px;height:1px;background:linear-gradient(90deg,#0c0000 0.00%,#0e0000 1.80%,#2d0000 6.03%,#400000 9.74%,#5a0000 10.79%,#860000 11.64%,#ab0000 13.54%,#ca0000 14.07%,#d70000 14.81%,#d10000 15.24%,#9e0000 16.19%,#8c0000 17.35%,#620000 17.99%,#450000 18.84%,#3f0000 19.89%,#5e0000 23.17%,#1d0000 26.46%,#180000 30.37%,#380000 35.66%,#450000 37.78%,#720000 39.37%,#8c0000 40.00%,#9e0000 41.69%,#b10000 42.12%,#ff0b00 42.96%,#ff9300 44.23%,#ffc600 44.97%,#ffcc00 45.29%,#ffc500 45.61%,#ff8b00 46.35%,#ff2300 47.20%,#f20000 47.62%,#c10000 48.04%,#9e0000 48.47%,#930000 49.42%,#600000 50.79%,#380000 53.12%,#150000 61.59%,#1c0000 68.36%,#0d0000 74.81%,#1a0000 85.93%,#0f0000 93.86%,#1a0000 100.00%)"></i>
<i style="top:361px;height:1px;background:linear-gradient(90deg,#0c0000 0.00%,#0d0000 1.80%,#3d0000 9.74%,#560000 10.79%,#810000 11.64%,#a50000 13.54%,#cd0000 14.50%,#c90000 15.24%,#9d0000 16.19%,#880000 17.35%,#5e0000 17.99%,#420000 18.84%,#3c0000 19.89%,#590000 23.17%,#1b0000 26.46%,#170000 30.37%,#360000 35.66%,#430000 37.78%,#700000 39.37%,#8b0000 40.00%,#9d0000 41.69%,#ad0000 42.12%,#ff0400 42.96%,#ff8800 44.23%,#ffb900 44.97%,#ffb800 45.61%,#ff8000 46.35%,#ff1b00 47.20%,#ec0000 47.62%,#bb0000 48.04%,#9e0000 48.47%,#930000 49.42%,#5f0000 50.79%,#360000 53.12%,#140000 61.59%,#1b0000 68.36%,#0d0000 74.81%,#1a0000 85.93%,#0f0000 93.86%,#1a0000 100.00%)"></i>
<i style="top:362px;height:2px;background:linear-gradient(90deg,#0b0000 0.00%,#0d0000 1.80%,#390000 9.74%,#510000 10.79%,#940000 12.38%,#9f0000 13.54%,#c00000 14.50%,#bb0000 15.24%,#9b0000 16.19%,#810000 17.35%,#580000 17.99%,#3e0000 18.84%,#380000 19.89%,#540000 23.17%,#1a0000 26.46%,#1e0000 32.17%,#340000 35.66%,#410000 37.78%,#6e0000 39.37%,#8a0000 40.00%,#9c0000 41.69%,#a90000 42.12%,#fa0000 42.96%,#ff7900 44.23%,#ffa800 44.97%,#ffa700 45.61%,#ff7100 46.35%,#ff1100 47.20%,#e40000 47.62%,#b40000 48.04%,#9d0000 48.47%,#930000 49.42%,#5d0000 50.79%,#340000 53.12%,#130000 61.59%,#1a0000 68.36%,#0c0000 74.81%,#1b0000 85.93%,#0e0000 93.86%,#180000 100.00%)"></i>
<i style="top:364px;height:2px;background:linear-gradient(90deg,#0b0000 0.00%,#0c0000 1.80%,#360000 9.74%,#4c0000 10.79%,#930000 12.38%,#ab0000 14.07%,#b50000 14.81%,#940000 16.72%,#520000 17.99%,#3a0000 18.84%,#350000 19.89%,#4f0000 23.17%,#190000 26.46%,#1d0000 32.17%,#400000 37.78%,#6d0000 39.37%,#8a0000 40.00%,#a60000 42.12%,#f40000 42.96%,#ff4400 43.81%,#ff8c00 44.66%,#ff9f00 45.29%,#ff8700 45.93%,#ff3a00 46.77%,#ff0a00 47.20%,#df0000 47.62%,#b00000 48.04%,#9d0000 48.47%,#930000 49.42%,#5b0000 50.79%,#320000 53.12%,#120000 61.59%,#180000 68.36%,#0c0000 74.81%,#1c0000 83.81%,#0d0000 93.86%,#170000 100.00%)"></i>
<i style="top:366px;height:2px;background:linear-gradient(90deg,#0a0000 0.00%,#0b0000 1.80%,#340000 9.74%,#480000 10.79%,#930000 12.38%,#af0000 14.81%,#940000 16.72%,#4f0000 17.99%,#380000 18.84%,#330000 19.89%,#4b0000 23.17%,#180000 26.46%,#1c0000 32.17%,#3f0000 37.78%,#6e0000 39.37%,#8b0000 40.00%,#a50000 42.12%,#f10000 42.96%,#ff1c00 43.39%,#ff8500 44.66%,#ff9800 45.29%,#ff8100 45.93%,#ff3500 46.77%,#ff0600 47.20%,#af0000 48.04%,#9c0000 48.47%,#930000 49.42%,#5b0000 50.79%,#300000 53.12%,#110000 61.59%,#170000 68.36%,#0d0000 75.56%,#1d0000 83.81%,#0d0000 93.86%,#160000 100.00%)"></i>
<i style="top:368px;height:2px;background:linear-gradient(90deg,#0a0000 0.00%,#190000 3.92%,#320000 9.74%,#460000 10.79%,#920000 12.38%,#aa0000 14.81%,#930000 16.72%,#4c0000 17.99%,#360000 18.84%,#310000 19.89%,#480000 23.17%,#170000 26.46%,#1b0000 32.17%,#3f0000 37.78%,#6f0000 39.37%,#8c0000 40.00%,#a50000 42.12%,#ef0000 42.96%,#ff1900 43.39%,#ff8000 44.66%,#ff9200 45.29%,#ff8d00 45.61%,#ff5b00 46.35%,#ff0400 47.20%,#ae0000 48.04%,#9c0000 48.47%,#930000 49.42%,#5b0000 50.79%,#2f0000 53.12%,#110000 61.59%,#120000 69.63%,#0f0000 76.40%,#1e0000 83.81%,#0d0000 93.86%,#150000 100.00%)"></i>
<i style="top:370px;height:2px;background:linear-gradient(90deg,#0a0000 0.00%,#180000 3.92%,#310000 9.74%,#430000 10.79%,#650000 11.64%,#8f0000 12.38%,#a50000 14.81%,#930000 16.72%,#490000 17.99%,#340000 18.84%,#300000 19.89%,#450000 23.17%,#170000 26.46%,#1b0000 32.17%,#3f0000 37.78%,#6e0000 39.37%,#8c0000 40.00%,#a30000 42.12%,#eb0000 42.96%,#ff1400 43.39%,#ff7700 44.66%,#ff8900 45.29%,#ff7300 45.93%,#ff2b00 46.77%,#fe0000 47.20%,#ab0000 48.04%,#970000 48.89%,#930000 49.42%,#5b0000 50.79%,#2f0000 53.12%,#110000 61.59%,#120000 69.63%,#0f0000 76.40%,#1f0000 83.81%,#0c0000 93.86%,#150000 100.00%)"></i>
<i style="top:372px;height:2px;background:linear-gradient(90deg,#0a0000 0.00%,#2f0000 9.74%,#400000 10.79%,#620000 11.64%,#8c0000 12.38%,#a00000 14.81%,#920000 16.72%,#460000 17.99%,#330000 18.84%,#2e0000 19.89%,#430000 23.17%,#160000 26.46%,#1a0000 32.17%,#3e0000 37.78%,#6f0000 39.37%,#8c0000 40.00%,#a20000 42.12%,#e80000 42.96%,#ff0f00 43.39%,#ff7000 44.66%,#ff8200 45.29%,#ff6c00 45.93%,#fa0000 47.20%,#aa0000 48.04%,#970000 48.89%,#930000 49.42%,#5c0000 50.79%,#410000 51.85%,#250000 54.71%,#110000 63.17%,#120000 69.63%,#0d0000 75.56%,#200000 83.81%,#0c0000 93.86%,#150000 100.00%)"></i>
<i style="top:374px;height:2px;background:linear-gradient(90deg,#0a0000 0.00%,#2e0000 9.74%,#3e0000 10.79%,#5f0000 11.64%,#8a0000 12.38%,#9f0000 14.50%,#8f0000 16.72%,#440000 17.99%,#310000 18.84%,#350000 21.16%,#410000 23.17%,#160000 26.46%,#1a0000 32.17%,#3e0000 37.78%,#6f0000 39.37%,#8c0000 40.00%,#a00000 42.12%,#bc0000 42.54%,#e50000 42.96%,#ff0b00 43.39%,#ff6a00 44.66%,#ff7b00 45.29%,#ff6600 45.93%,#f70000 47.20%,#a80000 48.04%,#930000 49.42%,#5c0000 50.79%,#410000 51.85%,#250000 54.71%,#110000 63.17%,#110000 69.63%,#0e0000 75.56%,#220000 83.81%,#0c0000 93.86%,#150000 100.00%)"></i>
<i style="top:376px;height:2px;background:linear-gradient(90deg,#0a0000 0.00%,#2c0000 9.74%,#3c0000 10.79%,#5b0000 11.64%,#860000 12.38%,#990000 13.54%,#9b0000 15.66%,#8c0000 16.72%,#410000 17.99%,#2f0000 18.84%,#2b0000 19.89%,#3e0000 23.17%,#150000 26.46%,#1a0000 32.17%,#3e0000 37.78%,#6f0000 39.37%,#8c0000 40.00%,#a00000 42.12%,#b90000 42.54%,#ff0600 43.39%,#ff6200 44.66%,#ff7200 45.29%,#ff5e00 45.93%,#ff1b00 46.77%,#f20000 47.20%,#a60000 48.04%,#930000 49.42%,#5d0000 50.79%,#410000 51.85%,#2e0000 53.12%,#100000 61.59%,#110000 69.63%,#0e0000 75.56%,#230000 83.81%,#0c0000 93.86%,#150000 100.00%)"></i>
<i style="top:378px;height:2px;background:linear-gradient(90deg,#090000 0.00%,#2a0000 9.74%,#380000 10.79%,#550000 11.64%,#7e0000 12.38%,#940000 13.02%,#990000 15.66%,#880000 16.72%,#5b0000 17.35%,#3d0000 17.99%,#2d0000 18.84%,#310000 21.16%,#3a0000 23.17%,#140000 26.46%,#190000 32.17%,#3d0000 37.78%,#6d0000 39.37%,#8b0000 40.00%,#9f0000 42.12%,#b30000 42.54%,#fd0000 43.39%,#ff5500 44.66%,#ff6400 45.29%,#ff5100 45.93%,#ff1200 46.77%,#ea0000 47.20%,#a20000 48.04%,#920000 49.42%,#5c0000 50.79%,#400000 51.85%,#250000 54.71%,#110000 63.17%,#110000 69.63%,#0e0000 75.56%,#250000 83.81%,#0c0000 93.86%,#140000 100.00%)"></i>
<i style="top:380px;height:2px;background:linear-gradient(90deg,#090000 0.00%,#250000 9.74%,#330000 10.79%,#4b0000 11.64%,#910000 13.02%,#970000 15.66%,#930000 16.19%,#500000 17.35%,#370000 17.99%,#280000 18.84%,#2c0000 21.16%,#340000 23.17%,#130000 26.46%,#180000 32.17%,#3a0000 37.78%,#690000 39.37%,#890000 40.00%,#9d0000 42.12%,#a90000 42.54%,#ec0000 43.39%,#ff0800 43.81%,#ff3d00 44.66%,#ff4a00 45.29%,#ff3800 45.93%,#fe0000 46.77%,#b70000 47.62%,#9f0000 48.04%,#900000 49.42%,#5a0000 50.79%,#3d0000 51.85%,#230000 54.71%,#100000 63.17%,#100000 69.63%,#0e0000 75.56%,#260000 81.69%,#1f0000 87.51%,#0c0000 93.86%,#130000 100.00%)"></i>
<i style="top:382px;height:2px;background:linear-gradient(90deg,#090000 0.00%,#210000 9.74%,#2c0000 10.79%,#400000 11.64%,#850000 13.02%,#960000 14.07%,#950000 15.66%,#8b0000 16.19%,#440000 17.35%,#230000 18.84%,#2e0000 23.17%,#120000 26.46%,#170000 32.17%,#370000 37.78%,#650000 39.37%,#850000 40.00%,#950000 41.16%,#a00000 42.54%,#f10000 43.81%,#ff0c00 44.23%,#ff2900 44.97%,#ff2900 45.61%,#ff0600 46.35%,#c90000 47.20%,#a90000 47.62%,#8d0000 49.42%,#570000 50.79%,#3b0000 51.85%,#220000 54.71%,#0f0000 63.17%,#0f0000 69.63%,#0e0000 75.56%,#280000 81.69%,#200000 87.51%,#0b0000 93.86%,#120000 100.00%)"></i>
<i style="top:384px;height:2px;background:linear-gradient(90deg,#080000 0.00%,#1d0000 9.74%,#380000 11.64%,#730000 13.02%,#8c0000 13.54%,#920000 15.66%,#3b0000 17.35%,#1f0000 18.84%,#230000 24.13%,#100000 26.46%,#150000 32.17%,#350000 37.78%,#460000 38.62%,#800000 40.00%,#910000 40.63%,#9e0000 42.54%,#ac0000 42.96%,#f70000 44.23%,#ff1400 45.29%,#ff0600 45.93%,#d70000 46.77%,#a00000 47.62%,#8a0000 49.42%,#550000 50.79%,#390000 51.85%,#200000 54.71%,#0f0000 63.17%,#0f0000 69.63%,#0e0000 75.56%,#290000 81.69%,#210000 87.51%,#0c0000 91.75%,#120000 100.00%)"></i>
<i style="top:386px;height:2px;background:linear-gradient(90deg,#080000 0.00%,#1a0000 9.74%,#320000 11.64%,#660000 13.02%,#8f0000 14.07%,#920000 15.24%,#8a0000 15.66%,#350000 17.35%,#1c0000 18.84%,#1f0000 24.13%,#0e0000 28.25%,#2a0000 36.72%,#440000 38.62%,#7e0000 40.00%,#940000 41.16%,#a50000 42.96%,#f90000 44.66%,#ff0100 45.61%,#cc0000 46.77%,#ad0000 47.20%,#9a0000 48.04%,#880000 49.42%,#540000 50.79%,#380000 51.85%,#270000 53.12%,#0e0000 63.17%,#0e0000 69.63%,#0e0000 75.56%,#2b0000 81.69%,#230000 87.51%,#0c0000 91.75%,#110000 100.00%)"></i>
<i style="top:388px;height:2px;background:linear-gradient(90deg,#080000 0.00%,#200000 10.79%,#410000 12.38%,#860000 14.07%,#8a0000 15.24%,#7e0000 15.66%,#460000 16.72%,#220000 17.99%,#180000 19.89%,#1d0000 24.13%,#0e0000 28.25%,#230000 35.66%,#330000 37.78%,#430000 38.62%,#8f0000 40.63%,#a00000 42.96%,#ed0000 44.66%,#f30000 45.61%,#d80000 46.35%,#a70000 47.20%,#870000 49.42%,#550000 50.79%,#380000 51.85%,#270000 53.12%,#0e0000 63.17%,#0e0000 69.63%,#0e0000 75.56%,#2d0000 81.69%,#250000 87.51%,#0c0000 91.75%,#110000 100.00%)"></i>
<i style="top:390px;height:2px;background:linear-gradient(90deg,#080000 0.00%,#1e0000 10.79%,#3c0000 12.38%,#7c0000 14.07%,#800000 15.24%,#2d0000 17.35%,#190000 18.84%,#1b0000 24.13%,#0e0000 28.25%,#220000 35.66%,#330000 37.78%,#430000 38.62%,#7e0000 40.00%,#930000 41.16%,#9f0000 42.96%,#e50000 44.66%,#ea0000 45.61%,#d10000 46.35%,#a30000 47.20%,#870000 49.42%,#380000 51.85%,#270000 53.12%,#0e0000 63.17%,#0e0000 69.63%,#0f0000 75.56%,#300000 81.69%,#270000 87.51%,#0c0000 91.75%,#110000 100.00%)"></i>
<i style="top:392px;height:2px;background:linear-gradient(90deg,#080000 0.00%,#1c0000 10.79%,#380000 12.38%,#730000 14.07%,#770000 15.24%,#2a0000 17.35%,#180000 18.84%,#1a0000 24.13%,#0e0000 28.25%,#220000 35.66%,#320000 37.78%,#430000 38.62%,#7d0000 40.00%,#930000 41.16%,#9e0000 42.96%,#de0000 44.66%,#e30000 45.61%,#ca0000 46.35%,#a00000 47.20%,#930000 48.89%,#380000 51.85%,#270000 53.12%,#0e0000 63.17%,#0e0000 69.63%,#0f0000 75.56%,#320000 81.69%,#290000 87.51%,#0d0000 91.75%,#110000 100.00%)"></i>
<i style="top:394px;height:2px;background:linear-gradient(90deg,#080000 0.00%,#1b0000 10.79%,#340000 12.38%,#6b0000 14.07%,#6f0000 15.24%,#280000 17.35%,#170000 18.84%,#190000 24.13%,#0e0000 28.25%,#210000 35.66%,#320000 37.78%,#430000 38.62%,#7d0000 40.00%,#930000 41.16%,#a60000 43.39%,#d80000 44.66%,#dc0000 45.61%,#9f0000 47.20%,#930000 48.89%,#390000 51.85%,#270000 53.12%,#0e0000 63.17%,#0e0000 69.63%,#0c0000 74.81%,#350000 81.69%,#2b0000 87.51%,#0d0000 91.75%,#110000 100.00%)"></i>
<i style="top:396px;height:2px;background:linear-gradient(90deg,#080000 0.00%,#1c0000 10.79%,#370000 12.38%,#780000 14.50%,#750000 15.24%,#290000 17.35%,#170000 18.84%,#190000 24.13%,#0e0000 28.25%,#220000 35.66%,#340000 37.78%,#450000 38.62%,#810000 40.00%,#940000 41.16%,#9f0000 42.96%,#e00000 44.66%,#e50000 45.61%,#cc0000 46.35%,#a10000 47.20%,#890000 49.42%,#390000 51.85%,#200000 54.71%,#0e0000 63.17%,#0e0000 69.63%,#100000 75.56%,#380000 81.69%,#2d0000 87.51%,#0d0000 91.75%,#110000 100.00%)"></i>
<i style="top:398px;height:2px;background:linear-gradient(90deg,#080000 0.00%,#1c0000 10.79%,#390000 12.38%,#750000 14.07%,#790000 15.24%,#2b0000 17.35%,#180000 18.84%,#1a0000 24.13%,#0e0000 28.25%,#230000 35.66%,#350000 37.78%,#470000 38.62%,#840000 40.00%,#940000 41.16%,#9f0000 42.96%,#e60000 44.66%,#eb0000 45.61%,#d20000 46.35%,#a50000 47.20%,#8b0000 49.42%,#3a0000 51.85%,#280000 53.12%,#0e0000 63.17%,#0e0000 69.63%,#0c0000 74.81%,#3b0000 81.69%,#2f0000 87.51%,#0d0000 91.75%,#110000 100.00%)"></i>
<i style="top:400px;height:2px;background:linear-gradient(90deg,#080000 0.00%,#190000 10.79%,#410000 13.02%,#670000 14.50%,#5b0000 15.66%,#250000 17.35%,#150000 18.84%,#170000 24.13%,#0e0000 28.25%,#210000 35.66%,#330000 37.78%,#440000 38.62%,#810000 40.00%,#940000 41.16%,#a40000 43.39%,#d40000 44.66%,#d80000 45.61%,#9f0000 47.20%,#890000 49.42%,#3a0000 51.85%,#280000 53.12%,#0e0000 63.17%,#0e0000 69.63%,#0c0000 74.81%,#3e0000 81.69%,#320000 87.51%,#0e0000 91.75%,#110000 100.00%)"></i>
<i style="top:402px;height:2px;background:linear-gradient(90deg,#080000 0.00%,#170000 10.79%,#390000 13.02%,#5a0000 14.50%,#4f0000 15.66%,#210000 17.35%,#130000 19.89%,#160000 24.13%,#0d0000 28.25%,#200000 35.66%,#320000 37.78%,#430000 38.62%,#800000 40.00%,#930000 41.16%,#9f0000 43.39%,#cd0000 44.97%,#c40000 45.93%,#a40000 46.77%,#880000 49.42%,#3a0000 51.85%,#280000 53.12%,#0e0000 63.17%,#0e0000 69.63%,#0d0000 74.81%,#420000 81.69%,#3e0000 85.93%,#0e0000 91.75%,#110000 100.00%)"></i>
<i style="top:404px;height:2px;background:linear-gradient(90deg,#080000 0.00%,#160000 10.79%,#350000 13.02%,#510000 14.50%,#470000 15.66%,#1e0000 17.35%,#120000 19.89%,#150000 24.13%,#0f0000 30.37%,#280000 36.72%,#430000 38.62%,#800000 40.00%,#930000 41.16%,#a60000 43.81%,#c50000 44.97%,#bc0000 45.93%,#a00000 46.77%,#870000 49.42%,#3a0000 51.85%,#280000 53.12%,#0e0000 63.17%,#0e0000 69.63%,#0d0000 74.81%,#460000 81.69%,#420000 85.93%,#0e0000 91.75%,#110000 100.00%)"></i>
<i style="top:406px;height:2px;background:linear-gradient(90deg,#080000 0.00%,#150000 10.79%,#310000 13.02%,#4b0000 14.81%,#160000 17.99%,#0f0000 30.37%,#270000 36.72%,#430000 38.62%,#800000 40.00%,#930000 41.16%,#a30000 43.81%,#bf0000 44.97%,#b70000 45.93%,#9c0000 47.20%,#870000 49.42%,#3a0000 51.85%,#280000 53.12%,#0e0000 63.17%,#0e0000 69.63%,#0d0000 74.81%,#4a0000 81.69%,#460000 85.93%,#0f0000 91.75%,#110000 100.00%)"></i>
<i style="top:408px;height:2px;background:linear-gradient(90deg,#080000 0.00%,#140000 10.79%,#380000 13.54%,#460000 14.81%,#150000 17.99%,#0f0000 30.37%,#270000 36.72%,#430000 38.62%,#810000 40.00%,#930000 41.16%,#a10000 43.81%,#bb0000 44.97%,#b30000 45.93%,#9c0000 47.20%,#880000 49.42%,#3a0000 51.85%,#280000 53.12%,#0e0000 63.17%,#0e0000 69.63%,#0e0000 74.81%,#4f0000 81.69%,#4b0000 85.93%,#0f0000 91.75%,#110000 100.00%)"></i>
<i style="top:410px;height:2px;background:linear-gradient(90deg,#080000 0.00%,#190000 11.64%,#440000 14.81%,#150000 17.99%,#0f0000 30.37%,#280000 36.72%,#440000 38.62%,#830000 40.00%,#930000 41.16%,#a10000 43.81%,#bb0000 44.97%,#b30000 45.93%,#9c0000 47.20%,#890000 49.42%,#3b0000 51.85%,#280000 53.12%,#0e0000 63.17%,#0e0000 69.63%,#0e0000 74.81%,#530000 81.69%,#4f0000 85.93%,#0f0000 91.75%,#110000 100.00%)"></i>
<i style="top:412px;height:2px;background:linear-gradient(90deg,#080000 0.00%,#180000 11.64%,#400000 14.81%,#140000 17.99%,#0f0000 30.37%,#280000 36.72%,#450000 38.62%,#840000 40.00%,#950000 41.69%,#a00000 43.81%,#b80000 44.97%,#b10000 45.93%,#9c0000 47.20%,#890000 49.42%,#3b0000 51.85%,#280000 53.12%,#0e0000 63.17%,#0e0000 69.63%,#0e0000 74.81%,#590000 81.69%,#540000 85.93%,#1a0000 90.37%,#0b0000 93.86%,#110000 100.00%)"></i>
<i style="top:414px;height:2px;background:linear-gradient(90deg,#080000 0.00%,#160000 11.64%,#380000 14.81%,#130000 17.99%,#0f0000 30.37%,#280000 36.72%,#440000 38.62%,#830000 40.00%,#930000 41.16%,#a50000 44.23%,#b00000 45.61%,#9b0000 47.20%,#890000 49.42%,#3b0000 51.85%,#280000 53.12%,#0e0000 63.17%,#0e0000 69.63%,#0f0000 74.81%,#5e0000 81.69%,#590000 85.93%,#490000 87.51%,#1b0000 90.37%,#0b0000 93.86%,#110000 100.00%)"></i>
<i style="top:416px;height:2px;background:linear-gradient(90deg,#080000 0.00%,#150000 11.64%,#340000 14.81%,#120000 17.99%,#0f0000 30.37%,#280000 36.72%,#450000 38.62%,#850000 40.00%,#990000 42.54%,#ae0000 45.61%,#9b0000 47.20%,#890000 49.42%,#3c0000 51.85%,#290000 53.12%,#0d0000 61.59%,#0e0000 69.63%,#0f0000 74.81%,#640000 81.69%,#5e0000 85.93%,#4d0000 87.51%,#1d0000 90.37%,#0b0000 93.86%,#110000 100.00%)"></i>
<i style="top:418px;height:2px;background:linear-gradient(90deg,#080000 0.00%,#150000 11.64%,#310000 14.81%,#120000 17.99%,#0f0000 30.37%,#280000 36.72%,#450000 38.62%,#860000 40.00%,#970000 42.12%,#ac0000 45.61%,#990000 47.62%,#8a0000 49.42%,#3c0000 51.85%,#290000 53.12%,#0d0000 61.59%,#0e0000 69.63%,#100000 74.81%,#690000 81.69%,#640000 85.93%,#520000 87.51%,#1e0000 90.37%,#0b0000 93.86%,#110000 100.00%)"></i>
<i style="top:420px;height:2px;background:linear-gradient(90deg,#080000 0.00%,#130000 11.64%,#2c0000 14.81%,#0e0000 18.84%,#130000 32.17%,#280000 36.72%,#450000 38.62%,#860000 40.00%,#970000 42.12%,#a90000 45.61%,#8a0000 49.42%,#3c0000 51.85%,#290000 53.12%,#0d0000 61.59%,#0e0000 69.63%,#100000 74.81%,#700000 81.69%,#6a0000 85.93%,#570000 87.51%,#1f0000 90.37%,#110000 91.75%,#110000 100.00%)"></i>
<i style="top:422px;height:2px;background:linear-gradient(90deg,#080000 0.00%,#150000 12.38%,#240000 15.24%,#0d0000 18.84%,#120000 32.17%,#280000 36.72%,#450000 38.62%,#860000 40.00%,#950000 41.69%,#a00000 45.93%,#8a0000 49.42%,#3c0000 51.85%,#290000 53.12%,#0d0000 61.59%,#0e0000 69.63%,#110000 74.81%,#760000 81.69%,#700000 85.93%,#5c0000 87.51%,#210000 90.37%,#120000 91.75%,#0c0000 96.51%,#110000 100.00%)"></i>
<i style="top:424px;height:2px;background:linear-gradient(90deg,#080000 0.00%,#130000 12.38%,#1b0000 15.66%,#0c0000 19.89%,#120000 32.17%,#270000 36.72%,#450000 38.62%,#860000 40.00%,#950000 41.69%,#9d0000 46.35%,#8a0000 49.42%,#3d0000 51.85%,#290000 53.12%,#0d0000 61.59%,#0e0000 69.63%,#110000 74.81%,#7d0000 81.69%,#770000 85.93%,#620000 87.51%,#230000 90.37%,#120000 91.75%,#110000 100.00%)"></i>
<i style="top:426px;height:2px;background:linear-gradient(90deg,#060000 0.00%,#0e0000 33.54%,#200000 37.78%,#3c0000 39.37%,#5f0000 40.63%,#8f0000 43.81%,#8f0000 46.35%,#730000 48.04%,#280000 51.85%,#160000 54.71%,#0b0000 64.55%,#0c0000 74.81%,#570000 81.69%,#520000 85.93%,#0d0000 91.75%,#0c0000 100.00%)"></i>
<i style="top:428px;height:2px;background:linear-gradient(90deg,#0d0000 0.00%,#140000 28.25%,#270000 32.17%,#430000 35.66%,#410000 36.72%,#6e0000 38.62%,#940000 40.00%,#a20000 41.69%,#be0000 42.54%,#bc0000 43.81%,#9e0000 45.29%,#930000 47.20%,#890000 47.62%,#4b0000 48.47%,#260000 49.42%,#130000 51.85%,#130000 73.44%,#1d0000 74.81%,#850000 78.52%,#930000 79.79%,#940000 87.51%,#810000 88.57%,#3e0000 90.37%,#1f0000 91.75%,#100000 96.51%,#100000 100.00%)"></i>
<i style="top:430px;height:2px;background:linear-gradient(90deg,#0d0000 0.00%,#150000 28.25%,#290000 32.17%,#460000 35.66%,#450000 36.72%,#590000 37.78%,#8b0000 39.37%,#aa0000 41.69%,#cb0000 42.54%,#c90000 43.81%,#9f0000 45.29%,#8d0000 47.62%,#380000 48.89%,#200000 50.05%,#100000 53.12%,#130000 73.44%,#1e0000 74.81%,#8b0000 78.52%,#9a0000 83.81%,#950000 87.51%,#880000 88.57%,#420000 90.37%,#200000 91.75%,#100000 96.51%,#100000 100.00%)"></i>
<i style="top:432px;height:2px;background:linear-gradient(90deg,#0d0000 0.00%,#150000 28.25%,#290000 32.17%,#460000 35.66%,#450000 36.72%,#590000 37.78%,#8b0000 39.37%,#aa0000 41.69%,#cb0000 42.54%,#c90000 43.81%,#9f0000 45.29%,#8d0000 47.62%,#380000 48.89%,#200000 50.05%,#100000 53.12%,#130000 73.44%,#1e0000 74.81%,#8b0000 78.52%,#9a0000 83.81%,#950000 87.51%,#880000 88.57%,#420000 90.37%,#200000 91.75%,#100000 96.51%,#100000 100.00%)"></i>
<i style="top:434px;height:2px;background:linear-gradient(90deg,#0d0000 0.00%,#150000 28.25%,#290000 32.17%,#460000 35.66%,#450000 36.72%,#590000 37.78%,#8b0000 39.37%,#aa0000 41.69%,#cb0000 42.54%,#c90000 43.81%,#9f0000 45.29%,#8d0000 47.62%,#380000 48.89%,#200000 50.05%,#100000 53.12%,#130000 73.44%,#1e0000 74.81%,#8b0000 78.52%,#9a0000 83.81%,#950000 87.51%,#880000 88.57%,#420000 90.37%,#200000 91.75%,#100000 96.51%,#100000 100.00%)"></i>
<i style="top:436px;height:2px;background:linear-gradient(90deg,#0d0000 0.00%,#150000 28.25%,#290000 32.17%,#460000 35.66%,#450000 36.72%,#590000 37.78%,#8b0000 39.37%,#aa0000 41.69%,#cb0000 42.54%,#c90000 43.81%,#9f0000 45.29%,#8d0000 47.62%,#380000 48.89%,#200000 50.05%,#100000 53.12%,#130000 73.44%,#1e0000 74.81%,#8b0000 78.52%,#9a0000 83.81%,#950000 87.51%,#880000 88.57%,#420000 90.37%,#200000 91.75%,#100000 96.51%,#100000 100.00%)"></i>
<i style="top:438px;height:2px;background:linear-gradient(90deg,#0d0000 0.00%,#150000 28.25%,#290000 32.17%,#460000 35.66%,#450000 36.72%,#590000 37.78%,#8b0000 39.37%,#aa0000 41.69%,#cb0000 42.54%,#c90000 43.81%,#9f0000 45.29%,#8d0000 47.62%,#380000 48.89%,#200000 50.05%,#100000 53.12%,#130000 73.44%,#1e0000 74.81%,#8b0000 78.52%,#9a0000 83.81%,#950000 87.51%,#880000 88.57%,#420000 90.37%,#200000 91.75%,#100000 96.51%,#100000 100.00%)"></i>
<i style="top:440px;height:2px;background:linear-gradient(90deg,#0d0000 0.00%,#150000 28.25%,#290000 32.17%,#460000 35.66%,#450000 36.72%,#590000 37.78%,#8b0000 39.37%,#aa0000 41.69%,#cb0000 42.54%,#c90000 43.81%,#9f0000 45.29%,#8d0000 47.62%,#380000 48.89%,#200000 50.05%,#100000 53.12%,#130000 73.44%,#1e0000 74.81%,#8b0000 78.52%,#9a0000 83.81%,#950000 87.51%,#880000 88.57%,#420000 90.37%,#200000 91.75%,#100000 96.51%,#100000 100.00%)"></i>
<i style="top:442px;height:2px;background:linear-gradient(90deg,#0d0000 0.00%,#150000 28.25%,#2a0000 32.17%,#490000 35.66%,#470000 36.72%,#5c0000 37.78%,#8d0000 39.37%,#9f0000 41.16%,#d20000 42.54%,#d10000 43.81%,#9e0000 45.61%,#8f0000 47.62%,#3a0000 48.89%,#210000 50.05%,#100000 53.12%,#130000 73.44%,#1f0000 74.81%,#8e0000 78.52%,#9a0000 83.81%,#960000 87.51%,#8b0000 88.57%,#450000 90.37%,#210000 91.75%,#130000 93.86%,#100000 100.00%)"></i>
<i style="top:444px;height:2px;background:linear-gradient(90deg,#0d0000 0.00%,#110000 26.46%,#1d0000 30.37%,#520000 35.66%,#500000 36.72%,#670000 37.78%,#870000 38.62%,#9e0000 40.63%,#ac0000 41.16%,#e00000 42.12%,#ef0000 42.96%,#e00000 44.23%,#a00000 45.93%,#930000 47.62%,#830000 48.04%,#400000 48.89%,#2c0000 49.42%,#140000 51.85%,#140000 73.44%,#220000 74.81%,#800000 77.46%,#930000 78.52%,#9d0000 83.81%,#930000 88.57%,#4e0000 90.37%,#240000 91.75%,#130000 93.86%,#100000 100.00%)"></i>
<i style="top:446px;height:2px;background:linear-gradient(90deg,#0d0000 0.00%,#140000 28.25%,#320000 33.54%,#3e0000 36.72%,#6a0000 38.62%,#940000 40.00%,#9f0000 41.69%,#b70000 42.96%,#ab0000 44.23%,#9c0000 45.29%,#930000 47.20%,#840000 47.62%,#480000 48.47%,#250000 49.42%,#130000 51.85%,#120000 73.44%,#1c0000 74.81%,#800000 78.52%,#930000 79.79%,#930000 87.51%,#7b0000 88.57%,#3c0000 90.37%,#1e0000 91.75%,#100000 96.51%,#100000 100.00%)"></i>
<i style="top:448px;height:2px;background:linear-gradient(90deg,#0d0000 0.00%,#130000 28.25%,#310000 36.72%,#4e0000 38.62%,#5f0000 39.37%,#930000 40.63%,#9a0000 44.23%,#8a0000 46.77%,#370000 48.47%,#1f0000 49.42%,#100000 53.12%,#110000 73.44%,#170000 74.81%,#920000 81.69%,#8e0000 85.93%,#7b0000 87.51%,#2e0000 90.37%,#190000 91.75%,#100000 100.00%)"></i>
<i style="top:450px;height:2px;background:linear-gradient(90deg,#0d0000 0.00%,#130000 28.25%,#390000 37.78%,#580000 39.37%,#8f0000 40.63%,#990000 44.23%,#8d0000 46.35%,#5b0000 47.62%,#280000 48.89%,#150000 50.79%,#100000 73.44%,#210000 75.56%,#8c0000 81.69%,#890000 85.93%,#720000 87.51%,#2b0000 90.37%,#180000 91.75%,#100000 100.00%)"></i>
<i style="top:452px;height:2px;background:linear-gradient(90deg,#0d0000 0.00%,#140000 28.25%,#270000 32.17%,#430000 35.66%,#410000 36.72%,#6e0000 38.62%,#940000 40.00%,#a20000 41.69%,#c00000 42.96%,#b10000 44.23%,#9d0000 45.29%,#930000 47.20%,#880000 47.62%,#350000 48.89%,#1f0000 50.05%,#100000 53.12%,#130000 73.44%,#1d0000 74.81%,#850000 78.52%,#930000 79.79%,#940000 87.51%,#800000 88.57%,#3e0000 90.37%,#1f0000 91.75%,#100000 96.51%,#100000 100.00%)"></i>
<i style="top:454px;height:6px;background:linear-gradient(90deg,#0d0000 0.00%,#120000 26.46%,#210000 30.37%,#670000 35.66%,#650000 36.72%,#940000 38.62%,#9d0000 40.00%,#ba0000 40.63%,#ff0100 41.69%,#ff2b00 42.54%,#ff2900 43.81%,#f70000 44.97%,#a20000 46.77%,#930000 48.04%,#500000 48.89%,#350000 49.42%,#1b0000 50.79%,#100000 54.71%,#110000 72.17%,#290000 74.81%,#740000 76.40%,#930000 77.46%,#9c0000 79.79%,#b90000 81.69%,#af0000 85.93%,#910000 89.42%,#2c0000 91.75%,#140000 93.86%,#100000 100.00%)"></i>
</div></div>
<div style="position:absolute;left:1003px;top:689px;width:1.5px;height:9.5px;background:#7c7878"></div>
<svg width="1024" height="250" viewBox="0 0 1024 250" fill="none" stroke-width="1.9" stroke-linejoin="round" stroke-linecap="butt">
<path stroke="#de7d00" stroke-width="1.9" d="M57.5 175.0C58.8 175.1 62.1 175.2 65.0 175.4C67.9 175.6 71.3 175.9 75.0 176.2C78.7 176.5 82.8 176.8 87.0 177.0C91.2 177.2 96.2 177.4 100.0 177.5C103.8 177.6 106.7 177.5 110.0 177.4C113.3 177.3 116.7 176.9 120.0 176.7C123.3 176.5 127.0 176.2 130.0 176.2C133.0 176.2 134.7 176.4 138.0 176.6C141.3 176.8 146.3 177.3 150.0 177.5C153.7 177.7 157.1 177.7 160.0 177.7C162.9 177.7 164.7 177.6 167.5 177.5C170.3 177.4 173.7 177.2 177.0 177.0C180.3 176.8 183.7 176.3 187.5 176.2C191.3 176.1 195.4 176.5 200.0 176.6C204.6 176.7 209.2 176.8 215.0 176.8C220.8 176.8 230.3 177.0 235.0 176.8C239.7 176.7 240.5 176.3 243.0 175.9C245.5 175.5 247.7 175.1 250.0 174.5C252.3 173.9 255.0 173.1 257.0 172.6C259.0 172.1 260.7 171.7 262.0 171.4C263.3 171.1 263.7 170.9 265.0 170.8C266.3 170.7 268.3 170.6 270.0 170.8C271.7 171.0 273.3 171.3 275.0 171.8C276.7 172.3 278.3 173.2 280.0 173.8C281.7 174.4 283.3 175.0 285.0 175.4C286.7 175.8 288.0 176.3 290.0 176.5C292.0 176.7 294.5 176.6 297.0 176.6C299.5 176.6 302.5 176.4 305.0 176.5C307.5 176.6 308.7 176.9 312.0 177.1C315.3 177.3 320.3 177.6 325.0 177.8C329.7 178.0 335.5 178.1 340.0 178.2C344.5 178.2 349.3 178.2 352.0 178.1C354.7 178.0 354.3 177.6 356.0 177.6C357.7 177.6 359.3 177.6 362.0 177.8C364.7 178.0 367.8 178.5 372.0 178.7C376.2 178.9 383.2 179.0 387.0 178.9C390.8 178.8 392.8 178.4 395.0 178.2C397.2 178.0 395.8 177.9 400.0 177.8C404.2 177.8 413.3 177.9 420.0 177.9C426.7 177.9 435.8 177.8 440.0 177.7C444.2 177.6 442.9 177.5 445.0 177.2C447.1 176.9 450.2 176.1 452.5 176.1C454.8 176.1 456.1 176.8 459.0 177.1C461.9 177.3 464.8 177.5 470.0 177.6C475.2 177.7 483.3 177.8 490.0 177.8C496.7 177.8 503.3 177.6 510.0 177.6C516.7 177.6 525.0 177.9 530.0 177.9C535.0 177.9 536.7 177.4 540.0 177.6C543.3 177.8 547.2 178.9 550.0 179.0C552.8 179.1 554.5 178.4 557.0 178.2C559.5 177.9 561.2 177.6 565.0 177.5C568.8 177.4 575.0 177.4 580.0 177.4C585.0 177.4 590.4 177.4 595.0 177.5C599.6 177.6 604.2 178.2 607.5 178.2C610.8 178.2 612.1 177.8 615.0 177.6C617.9 177.4 621.3 177.1 625.0 177.0C628.7 176.9 632.8 176.9 637.0 176.8C641.2 176.7 646.2 176.6 650.0 176.5C653.8 176.4 656.7 176.3 660.0 176.2C663.3 176.1 667.3 176.0 670.0 175.8C672.7 175.6 673.9 175.3 676.0 175.0C678.1 174.7 680.7 174.3 682.5 174.0C684.3 173.7 685.3 173.5 687.0 173.4C688.7 173.3 690.7 173.1 692.5 173.2C694.3 173.2 695.9 173.5 698.0 173.7C700.1 173.9 702.7 174.3 705.0 174.5C707.3 174.7 709.5 174.8 712.0 175.0C714.5 175.2 717.5 175.3 720.0 175.5C722.5 175.7 724.5 175.9 727.0 176.1C729.5 176.3 732.7 176.6 735.0 176.8C737.3 177.0 738.9 177.1 741.0 177.2C743.1 177.3 745.0 177.6 747.5 177.5C750.0 177.4 753.1 177.1 756.0 176.8C758.9 176.6 762.3 176.1 765.0 176.0C767.7 175.9 769.5 176.3 772.0 176.4C774.5 176.5 777.0 176.7 780.0 176.8C783.0 176.9 786.7 176.9 790.0 176.9C793.3 176.9 796.3 176.6 800.0 176.6C803.7 176.6 808.3 176.6 812.0 176.7C815.7 176.8 818.5 176.9 822.0 176.9C825.5 176.9 829.5 176.9 833.3 176.8C837.1 176.7 841.2 176.4 845.0 176.2C848.8 176.0 852.2 175.8 856.0 175.6C859.8 175.4 863.8 175.4 868.0 175.3C872.2 175.2 877.0 175.0 881.0 175.0C885.0 175.0 888.6 175.2 892.0 175.3C895.4 175.4 898.5 175.7 901.2 175.6C903.9 175.5 905.5 175.0 908.0 174.7C910.5 174.4 913.9 173.7 916.2 173.6C918.5 173.5 919.9 174.0 922.0 174.2C924.1 174.4 926.1 174.8 928.8 174.8C931.5 174.8 934.6 174.4 938.0 174.2C941.4 173.9 945.2 173.4 948.9 173.3C952.6 173.2 956.2 173.6 960.0 173.8C963.8 174.0 968.5 174.4 971.5 174.3C974.5 174.2 976.2 173.6 978.0 173.2C979.8 172.8 980.6 172.3 982.0 172.0C983.4 171.7 984.4 171.4 986.6 171.3C988.8 171.2 992.2 171.3 995.0 171.3C997.8 171.3 1002.1 171.1 1003.5 171.1"/>
<path stroke="#0000ff" d="M57.5 231.8C58.2 231.9 60.2 232.3 62.0 232.6C63.8 232.9 65.8 233.4 68.0 233.7C70.2 234.0 72.7 234.2 75.0 234.2C77.3 234.2 79.5 234.1 82.0 233.9C84.5 233.7 87.0 233.2 90.0 233.0C93.0 232.8 96.7 232.5 100.0 232.5C103.3 232.5 106.7 232.7 110.0 232.9C113.3 233.1 116.7 233.3 120.0 233.5C123.3 233.7 126.7 233.9 130.0 234.1C133.3 234.3 136.7 234.4 140.0 234.5C143.3 234.6 147.2 234.8 150.0 234.9C152.8 235.0 154.0 235.0 157.0 235.0C160.0 235.0 164.2 234.8 168.0 234.7C171.8 234.6 176.3 234.3 180.0 234.2C183.7 234.0 186.7 233.9 190.0 233.8C193.3 233.7 195.8 233.5 200.0 233.5C204.2 233.5 210.0 233.5 215.0 233.6C220.0 233.7 224.2 233.9 230.0 234.0C235.8 234.1 244.2 234.2 250.0 234.2C255.8 234.2 260.8 234.3 265.0 234.2C269.2 234.1 271.7 233.8 275.0 233.5C278.3 233.2 281.7 232.8 285.0 232.5C288.3 232.2 291.5 232.0 295.0 231.8C298.5 231.6 302.7 231.3 306.0 231.2C309.3 231.1 311.8 231.2 315.0 231.0C318.2 230.8 322.5 230.5 325.0 230.2C327.5 229.9 327.4 229.8 330.0 229.3C332.6 228.8 337.1 227.9 340.6 227.2C344.1 226.5 347.7 225.7 351.2 225.1C354.7 224.5 359.1 224.0 361.7 223.5C364.3 223.0 365.2 222.5 367.0 221.9C368.8 221.3 370.5 220.5 372.3 219.8C374.1 219.1 375.8 218.3 377.6 217.5C379.4 216.7 381.2 215.9 382.9 215.0C384.6 214.1 386.2 213.3 388.0 212.3C389.8 211.3 391.8 210.3 393.5 209.2C395.2 208.1 396.6 207.0 398.0 205.8C399.4 204.7 400.8 203.4 402.0 202.3C403.2 201.2 404.4 200.2 405.5 199.2C406.6 198.1 407.3 197.2 408.3 196.0C409.3 194.8 410.4 193.4 411.5 192.0C412.6 190.6 413.7 189.0 414.7 187.5C415.7 186.0 416.6 184.4 417.5 182.8C418.4 181.2 419.2 179.6 420.0 178.0C420.8 176.4 421.6 174.8 422.5 173.0C423.4 171.2 424.1 169.6 425.2 167.4C426.3 165.2 428.1 161.7 428.9 160.0C429.7 158.3 429.0 159.8 430.0 157.5C431.0 155.2 433.3 150.2 435.0 146.5C436.7 142.8 438.4 139.0 440.0 135.5C441.6 132.0 443.2 128.2 444.5 125.5C445.8 122.8 446.5 121.0 447.5 119.0C448.5 117.0 449.3 115.1 450.3 113.3C451.3 111.5 452.3 109.6 453.3 108.0C454.3 106.4 455.4 104.6 456.2 103.5C457.0 102.4 457.4 102.1 458.0 101.6C458.6 101.0 459.3 100.5 460.0 100.2C460.7 99.9 461.3 99.7 462.0 99.5C462.7 99.3 463.3 99.2 464.0 99.2C464.7 99.2 465.4 99.4 466.0 99.6C466.6 99.8 467.3 100.1 467.9 100.6C468.5 101.1 469.1 101.8 469.8 102.6C470.5 103.4 471.2 104.5 471.8 105.5C472.4 106.5 473.1 107.6 473.7 108.7C474.3 109.8 474.9 110.7 475.7 112.3C476.5 113.9 477.5 116.4 478.5 118.5C479.5 120.6 480.4 122.3 481.6 125.0C482.9 127.7 484.3 130.8 486.0 134.4C487.7 138.0 489.8 142.8 491.6 146.7C493.5 150.6 495.2 154.4 497.1 157.8C499.0 161.2 500.9 164.4 502.7 167.2C504.5 170.0 506.4 172.2 508.2 174.4C510.0 176.6 511.9 178.8 513.8 180.6C515.6 182.4 517.4 183.6 519.3 185.0C521.1 186.4 523.0 187.8 524.9 188.9C526.8 190.0 528.7 190.9 530.4 191.7C532.1 192.5 533.4 193.2 535.0 193.8C536.6 194.4 538.3 195.1 540.0 195.5C541.7 195.9 543.3 196.2 545.0 196.5C546.7 196.8 547.9 196.8 550.0 197.0C552.1 197.2 555.3 197.5 557.5 197.5C559.7 197.5 560.9 197.3 563.0 197.0C565.1 196.7 567.7 195.9 570.0 195.8C572.3 195.7 574.5 196.2 577.0 196.5C579.5 196.8 582.5 197.2 585.0 197.5C587.5 197.8 589.5 197.8 592.0 198.1C594.5 198.3 597.5 198.6 600.0 199.0C602.5 199.4 604.5 199.8 607.0 200.4C609.5 201.0 612.8 201.9 615.0 202.5C617.2 203.1 618.3 203.6 620.0 204.2C621.7 204.8 623.2 205.3 625.0 206.2C626.8 207.0 628.9 208.2 631.0 209.3C633.1 210.4 635.3 211.5 637.5 212.5C639.7 213.5 641.9 214.6 644.0 215.5C646.1 216.4 648.0 217.4 650.0 218.2C652.0 219.0 653.9 219.8 656.0 220.5C658.1 221.2 660.3 221.9 662.5 222.5C664.7 223.1 666.9 223.8 669.0 224.3C671.1 224.9 673.0 225.4 675.0 225.8C677.0 226.2 678.9 226.5 681.0 226.8C683.1 227.1 685.3 227.3 687.5 227.5C689.7 227.7 691.9 227.9 694.0 228.1C696.1 228.3 698.0 228.5 700.0 228.8C702.0 229.1 703.9 229.6 706.0 230.0C708.1 230.4 710.5 230.9 712.5 231.2C714.5 231.4 715.9 231.5 718.0 231.5C720.1 231.5 723.0 231.4 725.0 231.2C727.0 231.0 728.3 230.7 730.0 230.5C731.7 230.3 733.2 230.0 735.0 230.0C736.8 230.0 738.9 230.2 741.0 230.4C743.1 230.6 745.2 231.0 747.5 231.0C749.8 231.0 752.5 230.8 755.0 230.6C757.5 230.4 760.3 230.0 762.5 230.0C764.7 230.0 765.9 230.2 768.0 230.4C770.1 230.6 772.5 230.6 775.0 231.0C777.5 231.4 780.5 232.6 783.0 232.9C785.5 233.2 787.5 232.9 790.0 233.0C792.5 233.1 795.4 233.4 798.0 233.6C800.6 233.8 802.9 233.9 805.7 233.9C808.5 233.9 811.8 233.9 815.0 233.8C818.2 233.7 821.1 233.5 825.0 233.3C828.9 233.2 834.2 232.9 838.4 232.9C842.6 232.9 846.4 233.2 850.0 233.5C853.6 233.8 856.9 234.2 860.0 234.4C863.1 234.6 865.2 234.9 868.5 234.9C871.8 234.9 876.4 234.6 880.0 234.4C883.6 234.2 886.9 234.0 890.0 233.8C893.1 233.6 895.7 233.5 898.7 233.4C901.7 233.3 904.6 233.4 908.0 233.5C911.4 233.6 916.0 233.7 918.8 233.9C921.6 234.1 922.9 234.5 925.0 234.8C927.1 235.1 929.5 235.7 931.3 235.9C933.1 236.1 934.3 236.0 936.0 235.9C937.7 235.8 939.7 235.7 941.4 235.4C943.1 235.2 944.3 234.7 946.0 234.4C947.7 234.1 949.6 233.5 951.4 233.4C953.2 233.3 954.9 233.6 957.0 233.8C959.1 234.0 961.8 234.5 964.0 234.6C966.2 234.7 967.9 234.4 970.0 234.2C972.1 234.0 974.3 233.5 976.5 233.4C978.7 233.3 980.9 233.6 983.0 233.8C985.1 234.0 986.9 234.3 989.1 234.4C991.3 234.5 993.6 234.3 996.0 234.2C998.4 234.1 1002.2 233.9 1003.5 233.9"/>
<path stroke="#ff0000" d="M57.5 233.8C60.4 233.7 67.9 233.4 75.0 233.2C82.1 233.0 91.7 232.5 100.0 232.5C108.3 232.5 116.7 232.9 125.0 233.0C133.3 233.1 141.7 233.1 150.0 233.2C158.3 233.2 166.7 233.3 175.0 233.3C183.3 233.3 191.7 233.3 200.0 233.2C208.3 233.1 216.7 233.0 225.0 232.9C233.3 232.8 243.8 232.7 250.0 232.5C256.2 232.3 257.8 232.2 262.0 232.0C266.2 231.8 270.3 231.5 275.0 231.2C279.7 230.9 284.8 230.5 290.0 230.3C295.2 230.1 301.8 230.4 306.0 230.2C310.2 230.0 311.8 229.6 315.0 229.2C318.2 228.8 322.5 228.2 325.0 227.8C327.5 227.4 327.4 227.5 330.0 226.8C332.6 226.1 337.1 224.6 340.6 223.6C344.1 222.6 348.2 221.9 351.2 220.8C354.2 219.7 356.1 218.8 358.6 217.1C361.1 215.4 363.7 213.1 366.0 210.8C368.3 208.5 370.4 205.9 372.3 203.4C374.2 200.9 375.8 198.4 377.6 196.0C379.4 193.6 381.3 190.9 382.9 189.1C384.5 187.2 385.8 185.9 387.1 184.9C388.4 183.9 389.4 183.4 390.5 183.0C391.6 182.6 392.5 182.4 393.5 182.4C394.5 182.4 395.4 182.6 396.5 182.8C397.6 183.0 398.7 183.4 399.8 183.8C400.9 184.2 401.9 184.7 403.0 185.0C404.1 185.3 405.1 185.9 406.2 185.9C407.3 185.9 408.4 185.5 409.5 185.0C410.6 184.5 411.6 183.6 412.5 182.8C413.4 182.0 414.1 181.2 415.0 180.0C415.9 178.8 416.8 177.7 417.8 175.9C418.8 174.1 419.8 171.7 421.0 169.0C422.2 166.3 423.7 163.7 425.0 160.0C426.3 156.3 427.7 151.7 429.0 147.0C430.3 142.3 431.6 137.3 432.7 132.0C433.8 126.7 434.5 120.7 435.5 115.0C436.5 109.3 437.6 103.4 438.6 97.7C439.6 92.0 440.5 86.5 441.5 81.0C442.5 75.5 443.5 70.0 444.5 64.5C445.5 59.0 446.5 53.2 447.5 48.0C448.5 42.8 449.3 37.7 450.3 33.2C451.3 28.7 452.3 24.6 453.3 21.0C454.3 17.4 455.4 14.0 456.2 11.7C457.0 9.4 457.4 8.4 458.0 7.0C458.6 5.6 459.3 4.3 460.0 3.4C460.7 2.5 461.3 1.8 462.0 1.4C462.7 1.0 463.3 0.8 464.0 0.8C464.7 0.8 465.4 1.0 466.0 1.4C466.6 1.8 467.3 2.4 467.9 3.2C468.5 4.0 469.1 5.0 469.8 6.3C470.5 7.5 471.2 8.9 471.8 10.7C472.4 12.5 473.1 14.6 473.7 17.0C474.3 19.4 475.0 22.6 475.7 25.4C476.4 28.2 477.0 31.1 477.7 34.0C478.4 36.9 479.0 39.8 479.6 43.0C480.2 46.2 480.9 49.9 481.5 53.5C482.1 57.1 482.8 60.8 483.5 64.5C484.2 68.2 484.9 72.1 485.5 76.0C486.1 79.9 486.6 83.0 487.4 87.9C488.2 92.8 489.4 99.3 490.4 105.5C491.4 111.7 492.6 120.8 493.3 125.0C494.0 129.2 493.7 127.5 494.3 130.5C494.9 133.6 496.1 138.9 497.1 143.3C498.1 147.7 499.3 152.4 500.4 156.7C501.5 161.0 502.8 165.4 503.8 168.9C504.8 172.4 505.8 175.1 506.6 177.6C507.4 180.1 507.9 181.3 508.8 184.0C509.7 186.7 510.9 190.6 512.1 193.6C513.3 196.6 514.6 199.3 516.0 201.8C517.4 204.3 518.9 206.6 520.4 208.6C521.9 210.6 523.3 212.1 524.9 213.6C526.5 215.1 528.3 216.2 530.0 217.3C531.7 218.4 533.3 219.5 535.0 220.3C536.7 221.1 538.3 221.8 540.0 222.3C541.7 222.9 543.3 223.2 545.0 223.6C546.7 224.0 548.0 224.6 550.0 224.8C552.0 225.0 554.5 224.7 557.0 224.8C559.5 224.9 562.8 225.2 565.0 225.5C567.2 225.8 568.3 226.1 570.0 226.4C571.7 226.7 573.2 227.1 575.0 227.5C576.8 227.9 578.9 228.5 581.0 228.9C583.1 229.3 585.3 229.7 587.5 230.0C589.7 230.3 591.9 230.7 594.0 230.9C596.1 231.2 597.3 231.3 600.0 231.5C602.7 231.7 606.7 232.0 610.0 232.2C613.3 232.4 615.4 232.6 620.0 232.5C624.6 232.4 630.4 232.0 637.5 231.8C644.6 231.6 654.2 231.3 662.5 231.2C670.8 231.1 680.4 231.3 687.5 231.2C694.6 231.1 700.4 231.0 705.0 230.8C709.6 230.6 711.7 230.4 715.0 230.2C718.3 230.0 722.0 229.8 725.0 229.5C728.0 229.2 730.5 228.9 733.0 228.6C735.5 228.3 738.0 227.9 740.0 227.5C742.0 227.1 743.3 226.8 745.0 226.4C746.7 226.0 748.3 225.5 750.0 225.0C751.7 224.5 753.3 223.9 755.0 223.2C756.7 222.5 758.5 221.6 760.0 220.8C761.5 220.1 762.6 219.5 764.0 218.7C765.4 217.9 767.0 217.2 768.3 216.2C769.6 215.2 770.5 213.9 771.8 212.5C773.0 211.1 774.5 209.3 775.8 207.5C777.0 205.7 778.0 203.8 779.3 201.5C780.5 199.2 782.0 196.5 783.3 193.8C784.5 191.1 785.5 188.4 786.8 185.5C788.0 182.6 789.5 179.5 790.8 176.2C792.1 172.9 793.4 169.4 794.8 165.5C796.2 161.6 797.5 157.5 799.0 153.0C800.5 148.5 802.1 143.5 803.8 138.5C805.5 133.5 807.3 127.8 809.0 122.8C810.7 117.8 812.1 113.1 813.8 108.5C815.5 103.9 817.7 98.5 819.1 95.2C820.5 92.0 821.3 90.8 822.3 89.0C823.3 87.2 824.4 85.7 825.3 84.6C826.2 83.5 826.9 82.9 827.8 82.3C828.6 81.7 829.6 81.3 830.4 81.1C831.1 80.8 831.7 80.8 832.3 80.8C832.9 80.8 833.4 80.7 834.1 80.9C834.9 81.1 835.9 81.5 836.8 82.0C837.6 82.5 838.2 83.1 839.2 83.9C840.2 84.7 841.5 86.0 842.8 87.0C844.0 88.0 845.5 88.9 846.7 89.6C848.0 90.3 849.0 90.8 850.3 91.3C851.5 91.8 853.0 92.3 854.2 92.7C855.5 93.1 856.5 93.4 857.8 93.8C859.1 94.2 860.6 94.7 861.8 95.2C863.0 95.7 863.8 96.2 864.8 96.8C865.8 97.4 866.9 98.0 868.0 98.9C869.1 99.8 870.2 100.7 871.3 102.0C872.3 103.3 873.3 104.8 874.3 106.5C875.3 108.2 876.2 109.9 877.3 112.0C878.3 114.1 879.5 116.6 880.6 119.0C881.7 121.4 882.8 123.8 883.8 126.5C884.8 129.2 885.8 132.3 886.9 135.4C888.0 138.5 889.0 141.7 890.1 145.0C891.2 148.3 892.2 152.0 893.2 155.5C894.2 159.0 895.2 162.4 896.3 166.0C897.3 169.6 898.5 173.5 899.5 176.8C900.5 180.1 901.6 183.1 902.6 186.0C903.6 188.9 904.7 191.9 905.7 194.4C906.7 196.9 907.8 198.9 908.8 201.0C909.8 203.1 910.8 205.1 912.0 207.0C913.2 208.9 914.5 210.8 915.8 212.5C917.1 214.2 918.4 215.7 919.6 217.0C920.9 218.3 922.0 219.3 923.3 220.3C924.5 221.3 925.9 222.1 927.1 222.8C928.4 223.5 929.5 224.0 930.8 224.5C932.0 225.0 933.2 225.4 934.6 225.8C936.0 226.2 937.6 226.5 939.3 226.8C941.0 227.1 942.6 227.4 944.7 227.6C946.8 227.8 949.3 227.9 951.8 228.0C954.3 228.1 957.4 228.1 959.8 228.3C962.2 228.5 963.6 228.8 966.0 229.2C968.4 229.5 971.5 230.1 974.0 230.4C976.5 230.7 978.5 230.9 981.0 231.2C983.5 231.4 986.6 231.7 989.1 231.9C991.6 232.1 993.6 232.1 996.0 232.2C998.4 232.3 1002.2 232.4 1003.5 232.4"/>
<path stroke="#c800c8" d="M57.5 233.8C58.8 233.8 62.1 233.9 65.0 233.8C67.9 233.7 71.3 233.6 75.0 233.0C78.7 232.4 82.8 231.3 87.0 230.5C91.2 229.7 95.8 228.7 100.0 228.0C104.2 227.3 108.5 226.9 112.5 226.6C116.5 226.3 120.2 226.2 124.0 226.0C127.8 225.8 131.8 225.7 135.0 225.4C138.2 225.2 140.5 224.9 143.0 224.5C145.5 224.1 147.2 223.9 150.0 223.0C152.8 222.1 156.7 221.0 160.0 218.8C163.3 216.6 167.5 212.8 170.0 210.0C172.5 207.2 173.3 204.9 175.0 202.0C176.7 199.1 178.5 195.4 180.0 192.5C181.5 189.6 182.8 187.0 184.0 184.5C185.2 182.0 186.5 179.4 187.5 177.5C188.5 175.6 189.2 174.2 190.0 173.0C190.8 171.8 191.7 170.8 192.5 170.0C193.3 169.2 194.2 168.7 195.0 168.3C195.8 167.9 196.7 167.8 197.5 167.8C198.3 167.8 199.2 168.0 200.0 168.4C200.8 168.8 201.7 169.2 202.5 170.0C203.3 170.8 204.2 172.0 205.0 173.5C205.8 175.0 206.5 176.4 207.5 178.8C208.5 181.2 209.8 184.9 211.0 188.0C212.2 191.1 213.8 194.7 215.0 197.5C216.2 200.3 217.2 202.7 218.5 205.0C219.8 207.3 221.2 209.4 222.5 211.2C223.8 213.0 224.8 214.4 226.0 215.8C227.2 217.2 228.5 218.5 230.0 219.5C231.5 220.5 233.3 221.4 235.0 222.0C236.7 222.6 238.3 223.0 240.0 223.2C241.7 223.4 243.3 223.4 245.0 223.4C246.7 223.4 248.2 223.3 250.0 223.0C251.8 222.7 253.9 222.1 256.0 221.6C258.1 221.1 260.3 220.6 262.5 220.0C264.7 219.4 266.9 218.7 269.0 218.3C271.1 217.9 273.2 217.6 275.0 217.5C276.8 217.4 278.3 217.7 280.0 218.0C281.7 218.3 283.3 218.8 285.0 219.5C286.7 220.2 288.3 221.1 290.0 222.0C291.7 222.9 293.3 224.1 295.0 225.0C296.7 225.9 298.2 226.5 300.0 227.2C301.8 227.9 304.0 228.7 306.0 229.3C308.0 229.9 309.7 230.4 312.0 230.7C314.3 231.0 316.2 231.1 320.0 231.2C323.8 231.3 330.0 231.3 335.0 231.3C340.0 231.3 345.8 231.4 350.0 231.2C354.2 231.0 356.7 230.5 360.0 230.0C363.3 229.5 366.7 228.6 370.0 228.0C373.3 227.4 377.1 226.6 380.0 226.2C382.9 225.8 385.2 225.6 387.5 225.5C389.8 225.4 391.9 225.4 394.0 225.5C396.1 225.6 398.0 225.8 400.0 225.8C402.0 225.8 403.9 225.7 406.0 225.6C408.1 225.5 410.3 225.3 412.5 225.0C414.7 224.7 416.9 224.1 419.0 223.5C421.1 222.9 423.2 221.9 425.0 221.2C426.8 220.4 428.3 219.8 430.0 219.0C431.7 218.2 433.3 217.4 435.0 216.2C436.7 215.0 438.3 213.7 440.0 212.0C441.7 210.3 443.5 208.2 445.0 206.2C446.5 204.2 447.8 202.3 449.0 200.0C450.2 197.7 451.3 195.3 452.5 192.5C453.7 189.7 454.8 186.6 456.0 183.0C457.2 179.4 458.8 175.5 460.0 171.2C461.2 166.9 462.2 162.2 463.5 157.0C464.8 151.8 466.1 145.3 467.5 140.0C468.9 134.7 470.4 130.1 471.8 125.0C473.2 119.9 474.4 114.0 475.7 109.4C477.0 104.9 478.3 100.9 479.6 97.7C480.9 94.5 482.4 91.7 483.5 90.2C484.6 88.7 485.4 88.6 486.4 88.9C487.4 89.2 488.2 89.7 489.4 91.8C490.5 93.9 492.0 97.7 493.3 101.6C494.6 105.5 496.2 111.3 497.2 115.2C498.2 119.1 498.9 122.5 499.4 125.0C499.9 127.5 499.8 127.3 500.4 130.0C500.9 132.7 501.9 137.4 502.7 141.1C503.5 144.8 504.5 148.5 505.4 152.2C506.3 155.9 507.3 159.6 508.2 163.3C509.1 167.0 510.2 171.1 511.0 174.4C511.8 177.7 512.5 180.4 513.2 183.0C513.9 185.6 514.6 187.7 515.4 190.0C516.2 192.3 517.2 194.6 518.2 196.9C519.2 199.2 520.3 201.4 521.6 203.6C522.9 205.8 524.6 208.4 526.0 210.3C527.4 212.2 528.5 213.4 530.0 215.0C531.5 216.6 533.3 218.7 535.0 220.0C536.7 221.3 538.3 222.2 540.0 223.0C541.7 223.8 543.3 224.5 545.0 225.0C546.7 225.5 547.5 225.6 550.0 226.2C552.5 226.8 555.8 228.0 560.0 228.8C564.2 229.6 568.3 230.3 575.0 230.8C581.7 231.3 591.7 231.7 600.0 232.0C608.3 232.3 616.7 232.3 625.0 232.5C633.3 232.7 637.5 232.9 650.0 233.0C662.5 233.1 675.0 233.0 700.0 233.0C725.0 233.0 766.7 233.1 800.0 233.1C833.3 233.1 866.1 233.1 900.0 233.1C933.9 233.1 986.2 233.1 1003.5 233.1"/>
<path stroke="#0000ff" d="M112.4 38.1H134.4"/>
<path stroke="#ff0000" d="M112.4 61.9H134.4"/>
<path stroke="#c800c8" d="M112.4 92.4H134.4"/>
<path stroke="#de7d00" d="M112.4 120.7H134.4"/>
</svg>
<div class="lg" style="top:26.2px">o-phenylenediamine</div>
<div class="lg" style="top:54.5px">benzil</div>
<div class="lg" style="top:83.6px">2.3-diphenylquinoxaline</div>
<div class="lg" style="top:111.8px">PMMA</div>
<div class="t yt" style="top:690.1px">0</div>
<div class="t yt" style="top:614.9px">10</div>
<div class="t yt" style="top:539.6px">20</div>
<div class="t yt" style="top:464.4px">30</div>
<div class="t yt" style="top:389.1px">40</div>
<div class="t yt" style="top:313.9px">50</div>
<div class="t yt" style="top:238.6px">60</div>

<div class="t xt" style="left:78.1px;top:706.9px">1520</div>
<div class="t xt" style="left:177.6px;top:706.9px">1540</div>
<div class="t xt" style="left:277.1px;top:706.9px">1560</div>
<div class="t xt" style="left:376.6px;top:706.9px">1580</div>
<div class="t xt" style="left:476.0px;top:706.9px">1600</div>
<div class="t xt" style="left:575.5px;top:706.9px">1620</div>
<div class="t xt" style="left:675.0px;top:706.9px">1640</div>
<div class="t xt" style="left:774.5px;top:706.9px">1660</div>
<div class="t xt" style="left:873.9px;top:706.9px">1680</div>
<div class="t xt" style="left:973.4px;top:706.9px">1700</div>

<div class="ax" id="xl" style="left:428px;top:732.2px">Wavenumber (cm<span style="font-size:13px;position:relative;top:-12px;left:-0.3px;line-height:0;margin-right:1.5px">-1</span>)</div>
<div class="ax" id="yl" style="left:-66.6px;top:460.6px;width:152px;text-align:center;transform:rotate(-90deg)">Time (minutes)</div>
</div></body></html>
